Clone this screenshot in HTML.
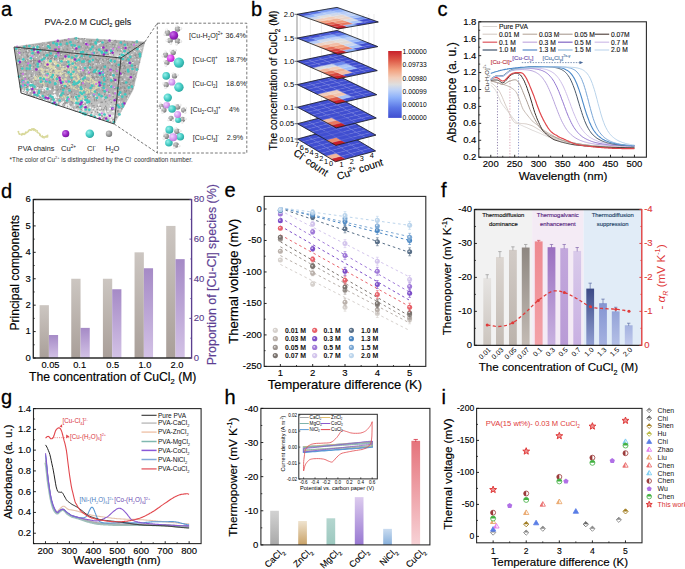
<!DOCTYPE html>
<html><head><meta charset="utf-8"><title>figure</title>
<style>
html,body{margin:0;padding:0;background:#fff;}
body{width:685px;height:569px;overflow:hidden;}
svg{display:block;font-family:"Liberation Sans", sans-serif;}
</style></head>
<body><svg width="685" height="569" viewBox="0 0 685 569">
<rect x="0" y="0" width="685" height="569" fill="#fff"/>
<text x="1.00" y="15.80" font-size="20" stroke="#000" stroke-width="0.28"><tspan>a</tspan></text>
<text x="251.00" y="15.60" font-size="20" stroke="#000" stroke-width="0.28"><tspan>b</tspan></text>
<text x="437.50" y="15.60" font-size="20" stroke="#000" stroke-width="0.28"><tspan>c</tspan></text>
<text x="1.00" y="197.90" font-size="20" stroke="#000" stroke-width="0.28"><tspan>d</tspan></text>
<text x="224.50" y="197.40" font-size="20" stroke="#000" stroke-width="0.28"><tspan>e</tspan></text>
<text x="441.00" y="197.40" font-size="20" stroke="#000" stroke-width="0.28"><tspan>f</tspan></text>
<text x="1.00" y="404.30" font-size="20" stroke="#000" stroke-width="0.28"><tspan>g</tspan></text>
<text x="224.50" y="404.30" font-size="20" stroke="#000" stroke-width="0.28"><tspan>h</tspan></text>
<text x="441.50" y="404.30" font-size="20" stroke="#000" stroke-width="0.28"><tspan>i</tspan></text>
<text x="44.40" y="24.60" font-size="8.95" fill="#222" stroke="#222" stroke-width="0.13"><tspan>PVA-2.0 M CuCl</tspan><tspan dy="2.51" font-size="5.55">2</tspan><tspan dy="-2.51"> gels</tspan></text>
<defs><linearGradient id="boxg" x1="0" y1="0" x2="0.25" y2="1"><stop offset="0" stop-color="#b0b0b0"/><stop offset="0.72" stop-color="#adadad"/><stop offset="1" stop-color="#d0d0d0"/></linearGradient><radialGradient id="sCy" cx="0.35" cy="0.35" r="0.7"><stop offset="0" stop-color="#9af0ea"/><stop offset="0.55" stop-color="#47cdc6"/><stop offset="1" stop-color="#2aa6a0"/></radialGradient><radialGradient id="sPu" cx="0.35" cy="0.35" r="0.7"><stop offset="0" stop-color="#c870e8"/><stop offset="0.6" stop-color="#9a22c4"/><stop offset="1" stop-color="#741a98"/></radialGradient><radialGradient id="sMa" cx="0.35" cy="0.35" r="0.7"><stop offset="0" stop-color="#f3a0ff"/><stop offset="0.6" stop-color="#dc40ec"/><stop offset="1" stop-color="#b028c0"/></radialGradient><radialGradient id="sLa" cx="0.35" cy="0.35" r="0.7"><stop offset="0" stop-color="#f4d8ff"/><stop offset="0.6" stop-color="#d69af0"/><stop offset="1" stop-color="#b878d4"/></radialGradient><radialGradient id="sGr" cx="0.35" cy="0.35" r="0.7"><stop offset="0" stop-color="#d0d0d0"/><stop offset="0.6" stop-color="#9a9a9a"/><stop offset="1" stop-color="#777"/></radialGradient><radialGradient id="sWh" cx="0.35" cy="0.35" r="0.7"><stop offset="0" stop-color="#ffffff"/><stop offset="1" stop-color="#d8d8d8"/></radialGradient></defs>
<path d="M14.00,47.00 L74.00,38.00 L144.80,42.00 L121.00,58.00 Z" fill="url(#boxg)"/>
<path d="M14.00,47.00 L121.00,58.00 L114.20,124.00 L21.00,93.00 Z" fill="url(#boxg)"/>
<path d="M121.00,58.00 L144.80,42.00 L133.00,90.00 L114.20,124.00 Z" fill="url(#boxg)"/>
<g fill="#f0f0f0"><circle cx="56.1" cy="50.3" r="0.7"/><circle cx="99.6" cy="43.4" r="0.7"/><circle cx="84.3" cy="69.2" r="0.7"/><circle cx="20.7" cy="81.7" r="0.7"/><circle cx="29.5" cy="56.6" r="0.7"/><circle cx="89.8" cy="71.9" r="0.7"/><circle cx="127.2" cy="62.5" r="0.7"/><circle cx="32.2" cy="47.4" r="0.7"/><circle cx="37.0" cy="88.2" r="0.7"/><circle cx="98.0" cy="69.8" r="0.7"/><circle cx="85.9" cy="42.5" r="0.7"/><circle cx="20.9" cy="55.1" r="0.7"/><circle cx="103.5" cy="74.6" r="0.7"/><circle cx="54.8" cy="88.5" r="0.7"/><circle cx="73.3" cy="63.4" r="0.7"/><circle cx="118.7" cy="98.5" r="0.7"/><circle cx="45.5" cy="87.5" r="0.7"/><circle cx="110.0" cy="62.3" r="0.7"/><circle cx="143.4" cy="47.4" r="0.7"/><circle cx="68.6" cy="103.6" r="0.7"/><circle cx="33.2" cy="80.0" r="0.7"/><circle cx="114.7" cy="87.4" r="0.7"/><circle cx="129.4" cy="64.6" r="0.7"/><circle cx="105.5" cy="89.3" r="0.7"/><circle cx="90.1" cy="77.1" r="0.7"/><circle cx="76.1" cy="95.4" r="0.7"/><circle cx="122.3" cy="62.0" r="0.7"/><circle cx="64.3" cy="95.8" r="0.7"/><circle cx="35.4" cy="47.3" r="0.7"/><circle cx="30.2" cy="58.8" r="0.7"/><circle cx="23.7" cy="76.5" r="0.7"/><circle cx="50.0" cy="73.5" r="0.7"/><circle cx="140.4" cy="50.3" r="0.7"/><circle cx="36.4" cy="57.4" r="0.7"/><circle cx="44.0" cy="79.7" r="0.7"/><circle cx="91.4" cy="60.1" r="0.7"/><circle cx="62.1" cy="86.8" r="0.7"/><circle cx="81.6" cy="91.3" r="0.7"/><circle cx="102.9" cy="41.8" r="0.7"/><circle cx="65.2" cy="72.1" r="0.7"/><circle cx="26.8" cy="92.8" r="0.7"/><circle cx="40.8" cy="51.3" r="0.7"/><circle cx="58.2" cy="41.6" r="0.7"/><circle cx="26.5" cy="69.0" r="0.7"/><circle cx="94.7" cy="50.1" r="0.7"/><circle cx="46.6" cy="67.6" r="0.7"/><circle cx="61.4" cy="47.8" r="0.7"/><circle cx="75.0" cy="79.6" r="0.7"/><circle cx="24.4" cy="46.0" r="0.7"/><circle cx="58.6" cy="60.3" r="0.7"/><circle cx="123.2" cy="51.2" r="0.7"/><circle cx="83.3" cy="49.9" r="0.7"/><circle cx="85.2" cy="39.4" r="0.7"/><circle cx="127.8" cy="98.3" r="0.7"/><circle cx="47.7" cy="69.3" r="0.7"/><circle cx="83.8" cy="105.6" r="0.7"/><circle cx="56.8" cy="56.6" r="0.7"/><circle cx="121.8" cy="102.1" r="0.7"/><circle cx="43.2" cy="82.6" r="0.7"/><circle cx="16.7" cy="61.6" r="0.7"/><circle cx="47.5" cy="97.9" r="0.7"/><circle cx="42.3" cy="57.0" r="0.7"/><circle cx="39.2" cy="55.0" r="0.7"/><circle cx="96.0" cy="116.2" r="0.7"/><circle cx="124.8" cy="79.2" r="0.7"/><circle cx="99.8" cy="107.4" r="0.7"/><circle cx="112.8" cy="79.1" r="0.7"/><circle cx="109.4" cy="52.0" r="0.7"/><circle cx="29.9" cy="50.3" r="0.7"/><circle cx="59.6" cy="85.3" r="0.7"/><circle cx="122.9" cy="55.6" r="0.7"/><circle cx="46.5" cy="62.8" r="0.7"/><circle cx="45.0" cy="88.6" r="0.7"/><circle cx="47.5" cy="73.9" r="0.7"/><circle cx="60.1" cy="77.3" r="0.7"/><circle cx="79.7" cy="83.8" r="0.7"/><circle cx="82.6" cy="38.6" r="0.7"/><circle cx="71.5" cy="53.1" r="0.7"/><circle cx="35.9" cy="78.7" r="0.7"/><circle cx="109.5" cy="86.0" r="0.7"/><circle cx="56.4" cy="82.6" r="0.7"/><circle cx="86.9" cy="106.0" r="0.7"/><circle cx="27.1" cy="86.3" r="0.7"/><circle cx="46.0" cy="61.4" r="0.7"/><circle cx="115.7" cy="81.7" r="0.7"/><circle cx="87.7" cy="103.9" r="0.7"/><circle cx="134.4" cy="76.0" r="0.7"/><circle cx="94.5" cy="81.5" r="0.7"/><circle cx="81.1" cy="98.0" r="0.7"/><circle cx="73.2" cy="83.9" r="0.7"/><circle cx="106.0" cy="114.1" r="0.7"/><circle cx="138.3" cy="59.8" r="0.7"/><circle cx="124.7" cy="49.1" r="0.7"/><circle cx="29.2" cy="75.9" r="0.7"/><circle cx="22.6" cy="58.2" r="0.7"/><circle cx="117.3" cy="115.9" r="0.7"/><circle cx="100.8" cy="49.6" r="0.7"/><circle cx="66.0" cy="79.9" r="0.7"/><circle cx="34.5" cy="75.0" r="0.7"/><circle cx="81.6" cy="66.8" r="0.7"/><circle cx="39.0" cy="65.0" r="0.7"/><circle cx="86.7" cy="75.8" r="0.7"/><circle cx="96.0" cy="82.1" r="0.7"/><circle cx="26.9" cy="60.4" r="0.7"/><circle cx="49.0" cy="48.4" r="0.7"/><circle cx="121.9" cy="59.8" r="0.7"/><circle cx="88.9" cy="98.6" r="0.7"/><circle cx="104.5" cy="74.4" r="0.7"/><circle cx="97.4" cy="107.5" r="0.7"/><circle cx="73.4" cy="66.8" r="0.7"/><circle cx="48.6" cy="48.4" r="0.7"/><circle cx="83.1" cy="58.0" r="0.7"/><circle cx="27.6" cy="51.2" r="0.7"/><circle cx="19.7" cy="54.8" r="0.7"/><circle cx="54.5" cy="63.8" r="0.7"/><circle cx="114.0" cy="62.5" r="0.7"/><circle cx="79.5" cy="52.7" r="0.7"/><circle cx="110.5" cy="85.5" r="0.7"/><circle cx="38.2" cy="78.8" r="0.7"/><circle cx="137.3" cy="46.4" r="0.7"/><circle cx="121.9" cy="75.0" r="0.7"/><circle cx="78.8" cy="110.4" r="0.7"/><circle cx="65.3" cy="81.6" r="0.7"/><circle cx="107.0" cy="93.0" r="0.7"/><circle cx="66.8" cy="67.6" r="0.7"/><circle cx="20.2" cy="48.4" r="0.7"/><circle cx="47.0" cy="51.4" r="0.7"/><circle cx="128.8" cy="96.0" r="0.7"/><circle cx="50.5" cy="58.3" r="0.7"/><circle cx="52.0" cy="77.4" r="0.7"/><circle cx="34.0" cy="76.2" r="0.7"/><circle cx="54.2" cy="68.4" r="0.7"/><circle cx="76.1" cy="81.2" r="0.7"/><circle cx="39.7" cy="81.4" r="0.7"/><circle cx="24.9" cy="72.2" r="0.7"/><circle cx="53.5" cy="57.5" r="0.7"/><circle cx="90.9" cy="83.6" r="0.7"/><circle cx="112.8" cy="94.9" r="0.7"/><circle cx="108.2" cy="114.4" r="0.7"/><circle cx="64.8" cy="65.7" r="0.7"/><circle cx="109.3" cy="93.6" r="0.7"/><circle cx="131.6" cy="92.2" r="0.7"/><circle cx="110.6" cy="108.5" r="0.7"/><circle cx="31.5" cy="83.1" r="0.7"/><circle cx="80.1" cy="110.5" r="0.7"/><circle cx="120.0" cy="109.7" r="0.7"/><circle cx="90.7" cy="115.6" r="0.7"/><circle cx="103.8" cy="98.0" r="0.7"/><circle cx="30.7" cy="68.7" r="0.7"/><circle cx="87.3" cy="92.2" r="0.7"/><circle cx="96.3" cy="96.9" r="0.7"/><circle cx="119.1" cy="102.8" r="0.7"/><circle cx="79.9" cy="84.1" r="0.7"/><circle cx="100.7" cy="42.8" r="0.7"/><circle cx="111.0" cy="59.2" r="0.7"/><circle cx="22.9" cy="60.4" r="0.7"/><circle cx="110.0" cy="55.1" r="0.7"/><circle cx="111.4" cy="122.9" r="0.7"/><circle cx="78.7" cy="70.7" r="0.7"/><circle cx="76.7" cy="97.2" r="0.7"/><circle cx="115.0" cy="91.3" r="0.7"/><circle cx="98.5" cy="43.8" r="0.7"/><circle cx="32.6" cy="59.3" r="0.7"/><circle cx="111.8" cy="63.8" r="0.7"/><circle cx="21.1" cy="60.7" r="0.7"/><circle cx="102.4" cy="97.9" r="0.7"/><circle cx="102.9" cy="62.6" r="0.7"/><circle cx="81.7" cy="77.9" r="0.7"/><circle cx="75.0" cy="47.4" r="0.7"/><circle cx="131.9" cy="54.5" r="0.7"/><circle cx="72.8" cy="60.6" r="0.7"/><circle cx="41.0" cy="88.2" r="0.7"/><circle cx="31.9" cy="83.1" r="0.7"/><circle cx="139.7" cy="48.7" r="0.7"/><circle cx="122.1" cy="81.8" r="0.7"/><circle cx="77.7" cy="39.2" r="0.7"/><circle cx="73.0" cy="63.6" r="0.7"/><circle cx="31.7" cy="67.3" r="0.7"/><circle cx="124.6" cy="47.6" r="0.7"/><circle cx="132.9" cy="62.5" r="0.7"/><circle cx="62.5" cy="71.6" r="0.7"/><circle cx="61.0" cy="74.7" r="0.7"/><circle cx="46.2" cy="60.4" r="0.7"/><circle cx="81.0" cy="53.7" r="0.7"/><circle cx="96.9" cy="117.4" r="0.7"/><circle cx="108.7" cy="41.4" r="0.7"/><circle cx="110.4" cy="76.7" r="0.7"/><circle cx="113.1" cy="93.7" r="0.7"/><circle cx="136.3" cy="48.2" r="0.7"/><circle cx="75.8" cy="67.2" r="0.7"/><circle cx="52.6" cy="102.0" r="0.7"/><circle cx="100.2" cy="63.5" r="0.7"/><circle cx="87.1" cy="71.7" r="0.7"/><circle cx="35.3" cy="51.2" r="0.7"/><circle cx="79.1" cy="56.4" r="0.7"/><circle cx="72.8" cy="49.3" r="0.7"/><circle cx="38.6" cy="45.0" r="0.7"/><circle cx="58.5" cy="45.0" r="0.7"/><circle cx="44.8" cy="59.7" r="0.7"/><circle cx="88.8" cy="115.1" r="0.7"/><circle cx="112.7" cy="73.3" r="0.7"/><circle cx="68.0" cy="83.1" r="0.7"/><circle cx="63.1" cy="66.8" r="0.7"/><circle cx="21.3" cy="61.4" r="0.7"/><circle cx="141.7" cy="48.1" r="0.7"/><circle cx="80.0" cy="92.4" r="0.7"/><circle cx="127.8" cy="56.0" r="0.7"/><circle cx="49.0" cy="58.9" r="0.7"/><circle cx="66.2" cy="76.2" r="0.7"/><circle cx="132.1" cy="78.6" r="0.7"/><circle cx="27.5" cy="50.6" r="0.7"/><circle cx="82.5" cy="97.0" r="0.7"/><circle cx="99.1" cy="104.3" r="0.7"/><circle cx="73.8" cy="85.5" r="0.7"/><circle cx="98.9" cy="63.7" r="0.7"/><circle cx="30.0" cy="59.2" r="0.7"/><circle cx="97.6" cy="98.5" r="0.7"/><circle cx="82.8" cy="88.3" r="0.7"/><circle cx="64.6" cy="56.7" r="0.7"/><circle cx="53.1" cy="77.5" r="0.7"/><circle cx="130.5" cy="78.8" r="0.7"/><circle cx="44.2" cy="58.7" r="0.7"/><circle cx="79.3" cy="96.4" r="0.7"/><circle cx="68.9" cy="59.6" r="0.7"/><circle cx="101.8" cy="118.4" r="0.7"/><circle cx="58.0" cy="74.0" r="0.7"/><circle cx="103.8" cy="54.4" r="0.7"/><circle cx="119.0" cy="102.0" r="0.7"/><circle cx="80.1" cy="55.1" r="0.7"/><circle cx="122.1" cy="57.3" r="0.7"/><circle cx="78.9" cy="53.5" r="0.7"/><circle cx="42.7" cy="73.7" r="0.7"/><circle cx="32.5" cy="71.6" r="0.7"/><circle cx="21.0" cy="71.6" r="0.7"/><circle cx="136.9" cy="66.0" r="0.7"/><circle cx="101.4" cy="70.3" r="0.7"/><circle cx="62.7" cy="66.2" r="0.7"/><circle cx="50.2" cy="67.9" r="0.7"/><circle cx="140.1" cy="47.9" r="0.7"/><circle cx="141.2" cy="55.3" r="0.7"/><circle cx="122.3" cy="75.1" r="0.7"/><circle cx="19.6" cy="78.7" r="0.7"/><circle cx="38.7" cy="69.1" r="0.7"/><circle cx="67.6" cy="108.4" r="0.7"/><circle cx="115.0" cy="40.6" r="0.7"/><circle cx="135.4" cy="59.6" r="0.7"/><circle cx="112.4" cy="116.1" r="0.7"/><circle cx="58.1" cy="61.0" r="0.7"/><circle cx="47.9" cy="100.1" r="0.7"/><circle cx="55.1" cy="61.3" r="0.7"/><circle cx="44.1" cy="78.8" r="0.7"/><circle cx="64.4" cy="59.1" r="0.7"/><circle cx="70.2" cy="80.4" r="0.7"/><circle cx="136.4" cy="53.1" r="0.7"/><circle cx="119.7" cy="102.0" r="0.7"/><circle cx="122.4" cy="105.0" r="0.7"/><circle cx="93.8" cy="65.8" r="0.7"/><circle cx="55.5" cy="68.8" r="0.7"/><circle cx="117.0" cy="44.0" r="0.7"/><circle cx="45.9" cy="42.7" r="0.7"/><circle cx="48.2" cy="44.4" r="0.7"/><circle cx="25.8" cy="80.9" r="0.7"/><circle cx="107.4" cy="76.3" r="0.7"/><circle cx="44.1" cy="73.7" r="0.7"/><circle cx="95.5" cy="96.3" r="0.7"/><circle cx="112.5" cy="111.5" r="0.7"/><circle cx="101.4" cy="47.7" r="0.7"/><circle cx="124.8" cy="62.9" r="0.7"/><circle cx="88.4" cy="69.8" r="0.7"/><circle cx="111.2" cy="54.5" r="0.7"/><circle cx="45.9" cy="58.6" r="0.7"/><circle cx="89.9" cy="65.7" r="0.7"/><circle cx="80.5" cy="57.4" r="0.7"/><circle cx="120.5" cy="94.5" r="0.7"/><circle cx="76.1" cy="109.1" r="0.7"/><circle cx="18.4" cy="62.8" r="0.7"/><circle cx="28.9" cy="53.7" r="0.7"/><circle cx="136.7" cy="69.8" r="0.7"/><circle cx="128.2" cy="76.5" r="0.7"/><circle cx="138.8" cy="46.3" r="0.7"/><circle cx="92.3" cy="91.6" r="0.7"/><circle cx="41.9" cy="69.4" r="0.7"/><circle cx="31.8" cy="54.9" r="0.7"/><circle cx="46.9" cy="89.7" r="0.7"/><circle cx="99.7" cy="54.9" r="0.7"/><circle cx="103.2" cy="53.3" r="0.7"/><circle cx="54.5" cy="54.9" r="0.7"/><circle cx="118.8" cy="85.2" r="0.7"/><circle cx="21.4" cy="45.9" r="0.7"/><circle cx="65.6" cy="85.4" r="0.7"/><circle cx="98.0" cy="45.0" r="0.7"/><circle cx="67.5" cy="61.9" r="0.7"/><circle cx="54.5" cy="86.9" r="0.7"/><circle cx="60.5" cy="73.6" r="0.7"/><circle cx="61.4" cy="54.4" r="0.7"/><circle cx="109.8" cy="54.9" r="0.7"/><circle cx="74.3" cy="51.3" r="0.7"/><circle cx="98.2" cy="117.1" r="0.7"/><circle cx="24.8" cy="91.8" r="0.7"/><circle cx="62.3" cy="81.4" r="0.7"/><circle cx="32.4" cy="61.9" r="0.7"/><circle cx="27.5" cy="80.2" r="0.7"/><circle cx="39.2" cy="48.1" r="0.7"/><circle cx="77.2" cy="41.7" r="0.7"/><circle cx="136.2" cy="71.1" r="0.7"/><circle cx="122.7" cy="51.1" r="0.7"/><circle cx="117.5" cy="56.5" r="0.7"/><circle cx="123.3" cy="53.1" r="0.7"/><circle cx="42.0" cy="72.2" r="0.7"/><circle cx="81.9" cy="70.8" r="0.7"/><circle cx="29.4" cy="58.7" r="0.7"/><circle cx="109.4" cy="116.0" r="0.7"/><circle cx="113.7" cy="40.4" r="0.7"/><circle cx="124.5" cy="47.4" r="0.7"/><circle cx="92.7" cy="85.4" r="0.7"/><circle cx="96.4" cy="63.9" r="0.7"/><circle cx="68.9" cy="88.3" r="0.7"/><circle cx="69.6" cy="95.0" r="0.7"/><circle cx="72.4" cy="75.6" r="0.7"/><circle cx="78.1" cy="57.7" r="0.7"/><circle cx="114.6" cy="105.6" r="0.7"/><circle cx="74.0" cy="52.8" r="0.7"/><circle cx="75.9" cy="46.4" r="0.7"/><circle cx="30.1" cy="74.9" r="0.7"/><circle cx="25.2" cy="75.9" r="0.7"/><circle cx="80.9" cy="40.6" r="0.7"/><circle cx="97.6" cy="44.2" r="0.7"/><circle cx="110.6" cy="105.4" r="0.7"/><circle cx="81.0" cy="41.8" r="0.7"/><circle cx="80.0" cy="70.3" r="0.7"/><circle cx="139.5" cy="49.0" r="0.7"/><circle cx="110.4" cy="108.7" r="0.7"/><circle cx="134.8" cy="51.5" r="0.7"/><circle cx="21.7" cy="67.9" r="0.7"/><circle cx="113.6" cy="51.0" r="0.7"/><circle cx="132.2" cy="61.2" r="0.7"/><circle cx="121.5" cy="49.6" r="0.7"/><circle cx="40.7" cy="60.1" r="0.7"/><circle cx="80.3" cy="65.1" r="0.7"/><circle cx="17.9" cy="53.0" r="0.7"/><circle cx="103.4" cy="115.8" r="0.7"/><circle cx="28.3" cy="83.7" r="0.7"/><circle cx="97.6" cy="68.7" r="0.7"/><circle cx="129.1" cy="85.9" r="0.7"/><circle cx="90.1" cy="114.7" r="0.7"/><circle cx="96.8" cy="71.7" r="0.7"/><circle cx="119.1" cy="60.3" r="0.7"/><circle cx="60.9" cy="104.3" r="0.7"/><circle cx="71.8" cy="52.6" r="0.7"/><circle cx="111.9" cy="41.2" r="0.7"/><circle cx="122.0" cy="59.3" r="0.7"/><circle cx="90.9" cy="95.4" r="0.7"/><circle cx="17.5" cy="50.1" r="0.7"/><circle cx="94.9" cy="75.0" r="0.7"/><circle cx="30.6" cy="57.0" r="0.7"/><circle cx="27.1" cy="68.4" r="0.7"/><circle cx="42.8" cy="88.4" r="0.7"/><circle cx="91.3" cy="55.0" r="0.7"/><circle cx="96.0" cy="78.8" r="0.7"/><circle cx="45.4" cy="50.1" r="0.7"/><circle cx="25.7" cy="93.2" r="0.7"/><circle cx="66.5" cy="60.3" r="0.7"/><circle cx="87.8" cy="67.8" r="0.7"/><circle cx="98.9" cy="76.1" r="0.7"/><circle cx="67.0" cy="57.9" r="0.7"/><circle cx="138.1" cy="49.5" r="0.7"/><circle cx="39.5" cy="90.5" r="0.7"/><circle cx="80.4" cy="93.5" r="0.7"/><circle cx="121.2" cy="52.4" r="0.7"/><circle cx="54.1" cy="63.4" r="0.7"/><circle cx="117.1" cy="100.0" r="0.7"/><circle cx="112.1" cy="77.9" r="0.7"/><circle cx="111.7" cy="76.8" r="0.7"/><circle cx="43.1" cy="46.3" r="0.7"/><circle cx="57.6" cy="103.0" r="0.7"/><circle cx="105.4" cy="111.4" r="0.7"/><circle cx="107.7" cy="60.4" r="0.7"/><circle cx="86.7" cy="75.4" r="0.7"/><circle cx="117.9" cy="83.0" r="0.7"/><circle cx="48.3" cy="93.5" r="0.7"/></g>
<g fill="#8e8e8e"><circle cx="47.6" cy="57.8" r="0.75"/><circle cx="111.9" cy="120.1" r="0.75"/><circle cx="112.2" cy="65.8" r="0.75"/><circle cx="130.1" cy="65.9" r="0.75"/><circle cx="96.9" cy="98.0" r="0.75"/><circle cx="75.4" cy="110.9" r="0.75"/><circle cx="105.8" cy="112.5" r="0.75"/><circle cx="71.1" cy="100.8" r="0.75"/><circle cx="88.9" cy="64.1" r="0.75"/><circle cx="41.2" cy="91.8" r="0.75"/><circle cx="58.9" cy="49.5" r="0.75"/><circle cx="105.1" cy="92.8" r="0.75"/><circle cx="105.7" cy="101.8" r="0.75"/><circle cx="21.7" cy="89.0" r="0.75"/><circle cx="27.2" cy="55.1" r="0.75"/><circle cx="97.3" cy="109.6" r="0.75"/><circle cx="97.0" cy="62.3" r="0.75"/><circle cx="26.3" cy="45.6" r="0.75"/><circle cx="113.7" cy="55.0" r="0.75"/><circle cx="55.4" cy="74.3" r="0.75"/><circle cx="50.6" cy="100.0" r="0.75"/><circle cx="61.9" cy="65.2" r="0.75"/><circle cx="126.2" cy="91.4" r="0.75"/><circle cx="71.0" cy="105.0" r="0.75"/><circle cx="59.1" cy="99.0" r="0.75"/><circle cx="84.5" cy="56.1" r="0.75"/><circle cx="127.7" cy="45.0" r="0.75"/><circle cx="122.0" cy="52.0" r="0.75"/><circle cx="114.4" cy="123.1" r="0.75"/><circle cx="78.4" cy="107.1" r="0.75"/><circle cx="37.5" cy="80.5" r="0.75"/><circle cx="50.7" cy="55.9" r="0.75"/><circle cx="106.0" cy="80.9" r="0.75"/><circle cx="27.6" cy="93.0" r="0.75"/><circle cx="105.7" cy="106.3" r="0.75"/><circle cx="96.5" cy="68.3" r="0.75"/><circle cx="66.4" cy="71.7" r="0.75"/><circle cx="131.4" cy="44.6" r="0.75"/><circle cx="40.4" cy="60.2" r="0.75"/><circle cx="132.9" cy="81.1" r="0.75"/><circle cx="44.1" cy="77.6" r="0.75"/><circle cx="83.7" cy="103.4" r="0.75"/><circle cx="113.1" cy="93.9" r="0.75"/><circle cx="59.3" cy="65.7" r="0.75"/><circle cx="101.1" cy="102.3" r="0.75"/><circle cx="35.6" cy="75.6" r="0.75"/><circle cx="115.9" cy="88.0" r="0.75"/><circle cx="29.8" cy="77.7" r="0.75"/><circle cx="130.7" cy="57.9" r="0.75"/><circle cx="38.5" cy="63.5" r="0.75"/><circle cx="106.5" cy="111.2" r="0.75"/><circle cx="33.6" cy="50.7" r="0.75"/><circle cx="45.9" cy="65.7" r="0.75"/><circle cx="82.4" cy="51.2" r="0.75"/><circle cx="56.6" cy="53.7" r="0.75"/><circle cx="26.5" cy="70.8" r="0.75"/><circle cx="110.5" cy="75.3" r="0.75"/><circle cx="39.1" cy="93.1" r="0.75"/><circle cx="27.2" cy="55.2" r="0.75"/><circle cx="64.6" cy="40.0" r="0.75"/><circle cx="66.1" cy="106.6" r="0.75"/><circle cx="105.2" cy="81.0" r="0.75"/><circle cx="97.1" cy="77.8" r="0.75"/><circle cx="31.9" cy="90.1" r="0.75"/><circle cx="66.8" cy="102.2" r="0.75"/><circle cx="133.8" cy="74.8" r="0.75"/><circle cx="89.3" cy="102.9" r="0.75"/><circle cx="69.0" cy="57.1" r="0.75"/><circle cx="109.1" cy="114.4" r="0.75"/><circle cx="115.9" cy="98.6" r="0.75"/><circle cx="126.4" cy="96.8" r="0.75"/><circle cx="98.3" cy="76.9" r="0.75"/><circle cx="54.6" cy="92.3" r="0.75"/><circle cx="26.0" cy="73.9" r="0.75"/><circle cx="117.1" cy="99.8" r="0.75"/><circle cx="96.7" cy="59.0" r="0.75"/><circle cx="69.3" cy="77.1" r="0.75"/><circle cx="95.7" cy="73.0" r="0.75"/><circle cx="102.8" cy="118.9" r="0.75"/><circle cx="37.3" cy="94.6" r="0.75"/><circle cx="116.5" cy="71.2" r="0.75"/><circle cx="26.4" cy="87.6" r="0.75"/><circle cx="85.0" cy="100.1" r="0.75"/><circle cx="81.1" cy="93.3" r="0.75"/><circle cx="123.3" cy="82.9" r="0.75"/><circle cx="40.9" cy="97.2" r="0.75"/><circle cx="65.2" cy="104.1" r="0.75"/><circle cx="60.3" cy="42.0" r="0.75"/><circle cx="49.5" cy="72.2" r="0.75"/><circle cx="68.9" cy="98.4" r="0.75"/><circle cx="59.8" cy="60.3" r="0.75"/><circle cx="65.1" cy="55.7" r="0.75"/><circle cx="120.7" cy="92.8" r="0.75"/><circle cx="75.4" cy="86.5" r="0.75"/><circle cx="60.0" cy="93.2" r="0.75"/><circle cx="121.9" cy="108.8" r="0.75"/><circle cx="75.3" cy="62.9" r="0.75"/><circle cx="85.9" cy="48.0" r="0.75"/><circle cx="123.9" cy="68.2" r="0.75"/><circle cx="126.1" cy="60.5" r="0.75"/><circle cx="63.0" cy="59.3" r="0.75"/><circle cx="69.7" cy="53.4" r="0.75"/><circle cx="50.4" cy="58.6" r="0.75"/><circle cx="53.1" cy="79.2" r="0.75"/><circle cx="70.0" cy="93.1" r="0.75"/><circle cx="100.7" cy="68.9" r="0.75"/><circle cx="100.2" cy="59.0" r="0.75"/><circle cx="26.5" cy="49.6" r="0.75"/><circle cx="59.1" cy="50.4" r="0.75"/><circle cx="93.9" cy="105.8" r="0.75"/><circle cx="101.9" cy="115.7" r="0.75"/><circle cx="117.8" cy="110.8" r="0.75"/><circle cx="39.3" cy="98.0" r="0.75"/><circle cx="83.6" cy="102.3" r="0.75"/><circle cx="86.8" cy="60.3" r="0.75"/><circle cx="44.1" cy="49.3" r="0.75"/><circle cx="78.6" cy="42.1" r="0.75"/><circle cx="75.1" cy="49.7" r="0.75"/><circle cx="78.4" cy="80.8" r="0.75"/><circle cx="84.8" cy="112.9" r="0.75"/><circle cx="75.2" cy="86.5" r="0.75"/><circle cx="101.5" cy="111.0" r="0.75"/><circle cx="62.9" cy="73.9" r="0.75"/><circle cx="140.8" cy="43.6" r="0.75"/><circle cx="97.7" cy="93.0" r="0.75"/><circle cx="103.8" cy="119.0" r="0.75"/><circle cx="80.9" cy="79.7" r="0.75"/><circle cx="108.5" cy="92.0" r="0.75"/><circle cx="61.7" cy="78.8" r="0.75"/><circle cx="82.9" cy="104.8" r="0.75"/><circle cx="41.0" cy="75.3" r="0.75"/><circle cx="69.2" cy="85.8" r="0.75"/><circle cx="123.0" cy="62.8" r="0.75"/><circle cx="123.1" cy="72.5" r="0.75"/><circle cx="80.0" cy="60.9" r="0.75"/><circle cx="100.1" cy="106.7" r="0.75"/><circle cx="57.0" cy="64.9" r="0.75"/><circle cx="52.8" cy="88.6" r="0.75"/><circle cx="97.4" cy="106.0" r="0.75"/><circle cx="130.8" cy="85.0" r="0.75"/><circle cx="19.6" cy="63.4" r="0.75"/><circle cx="100.5" cy="106.4" r="0.75"/><circle cx="95.0" cy="92.2" r="0.75"/><circle cx="105.6" cy="89.5" r="0.75"/><circle cx="103.6" cy="55.7" r="0.75"/><circle cx="101.7" cy="77.3" r="0.75"/><circle cx="114.4" cy="45.9" r="0.75"/><circle cx="116.0" cy="117.4" r="0.75"/><circle cx="100.2" cy="69.5" r="0.75"/><circle cx="122.4" cy="106.2" r="0.75"/><circle cx="87.8" cy="59.7" r="0.75"/><circle cx="53.2" cy="74.1" r="0.75"/><circle cx="55.4" cy="74.9" r="0.75"/><circle cx="20.3" cy="86.9" r="0.75"/><circle cx="18.2" cy="47.5" r="0.75"/><circle cx="120.8" cy="87.6" r="0.75"/><circle cx="135.2" cy="76.3" r="0.75"/><circle cx="67.9" cy="46.0" r="0.75"/><circle cx="98.7" cy="55.7" r="0.75"/><circle cx="108.7" cy="58.3" r="0.75"/><circle cx="110.6" cy="53.5" r="0.75"/><circle cx="107.9" cy="112.3" r="0.75"/><circle cx="110.1" cy="44.4" r="0.75"/><circle cx="96.6" cy="99.4" r="0.75"/><circle cx="121.7" cy="44.0" r="0.75"/><circle cx="54.4" cy="101.2" r="0.75"/><circle cx="77.7" cy="42.3" r="0.75"/><circle cx="61.9" cy="87.6" r="0.75"/><circle cx="71.4" cy="96.6" r="0.75"/><circle cx="61.3" cy="93.8" r="0.75"/><circle cx="96.8" cy="73.8" r="0.75"/><circle cx="64.3" cy="106.2" r="0.75"/><circle cx="88.4" cy="62.7" r="0.75"/><circle cx="106.5" cy="109.8" r="0.75"/><circle cx="57.2" cy="90.3" r="0.75"/><circle cx="93.0" cy="64.2" r="0.75"/><circle cx="63.1" cy="97.3" r="0.75"/><circle cx="93.0" cy="115.9" r="0.75"/><circle cx="120.4" cy="61.9" r="0.75"/><circle cx="69.2" cy="88.6" r="0.75"/><circle cx="89.1" cy="61.1" r="0.75"/><circle cx="104.1" cy="117.4" r="0.75"/><circle cx="59.1" cy="44.5" r="0.75"/><circle cx="86.6" cy="107.2" r="0.75"/><circle cx="136.9" cy="57.6" r="0.75"/><circle cx="93.7" cy="96.6" r="0.75"/><circle cx="74.9" cy="55.2" r="0.75"/><circle cx="118.3" cy="77.5" r="0.75"/><circle cx="115.7" cy="57.5" r="0.75"/><circle cx="90.1" cy="115.9" r="0.75"/><circle cx="130.7" cy="82.9" r="0.75"/><circle cx="76.4" cy="88.9" r="0.75"/><circle cx="38.2" cy="53.9" r="0.75"/><circle cx="61.3" cy="86.7" r="0.75"/><circle cx="66.5" cy="82.5" r="0.75"/><circle cx="27.1" cy="92.7" r="0.75"/><circle cx="117.7" cy="50.7" r="0.75"/><circle cx="92.4" cy="67.4" r="0.75"/><circle cx="82.1" cy="38.8" r="0.75"/><circle cx="128.2" cy="79.8" r="0.75"/><circle cx="88.4" cy="60.0" r="0.75"/><circle cx="116.6" cy="74.5" r="0.75"/><circle cx="39.7" cy="52.9" r="0.75"/><circle cx="87.1" cy="113.6" r="0.75"/><circle cx="134.0" cy="42.6" r="0.75"/><circle cx="92.5" cy="72.0" r="0.75"/><circle cx="47.2" cy="86.7" r="0.75"/><circle cx="102.1" cy="71.6" r="0.75"/><circle cx="72.6" cy="51.1" r="0.75"/><circle cx="47.0" cy="68.0" r="0.75"/><circle cx="124.3" cy="41.1" r="0.75"/><circle cx="117.6" cy="99.4" r="0.75"/><circle cx="20.4" cy="49.7" r="0.75"/><circle cx="113.4" cy="119.7" r="0.75"/><circle cx="103.0" cy="63.3" r="0.75"/><circle cx="91.7" cy="103.7" r="0.75"/><circle cx="27.0" cy="65.5" r="0.75"/><circle cx="47.2" cy="47.9" r="0.75"/><circle cx="77.0" cy="51.8" r="0.75"/><circle cx="44.7" cy="49.6" r="0.75"/><circle cx="108.4" cy="54.2" r="0.75"/><circle cx="31.6" cy="76.4" r="0.75"/><circle cx="125.0" cy="92.3" r="0.75"/><circle cx="73.2" cy="66.9" r="0.75"/><circle cx="122.5" cy="79.0" r="0.75"/><circle cx="96.5" cy="49.6" r="0.75"/><circle cx="107.9" cy="85.7" r="0.75"/><circle cx="48.4" cy="73.2" r="0.75"/><circle cx="33.7" cy="60.9" r="0.75"/><circle cx="124.7" cy="66.4" r="0.75"/><circle cx="35.3" cy="80.2" r="0.75"/><circle cx="101.9" cy="55.6" r="0.75"/><circle cx="76.5" cy="62.2" r="0.75"/><circle cx="47.3" cy="54.7" r="0.75"/><circle cx="26.0" cy="62.5" r="0.75"/><circle cx="132.2" cy="42.1" r="0.75"/><circle cx="109.6" cy="62.8" r="0.75"/><circle cx="120.3" cy="67.0" r="0.75"/><circle cx="123.7" cy="83.3" r="0.75"/><circle cx="37.7" cy="75.3" r="0.75"/><circle cx="134.3" cy="56.2" r="0.75"/><circle cx="89.0" cy="49.2" r="0.75"/><circle cx="107.6" cy="54.3" r="0.75"/><circle cx="93.9" cy="80.6" r="0.75"/><circle cx="49.4" cy="55.1" r="0.75"/><circle cx="94.5" cy="99.3" r="0.75"/><circle cx="120.9" cy="88.3" r="0.75"/><circle cx="110.5" cy="72.9" r="0.75"/><circle cx="109.0" cy="41.9" r="0.75"/><circle cx="120.8" cy="66.5" r="0.75"/><circle cx="78.6" cy="38.4" r="0.75"/><circle cx="134.1" cy="78.9" r="0.75"/><circle cx="129.0" cy="60.4" r="0.75"/><circle cx="61.8" cy="51.4" r="0.75"/><circle cx="62.4" cy="89.4" r="0.75"/><circle cx="72.3" cy="82.4" r="0.75"/><circle cx="55.7" cy="99.6" r="0.75"/><circle cx="63.7" cy="103.1" r="0.75"/><circle cx="81.3" cy="83.7" r="0.75"/><circle cx="84.5" cy="38.8" r="0.75"/><circle cx="37.3" cy="46.0" r="0.75"/><circle cx="106.0" cy="54.2" r="0.75"/><circle cx="89.7" cy="83.0" r="0.75"/><circle cx="106.5" cy="46.1" r="0.75"/><circle cx="19.0" cy="47.8" r="0.75"/><circle cx="78.6" cy="81.1" r="0.75"/><circle cx="50.2" cy="47.7" r="0.75"/><circle cx="67.0" cy="49.1" r="0.75"/><circle cx="91.7" cy="112.8" r="0.75"/><circle cx="32.6" cy="87.4" r="0.75"/><circle cx="112.3" cy="51.5" r="0.75"/><circle cx="64.7" cy="74.0" r="0.75"/><circle cx="124.7" cy="83.3" r="0.75"/><circle cx="116.3" cy="66.8" r="0.75"/><circle cx="45.0" cy="66.5" r="0.75"/><circle cx="20.1" cy="82.5" r="0.75"/><circle cx="46.2" cy="74.1" r="0.75"/><circle cx="97.1" cy="69.1" r="0.75"/><circle cx="83.6" cy="43.1" r="0.75"/><circle cx="70.6" cy="81.4" r="0.75"/><circle cx="15.8" cy="49.3" r="0.75"/><circle cx="98.3" cy="60.4" r="0.75"/><circle cx="103.2" cy="61.1" r="0.75"/><circle cx="95.6" cy="59.1" r="0.75"/><circle cx="82.2" cy="75.2" r="0.75"/><circle cx="139.5" cy="62.3" r="0.75"/><circle cx="53.6" cy="94.0" r="0.75"/><circle cx="29.0" cy="89.3" r="0.75"/><circle cx="48.7" cy="78.0" r="0.75"/><circle cx="84.0" cy="50.1" r="0.75"/><circle cx="29.5" cy="48.6" r="0.75"/><circle cx="52.0" cy="72.8" r="0.75"/><circle cx="51.3" cy="58.4" r="0.75"/><circle cx="24.7" cy="85.1" r="0.75"/><circle cx="124.7" cy="90.7" r="0.75"/><circle cx="88.8" cy="94.2" r="0.75"/><circle cx="74.3" cy="85.2" r="0.75"/><circle cx="94.5" cy="78.3" r="0.75"/><circle cx="54.3" cy="58.3" r="0.75"/><circle cx="42.5" cy="82.1" r="0.75"/><circle cx="64.0" cy="88.5" r="0.75"/><circle cx="127.6" cy="58.0" r="0.75"/><circle cx="87.0" cy="80.2" r="0.75"/><circle cx="128.9" cy="75.7" r="0.75"/><circle cx="21.2" cy="71.1" r="0.75"/><circle cx="71.5" cy="101.7" r="0.75"/><circle cx="27.5" cy="56.8" r="0.75"/><circle cx="33.6" cy="66.7" r="0.75"/><circle cx="59.9" cy="96.4" r="0.75"/><circle cx="95.0" cy="111.8" r="0.75"/><circle cx="122.2" cy="82.6" r="0.75"/><circle cx="111.3" cy="102.4" r="0.75"/><circle cx="114.0" cy="78.8" r="0.75"/><circle cx="117.4" cy="99.4" r="0.75"/><circle cx="134.7" cy="48.2" r="0.75"/><circle cx="114.8" cy="88.6" r="0.75"/><circle cx="89.1" cy="73.8" r="0.75"/><circle cx="117.2" cy="113.8" r="0.75"/><circle cx="93.8" cy="70.4" r="0.75"/><circle cx="73.2" cy="77.3" r="0.75"/><circle cx="109.2" cy="62.8" r="0.75"/><circle cx="65.0" cy="85.9" r="0.75"/><circle cx="64.1" cy="65.3" r="0.75"/><circle cx="117.7" cy="111.8" r="0.75"/><circle cx="79.4" cy="76.1" r="0.75"/><circle cx="37.5" cy="63.8" r="0.75"/><circle cx="32.3" cy="87.6" r="0.75"/><circle cx="90.4" cy="44.7" r="0.75"/><circle cx="135.4" cy="65.5" r="0.75"/><circle cx="140.5" cy="55.0" r="0.75"/><circle cx="88.1" cy="80.8" r="0.75"/><circle cx="81.8" cy="82.5" r="0.75"/><circle cx="104.1" cy="71.3" r="0.75"/><circle cx="60.6" cy="89.3" r="0.75"/><circle cx="103.0" cy="83.2" r="0.75"/><circle cx="26.2" cy="69.9" r="0.75"/><circle cx="66.3" cy="86.4" r="0.75"/><circle cx="89.3" cy="114.4" r="0.75"/><circle cx="71.5" cy="92.0" r="0.75"/><circle cx="83.5" cy="108.8" r="0.75"/><circle cx="35.7" cy="65.0" r="0.75"/><circle cx="81.2" cy="46.7" r="0.75"/><circle cx="131.1" cy="74.0" r="0.75"/><circle cx="33.8" cy="62.5" r="0.75"/><circle cx="81.0" cy="81.4" r="0.75"/><circle cx="38.0" cy="53.1" r="0.75"/><circle cx="96.8" cy="90.1" r="0.75"/><circle cx="97.7" cy="40.7" r="0.75"/><circle cx="67.7" cy="106.3" r="0.75"/><circle cx="53.8" cy="97.8" r="0.75"/><circle cx="125.0" cy="88.6" r="0.75"/><circle cx="101.9" cy="54.3" r="0.75"/><circle cx="79.2" cy="85.7" r="0.75"/><circle cx="48.4" cy="93.9" r="0.75"/><circle cx="89.4" cy="73.2" r="0.75"/><circle cx="29.2" cy="50.8" r="0.75"/><circle cx="114.0" cy="46.4" r="0.75"/><circle cx="26.3" cy="52.0" r="0.75"/><circle cx="82.5" cy="109.4" r="0.75"/><circle cx="94.5" cy="108.0" r="0.75"/><circle cx="115.5" cy="65.4" r="0.75"/><circle cx="108.2" cy="68.1" r="0.75"/><circle cx="35.5" cy="60.5" r="0.75"/><circle cx="90.4" cy="67.7" r="0.75"/><circle cx="72.8" cy="70.9" r="0.75"/><circle cx="71.5" cy="91.6" r="0.75"/><circle cx="121.5" cy="63.7" r="0.75"/><circle cx="45.3" cy="71.3" r="0.75"/><circle cx="108.6" cy="56.5" r="0.75"/><circle cx="77.4" cy="106.8" r="0.75"/><circle cx="45.4" cy="52.3" r="0.75"/><circle cx="60.7" cy="53.4" r="0.75"/><circle cx="87.7" cy="47.1" r="0.75"/><circle cx="84.0" cy="70.9" r="0.75"/><circle cx="66.6" cy="42.8" r="0.75"/><circle cx="59.7" cy="58.6" r="0.75"/><circle cx="38.4" cy="62.0" r="0.75"/><circle cx="101.3" cy="67.0" r="0.75"/><circle cx="25.3" cy="60.7" r="0.75"/><circle cx="124.1" cy="48.2" r="0.75"/><circle cx="120.1" cy="51.0" r="0.75"/><circle cx="59.9" cy="100.6" r="0.75"/><circle cx="80.1" cy="57.0" r="0.75"/><circle cx="73.2" cy="48.5" r="0.75"/><circle cx="107.0" cy="59.9" r="0.75"/><circle cx="132.6" cy="88.7" r="0.75"/><circle cx="61.9" cy="58.7" r="0.75"/><circle cx="93.9" cy="55.7" r="0.75"/><circle cx="129.0" cy="47.8" r="0.75"/><circle cx="81.2" cy="84.7" r="0.75"/><circle cx="64.2" cy="94.9" r="0.75"/><circle cx="88.5" cy="64.3" r="0.75"/><circle cx="64.9" cy="44.6" r="0.75"/><circle cx="55.7" cy="95.3" r="0.75"/><circle cx="27.5" cy="86.5" r="0.75"/><circle cx="61.1" cy="81.0" r="0.75"/><circle cx="52.5" cy="42.8" r="0.75"/><circle cx="54.4" cy="56.9" r="0.75"/><circle cx="50.6" cy="72.5" r="0.75"/><circle cx="30.6" cy="61.3" r="0.75"/><circle cx="101.3" cy="67.9" r="0.75"/><circle cx="67.9" cy="95.0" r="0.75"/><circle cx="106.0" cy="58.9" r="0.75"/><circle cx="125.6" cy="68.0" r="0.75"/><circle cx="96.6" cy="53.0" r="0.75"/><circle cx="110.6" cy="99.7" r="0.75"/><circle cx="34.5" cy="54.4" r="0.75"/><circle cx="53.3" cy="70.5" r="0.75"/><circle cx="18.2" cy="64.4" r="0.75"/><circle cx="97.9" cy="52.8" r="0.75"/><circle cx="124.6" cy="87.2" r="0.75"/><circle cx="108.3" cy="59.4" r="0.75"/><circle cx="70.8" cy="97.2" r="0.75"/><circle cx="124.0" cy="105.3" r="0.75"/><circle cx="126.6" cy="90.5" r="0.75"/><circle cx="19.3" cy="58.5" r="0.75"/><circle cx="112.7" cy="44.6" r="0.75"/><circle cx="105.4" cy="71.6" r="0.75"/><circle cx="112.4" cy="109.9" r="0.75"/><circle cx="50.4" cy="44.9" r="0.75"/><circle cx="111.2" cy="110.0" r="0.75"/><circle cx="96.5" cy="76.8" r="0.75"/><circle cx="70.0" cy="82.0" r="0.75"/><circle cx="136.4" cy="48.2" r="0.75"/><circle cx="114.3" cy="40.8" r="0.75"/><circle cx="106.5" cy="107.9" r="0.75"/><circle cx="47.7" cy="85.1" r="0.75"/><circle cx="85.3" cy="59.0" r="0.75"/><circle cx="20.9" cy="68.5" r="0.75"/><circle cx="67.7" cy="54.7" r="0.75"/><circle cx="54.3" cy="49.0" r="0.75"/><circle cx="107.0" cy="96.0" r="0.75"/><circle cx="44.6" cy="58.3" r="0.75"/><circle cx="81.5" cy="76.2" r="0.75"/><circle cx="137.5" cy="67.9" r="0.75"/><circle cx="31.9" cy="86.6" r="0.75"/><circle cx="85.9" cy="103.9" r="0.75"/><circle cx="35.5" cy="95.7" r="0.75"/><circle cx="92.6" cy="77.6" r="0.75"/><circle cx="114.9" cy="110.1" r="0.75"/><circle cx="28.2" cy="62.5" r="0.75"/><circle cx="60.9" cy="55.2" r="0.75"/><circle cx="21.0" cy="61.7" r="0.75"/><circle cx="39.2" cy="98.7" r="0.75"/><circle cx="72.6" cy="46.9" r="0.75"/><circle cx="56.2" cy="78.2" r="0.75"/><circle cx="61.3" cy="51.8" r="0.75"/><circle cx="27.5" cy="80.0" r="0.75"/><circle cx="70.8" cy="53.7" r="0.75"/><circle cx="99.8" cy="59.1" r="0.75"/><circle cx="45.7" cy="49.2" r="0.75"/><circle cx="124.7" cy="63.1" r="0.75"/><circle cx="37.7" cy="93.2" r="0.75"/><circle cx="123.4" cy="102.3" r="0.75"/><circle cx="56.4" cy="53.2" r="0.75"/><circle cx="122.8" cy="65.2" r="0.75"/><circle cx="62.0" cy="85.5" r="0.75"/><circle cx="88.4" cy="92.3" r="0.75"/><circle cx="122.0" cy="99.1" r="0.75"/><circle cx="78.8" cy="81.0" r="0.75"/><circle cx="33.9" cy="63.4" r="0.75"/><circle cx="90.3" cy="44.1" r="0.75"/><circle cx="104.5" cy="51.4" r="0.75"/><circle cx="71.5" cy="53.8" r="0.75"/><circle cx="117.7" cy="74.4" r="0.75"/><circle cx="50.7" cy="95.2" r="0.75"/><circle cx="81.4" cy="74.1" r="0.75"/><circle cx="58.0" cy="75.6" r="0.75"/><circle cx="101.6" cy="109.7" r="0.75"/><circle cx="133.2" cy="51.5" r="0.75"/><circle cx="52.3" cy="76.0" r="0.75"/><circle cx="87.9" cy="67.6" r="0.75"/><circle cx="39.0" cy="44.5" r="0.75"/><circle cx="56.1" cy="77.5" r="0.75"/><circle cx="120.9" cy="42.3" r="0.75"/><circle cx="103.0" cy="90.6" r="0.75"/><circle cx="52.5" cy="87.3" r="0.75"/><circle cx="99.1" cy="63.3" r="0.75"/><circle cx="16.7" cy="53.6" r="0.75"/><circle cx="103.3" cy="76.4" r="0.75"/><circle cx="62.5" cy="88.1" r="0.75"/><circle cx="68.4" cy="83.6" r="0.75"/><circle cx="88.1" cy="71.9" r="0.75"/><circle cx="28.2" cy="52.9" r="0.75"/><circle cx="131.4" cy="85.2" r="0.75"/><circle cx="46.7" cy="45.4" r="0.75"/><circle cx="83.6" cy="59.1" r="0.75"/><circle cx="78.1" cy="85.8" r="0.75"/><circle cx="43.1" cy="87.4" r="0.75"/><circle cx="28.0" cy="82.2" r="0.75"/><circle cx="91.3" cy="44.1" r="0.75"/><circle cx="67.3" cy="43.5" r="0.75"/><circle cx="86.2" cy="99.9" r="0.75"/><circle cx="113.7" cy="47.1" r="0.75"/><circle cx="65.1" cy="52.1" r="0.75"/><circle cx="116.1" cy="49.0" r="0.75"/><circle cx="116.2" cy="42.1" r="0.75"/><circle cx="44.5" cy="69.8" r="0.75"/><circle cx="41.3" cy="63.4" r="0.75"/><circle cx="107.1" cy="74.5" r="0.75"/><circle cx="131.2" cy="91.7" r="0.75"/><circle cx="129.0" cy="86.5" r="0.75"/><circle cx="58.4" cy="104.2" r="0.75"/><circle cx="103.5" cy="109.7" r="0.75"/><circle cx="29.3" cy="69.8" r="0.75"/><circle cx="111.1" cy="120.4" r="0.75"/><circle cx="109.0" cy="40.8" r="0.75"/><circle cx="93.3" cy="45.8" r="0.75"/><circle cx="86.0" cy="107.7" r="0.75"/><circle cx="102.8" cy="59.4" r="0.75"/><circle cx="38.7" cy="76.3" r="0.75"/><circle cx="124.5" cy="88.2" r="0.75"/><circle cx="37.6" cy="85.8" r="0.75"/><circle cx="51.6" cy="97.5" r="0.75"/><circle cx="63.6" cy="49.7" r="0.75"/><circle cx="129.4" cy="84.4" r="0.75"/><circle cx="104.7" cy="108.1" r="0.75"/><circle cx="58.5" cy="50.3" r="0.75"/><circle cx="103.4" cy="71.5" r="0.75"/><circle cx="76.3" cy="50.9" r="0.75"/><circle cx="125.4" cy="71.6" r="0.75"/><circle cx="129.1" cy="90.8" r="0.75"/><circle cx="23.1" cy="66.0" r="0.75"/><circle cx="91.4" cy="40.8" r="0.75"/><circle cx="35.6" cy="68.8" r="0.75"/><circle cx="75.2" cy="87.8" r="0.75"/><circle cx="64.6" cy="68.1" r="0.75"/><circle cx="19.0" cy="49.8" r="0.75"/><circle cx="102.2" cy="61.0" r="0.75"/><circle cx="49.4" cy="81.0" r="0.75"/><circle cx="47.9" cy="87.1" r="0.75"/><circle cx="87.6" cy="104.8" r="0.75"/><circle cx="97.2" cy="92.8" r="0.75"/><circle cx="61.3" cy="61.8" r="0.75"/><circle cx="118.8" cy="113.8" r="0.75"/><circle cx="111.4" cy="81.8" r="0.75"/><circle cx="97.5" cy="67.8" r="0.75"/><circle cx="86.2" cy="72.7" r="0.75"/><circle cx="21.0" cy="66.7" r="0.75"/><circle cx="77.0" cy="69.3" r="0.75"/><circle cx="45.4" cy="57.7" r="0.75"/><circle cx="59.4" cy="48.9" r="0.75"/><circle cx="73.3" cy="76.2" r="0.75"/><circle cx="88.6" cy="63.6" r="0.75"/><circle cx="53.1" cy="64.1" r="0.75"/><circle cx="109.6" cy="85.5" r="0.75"/><circle cx="137.7" cy="67.0" r="0.75"/><circle cx="23.6" cy="52.7" r="0.75"/><circle cx="60.5" cy="105.2" r="0.75"/><circle cx="22.0" cy="79.6" r="0.75"/><circle cx="132.6" cy="61.3" r="0.75"/><circle cx="34.9" cy="60.6" r="0.75"/><circle cx="106.7" cy="56.2" r="0.75"/><circle cx="66.1" cy="54.6" r="0.75"/><circle cx="93.2" cy="113.0" r="0.75"/><circle cx="99.2" cy="54.3" r="0.75"/><circle cx="110.6" cy="121.8" r="0.75"/><circle cx="92.9" cy="44.0" r="0.75"/><circle cx="58.4" cy="49.0" r="0.75"/><circle cx="38.0" cy="84.3" r="0.75"/><circle cx="129.4" cy="93.3" r="0.75"/><circle cx="135.7" cy="55.7" r="0.75"/><circle cx="56.5" cy="102.9" r="0.75"/><circle cx="99.3" cy="72.7" r="0.75"/><circle cx="103.3" cy="66.7" r="0.75"/><circle cx="20.6" cy="73.5" r="0.75"/><circle cx="57.5" cy="80.5" r="0.75"/><circle cx="92.5" cy="59.6" r="0.75"/><circle cx="74.6" cy="38.2" r="0.75"/><circle cx="94.7" cy="100.7" r="0.75"/><circle cx="56.8" cy="45.2" r="0.75"/><circle cx="33.8" cy="49.6" r="0.75"/><circle cx="115.0" cy="44.9" r="0.75"/><circle cx="121.3" cy="74.2" r="0.75"/><circle cx="84.6" cy="88.8" r="0.75"/><circle cx="86.8" cy="94.8" r="0.75"/><circle cx="93.0" cy="66.1" r="0.75"/><circle cx="111.6" cy="59.7" r="0.75"/><circle cx="107.6" cy="104.2" r="0.75"/><circle cx="116.2" cy="64.2" r="0.75"/><circle cx="73.3" cy="61.5" r="0.75"/><circle cx="76.3" cy="94.7" r="0.75"/><circle cx="116.0" cy="68.9" r="0.75"/><circle cx="113.6" cy="44.9" r="0.75"/><circle cx="16.7" cy="48.8" r="0.75"/><circle cx="21.0" cy="81.2" r="0.75"/><circle cx="86.8" cy="53.0" r="0.75"/><circle cx="138.0" cy="69.2" r="0.75"/><circle cx="32.9" cy="52.6" r="0.75"/><circle cx="111.1" cy="118.1" r="0.75"/><circle cx="116.5" cy="58.3" r="0.75"/><circle cx="97.6" cy="67.3" r="0.75"/><circle cx="119.5" cy="77.5" r="0.75"/><circle cx="21.0" cy="86.6" r="0.75"/><circle cx="42.8" cy="59.2" r="0.75"/><circle cx="47.9" cy="75.2" r="0.75"/><circle cx="43.8" cy="54.9" r="0.75"/><circle cx="114.0" cy="93.6" r="0.75"/><circle cx="41.8" cy="87.1" r="0.75"/><circle cx="128.6" cy="60.5" r="0.75"/><circle cx="113.0" cy="109.4" r="0.75"/><circle cx="50.6" cy="66.2" r="0.75"/><circle cx="34.5" cy="97.1" r="0.75"/><circle cx="92.5" cy="76.9" r="0.75"/><circle cx="90.0" cy="114.7" r="0.75"/><circle cx="60.9" cy="105.6" r="0.75"/><circle cx="127.8" cy="53.0" r="0.75"/><circle cx="26.0" cy="51.8" r="0.75"/><circle cx="103.8" cy="44.9" r="0.75"/><circle cx="108.3" cy="114.6" r="0.75"/><circle cx="104.7" cy="40.3" r="0.75"/><circle cx="80.1" cy="57.4" r="0.75"/><circle cx="70.3" cy="46.2" r="0.75"/><circle cx="29.0" cy="79.9" r="0.75"/><circle cx="31.1" cy="74.7" r="0.75"/><circle cx="36.8" cy="97.3" r="0.75"/><circle cx="79.6" cy="46.9" r="0.75"/><circle cx="60.0" cy="80.7" r="0.75"/><circle cx="135.2" cy="67.8" r="0.75"/><circle cx="49.3" cy="52.6" r="0.75"/><circle cx="48.2" cy="43.1" r="0.75"/><circle cx="67.3" cy="86.0" r="0.75"/><circle cx="104.5" cy="94.5" r="0.75"/><circle cx="85.3" cy="85.3" r="0.75"/><circle cx="66.1" cy="65.0" r="0.75"/><circle cx="64.5" cy="70.9" r="0.75"/><circle cx="67.5" cy="49.6" r="0.75"/><circle cx="46.9" cy="90.8" r="0.75"/><circle cx="63.1" cy="58.2" r="0.75"/><circle cx="39.4" cy="47.2" r="0.75"/><circle cx="105.3" cy="65.5" r="0.75"/><circle cx="98.9" cy="85.3" r="0.75"/><circle cx="126.5" cy="81.9" r="0.75"/><circle cx="44.2" cy="92.4" r="0.75"/><circle cx="111.9" cy="70.3" r="0.75"/><circle cx="107.7" cy="71.6" r="0.75"/><circle cx="83.0" cy="90.9" r="0.75"/><circle cx="103.1" cy="65.3" r="0.75"/><circle cx="96.6" cy="84.8" r="0.75"/><circle cx="42.7" cy="90.9" r="0.75"/><circle cx="75.9" cy="100.5" r="0.75"/><circle cx="82.4" cy="78.9" r="0.75"/><circle cx="42.4" cy="49.5" r="0.75"/><circle cx="82.7" cy="83.4" r="0.75"/><circle cx="121.2" cy="58.0" r="0.75"/><circle cx="74.2" cy="93.4" r="0.75"/><circle cx="121.8" cy="47.8" r="0.75"/><circle cx="33.5" cy="59.1" r="0.75"/><circle cx="26.7" cy="68.4" r="0.75"/><circle cx="119.8" cy="82.9" r="0.75"/><circle cx="73.2" cy="44.7" r="0.75"/><circle cx="105.4" cy="76.5" r="0.75"/><circle cx="76.6" cy="107.2" r="0.75"/><circle cx="113.9" cy="50.2" r="0.75"/><circle cx="103.5" cy="69.3" r="0.75"/><circle cx="82.3" cy="57.9" r="0.75"/><circle cx="62.3" cy="66.9" r="0.75"/><circle cx="39.7" cy="87.2" r="0.75"/><circle cx="20.7" cy="52.7" r="0.75"/><circle cx="108.5" cy="61.2" r="0.75"/><circle cx="56.1" cy="58.3" r="0.75"/><circle cx="123.9" cy="45.0" r="0.75"/><circle cx="97.6" cy="112.6" r="0.75"/><circle cx="39.8" cy="74.2" r="0.75"/><circle cx="118.4" cy="91.4" r="0.75"/><circle cx="62.4" cy="40.9" r="0.75"/><circle cx="71.9" cy="69.3" r="0.75"/><circle cx="107.8" cy="63.0" r="0.75"/><circle cx="67.3" cy="94.0" r="0.75"/><circle cx="120.8" cy="68.0" r="0.75"/><circle cx="64.3" cy="87.9" r="0.75"/><circle cx="136.0" cy="53.9" r="0.75"/><circle cx="62.5" cy="95.6" r="0.75"/><circle cx="56.8" cy="43.2" r="0.75"/><circle cx="113.6" cy="70.4" r="0.75"/><circle cx="82.9" cy="80.7" r="0.75"/><circle cx="74.5" cy="77.7" r="0.75"/><circle cx="124.7" cy="73.5" r="0.75"/><circle cx="71.5" cy="80.2" r="0.75"/><circle cx="81.1" cy="109.6" r="0.75"/><circle cx="102.2" cy="102.2" r="0.75"/><circle cx="66.4" cy="40.6" r="0.75"/><circle cx="103.4" cy="85.7" r="0.75"/><circle cx="115.3" cy="104.7" r="0.75"/><circle cx="28.7" cy="56.4" r="0.75"/><circle cx="113.2" cy="86.7" r="0.75"/><circle cx="107.6" cy="79.5" r="0.75"/><circle cx="68.6" cy="88.4" r="0.75"/><circle cx="129.0" cy="49.8" r="0.75"/><circle cx="57.5" cy="82.6" r="0.75"/><circle cx="49.5" cy="60.1" r="0.75"/><circle cx="54.6" cy="59.4" r="0.75"/><circle cx="127.2" cy="85.9" r="0.75"/><circle cx="81.0" cy="74.0" r="0.75"/><circle cx="19.8" cy="63.8" r="0.75"/><circle cx="126.9" cy="59.6" r="0.75"/><circle cx="84.4" cy="69.9" r="0.75"/><circle cx="74.7" cy="80.0" r="0.75"/><circle cx="90.6" cy="69.2" r="0.75"/><circle cx="119.6" cy="54.6" r="0.75"/><circle cx="19.8" cy="64.7" r="0.75"/><circle cx="83.9" cy="73.0" r="0.75"/><circle cx="88.1" cy="65.5" r="0.75"/><circle cx="51.8" cy="99.5" r="0.75"/><circle cx="119.7" cy="89.1" r="0.75"/><circle cx="20.7" cy="75.2" r="0.75"/><circle cx="98.0" cy="41.3" r="0.75"/><circle cx="127.7" cy="43.3" r="0.75"/><circle cx="92.3" cy="52.9" r="0.75"/><circle cx="119.5" cy="80.8" r="0.75"/><circle cx="102.6" cy="96.4" r="0.75"/><circle cx="52.2" cy="55.6" r="0.75"/><circle cx="124.5" cy="49.8" r="0.75"/><circle cx="135.1" cy="55.2" r="0.75"/><circle cx="26.4" cy="45.4" r="0.75"/><circle cx="68.2" cy="95.0" r="0.75"/><circle cx="104.2" cy="50.6" r="0.75"/><circle cx="52.1" cy="57.5" r="0.75"/><circle cx="90.4" cy="65.0" r="0.75"/><circle cx="87.6" cy="50.6" r="0.75"/><circle cx="134.3" cy="65.5" r="0.75"/><circle cx="124.9" cy="50.4" r="0.75"/><circle cx="65.1" cy="39.9" r="0.75"/><circle cx="63.5" cy="93.4" r="0.75"/><circle cx="42.7" cy="85.0" r="0.75"/><circle cx="25.4" cy="77.9" r="0.75"/><circle cx="109.9" cy="74.8" r="0.75"/><circle cx="103.3" cy="47.1" r="0.75"/><circle cx="123.2" cy="47.7" r="0.75"/><circle cx="51.7" cy="67.6" r="0.75"/><circle cx="112.8" cy="80.7" r="0.75"/><circle cx="136.7" cy="45.2" r="0.75"/><circle cx="92.5" cy="84.6" r="0.75"/><circle cx="24.8" cy="49.3" r="0.75"/><circle cx="125.4" cy="57.0" r="0.75"/><circle cx="100.3" cy="41.4" r="0.75"/><circle cx="57.3" cy="76.6" r="0.75"/><circle cx="52.7" cy="43.1" r="0.75"/><circle cx="87.4" cy="45.4" r="0.75"/><circle cx="86.4" cy="106.3" r="0.75"/><circle cx="92.2" cy="77.6" r="0.75"/><circle cx="25.9" cy="93.9" r="0.75"/><circle cx="30.6" cy="87.9" r="0.75"/><circle cx="59.9" cy="70.0" r="0.75"/><circle cx="101.2" cy="51.4" r="0.75"/><circle cx="129.2" cy="79.3" r="0.75"/><circle cx="32.8" cy="45.3" r="0.75"/><circle cx="129.9" cy="47.3" r="0.75"/><circle cx="79.0" cy="84.2" r="0.75"/><circle cx="28.6" cy="78.2" r="0.75"/><circle cx="34.8" cy="84.1" r="0.75"/><circle cx="80.4" cy="69.3" r="0.75"/><circle cx="39.3" cy="72.5" r="0.75"/><circle cx="40.1" cy="48.2" r="0.75"/><circle cx="78.0" cy="106.6" r="0.75"/><circle cx="88.9" cy="97.6" r="0.75"/><circle cx="33.4" cy="60.2" r="0.75"/><circle cx="81.9" cy="62.7" r="0.75"/><circle cx="131.4" cy="44.4" r="0.75"/><circle cx="89.9" cy="57.6" r="0.75"/><circle cx="92.2" cy="106.0" r="0.75"/><circle cx="107.5" cy="42.5" r="0.75"/><circle cx="45.7" cy="89.7" r="0.75"/><circle cx="95.2" cy="97.9" r="0.75"/><circle cx="121.3" cy="67.1" r="0.75"/><circle cx="120.8" cy="77.6" r="0.75"/><circle cx="67.1" cy="44.7" r="0.75"/><circle cx="103.3" cy="50.3" r="0.75"/><circle cx="58.8" cy="49.4" r="0.75"/><circle cx="39.4" cy="56.3" r="0.75"/><circle cx="76.8" cy="80.8" r="0.75"/><circle cx="116.6" cy="116.9" r="0.75"/><circle cx="112.9" cy="93.0" r="0.75"/><circle cx="39.5" cy="92.0" r="0.75"/><circle cx="59.4" cy="51.3" r="0.75"/><circle cx="112.2" cy="48.9" r="0.75"/><circle cx="91.5" cy="75.3" r="0.75"/><circle cx="122.7" cy="106.0" r="0.75"/><circle cx="128.8" cy="63.3" r="0.75"/><circle cx="138.8" cy="47.2" r="0.75"/><circle cx="43.9" cy="54.4" r="0.75"/><circle cx="73.9" cy="57.8" r="0.75"/><circle cx="104.1" cy="99.5" r="0.75"/><circle cx="65.1" cy="106.0" r="0.75"/><circle cx="118.6" cy="97.1" r="0.75"/><circle cx="67.0" cy="44.7" r="0.75"/><circle cx="99.8" cy="110.6" r="0.75"/><circle cx="58.2" cy="89.3" r="0.75"/><circle cx="121.0" cy="73.8" r="0.75"/><circle cx="93.4" cy="77.3" r="0.75"/><circle cx="57.6" cy="55.8" r="0.75"/><circle cx="95.4" cy="62.7" r="0.75"/><circle cx="24.7" cy="60.8" r="0.75"/><circle cx="106.3" cy="75.9" r="0.75"/><circle cx="100.9" cy="108.0" r="0.75"/><circle cx="37.5" cy="60.9" r="0.75"/><circle cx="94.2" cy="115.7" r="0.75"/><circle cx="65.4" cy="81.0" r="0.75"/><circle cx="123.5" cy="51.3" r="0.75"/><circle cx="73.5" cy="108.2" r="0.75"/><circle cx="46.4" cy="68.0" r="0.75"/><circle cx="26.4" cy="85.6" r="0.75"/><circle cx="127.7" cy="82.2" r="0.75"/><circle cx="23.1" cy="91.9" r="0.75"/><circle cx="61.1" cy="95.2" r="0.75"/><circle cx="97.0" cy="70.1" r="0.75"/><circle cx="82.5" cy="96.5" r="0.75"/><circle cx="133.7" cy="80.8" r="0.75"/><circle cx="103.9" cy="86.1" r="0.75"/><circle cx="72.5" cy="103.1" r="0.75"/><circle cx="56.3" cy="49.1" r="0.75"/><circle cx="32.2" cy="88.7" r="0.75"/><circle cx="89.7" cy="41.1" r="0.75"/><circle cx="65.2" cy="102.8" r="0.75"/><circle cx="98.3" cy="61.7" r="0.75"/><circle cx="114.4" cy="62.6" r="0.75"/><circle cx="85.4" cy="74.0" r="0.75"/><circle cx="120.1" cy="96.5" r="0.75"/><circle cx="107.4" cy="97.8" r="0.75"/><circle cx="49.9" cy="51.2" r="0.75"/><circle cx="89.5" cy="109.7" r="0.75"/><circle cx="118.6" cy="67.6" r="0.75"/><circle cx="31.6" cy="82.4" r="0.75"/><circle cx="129.7" cy="51.3" r="0.75"/><circle cx="111.2" cy="52.0" r="0.75"/><circle cx="54.5" cy="41.7" r="0.75"/><circle cx="52.6" cy="70.7" r="0.75"/><circle cx="37.9" cy="64.2" r="0.75"/><circle cx="138.5" cy="54.4" r="0.75"/><circle cx="55.7" cy="75.6" r="0.75"/><circle cx="27.4" cy="59.9" r="0.75"/><circle cx="65.4" cy="70.9" r="0.75"/><circle cx="97.7" cy="105.5" r="0.75"/><circle cx="54.9" cy="50.4" r="0.75"/><circle cx="113.7" cy="78.4" r="0.75"/><circle cx="87.3" cy="96.0" r="0.75"/><circle cx="113.1" cy="61.2" r="0.75"/><circle cx="83.4" cy="62.4" r="0.75"/><circle cx="96.8" cy="59.9" r="0.75"/><circle cx="115.6" cy="40.6" r="0.75"/><circle cx="122.9" cy="86.8" r="0.75"/><circle cx="48.3" cy="58.4" r="0.75"/><circle cx="22.3" cy="85.3" r="0.75"/><circle cx="113.2" cy="96.7" r="0.75"/><circle cx="67.9" cy="108.1" r="0.75"/><circle cx="27.8" cy="64.0" r="0.75"/><circle cx="97.3" cy="97.9" r="0.75"/><circle cx="116.0" cy="71.7" r="0.75"/><circle cx="58.5" cy="71.5" r="0.75"/><circle cx="120.2" cy="67.8" r="0.75"/><circle cx="83.7" cy="82.9" r="0.75"/><circle cx="102.0" cy="116.3" r="0.75"/><circle cx="30.8" cy="66.8" r="0.75"/><circle cx="21.8" cy="73.4" r="0.75"/><circle cx="79.8" cy="112.0" r="0.75"/><circle cx="101.8" cy="87.8" r="0.75"/><circle cx="66.7" cy="87.5" r="0.75"/><circle cx="117.9" cy="110.8" r="0.75"/><circle cx="33.1" cy="96.1" r="0.75"/><circle cx="113.3" cy="81.1" r="0.75"/><circle cx="111.8" cy="109.2" r="0.75"/><circle cx="99.3" cy="114.3" r="0.75"/><circle cx="106.6" cy="90.9" r="0.75"/><circle cx="49.6" cy="42.9" r="0.75"/><circle cx="93.2" cy="109.5" r="0.75"/><circle cx="49.3" cy="55.8" r="0.75"/><circle cx="42.8" cy="45.3" r="0.75"/><circle cx="119.7" cy="68.7" r="0.75"/><circle cx="106.0" cy="43.4" r="0.75"/><circle cx="124.5" cy="65.6" r="0.75"/><circle cx="31.5" cy="61.2" r="0.75"/><circle cx="20.9" cy="76.2" r="0.75"/><circle cx="86.8" cy="108.0" r="0.75"/><circle cx="27.7" cy="56.8" r="0.75"/><circle cx="96.7" cy="66.9" r="0.75"/><circle cx="57.0" cy="87.0" r="0.75"/><circle cx="120.6" cy="84.3" r="0.75"/><circle cx="69.4" cy="42.5" r="0.75"/><circle cx="96.8" cy="100.8" r="0.75"/><circle cx="90.8" cy="72.2" r="0.75"/><circle cx="81.1" cy="88.8" r="0.75"/><circle cx="144.2" cy="43.3" r="0.75"/><circle cx="76.6" cy="48.8" r="0.75"/><circle cx="73.4" cy="97.1" r="0.75"/><circle cx="107.2" cy="77.0" r="0.75"/><circle cx="58.4" cy="53.7" r="0.75"/><circle cx="66.6" cy="61.9" r="0.75"/><circle cx="81.7" cy="75.6" r="0.75"/><circle cx="39.3" cy="98.9" r="0.75"/><circle cx="39.2" cy="60.4" r="0.75"/><circle cx="87.5" cy="98.7" r="0.75"/><circle cx="109.1" cy="100.3" r="0.75"/><circle cx="21.3" cy="55.1" r="0.75"/><circle cx="109.0" cy="92.5" r="0.75"/><circle cx="48.1" cy="68.3" r="0.75"/><circle cx="34.8" cy="92.6" r="0.75"/><circle cx="18.9" cy="52.4" r="0.75"/><circle cx="120.0" cy="77.0" r="0.75"/><circle cx="26.6" cy="46.4" r="0.75"/><circle cx="76.3" cy="109.3" r="0.75"/></g>
<g fill="#c8c8c8"><circle cx="30.1" cy="46.6" r="0.8"/><circle cx="87.9" cy="81.7" r="0.8"/><circle cx="40.8" cy="59.2" r="0.8"/><circle cx="107.5" cy="120.2" r="0.8"/><circle cx="110.4" cy="70.8" r="0.8"/><circle cx="121.0" cy="111.0" r="0.8"/><circle cx="41.5" cy="88.5" r="0.8"/><circle cx="123.4" cy="106.2" r="0.8"/><circle cx="74.7" cy="40.8" r="0.8"/><circle cx="131.2" cy="84.0" r="0.8"/><circle cx="22.4" cy="65.5" r="0.8"/><circle cx="96.1" cy="114.9" r="0.8"/><circle cx="77.4" cy="93.3" r="0.8"/><circle cx="40.4" cy="58.4" r="0.8"/><circle cx="133.5" cy="70.7" r="0.8"/><circle cx="26.8" cy="89.0" r="0.8"/><circle cx="29.8" cy="54.6" r="0.8"/><circle cx="73.7" cy="88.5" r="0.8"/><circle cx="97.6" cy="99.2" r="0.8"/><circle cx="71.5" cy="42.9" r="0.8"/><circle cx="109.4" cy="41.7" r="0.8"/><circle cx="75.6" cy="72.2" r="0.8"/><circle cx="102.5" cy="99.8" r="0.8"/><circle cx="44.9" cy="94.2" r="0.8"/><circle cx="105.0" cy="78.5" r="0.8"/><circle cx="92.7" cy="42.5" r="0.8"/><circle cx="43.4" cy="71.5" r="0.8"/><circle cx="117.8" cy="109.5" r="0.8"/><circle cx="97.3" cy="102.3" r="0.8"/><circle cx="42.2" cy="96.1" r="0.8"/><circle cx="135.3" cy="60.1" r="0.8"/><circle cx="113.7" cy="46.1" r="0.8"/><circle cx="34.7" cy="82.1" r="0.8"/><circle cx="86.9" cy="109.3" r="0.8"/><circle cx="79.8" cy="91.5" r="0.8"/><circle cx="92.1" cy="107.4" r="0.8"/><circle cx="85.5" cy="62.6" r="0.8"/><circle cx="73.9" cy="47.7" r="0.8"/><circle cx="99.5" cy="55.2" r="0.8"/><circle cx="70.1" cy="46.7" r="0.8"/><circle cx="59.9" cy="45.3" r="0.8"/><circle cx="110.1" cy="111.8" r="0.8"/><circle cx="125.8" cy="45.9" r="0.8"/><circle cx="61.9" cy="63.6" r="0.8"/><circle cx="114.4" cy="50.0" r="0.8"/><circle cx="23.0" cy="47.0" r="0.8"/><circle cx="105.1" cy="89.7" r="0.8"/><circle cx="82.2" cy="77.1" r="0.8"/><circle cx="67.2" cy="90.8" r="0.8"/><circle cx="99.3" cy="117.6" r="0.8"/><circle cx="110.4" cy="107.1" r="0.8"/><circle cx="103.6" cy="111.8" r="0.8"/><circle cx="71.8" cy="99.2" r="0.8"/><circle cx="46.6" cy="63.4" r="0.8"/><circle cx="59.3" cy="65.5" r="0.8"/><circle cx="25.6" cy="76.0" r="0.8"/><circle cx="113.1" cy="61.1" r="0.8"/><circle cx="46.2" cy="73.3" r="0.8"/><circle cx="15.8" cy="57.3" r="0.8"/><circle cx="56.7" cy="104.8" r="0.8"/><circle cx="116.1" cy="115.3" r="0.8"/><circle cx="118.7" cy="83.8" r="0.8"/><circle cx="54.7" cy="92.2" r="0.8"/><circle cx="61.8" cy="84.3" r="0.8"/><circle cx="141.4" cy="51.2" r="0.8"/><circle cx="83.6" cy="94.2" r="0.8"/><circle cx="24.9" cy="55.7" r="0.8"/><circle cx="36.4" cy="75.5" r="0.8"/><circle cx="104.4" cy="97.8" r="0.8"/><circle cx="112.2" cy="103.3" r="0.8"/><circle cx="46.0" cy="59.6" r="0.8"/><circle cx="40.8" cy="59.8" r="0.8"/><circle cx="91.6" cy="94.7" r="0.8"/><circle cx="92.5" cy="98.2" r="0.8"/><circle cx="53.4" cy="42.6" r="0.8"/><circle cx="61.1" cy="49.5" r="0.8"/><circle cx="28.0" cy="80.4" r="0.8"/><circle cx="36.7" cy="45.8" r="0.8"/><circle cx="53.3" cy="73.0" r="0.8"/><circle cx="104.7" cy="76.2" r="0.8"/><circle cx="109.9" cy="45.3" r="0.8"/><circle cx="137.0" cy="67.1" r="0.8"/><circle cx="123.2" cy="56.9" r="0.8"/><circle cx="102.2" cy="61.4" r="0.8"/><circle cx="133.4" cy="50.9" r="0.8"/><circle cx="100.7" cy="88.7" r="0.8"/><circle cx="100.9" cy="52.9" r="0.8"/><circle cx="32.1" cy="45.5" r="0.8"/><circle cx="99.7" cy="87.1" r="0.8"/><circle cx="42.7" cy="42.7" r="0.8"/><circle cx="61.4" cy="100.6" r="0.8"/><circle cx="46.5" cy="69.2" r="0.8"/><circle cx="82.6" cy="46.8" r="0.8"/><circle cx="50.9" cy="70.5" r="0.8"/><circle cx="114.7" cy="56.7" r="0.8"/><circle cx="38.8" cy="56.3" r="0.8"/><circle cx="64.1" cy="69.2" r="0.8"/><circle cx="98.3" cy="78.5" r="0.8"/><circle cx="128.7" cy="41.5" r="0.8"/><circle cx="101.3" cy="110.6" r="0.8"/><circle cx="71.3" cy="47.2" r="0.8"/><circle cx="74.2" cy="99.6" r="0.8"/><circle cx="25.5" cy="47.4" r="0.8"/><circle cx="76.8" cy="52.3" r="0.8"/><circle cx="43.7" cy="75.7" r="0.8"/><circle cx="61.0" cy="78.3" r="0.8"/><circle cx="22.5" cy="56.6" r="0.8"/><circle cx="112.0" cy="86.5" r="0.8"/><circle cx="127.1" cy="46.7" r="0.8"/><circle cx="44.9" cy="52.0" r="0.8"/><circle cx="128.0" cy="55.7" r="0.8"/><circle cx="24.0" cy="60.3" r="0.8"/><circle cx="135.9" cy="77.6" r="0.8"/><circle cx="110.3" cy="43.6" r="0.8"/><circle cx="73.3" cy="65.0" r="0.8"/><circle cx="40.3" cy="95.3" r="0.8"/><circle cx="61.0" cy="47.5" r="0.8"/><circle cx="99.8" cy="82.3" r="0.8"/><circle cx="111.5" cy="84.3" r="0.8"/><circle cx="44.1" cy="80.9" r="0.8"/><circle cx="93.5" cy="94.3" r="0.8"/><circle cx="127.0" cy="69.4" r="0.8"/><circle cx="133.1" cy="53.0" r="0.8"/><circle cx="43.2" cy="89.6" r="0.8"/><circle cx="132.9" cy="44.2" r="0.8"/><circle cx="71.4" cy="49.4" r="0.8"/><circle cx="66.5" cy="96.8" r="0.8"/><circle cx="44.0" cy="79.0" r="0.8"/><circle cx="95.6" cy="56.0" r="0.8"/><circle cx="123.9" cy="54.8" r="0.8"/><circle cx="55.8" cy="72.8" r="0.8"/><circle cx="58.6" cy="95.8" r="0.8"/><circle cx="47.3" cy="77.0" r="0.8"/><circle cx="87.7" cy="99.6" r="0.8"/><circle cx="31.3" cy="58.2" r="0.8"/><circle cx="32.8" cy="49.1" r="0.8"/><circle cx="82.5" cy="88.2" r="0.8"/><circle cx="130.9" cy="42.0" r="0.8"/><circle cx="44.2" cy="51.7" r="0.8"/><circle cx="90.9" cy="76.8" r="0.8"/><circle cx="101.0" cy="112.7" r="0.8"/><circle cx="51.5" cy="62.4" r="0.8"/><circle cx="68.9" cy="83.6" r="0.8"/><circle cx="99.9" cy="82.1" r="0.8"/><circle cx="28.5" cy="58.4" r="0.8"/><circle cx="100.5" cy="88.6" r="0.8"/><circle cx="141.0" cy="54.0" r="0.8"/><circle cx="88.9" cy="53.0" r="0.8"/><circle cx="105.0" cy="59.5" r="0.8"/><circle cx="44.5" cy="69.2" r="0.8"/><circle cx="82.7" cy="96.6" r="0.8"/><circle cx="96.0" cy="78.5" r="0.8"/><circle cx="102.4" cy="107.4" r="0.8"/><circle cx="103.2" cy="99.4" r="0.8"/><circle cx="99.1" cy="52.9" r="0.8"/><circle cx="44.0" cy="74.9" r="0.8"/><circle cx="140.4" cy="55.2" r="0.8"/><circle cx="132.7" cy="57.5" r="0.8"/><circle cx="110.8" cy="68.7" r="0.8"/><circle cx="101.2" cy="104.5" r="0.8"/><circle cx="30.0" cy="56.6" r="0.8"/><circle cx="41.6" cy="60.4" r="0.8"/><circle cx="17.7" cy="49.0" r="0.8"/><circle cx="67.0" cy="74.0" r="0.8"/><circle cx="23.3" cy="88.2" r="0.8"/><circle cx="60.3" cy="99.0" r="0.8"/><circle cx="71.2" cy="52.4" r="0.8"/><circle cx="77.1" cy="38.5" r="0.8"/><circle cx="102.9" cy="51.2" r="0.8"/><circle cx="115.0" cy="110.5" r="0.8"/><circle cx="98.4" cy="92.8" r="0.8"/><circle cx="53.0" cy="59.5" r="0.8"/><circle cx="122.3" cy="89.9" r="0.8"/><circle cx="91.3" cy="54.5" r="0.8"/><circle cx="109.5" cy="61.0" r="0.8"/><circle cx="48.3" cy="99.6" r="0.8"/><circle cx="142.0" cy="50.1" r="0.8"/><circle cx="57.6" cy="83.0" r="0.8"/><circle cx="55.6" cy="73.7" r="0.8"/><circle cx="76.7" cy="59.7" r="0.8"/><circle cx="34.6" cy="45.0" r="0.8"/><circle cx="96.0" cy="98.3" r="0.8"/><circle cx="109.9" cy="67.1" r="0.8"/><circle cx="78.4" cy="53.6" r="0.8"/><circle cx="19.8" cy="50.5" r="0.8"/><circle cx="105.1" cy="70.9" r="0.8"/><circle cx="108.4" cy="57.2" r="0.8"/><circle cx="119.0" cy="107.6" r="0.8"/><circle cx="25.5" cy="88.6" r="0.8"/><circle cx="119.9" cy="106.6" r="0.8"/><circle cx="43.8" cy="45.2" r="0.8"/><circle cx="101.2" cy="86.7" r="0.8"/><circle cx="31.4" cy="54.0" r="0.8"/><circle cx="90.5" cy="46.5" r="0.8"/><circle cx="97.3" cy="58.2" r="0.8"/><circle cx="47.4" cy="74.3" r="0.8"/><circle cx="83.9" cy="100.7" r="0.8"/><circle cx="42.4" cy="62.6" r="0.8"/><circle cx="98.1" cy="97.8" r="0.8"/><circle cx="94.8" cy="116.4" r="0.8"/><circle cx="40.2" cy="64.4" r="0.8"/><circle cx="101.1" cy="59.9" r="0.8"/><circle cx="33.9" cy="56.9" r="0.8"/><circle cx="115.6" cy="109.8" r="0.8"/><circle cx="108.3" cy="121.4" r="0.8"/><circle cx="118.6" cy="64.3" r="0.8"/><circle cx="55.0" cy="100.5" r="0.8"/><circle cx="81.3" cy="50.3" r="0.8"/><circle cx="74.4" cy="54.4" r="0.8"/><circle cx="28.9" cy="81.6" r="0.8"/><circle cx="82.3" cy="68.9" r="0.8"/><circle cx="108.3" cy="83.6" r="0.8"/><circle cx="116.1" cy="46.3" r="0.8"/><circle cx="22.3" cy="71.1" r="0.8"/><circle cx="77.3" cy="59.2" r="0.8"/><circle cx="101.9" cy="56.5" r="0.8"/><circle cx="55.3" cy="79.0" r="0.8"/><circle cx="107.7" cy="104.8" r="0.8"/><circle cx="62.4" cy="76.3" r="0.8"/><circle cx="95.3" cy="46.2" r="0.8"/><circle cx="73.6" cy="93.0" r="0.8"/><circle cx="30.2" cy="78.0" r="0.8"/><circle cx="95.4" cy="63.4" r="0.8"/><circle cx="115.5" cy="75.5" r="0.8"/><circle cx="24.4" cy="71.7" r="0.8"/><circle cx="19.8" cy="62.3" r="0.8"/><circle cx="115.1" cy="48.9" r="0.8"/><circle cx="34.8" cy="83.8" r="0.8"/><circle cx="123.8" cy="51.9" r="0.8"/><circle cx="69.6" cy="66.7" r="0.8"/><circle cx="29.4" cy="58.4" r="0.8"/><circle cx="142.2" cy="47.3" r="0.8"/><circle cx="93.3" cy="62.4" r="0.8"/><circle cx="74.9" cy="100.0" r="0.8"/><circle cx="110.6" cy="48.4" r="0.8"/><circle cx="58.1" cy="58.8" r="0.8"/><circle cx="46.9" cy="78.3" r="0.8"/><circle cx="126.7" cy="65.3" r="0.8"/><circle cx="58.4" cy="53.5" r="0.8"/><circle cx="127.8" cy="87.6" r="0.8"/><circle cx="93.7" cy="116.1" r="0.8"/><circle cx="48.4" cy="69.2" r="0.8"/><circle cx="62.8" cy="68.1" r="0.8"/><circle cx="63.3" cy="46.7" r="0.8"/><circle cx="67.6" cy="93.0" r="0.8"/><circle cx="109.8" cy="103.4" r="0.8"/><circle cx="121.1" cy="59.3" r="0.8"/><circle cx="100.2" cy="70.5" r="0.8"/><circle cx="124.7" cy="48.8" r="0.8"/><circle cx="84.7" cy="66.6" r="0.8"/><circle cx="122.1" cy="67.4" r="0.8"/><circle cx="129.9" cy="49.2" r="0.8"/><circle cx="103.0" cy="94.4" r="0.8"/><circle cx="85.9" cy="77.1" r="0.8"/><circle cx="117.0" cy="113.5" r="0.8"/><circle cx="41.5" cy="67.0" r="0.8"/><circle cx="46.2" cy="45.8" r="0.8"/><circle cx="118.9" cy="57.0" r="0.8"/><circle cx="111.6" cy="54.5" r="0.8"/><circle cx="74.5" cy="72.4" r="0.8"/><circle cx="54.2" cy="92.6" r="0.8"/><circle cx="132.0" cy="78.4" r="0.8"/><circle cx="89.2" cy="46.3" r="0.8"/><circle cx="91.1" cy="110.0" r="0.8"/><circle cx="82.0" cy="79.6" r="0.8"/><circle cx="101.5" cy="55.3" r="0.8"/><circle cx="61.2" cy="69.0" r="0.8"/><circle cx="70.5" cy="100.1" r="0.8"/><circle cx="70.1" cy="45.1" r="0.8"/><circle cx="82.6" cy="109.2" r="0.8"/><circle cx="117.9" cy="68.4" r="0.8"/><circle cx="119.6" cy="56.3" r="0.8"/><circle cx="70.7" cy="70.5" r="0.8"/><circle cx="107.4" cy="118.8" r="0.8"/><circle cx="39.8" cy="63.6" r="0.8"/><circle cx="56.8" cy="101.4" r="0.8"/><circle cx="37.8" cy="85.1" r="0.8"/><circle cx="79.5" cy="95.8" r="0.8"/><circle cx="118.8" cy="53.1" r="0.8"/><circle cx="134.1" cy="85.5" r="0.8"/><circle cx="114.0" cy="113.4" r="0.8"/><circle cx="87.5" cy="49.6" r="0.8"/><circle cx="96.9" cy="107.7" r="0.8"/><circle cx="69.4" cy="90.0" r="0.8"/><circle cx="47.5" cy="61.3" r="0.8"/><circle cx="68.9" cy="82.2" r="0.8"/><circle cx="75.3" cy="45.1" r="0.8"/><circle cx="108.3" cy="102.9" r="0.8"/><circle cx="44.5" cy="59.5" r="0.8"/><circle cx="81.7" cy="52.4" r="0.8"/><circle cx="93.2" cy="116.6" r="0.8"/><circle cx="39.9" cy="88.5" r="0.8"/><circle cx="108.9" cy="102.9" r="0.8"/><circle cx="107.7" cy="99.5" r="0.8"/><circle cx="136.0" cy="41.6" r="0.8"/><circle cx="119.0" cy="96.6" r="0.8"/><circle cx="31.9" cy="77.5" r="0.8"/><circle cx="57.7" cy="104.5" r="0.8"/><circle cx="45.6" cy="54.5" r="0.8"/><circle cx="34.4" cy="73.1" r="0.8"/><circle cx="95.2" cy="63.7" r="0.8"/><circle cx="34.5" cy="56.2" r="0.8"/><circle cx="24.3" cy="54.0" r="0.8"/><circle cx="55.0" cy="81.4" r="0.8"/><circle cx="37.4" cy="79.2" r="0.8"/><circle cx="75.7" cy="54.4" r="0.8"/><circle cx="91.7" cy="49.7" r="0.8"/><circle cx="66.7" cy="68.2" r="0.8"/><circle cx="69.5" cy="68.0" r="0.8"/><circle cx="104.9" cy="71.5" r="0.8"/><circle cx="126.0" cy="101.1" r="0.8"/><circle cx="60.1" cy="92.4" r="0.8"/><circle cx="135.4" cy="72.3" r="0.8"/><circle cx="70.5" cy="63.2" r="0.8"/><circle cx="86.7" cy="95.3" r="0.8"/><circle cx="110.8" cy="120.5" r="0.8"/><circle cx="32.3" cy="69.2" r="0.8"/><circle cx="91.5" cy="96.6" r="0.8"/><circle cx="86.1" cy="72.4" r="0.8"/><circle cx="37.3" cy="47.2" r="0.8"/><circle cx="76.8" cy="80.6" r="0.8"/><circle cx="59.5" cy="83.8" r="0.8"/><circle cx="76.4" cy="66.3" r="0.8"/><circle cx="64.5" cy="90.6" r="0.8"/><circle cx="117.5" cy="59.9" r="0.8"/><circle cx="62.3" cy="71.1" r="0.8"/><circle cx="84.7" cy="61.3" r="0.8"/><circle cx="15.9" cy="54.0" r="0.8"/><circle cx="32.5" cy="57.1" r="0.8"/><circle cx="20.7" cy="60.2" r="0.8"/><circle cx="110.5" cy="100.4" r="0.8"/><circle cx="70.7" cy="54.0" r="0.8"/><circle cx="112.5" cy="112.6" r="0.8"/><circle cx="64.3" cy="45.2" r="0.8"/><circle cx="107.2" cy="92.4" r="0.8"/><circle cx="27.9" cy="51.3" r="0.8"/><circle cx="37.1" cy="90.6" r="0.8"/><circle cx="70.8" cy="71.4" r="0.8"/><circle cx="46.7" cy="57.5" r="0.8"/><circle cx="106.9" cy="52.4" r="0.8"/><circle cx="36.9" cy="50.4" r="0.8"/><circle cx="59.7" cy="101.9" r="0.8"/><circle cx="20.8" cy="83.7" r="0.8"/><circle cx="103.5" cy="40.0" r="0.8"/><circle cx="71.5" cy="106.6" r="0.8"/><circle cx="89.6" cy="76.7" r="0.8"/><circle cx="130.2" cy="89.9" r="0.8"/><circle cx="57.8" cy="71.8" r="0.8"/><circle cx="31.9" cy="52.4" r="0.8"/><circle cx="64.0" cy="97.8" r="0.8"/><circle cx="117.5" cy="82.3" r="0.8"/><circle cx="68.1" cy="95.9" r="0.8"/><circle cx="88.8" cy="101.1" r="0.8"/><circle cx="94.8" cy="64.8" r="0.8"/><circle cx="63.1" cy="60.7" r="0.8"/><circle cx="117.8" cy="109.3" r="0.8"/><circle cx="55.3" cy="103.7" r="0.8"/><circle cx="47.9" cy="90.8" r="0.8"/><circle cx="78.0" cy="61.2" r="0.8"/><circle cx="135.7" cy="44.3" r="0.8"/><circle cx="91.0" cy="74.6" r="0.8"/><circle cx="137.1" cy="44.7" r="0.8"/><circle cx="116.4" cy="46.1" r="0.8"/><circle cx="49.8" cy="47.0" r="0.8"/><circle cx="128.9" cy="75.9" r="0.8"/><circle cx="109.6" cy="59.6" r="0.8"/><circle cx="110.1" cy="94.1" r="0.8"/><circle cx="26.0" cy="80.5" r="0.8"/><circle cx="109.0" cy="55.9" r="0.8"/><circle cx="100.0" cy="61.5" r="0.8"/><circle cx="69.8" cy="87.3" r="0.8"/><circle cx="120.5" cy="103.8" r="0.8"/><circle cx="75.9" cy="47.4" r="0.8"/><circle cx="112.6" cy="49.8" r="0.8"/><circle cx="103.4" cy="41.7" r="0.8"/><circle cx="111.5" cy="48.5" r="0.8"/><circle cx="97.7" cy="70.1" r="0.8"/><circle cx="74.8" cy="78.3" r="0.8"/><circle cx="108.6" cy="101.2" r="0.8"/><circle cx="37.6" cy="49.0" r="0.8"/><circle cx="121.4" cy="47.6" r="0.8"/><circle cx="37.7" cy="81.0" r="0.8"/><circle cx="57.7" cy="51.4" r="0.8"/><circle cx="117.5" cy="59.0" r="0.8"/><circle cx="134.4" cy="56.5" r="0.8"/><circle cx="96.9" cy="83.9" r="0.8"/><circle cx="126.7" cy="76.0" r="0.8"/><circle cx="120.1" cy="97.0" r="0.8"/><circle cx="112.0" cy="57.4" r="0.8"/><circle cx="74.6" cy="109.4" r="0.8"/><circle cx="34.3" cy="97.2" r="0.8"/><circle cx="86.7" cy="72.7" r="0.8"/><circle cx="35.3" cy="49.1" r="0.8"/><circle cx="75.5" cy="80.4" r="0.8"/><circle cx="48.6" cy="69.4" r="0.8"/><circle cx="86.7" cy="104.0" r="0.8"/><circle cx="91.4" cy="51.3" r="0.8"/><circle cx="130.8" cy="69.4" r="0.8"/><circle cx="31.7" cy="88.2" r="0.8"/><circle cx="85.8" cy="64.6" r="0.8"/></g>
<circle cx="23.7" cy="92.6" r="0.9" fill="#f4f4f4"/>
<circle cx="32.6" cy="94.7" r="0.9" fill="#f4f4f4"/>
<circle cx="79.7" cy="106.6" r="0.9" fill="#f4f4f4"/>
<circle cx="109.4" cy="114.4" r="0.9" fill="#f4f4f4"/>
<circle cx="54.8" cy="91.3" r="0.9" fill="#f4f4f4"/>
<circle cx="80.1" cy="107.0" r="0.9" fill="#f4f4f4"/>
<circle cx="101.4" cy="112.1" r="0.9" fill="#f4f4f4"/>
<circle cx="54.6" cy="97.6" r="0.9" fill="#f4f4f4"/>
<circle cx="49.0" cy="88.9" r="0.9" fill="#f4f4f4"/>
<circle cx="43.8" cy="87.1" r="0.9" fill="#f4f4f4"/>
<circle cx="27.0" cy="95.0" r="0.9" fill="#f4f4f4"/>
<circle cx="72.6" cy="108.8" r="0.9" fill="#f4f4f4"/>
<circle cx="68.3" cy="108.2" r="0.9" fill="#f4f4f4"/>
<circle cx="99.0" cy="111.3" r="0.9" fill="#f4f4f4"/>
<circle cx="84.8" cy="101.7" r="0.9" fill="#f4f4f4"/>
<circle cx="113.5" cy="115.9" r="0.9" fill="#f4f4f4"/>
<circle cx="87.5" cy="115.1" r="0.9" fill="#f4f4f4"/>
<circle cx="25.6" cy="90.6" r="0.9" fill="#f4f4f4"/>
<circle cx="111.3" cy="120.6" r="0.9" fill="#f4f4f4"/>
<circle cx="74.0" cy="110.6" r="0.9" fill="#f4f4f4"/>
<circle cx="59.7" cy="93.9" r="0.9" fill="#f4f4f4"/>
<circle cx="75.9" cy="100.8" r="0.9" fill="#f4f4f4"/>
<circle cx="22.2" cy="92.1" r="0.9" fill="#f4f4f4"/>
<circle cx="37.7" cy="87.9" r="0.9" fill="#f4f4f4"/>
<circle cx="30.5" cy="83.6" r="0.9" fill="#f4f4f4"/>
<circle cx="45.9" cy="89.7" r="0.9" fill="#f4f4f4"/>
<circle cx="69.1" cy="106.4" r="0.9" fill="#f4f4f4"/>
<circle cx="111.1" cy="119.3" r="0.9" fill="#f4f4f4"/>
<circle cx="86.0" cy="114.4" r="0.9" fill="#f4f4f4"/>
<circle cx="98.4" cy="105.1" r="0.9" fill="#f4f4f4"/>
<circle cx="31.3" cy="87.4" r="0.9" fill="#f4f4f4"/>
<circle cx="46.2" cy="100.6" r="0.9" fill="#f4f4f4"/>
<circle cx="54.9" cy="96.8" r="0.9" fill="#f4f4f4"/>
<circle cx="109.9" cy="108.7" r="0.9" fill="#f4f4f4"/>
<circle cx="113.6" cy="116.9" r="0.9" fill="#f4f4f4"/>
<circle cx="81.9" cy="112.4" r="0.9" fill="#f4f4f4"/>
<circle cx="88.7" cy="109.8" r="0.9" fill="#f4f4f4"/>
<circle cx="54.5" cy="92.2" r="0.9" fill="#f4f4f4"/>
<circle cx="44.8" cy="100.2" r="0.9" fill="#f4f4f4"/>
<circle cx="35.7" cy="97.1" r="0.9" fill="#f4f4f4"/>
<circle cx="75.9" cy="101.2" r="0.9" fill="#f4f4f4"/>
<circle cx="35.9" cy="93.0" r="0.9" fill="#f4f4f4"/>
<circle cx="74.5" cy="104.9" r="0.9" fill="#f4f4f4"/>
<circle cx="59.5" cy="100.2" r="0.9" fill="#f4f4f4"/>
<circle cx="22.4" cy="93.3" r="0.9" fill="#f4f4f4"/>
<circle cx="60.4" cy="104.5" r="0.9" fill="#f4f4f4"/>
<circle cx="91.5" cy="114.8" r="0.9" fill="#f4f4f4"/>
<circle cx="97.8" cy="116.9" r="0.9" fill="#f4f4f4"/>
<circle cx="29.6" cy="91.3" r="0.9" fill="#f4f4f4"/>
<circle cx="57.1" cy="102.3" r="0.9" fill="#f4f4f4"/>
<circle cx="92.3" cy="115.3" r="0.9" fill="#f4f4f4"/>
<circle cx="83.4" cy="103.1" r="0.9" fill="#f4f4f4"/>
<circle cx="63.2" cy="102.0" r="0.9" fill="#f4f4f4"/>
<circle cx="107.1" cy="115.1" r="0.9" fill="#f4f4f4"/>
<circle cx="37.9" cy="98.4" r="0.9" fill="#f4f4f4"/>
<circle cx="28.7" cy="92.9" r="0.9" fill="#f4f4f4"/>
<circle cx="29.3" cy="88.4" r="0.9" fill="#f4f4f4"/>
<circle cx="60.5" cy="103.7" r="0.9" fill="#f4f4f4"/>
<circle cx="68.7" cy="96.2" r="0.9" fill="#f4f4f4"/>
<circle cx="43.8" cy="99.7" r="0.9" fill="#f4f4f4"/>
<circle cx="49.5" cy="99.9" r="0.9" fill="#f4f4f4"/>
<circle cx="105.8" cy="112.9" r="0.9" fill="#f4f4f4"/>
<circle cx="61.0" cy="105.3" r="0.9" fill="#f4f4f4"/>
<circle cx="25.2" cy="93.8" r="0.9" fill="#f4f4f4"/>
<circle cx="100.0" cy="112.0" r="0.9" fill="#f4f4f4"/>
<circle cx="35.6" cy="90.9" r="0.9" fill="#f4f4f4"/>
<circle cx="26.4" cy="89.8" r="0.9" fill="#f4f4f4"/>
<circle cx="52.3" cy="102.9" r="0.9" fill="#f4f4f4"/>
<circle cx="90.2" cy="107.5" r="0.9" fill="#f4f4f4"/>
<circle cx="68.6" cy="107.9" r="0.9" fill="#f4f4f4"/>
<circle cx="83.4" cy="109.8" r="0.9" fill="#f4f4f4"/>
<circle cx="82.6" cy="113.1" r="0.9" fill="#f4f4f4"/>
<circle cx="105.1" cy="121.0" r="0.9" fill="#f4f4f4"/>
<circle cx="41.8" cy="96.4" r="0.9" fill="#f4f4f4"/>
<circle cx="39.5" cy="98.8" r="0.9" fill="#f4f4f4"/>
<circle cx="85.1" cy="100.4" r="0.9" fill="#f4f4f4"/>
<circle cx="52.2" cy="101.5" r="0.9" fill="#f4f4f4"/>
<circle cx="83.5" cy="112.3" r="0.9" fill="#f4f4f4"/>
<circle cx="58.4" cy="97.4" r="0.9" fill="#f4f4f4"/>
<circle cx="61.1" cy="105.5" r="0.9" fill="#f4f4f4"/>
<circle cx="27.6" cy="89.6" r="0.9" fill="#f4f4f4"/>
<circle cx="113.3" cy="111.4" r="0.9" fill="#f4f4f4"/>
<circle cx="30.3" cy="91.1" r="0.9" fill="#f4f4f4"/>
<circle cx="66.5" cy="106.9" r="0.9" fill="#f4f4f4"/>
<circle cx="83.4" cy="108.9" r="0.9" fill="#f4f4f4"/>
<circle cx="96.4" cy="115.9" r="0.9" fill="#f4f4f4"/>
<circle cx="108.0" cy="111.7" r="0.9" fill="#f4f4f4"/>
<circle cx="65.1" cy="106.9" r="0.9" fill="#f4f4f4"/>
<circle cx="66.1" cy="107.4" r="0.9" fill="#f4f4f4"/>
<circle cx="84.9" cy="106.1" r="0.9" fill="#f4f4f4"/>
<circle cx="74.9" cy="97.4" r="0.9" fill="#f4f4f4"/>
<circle cx="25.2" cy="85.9" r="0.9" fill="#f4f4f4"/>
<circle cx="95.6" cy="117.3" r="0.9" fill="#f4f4f4"/>
<circle cx="51.0" cy="102.8" r="0.9" fill="#f4f4f4"/>
<circle cx="75.3" cy="102.5" r="0.9" fill="#f4f4f4"/>
<circle cx="53.4" cy="95.7" r="0.9" fill="#f4f4f4"/>
<circle cx="55.2" cy="96.0" r="0.9" fill="#f4f4f4"/>
<circle cx="46.8" cy="88.0" r="0.9" fill="#f4f4f4"/>
<circle cx="61.8" cy="106.6" r="0.9" fill="#f4f4f4"/>
<circle cx="29.5" cy="87.2" r="0.9" fill="#f4f4f4"/>
<circle cx="101.6" cy="112.7" r="0.9" fill="#f4f4f4"/>
<circle cx="35.5" cy="86.4" r="0.9" fill="#f4f4f4"/>
<circle cx="87.8" cy="114.7" r="0.9" fill="#f4f4f4"/>
<circle cx="56.5" cy="97.1" r="0.9" fill="#f4f4f4"/>
<circle cx="21.3" cy="93.0" r="0.9" fill="#f4f4f4"/>
<circle cx="54.0" cy="92.5" r="0.9" fill="#f4f4f4"/>
<circle cx="113.9" cy="121.4" r="0.9" fill="#f4f4f4"/>
<circle cx="105.7" cy="111.4" r="0.9" fill="#f4f4f4"/>
<circle cx="101.6" cy="113.5" r="0.9" fill="#f4f4f4"/>
<circle cx="111.3" cy="115.8" r="0.9" fill="#f4f4f4"/>
<circle cx="109.3" cy="116.4" r="0.9" fill="#f4f4f4"/>
<circle cx="39.3" cy="93.9" r="0.9" fill="#f4f4f4"/>
<circle cx="66.0" cy="105.2" r="0.9" fill="#f4f4f4"/>
<circle cx="55.8" cy="99.5" r="0.9" fill="#f4f4f4"/>
<circle cx="75.8" cy="109.8" r="0.9" fill="#f4f4f4"/>
<circle cx="46.9" cy="96.6" r="0.9" fill="#f4f4f4"/>
<circle cx="68.0" cy="104.8" r="0.9" fill="#f4f4f4"/>
<circle cx="82.9" cy="112.5" r="0.9" fill="#f4f4f4"/>
<circle cx="70.6" cy="107.5" r="0.9" fill="#f4f4f4"/>
<circle cx="92.8" cy="108.6" r="0.9" fill="#f4f4f4"/>
<circle cx="93.8" cy="112.0" r="0.9" fill="#f4f4f4"/>
<circle cx="44.2" cy="88.3" r="0.9" fill="#f4f4f4"/>
<circle cx="68.6" cy="105.6" r="0.9" fill="#f4f4f4"/>
<circle cx="48.1" cy="98.4" r="0.9" fill="#f4f4f4"/>
<circle cx="87.0" cy="104.6" r="0.9" fill="#f4f4f4"/>
<circle cx="66.0" cy="99.2" r="0.9" fill="#f4f4f4"/>
<circle cx="40.8" cy="95.3" r="0.9" fill="#f4f4f4"/>
<circle cx="54.4" cy="101.7" r="0.9" fill="#f4f4f4"/>
<circle cx="54.5" cy="95.0" r="0.9" fill="#f4f4f4"/>
<circle cx="89.3" cy="114.4" r="0.9" fill="#f4f4f4"/>
<circle cx="42.8" cy="90.5" r="0.9" fill="#f4f4f4"/>
<circle cx="82.0" cy="105.5" r="0.9" fill="#f4f4f4"/>
<circle cx="80.2" cy="104.6" r="0.9" fill="#f4f4f4"/>
<circle cx="46.4" cy="101.2" r="0.9" fill="#f4f4f4"/>
<circle cx="54.6" cy="104.1" r="0.9" fill="#f4f4f4"/>
<circle cx="110.7" cy="117.5" r="0.9" fill="#f4f4f4"/>
<circle cx="83.5" cy="100.5" r="0.9" fill="#f4f4f4"/>
<circle cx="96.0" cy="116.4" r="0.9" fill="#f4f4f4"/>
<circle cx="52.4" cy="102.9" r="0.9" fill="#f4f4f4"/>
<circle cx="95.2" cy="108.8" r="0.9" fill="#f4f4f4"/>
<circle cx="66.5" cy="105.0" r="0.9" fill="#f4f4f4"/>
<circle cx="46.2" cy="96.6" r="0.9" fill="#f4f4f4"/>
<circle cx="87.4" cy="103.2" r="0.9" fill="#f4f4f4"/>
<circle cx="100.1" cy="108.0" r="0.9" fill="#f4f4f4"/>
<circle cx="61.9" cy="102.8" r="0.9" fill="#f4f4f4"/>
<circle cx="50.3" cy="89.3" r="0.9" fill="#f4f4f4"/>
<circle cx="38.1" cy="97.8" r="0.9" fill="#f4f4f4"/>
<circle cx="47.2" cy="89.3" r="0.9" fill="#f4f4f4"/>
<circle cx="100.5" cy="116.8" r="0.9" fill="#f4f4f4"/>
<circle cx="100.4" cy="107.6" r="0.9" fill="#f4f4f4"/>
<circle cx="60.8" cy="105.1" r="0.9" fill="#f4f4f4"/>
<circle cx="93.0" cy="113.7" r="0.9" fill="#f4f4f4"/>
<circle cx="32.1" cy="84.7" r="0.9" fill="#f4f4f4"/>
<circle cx="62.0" cy="103.1" r="0.9" fill="#f4f4f4"/>
<circle cx="76.5" cy="109.6" r="0.9" fill="#f4f4f4"/>
<circle cx="22.9" cy="90.2" r="0.9" fill="#f4f4f4"/>
<circle cx="56.3" cy="104.7" r="0.9" fill="#f4f4f4"/>
<circle cx="55.6" cy="95.2" r="0.9" fill="#f4f4f4"/>
<circle cx="52.0" cy="95.5" r="0.9" fill="#f4f4f4"/>
<circle cx="79.2" cy="111.2" r="0.9" fill="#f4f4f4"/>
<g fill="#dedcae"><circle cx="44.3" cy="85.7" r="0.75"/><circle cx="44.3" cy="83.9" r="0.75"/><circle cx="43.5" cy="83.8" r="0.75"/><circle cx="42.1" cy="83.0" r="0.75"/><circle cx="41.2" cy="83.4" r="0.75"/><circle cx="40.0" cy="82.5" r="0.75"/><circle cx="40.7" cy="82.1" r="0.75"/><circle cx="40.4" cy="80.9" r="0.75"/><circle cx="40.1" cy="78.6" r="0.75"/><circle cx="39.8" cy="78.0" r="0.75"/><circle cx="36.5" cy="77.9" r="0.75"/><circle cx="35.9" cy="79.2" r="0.75"/><circle cx="35.4" cy="78.9" r="0.75"/><circle cx="35.3" cy="79.1" r="0.75"/><circle cx="33.6" cy="79.7" r="0.75"/><circle cx="35.0" cy="77.3" r="0.75"/><circle cx="34.9" cy="77.9" r="0.75"/><circle cx="35.2" cy="76.4" r="0.75"/><circle cx="35.5" cy="77.3" r="0.75"/><circle cx="36.1" cy="77.8" r="0.75"/><circle cx="37.8" cy="76.0" r="0.75"/><circle cx="38.3" cy="77.4" r="0.75"/><circle cx="40.0" cy="76.6" r="0.75"/><circle cx="41.3" cy="76.1" r="0.75"/><circle cx="42.4" cy="77.7" r="0.75"/><circle cx="44.0" cy="77.1" r="0.75"/><circle cx="45.5" cy="77.6" r="0.75"/><circle cx="44.3" cy="77.8" r="0.75"/><circle cx="47.3" cy="75.8" r="0.75"/><circle cx="48.2" cy="75.7" r="0.75"/><circle cx="48.8" cy="74.5" r="0.75"/><circle cx="47.8" cy="73.3" r="0.75"/><circle cx="47.0" cy="72.9" r="0.75"/><circle cx="49.0" cy="73.7" r="0.75"/><circle cx="49.1" cy="72.4" r="0.75"/><circle cx="48.5" cy="71.0" r="0.75"/><circle cx="47.0" cy="70.3" r="0.75"/><circle cx="46.6" cy="69.7" r="0.75"/><circle cx="44.9" cy="70.0" r="0.75"/><circle cx="43.1" cy="69.8" r="0.75"/><circle cx="43.2" cy="70.1" r="0.75"/><circle cx="42.3" cy="69.1" r="0.75"/><circle cx="41.7" cy="68.4" r="0.75"/><circle cx="40.1" cy="68.3" r="0.75"/><circle cx="38.9" cy="69.0" r="0.75"/><circle cx="40.3" cy="68.8" r="0.75"/><circle cx="40.8" cy="69.0" r="0.75"/><circle cx="41.9" cy="71.0" r="0.75"/><circle cx="42.7" cy="70.7" r="0.75"/><circle cx="41.2" cy="71.6" r="0.75"/><circle cx="42.1" cy="73.1" r="0.75"/><circle cx="43.5" cy="73.5" r="0.75"/><circle cx="43.2" cy="73.3" r="0.75"/><circle cx="43.4" cy="75.9" r="0.75"/><circle cx="44.8" cy="76.4" r="0.75"/><circle cx="46.0" cy="76.9" r="0.75"/><circle cx="45.4" cy="77.9" r="0.75"/><circle cx="46.4" cy="77.0" r="0.75"/><circle cx="48.0" cy="77.6" r="0.75"/><circle cx="48.5" cy="77.5" r="0.75"/><circle cx="51.0" cy="78.8" r="0.75"/><circle cx="52.1" cy="77.4" r="0.75"/><circle cx="51.2" cy="78.1" r="0.75"/><circle cx="53.6" cy="77.1" r="0.75"/><circle cx="54.5" cy="75.3" r="0.75"/><circle cx="54.3" cy="74.2" r="0.75"/><circle cx="48.9" cy="76.2" r="0.75"/><circle cx="50.3" cy="75.2" r="0.75"/><circle cx="52.4" cy="75.6" r="0.75"/><circle cx="52.5" cy="74.9" r="0.75"/><circle cx="53.4" cy="75.0" r="0.75"/><circle cx="54.1" cy="74.8" r="0.75"/><circle cx="56.5" cy="73.4" r="0.75"/><circle cx="56.6" cy="72.3" r="0.75"/><circle cx="57.6" cy="73.0" r="0.75"/><circle cx="59.3" cy="73.7" r="0.75"/><circle cx="59.0" cy="71.3" r="0.75"/><circle cx="60.4" cy="72.3" r="0.75"/><circle cx="61.1" cy="72.0" r="0.75"/><circle cx="61.8" cy="69.2" r="0.75"/><circle cx="62.8" cy="70.1" r="0.75"/><circle cx="62.2" cy="69.2" r="0.75"/><circle cx="62.2" cy="66.7" r="0.75"/><circle cx="60.4" cy="66.5" r="0.75"/><circle cx="60.6" cy="65.9" r="0.75"/><circle cx="60.5" cy="65.1" r="0.75"/><circle cx="59.9" cy="64.5" r="0.75"/><circle cx="58.7" cy="64.4" r="0.75"/><circle cx="56.8" cy="64.6" r="0.75"/><circle cx="55.6" cy="64.4" r="0.75"/><circle cx="55.6" cy="63.4" r="0.75"/><circle cx="55.4" cy="62.6" r="0.75"/><circle cx="54.8" cy="61.9" r="0.75"/><circle cx="54.0" cy="62.4" r="0.75"/><circle cx="52.6" cy="61.2" r="0.75"/><circle cx="50.6" cy="62.9" r="0.75"/><circle cx="49.9" cy="63.4" r="0.75"/><circle cx="50.7" cy="63.6" r="0.75"/><circle cx="49.5" cy="65.0" r="0.75"/><circle cx="47.6" cy="66.4" r="0.75"/><circle cx="47.2" cy="66.5" r="0.75"/><circle cx="47.3" cy="66.6" r="0.75"/><circle cx="45.1" cy="65.1" r="0.75"/><circle cx="45.1" cy="65.5" r="0.75"/><circle cx="44.9" cy="63.9" r="0.75"/><circle cx="47.1" cy="63.9" r="0.75"/><circle cx="46.7" cy="62.4" r="0.75"/><circle cx="47.9" cy="62.4" r="0.75"/><circle cx="46.9" cy="62.1" r="0.75"/><circle cx="48.4" cy="62.9" r="0.75"/><circle cx="50.6" cy="63.3" r="0.75"/><circle cx="50.7" cy="65.5" r="0.75"/><circle cx="50.8" cy="65.2" r="0.75"/><circle cx="51.4" cy="67.2" r="0.75"/><circle cx="51.9" cy="67.6" r="0.75"/><circle cx="50.3" cy="67.9" r="0.75"/><circle cx="51.6" cy="70.3" r="0.75"/><circle cx="51.9" cy="69.7" r="0.75"/><circle cx="50.2" cy="71.4" r="0.75"/><circle cx="50.9" cy="71.5" r="0.75"/><circle cx="51.7" cy="73.1" r="0.75"/><circle cx="50.5" cy="73.4" r="0.75"/><circle cx="53.3" cy="74.1" r="0.75"/><circle cx="52.1" cy="74.6" r="0.75"/><circle cx="53.1" cy="75.5" r="0.75"/><circle cx="53.4" cy="75.4" r="0.75"/><circle cx="55.4" cy="77.7" r="0.75"/><circle cx="55.5" cy="76.8" r="0.75"/><circle cx="54.8" cy="78.8" r="0.75"/><circle cx="55.6" cy="80.0" r="0.75"/><circle cx="57.8" cy="80.7" r="0.75"/><circle cx="59.5" cy="80.1" r="0.75"/><circle cx="60.6" cy="79.4" r="0.75"/><circle cx="61.4" cy="80.3" r="0.75"/><circle cx="93.6" cy="80.5" r="0.75"/><circle cx="94.6" cy="81.7" r="0.75"/><circle cx="95.1" cy="82.4" r="0.75"/><circle cx="94.6" cy="82.2" r="0.75"/><circle cx="95.9" cy="81.8" r="0.75"/><circle cx="97.6" cy="82.3" r="0.75"/><circle cx="99.0" cy="82.8" r="0.75"/><circle cx="99.4" cy="83.3" r="0.75"/><circle cx="97.7" cy="84.4" r="0.75"/><circle cx="100.3" cy="85.5" r="0.75"/><circle cx="100.1" cy="85.3" r="0.75"/><circle cx="98.5" cy="86.7" r="0.75"/><circle cx="99.2" cy="84.9" r="0.75"/><circle cx="96.2" cy="86.3" r="0.75"/><circle cx="97.1" cy="85.3" r="0.75"/><circle cx="96.2" cy="85.7" r="0.75"/><circle cx="95.2" cy="84.4" r="0.75"/><circle cx="92.6" cy="84.6" r="0.75"/><circle cx="93.1" cy="82.2" r="0.75"/><circle cx="90.8" cy="82.0" r="0.75"/><circle cx="90.4" cy="80.9" r="0.75"/><circle cx="89.2" cy="82.0" r="0.75"/><circle cx="88.5" cy="81.7" r="0.75"/><circle cx="86.9" cy="80.9" r="0.75"/><circle cx="87.7" cy="81.2" r="0.75"/><circle cx="85.4" cy="80.5" r="0.75"/><circle cx="84.3" cy="81.9" r="0.75"/><circle cx="84.7" cy="82.3" r="0.75"/><circle cx="82.1" cy="80.5" r="0.75"/><circle cx="80.9" cy="80.5" r="0.75"/><circle cx="81.5" cy="81.3" r="0.75"/><circle cx="80.3" cy="80.9" r="0.75"/><circle cx="78.3" cy="79.3" r="0.75"/><circle cx="79.3" cy="78.6" r="0.75"/><circle cx="78.6" cy="78.6" r="0.75"/><circle cx="78.4" cy="77.7" r="0.75"/><circle cx="77.3" cy="76.4" r="0.75"/><circle cx="76.7" cy="74.7" r="0.75"/><circle cx="75.2" cy="75.2" r="0.75"/><circle cx="74.5" cy="73.3" r="0.75"/><circle cx="74.2" cy="74.6" r="0.75"/><circle cx="72.9" cy="73.7" r="0.75"/><circle cx="72.5" cy="71.5" r="0.75"/><circle cx="73.1" cy="70.4" r="0.75"/><circle cx="73.4" cy="71.1" r="0.75"/><circle cx="72.4" cy="69.4" r="0.75"/><circle cx="72.7" cy="68.2" r="0.75"/><circle cx="70.8" cy="67.7" r="0.75"/><circle cx="70.9" cy="65.9" r="0.75"/><circle cx="69.8" cy="66.1" r="0.75"/><circle cx="69.0" cy="66.6" r="0.75"/><circle cx="68.8" cy="65.1" r="0.75"/><circle cx="68.7" cy="64.6" r="0.75"/><circle cx="67.3" cy="64.5" r="0.75"/><circle cx="68.8" cy="63.3" r="0.75"/><circle cx="68.0" cy="62.4" r="0.75"/><circle cx="69.7" cy="62.3" r="0.75"/><circle cx="69.7" cy="59.1" r="0.75"/><circle cx="68.6" cy="58.6" r="0.75"/><circle cx="69.6" cy="57.4" r="0.75"/><circle cx="69.8" cy="59.6" r="0.75"/><circle cx="71.7" cy="60.2" r="0.75"/><circle cx="72.4" cy="59.7" r="0.75"/><circle cx="72.6" cy="61.3" r="0.75"/><circle cx="72.9" cy="61.9" r="0.75"/><circle cx="74.9" cy="61.1" r="0.75"/><circle cx="76.5" cy="62.2" r="0.75"/><circle cx="77.9" cy="61.0" r="0.75"/><circle cx="56.1" cy="76.6" r="0.75"/><circle cx="54.7" cy="75.2" r="0.75"/><circle cx="54.5" cy="75.5" r="0.75"/><circle cx="55.4" cy="75.0" r="0.75"/><circle cx="55.0" cy="73.5" r="0.75"/><circle cx="55.7" cy="71.8" r="0.75"/><circle cx="55.9" cy="71.2" r="0.75"/><circle cx="55.2" cy="71.4" r="0.75"/><circle cx="56.1" cy="69.4" r="0.75"/><circle cx="53.4" cy="68.5" r="0.75"/><circle cx="53.1" cy="68.8" r="0.75"/><circle cx="54.2" cy="67.6" r="0.75"/><circle cx="53.9" cy="66.6" r="0.75"/><circle cx="52.0" cy="67.6" r="0.75"/><circle cx="51.8" cy="66.1" r="0.75"/><circle cx="50.9" cy="66.0" r="0.75"/><circle cx="49.7" cy="64.1" r="0.75"/><circle cx="48.2" cy="65.4" r="0.75"/><circle cx="47.1" cy="63.6" r="0.75"/><circle cx="47.2" cy="65.7" r="0.75"/><circle cx="45.5" cy="64.7" r="0.75"/><circle cx="46.8" cy="63.5" r="0.75"/><circle cx="45.8" cy="62.7" r="0.75"/><circle cx="46.7" cy="63.8" r="0.75"/><circle cx="49.2" cy="62.3" r="0.75"/><circle cx="47.2" cy="65.5" r="0.75"/><circle cx="49.2" cy="65.2" r="0.75"/><circle cx="50.0" cy="65.1" r="0.75"/><circle cx="49.5" cy="66.5" r="0.75"/><circle cx="50.5" cy="67.5" r="0.75"/><circle cx="50.9" cy="67.5" r="0.75"/><circle cx="53.5" cy="68.0" r="0.75"/><circle cx="54.1" cy="67.9" r="0.75"/><circle cx="54.7" cy="69.4" r="0.75"/><circle cx="56.0" cy="70.5" r="0.75"/><circle cx="56.8" cy="70.3" r="0.75"/><circle cx="57.5" cy="71.0" r="0.75"/><circle cx="58.3" cy="71.0" r="0.75"/><circle cx="59.1" cy="70.6" r="0.75"/><circle cx="60.2" cy="70.6" r="0.75"/><circle cx="62.0" cy="70.4" r="0.75"/><circle cx="61.8" cy="69.1" r="0.75"/><circle cx="63.1" cy="69.2" r="0.75"/><circle cx="63.6" cy="68.7" r="0.75"/><circle cx="65.0" cy="68.3" r="0.75"/><circle cx="65.4" cy="69.2" r="0.75"/><circle cx="66.6" cy="67.9" r="0.75"/><circle cx="68.9" cy="69.3" r="0.75"/><circle cx="68.5" cy="70.0" r="0.75"/><circle cx="70.6" cy="69.6" r="0.75"/><circle cx="70.1" cy="71.2" r="0.75"/><circle cx="70.3" cy="73.3" r="0.75"/><circle cx="69.9" cy="72.9" r="0.75"/><circle cx="70.0" cy="73.1" r="0.75"/><circle cx="71.9" cy="75.7" r="0.75"/><circle cx="71.5" cy="76.3" r="0.75"/><circle cx="73.5" cy="75.6" r="0.75"/><circle cx="72.9" cy="76.8" r="0.75"/><circle cx="73.9" cy="78.3" r="0.75"/><circle cx="73.9" cy="79.6" r="0.75"/><circle cx="74.4" cy="78.4" r="0.75"/><circle cx="75.1" cy="80.2" r="0.75"/><circle cx="76.1" cy="81.1" r="0.75"/><circle cx="75.2" cy="81.2" r="0.75"/><circle cx="76.3" cy="82.0" r="0.75"/><circle cx="78.1" cy="84.0" r="0.75"/><circle cx="76.9" cy="83.0" r="0.75"/><circle cx="79.1" cy="85.2" r="0.75"/><circle cx="95.2" cy="87.9" r="0.75"/><circle cx="93.5" cy="90.3" r="0.75"/><circle cx="94.7" cy="91.4" r="0.75"/><circle cx="93.9" cy="90.1" r="0.75"/><circle cx="94.4" cy="91.2" r="0.75"/><circle cx="94.5" cy="93.0" r="0.75"/><circle cx="93.4" cy="91.6" r="0.75"/><circle cx="93.4" cy="92.6" r="0.75"/><circle cx="93.0" cy="91.0" r="0.75"/><circle cx="91.8" cy="91.3" r="0.75"/><circle cx="89.1" cy="92.5" r="0.75"/><circle cx="89.4" cy="91.8" r="0.75"/><circle cx="87.0" cy="92.3" r="0.75"/><circle cx="87.7" cy="91.9" r="0.75"/><circle cx="86.9" cy="93.6" r="0.75"/><circle cx="83.8" cy="92.3" r="0.75"/><circle cx="83.4" cy="93.1" r="0.75"/><circle cx="83.3" cy="93.8" r="0.75"/><circle cx="82.1" cy="92.1" r="0.75"/><circle cx="80.9" cy="92.4" r="0.75"/><circle cx="80.9" cy="91.9" r="0.75"/><circle cx="80.4" cy="90.9" r="0.75"/><circle cx="79.5" cy="90.6" r="0.75"/><circle cx="78.6" cy="88.6" r="0.75"/><circle cx="76.6" cy="89.3" r="0.75"/><circle cx="74.7" cy="88.0" r="0.75"/><circle cx="75.6" cy="89.1" r="0.75"/><circle cx="75.1" cy="86.6" r="0.75"/><circle cx="73.5" cy="88.0" r="0.75"/><circle cx="71.8" cy="87.8" r="0.75"/><circle cx="71.8" cy="86.6" r="0.75"/><circle cx="70.8" cy="86.0" r="0.75"/><circle cx="70.6" cy="84.4" r="0.75"/><circle cx="69.4" cy="84.2" r="0.75"/><circle cx="67.7" cy="85.5" r="0.75"/><circle cx="66.0" cy="84.0" r="0.75"/><circle cx="65.0" cy="84.4" r="0.75"/><circle cx="64.6" cy="83.3" r="0.75"/><circle cx="65.0" cy="83.1" r="0.75"/><circle cx="62.7" cy="81.5" r="0.75"/><circle cx="62.7" cy="80.2" r="0.75"/><circle cx="62.7" cy="79.7" r="0.75"/><circle cx="61.4" cy="80.1" r="0.75"/><circle cx="61.1" cy="78.3" r="0.75"/><circle cx="59.9" cy="78.9" r="0.75"/><circle cx="60.4" cy="76.4" r="0.75"/><circle cx="59.9" cy="75.1" r="0.75"/><circle cx="60.5" cy="76.4" r="0.75"/><circle cx="61.3" cy="73.9" r="0.75"/><circle cx="61.4" cy="74.1" r="0.75"/><circle cx="62.6" cy="73.4" r="0.75"/><circle cx="64.0" cy="72.8" r="0.75"/><circle cx="65.3" cy="74.3" r="0.75"/><circle cx="65.9" cy="75.5" r="0.75"/><circle cx="66.2" cy="75.3" r="0.75"/><circle cx="67.2" cy="75.5" r="0.75"/><circle cx="66.3" cy="76.5" r="0.75"/><circle cx="66.0" cy="78.9" r="0.75"/><circle cx="64.9" cy="79.0" r="0.75"/><circle cx="65.5" cy="79.3" r="0.75"/><circle cx="65.1" cy="79.2" r="0.75"/><circle cx="65.3" cy="81.1" r="0.75"/><circle cx="64.0" cy="81.0" r="0.75"/><circle cx="63.9" cy="83.8" r="0.75"/><circle cx="64.0" cy="84.3" r="0.75"/><circle cx="66.1" cy="83.3" r="0.75"/><circle cx="66.3" cy="84.3" r="0.75"/><circle cx="69.6" cy="83.3" r="0.75"/><circle cx="69.2" cy="83.7" r="0.75"/><circle cx="54.4" cy="66.5" r="0.75"/><circle cx="51.6" cy="67.2" r="0.75"/><circle cx="52.0" cy="66.7" r="0.75"/><circle cx="50.7" cy="67.0" r="0.75"/><circle cx="48.9" cy="66.1" r="0.75"/><circle cx="49.8" cy="65.0" r="0.75"/><circle cx="48.6" cy="64.0" r="0.75"/><circle cx="46.2" cy="64.5" r="0.75"/><circle cx="46.3" cy="62.8" r="0.75"/><circle cx="46.8" cy="63.8" r="0.75"/><circle cx="48.7" cy="62.6" r="0.75"/><circle cx="48.9" cy="61.0" r="0.75"/><circle cx="49.2" cy="60.6" r="0.75"/><circle cx="49.3" cy="62.3" r="0.75"/><circle cx="51.2" cy="62.5" r="0.75"/><circle cx="52.9" cy="60.6" r="0.75"/><circle cx="53.8" cy="61.2" r="0.75"/><circle cx="53.4" cy="61.5" r="0.75"/><circle cx="56.2" cy="63.3" r="0.75"/><circle cx="56.8" cy="63.7" r="0.75"/><circle cx="56.2" cy="61.9" r="0.75"/><circle cx="57.9" cy="63.7" r="0.75"/><circle cx="60.5" cy="62.1" r="0.75"/><circle cx="61.5" cy="62.5" r="0.75"/><circle cx="61.5" cy="60.4" r="0.75"/><circle cx="60.8" cy="60.5" r="0.75"/><circle cx="63.3" cy="60.3" r="0.75"/><circle cx="64.4" cy="60.3" r="0.75"/><circle cx="65.5" cy="59.9" r="0.75"/><circle cx="64.8" cy="58.7" r="0.75"/><circle cx="67.3" cy="59.1" r="0.75"/><circle cx="68.2" cy="58.1" r="0.75"/><circle cx="68.1" cy="59.4" r="0.75"/><circle cx="69.0" cy="58.4" r="0.75"/><circle cx="70.0" cy="60.5" r="0.75"/><circle cx="68.4" cy="60.0" r="0.75"/><circle cx="67.9" cy="61.4" r="0.75"/><circle cx="69.6" cy="61.6" r="0.75"/><circle cx="69.4" cy="62.6" r="0.75"/><circle cx="71.2" cy="63.1" r="0.75"/><circle cx="72.4" cy="62.9" r="0.75"/><circle cx="72.6" cy="65.4" r="0.75"/><circle cx="74.4" cy="64.2" r="0.75"/><circle cx="75.3" cy="66.1" r="0.75"/><circle cx="76.8" cy="66.9" r="0.75"/><circle cx="76.2" cy="66.2" r="0.75"/><circle cx="78.4" cy="67.0" r="0.75"/><circle cx="78.5" cy="67.4" r="0.75"/><circle cx="77.6" cy="68.1" r="0.75"/><circle cx="78.4" cy="70.7" r="0.75"/><circle cx="77.5" cy="70.1" r="0.75"/><circle cx="79.4" cy="72.0" r="0.75"/><circle cx="78.5" cy="71.4" r="0.75"/><circle cx="77.4" cy="74.1" r="0.75"/><circle cx="77.9" cy="75.4" r="0.75"/><circle cx="78.9" cy="76.4" r="0.75"/><circle cx="77.9" cy="77.1" r="0.75"/><circle cx="77.7" cy="76.8" r="0.75"/><circle cx="78.3" cy="77.8" r="0.75"/><circle cx="78.9" cy="79.9" r="0.75"/><circle cx="77.5" cy="80.6" r="0.75"/><circle cx="77.8" cy="80.5" r="0.75"/><circle cx="77.2" cy="80.5" r="0.75"/><circle cx="78.7" cy="81.8" r="0.75"/><circle cx="80.0" cy="82.4" r="0.75"/><circle cx="78.9" cy="84.6" r="0.75"/><circle cx="79.0" cy="84.5" r="0.75"/><circle cx="79.9" cy="86.6" r="0.75"/><circle cx="87.3" cy="75.9" r="0.75"/><circle cx="88.4" cy="75.7" r="0.75"/><circle cx="90.1" cy="75.8" r="0.75"/><circle cx="88.9" cy="76.5" r="0.75"/><circle cx="91.2" cy="78.4" r="0.75"/><circle cx="90.5" cy="79.5" r="0.75"/><circle cx="90.6" cy="78.8" r="0.75"/><circle cx="92.8" cy="80.5" r="0.75"/><circle cx="92.5" cy="80.0" r="0.75"/><circle cx="93.1" cy="82.0" r="0.75"/><circle cx="92.4" cy="83.5" r="0.75"/><circle cx="94.3" cy="83.5" r="0.75"/><circle cx="95.8" cy="83.7" r="0.75"/><circle cx="97.0" cy="85.4" r="0.75"/><circle cx="96.1" cy="85.5" r="0.75"/><circle cx="98.6" cy="86.5" r="0.75"/><circle cx="98.3" cy="86.9" r="0.75"/><circle cx="97.3" cy="87.4" r="0.75"/><circle cx="99.8" cy="87.3" r="0.75"/><circle cx="96.7" cy="88.1" r="0.75"/><circle cx="95.6" cy="88.5" r="0.75"/><circle cx="95.5" cy="88.1" r="0.75"/><circle cx="93.7" cy="87.9" r="0.75"/><circle cx="94.6" cy="89.8" r="0.75"/><circle cx="92.4" cy="89.8" r="0.75"/><circle cx="90.5" cy="88.8" r="0.75"/><circle cx="89.3" cy="90.2" r="0.75"/><circle cx="88.4" cy="89.9" r="0.75"/><circle cx="87.1" cy="89.4" r="0.75"/><circle cx="86.2" cy="88.5" r="0.75"/><circle cx="85.6" cy="90.2" r="0.75"/><circle cx="85.3" cy="88.8" r="0.75"/><circle cx="83.8" cy="89.6" r="0.75"/><circle cx="83.2" cy="89.4" r="0.75"/><circle cx="82.4" cy="90.1" r="0.75"/><circle cx="82.2" cy="90.8" r="0.75"/><circle cx="80.6" cy="92.8" r="0.75"/><circle cx="81.8" cy="93.9" r="0.75"/><circle cx="81.5" cy="92.7" r="0.75"/><circle cx="81.5" cy="95.1" r="0.75"/><circle cx="82.2" cy="95.8" r="0.75"/><circle cx="81.1" cy="96.7" r="0.75"/><circle cx="83.6" cy="97.2" r="0.75"/><circle cx="84.0" cy="98.1" r="0.75"/><circle cx="84.0" cy="98.8" r="0.75"/><circle cx="81.4" cy="99.2" r="0.75"/><circle cx="80.4" cy="98.6" r="0.75"/><circle cx="79.6" cy="100.1" r="0.75"/><circle cx="80.5" cy="100.3" r="0.75"/><circle cx="78.6" cy="100.8" r="0.75"/><circle cx="78.1" cy="99.2" r="0.75"/><circle cx="76.8" cy="101.1" r="0.75"/><circle cx="75.1" cy="99.5" r="0.75"/><circle cx="74.7" cy="101.3" r="0.75"/><circle cx="73.5" cy="100.9" r="0.75"/><circle cx="71.8" cy="100.5" r="0.75"/><circle cx="71.3" cy="99.1" r="0.75"/><circle cx="70.5" cy="98.9" r="0.75"/><circle cx="70.1" cy="97.0" r="0.75"/><circle cx="69.3" cy="97.4" r="0.75"/><circle cx="68.3" cy="96.3" r="0.75"/><circle cx="67.1" cy="97.0" r="0.75"/><circle cx="65.2" cy="97.7" r="0.75"/><circle cx="64.6" cy="96.2" r="0.75"/><circle cx="62.4" cy="97.5" r="0.75"/><circle cx="63.3" cy="96.0" r="0.75"/><circle cx="62.0" cy="96.1" r="0.75"/><circle cx="61.1" cy="95.9" r="0.75"/></g>
<g fill="#40c8c0"><circle cx="104.2" cy="80.1" r="1.35"/><circle cx="85.5" cy="114.4" r="1.35"/><circle cx="22.3" cy="68.5" r="1.35"/><circle cx="104.3" cy="84.1" r="1.35"/><circle cx="79.1" cy="59.8" r="1.35"/><circle cx="42.7" cy="96.0" r="1.35"/><circle cx="49.8" cy="82.3" r="1.35"/><circle cx="26.9" cy="68.6" r="1.35"/><circle cx="22.9" cy="81.1" r="1.35"/><circle cx="61.4" cy="61.3" r="1.35"/><circle cx="136.9" cy="41.6" r="1.35"/><circle cx="98.9" cy="71.2" r="1.35"/><circle cx="69.6" cy="90.5" r="1.35"/><circle cx="83.1" cy="113.4" r="1.35"/><circle cx="132.1" cy="65.7" r="1.35"/><circle cx="99.1" cy="94.6" r="1.35"/><circle cx="132.5" cy="69.0" r="1.35"/><circle cx="38.9" cy="92.9" r="1.35"/><circle cx="21.2" cy="86.4" r="1.35"/><circle cx="111.3" cy="50.9" r="1.35"/><circle cx="114.0" cy="122.2" r="1.35"/><circle cx="122.9" cy="106.6" r="1.35"/><circle cx="85.8" cy="109.5" r="1.35"/><circle cx="120.2" cy="92.4" r="1.35"/><circle cx="102.0" cy="52.7" r="1.35"/><circle cx="58.0" cy="65.6" r="1.35"/><circle cx="56.6" cy="43.8" r="1.35"/><circle cx="83.9" cy="92.5" r="1.35"/><circle cx="71.5" cy="77.5" r="1.35"/><circle cx="82.9" cy="79.1" r="1.35"/><circle cx="31.8" cy="49.9" r="1.35"/><circle cx="80.4" cy="107.3" r="1.35"/><circle cx="70.5" cy="42.2" r="1.35"/><circle cx="137.4" cy="49.1" r="1.35"/><circle cx="99.4" cy="49.9" r="1.35"/><circle cx="47.6" cy="74.1" r="1.35"/><circle cx="113.5" cy="75.3" r="1.35"/><circle cx="68.6" cy="72.4" r="1.35"/><circle cx="82.3" cy="61.7" r="1.35"/><circle cx="139.8" cy="53.8" r="1.35"/><circle cx="30.6" cy="85.3" r="1.35"/><circle cx="59.7" cy="100.5" r="1.35"/><circle cx="52.9" cy="75.1" r="1.35"/><circle cx="55.2" cy="83.9" r="1.35"/><circle cx="50.4" cy="95.9" r="1.35"/><circle cx="67.7" cy="99.3" r="1.35"/><circle cx="51.8" cy="77.2" r="1.35"/><circle cx="87.1" cy="100.2" r="1.35"/><circle cx="99.8" cy="74.8" r="1.35"/><circle cx="24.4" cy="46.9" r="1.35"/><circle cx="32.5" cy="53.2" r="1.35"/><circle cx="37.4" cy="95.3" r="1.35"/><circle cx="44.1" cy="58.6" r="1.35"/><circle cx="37.3" cy="49.7" r="1.35"/><circle cx="103.7" cy="87.9" r="1.35"/><circle cx="102.9" cy="74.7" r="1.35"/><circle cx="93.8" cy="94.8" r="1.35"/><circle cx="71.6" cy="45.1" r="1.35"/><circle cx="62.7" cy="93.2" r="1.35"/><circle cx="127.9" cy="69.8" r="1.35"/><circle cx="62.5" cy="82.1" r="1.35"/><circle cx="46.6" cy="55.5" r="1.35"/><circle cx="16.3" cy="48.4" r="1.35"/><circle cx="94.9" cy="91.5" r="1.35"/><circle cx="71.0" cy="74.4" r="1.35"/><circle cx="32.4" cy="85.2" r="1.35"/><circle cx="49.5" cy="47.7" r="1.35"/><circle cx="128.8" cy="87.6" r="1.35"/><circle cx="129.5" cy="62.9" r="1.35"/><circle cx="89.7" cy="61.4" r="1.35"/><circle cx="123.5" cy="55.4" r="1.35"/><circle cx="99.1" cy="85.8" r="1.35"/><circle cx="56.3" cy="44.0" r="1.35"/><circle cx="77.7" cy="83.0" r="1.35"/><circle cx="121.8" cy="54.9" r="1.35"/><circle cx="37.7" cy="63.9" r="1.35"/><circle cx="119.7" cy="57.4" r="1.35"/><circle cx="97.3" cy="39.8" r="1.35"/><circle cx="79.1" cy="46.9" r="1.35"/><circle cx="65.0" cy="86.0" r="1.35"/><circle cx="68.9" cy="81.5" r="1.35"/><circle cx="90.1" cy="67.5" r="1.35"/><circle cx="50.8" cy="53.5" r="1.35"/><circle cx="63.3" cy="90.1" r="1.35"/><circle cx="86.5" cy="54.6" r="1.35"/><circle cx="34.6" cy="86.7" r="1.35"/><circle cx="34.8" cy="94.5" r="1.35"/><circle cx="100.8" cy="82.9" r="1.35"/><circle cx="76.3" cy="56.1" r="1.35"/><circle cx="67.0" cy="43.6" r="1.35"/><circle cx="90.3" cy="56.3" r="1.35"/><circle cx="106.3" cy="52.3" r="1.35"/><circle cx="104.7" cy="91.3" r="1.35"/><circle cx="107.7" cy="120.6" r="1.35"/><circle cx="52.3" cy="97.1" r="1.35"/><circle cx="122.8" cy="104.2" r="1.35"/><circle cx="92.8" cy="60.0" r="1.35"/><circle cx="122.3" cy="96.7" r="1.35"/><circle cx="73.5" cy="71.8" r="1.35"/><circle cx="118.8" cy="94.6" r="1.35"/><circle cx="84.8" cy="113.9" r="1.35"/><circle cx="74.8" cy="45.6" r="1.35"/><circle cx="125.0" cy="44.8" r="1.35"/><circle cx="130.3" cy="56.8" r="1.35"/><circle cx="103.1" cy="73.1" r="1.35"/><circle cx="92.3" cy="85.7" r="1.35"/><circle cx="84.8" cy="77.7" r="1.35"/><circle cx="67.8" cy="97.7" r="1.35"/><circle cx="85.2" cy="68.1" r="1.35"/><circle cx="128.2" cy="53.1" r="1.35"/><circle cx="112.6" cy="108.0" r="1.35"/><circle cx="37.8" cy="66.5" r="1.35"/><circle cx="81.4" cy="101.0" r="1.35"/><circle cx="72.7" cy="63.6" r="1.35"/><circle cx="128.3" cy="71.5" r="1.35"/><circle cx="68.8" cy="56.7" r="1.35"/><circle cx="77.2" cy="99.1" r="1.35"/><circle cx="61.1" cy="95.3" r="1.35"/><circle cx="40.3" cy="50.5" r="1.35"/><circle cx="126.2" cy="82.5" r="1.35"/><circle cx="18.6" cy="60.9" r="1.35"/><circle cx="81.0" cy="52.3" r="1.35"/><circle cx="72.1" cy="57.5" r="1.35"/><circle cx="92.5" cy="46.9" r="1.35"/><circle cx="82.2" cy="94.0" r="1.35"/><circle cx="24.8" cy="85.3" r="1.35"/><circle cx="54.2" cy="102.5" r="1.35"/><circle cx="94.9" cy="117.0" r="1.35"/><circle cx="93.8" cy="53.1" r="1.35"/><circle cx="120.8" cy="42.5" r="1.35"/><circle cx="68.4" cy="61.9" r="1.35"/><circle cx="87.4" cy="102.5" r="1.35"/><circle cx="114.7" cy="61.4" r="1.35"/><circle cx="95.3" cy="70.0" r="1.35"/><circle cx="76.1" cy="83.7" r="1.35"/><circle cx="101.7" cy="51.8" r="1.35"/><circle cx="124.5" cy="51.2" r="1.35"/><circle cx="140.1" cy="54.7" r="1.35"/><circle cx="60.6" cy="44.4" r="1.35"/><circle cx="75.7" cy="67.5" r="1.35"/><circle cx="111.2" cy="80.4" r="1.35"/><circle cx="132.0" cy="86.7" r="1.35"/><circle cx="83.1" cy="52.0" r="1.35"/><circle cx="55.7" cy="56.4" r="1.35"/><circle cx="39.1" cy="91.0" r="1.35"/><circle cx="56.2" cy="104.6" r="1.35"/><circle cx="89.2" cy="109.8" r="1.35"/><circle cx="80.5" cy="92.6" r="1.35"/><circle cx="44.7" cy="98.3" r="1.35"/><circle cx="67.0" cy="100.5" r="1.35"/><circle cx="90.7" cy="49.3" r="1.35"/><circle cx="53.0" cy="103.2" r="1.35"/><circle cx="85.5" cy="99.9" r="1.35"/><circle cx="56.8" cy="79.0" r="1.35"/><circle cx="76.4" cy="102.9" r="1.35"/><circle cx="22.7" cy="81.9" r="1.35"/><circle cx="47.5" cy="88.9" r="1.35"/><circle cx="47.5" cy="55.1" r="1.35"/><circle cx="110.8" cy="60.7" r="1.35"/><circle cx="28.0" cy="82.7" r="1.35"/><circle cx="78.9" cy="96.0" r="1.35"/><circle cx="95.8" cy="43.4" r="1.35"/><circle cx="53.5" cy="99.6" r="1.35"/><circle cx="104.3" cy="78.0" r="1.35"/><circle cx="89.2" cy="101.7" r="1.35"/><circle cx="102.2" cy="72.2" r="1.35"/><circle cx="79.3" cy="81.7" r="1.35"/><circle cx="41.7" cy="60.0" r="1.35"/><circle cx="105.8" cy="97.6" r="1.35"/><circle cx="80.8" cy="87.4" r="1.35"/><circle cx="40.4" cy="78.1" r="1.35"/><circle cx="23.3" cy="59.4" r="1.35"/><circle cx="119.2" cy="107.2" r="1.35"/><circle cx="128.5" cy="59.6" r="1.35"/><circle cx="136.9" cy="69.7" r="1.35"/><circle cx="85.4" cy="96.9" r="1.35"/><circle cx="48.2" cy="46.3" r="1.35"/><circle cx="122.6" cy="59.0" r="1.35"/><circle cx="55.3" cy="83.4" r="1.35"/><circle cx="117.7" cy="88.1" r="1.35"/><circle cx="104.9" cy="66.9" r="1.35"/><circle cx="30.0" cy="65.6" r="1.35"/><circle cx="111.4" cy="86.6" r="1.35"/><circle cx="30.9" cy="58.2" r="1.35"/><circle cx="76.2" cy="38.3" r="1.35"/><circle cx="19.0" cy="76.6" r="1.35"/><circle cx="118.7" cy="64.8" r="1.35"/><circle cx="95.1" cy="71.1" r="1.35"/><circle cx="69.1" cy="64.8" r="1.35"/><circle cx="99.7" cy="114.7" r="1.35"/><circle cx="104.7" cy="53.0" r="1.35"/><circle cx="80.3" cy="111.8" r="1.35"/><circle cx="27.3" cy="89.6" r="1.35"/><circle cx="117.5" cy="105.3" r="1.35"/><circle cx="102.5" cy="42.5" r="1.35"/><circle cx="76.6" cy="60.7" r="1.35"/><circle cx="93.9" cy="71.9" r="1.35"/><circle cx="73.6" cy="84.3" r="1.35"/><circle cx="91.2" cy="115.3" r="1.35"/><circle cx="50.5" cy="61.2" r="1.35"/><circle cx="37.5" cy="46.9" r="1.35"/><circle cx="29.7" cy="68.7" r="1.35"/><circle cx="53.4" cy="42.9" r="1.35"/><circle cx="46.2" cy="81.2" r="1.35"/><circle cx="75.9" cy="97.0" r="1.35"/><circle cx="33.6" cy="47.8" r="1.35"/><circle cx="56.9" cy="45.0" r="1.35"/><circle cx="29.3" cy="46.1" r="1.35"/><circle cx="119.4" cy="114.4" r="1.35"/><circle cx="125.2" cy="94.3" r="1.35"/><circle cx="140.0" cy="56.5" r="1.35"/><circle cx="99.0" cy="49.8" r="1.35"/><circle cx="101.6" cy="96.2" r="1.35"/><circle cx="43.8" cy="78.9" r="1.35"/><circle cx="96.9" cy="97.8" r="1.35"/><circle cx="95.7" cy="42.4" r="1.35"/><circle cx="81.5" cy="89.0" r="1.35"/><circle cx="78.5" cy="103.5" r="1.35"/><circle cx="83.9" cy="61.4" r="1.35"/><circle cx="81.7" cy="55.8" r="1.35"/><circle cx="40.8" cy="81.7" r="1.35"/><circle cx="90.6" cy="88.0" r="1.35"/><circle cx="74.2" cy="81.8" r="1.35"/><circle cx="104.5" cy="114.5" r="1.35"/><circle cx="81.6" cy="106.0" r="1.35"/></g>
<g fill="#9a28c8"><circle cx="103.4" cy="47.5" r="1.25"/><circle cx="47.5" cy="64.6" r="1.25"/><circle cx="60.1" cy="80.2" r="1.25"/><circle cx="110.6" cy="69.7" r="1.25"/><circle cx="106.1" cy="118.4" r="1.25"/><circle cx="34.2" cy="92.4" r="1.25"/><circle cx="55.6" cy="49.7" r="1.25"/><circle cx="120.3" cy="73.6" r="1.25"/><circle cx="59.6" cy="77.8" r="1.25"/><circle cx="109.8" cy="115.7" r="1.25"/><circle cx="36.4" cy="69.5" r="1.25"/><circle cx="58.3" cy="52.6" r="1.25"/><circle cx="76.3" cy="48.6" r="1.25"/><circle cx="99.9" cy="73.2" r="1.25"/><circle cx="45.8" cy="97.4" r="1.25"/><circle cx="124.5" cy="103.4" r="1.25"/><circle cx="129.8" cy="62.9" r="1.25"/><circle cx="48.1" cy="98.3" r="1.25"/><circle cx="99.9" cy="85.3" r="1.25"/><circle cx="19.9" cy="61.9" r="1.25"/><circle cx="32.3" cy="89.1" r="1.25"/><circle cx="112.4" cy="108.5" r="1.25"/><circle cx="112.6" cy="52.8" r="1.25"/><circle cx="86.3" cy="44.1" r="1.25"/><circle cx="38.1" cy="52.3" r="1.25"/><circle cx="34.2" cy="49.4" r="1.25"/><circle cx="85.4" cy="107.3" r="1.25"/><circle cx="57.8" cy="40.7" r="1.25"/><circle cx="80.4" cy="104.2" r="1.25"/><circle cx="39.4" cy="61.6" r="1.25"/><circle cx="106.5" cy="50.6" r="1.25"/><circle cx="109.5" cy="40.4" r="1.25"/><circle cx="75.0" cy="59.6" r="1.25"/><circle cx="114.7" cy="100.2" r="1.25"/><circle cx="103.9" cy="54.4" r="1.25"/><circle cx="61.1" cy="82.7" r="1.25"/><circle cx="99.6" cy="118.5" r="1.25"/><circle cx="99.4" cy="82.4" r="1.25"/><circle cx="115.3" cy="80.1" r="1.25"/><circle cx="68.0" cy="66.5" r="1.25"/><circle cx="65.4" cy="56.5" r="1.25"/><circle cx="54.5" cy="102.7" r="1.25"/><circle cx="130.8" cy="77.2" r="1.25"/><circle cx="125.5" cy="48.0" r="1.25"/><circle cx="81.6" cy="102.5" r="1.25"/></g>
<g fill="#cf78e6"><circle cx="116.9" cy="71.1" r="1.1"/><circle cx="94.0" cy="94.5" r="1.1"/><circle cx="59.0" cy="47.0" r="1.1"/><circle cx="88.9" cy="72.6" r="1.1"/><circle cx="113.5" cy="87.1" r="1.1"/><circle cx="113.1" cy="48.8" r="1.1"/><circle cx="92.5" cy="53.7" r="1.1"/><circle cx="109.6" cy="95.7" r="1.1"/><circle cx="46.9" cy="79.8" r="1.1"/><circle cx="115.2" cy="93.4" r="1.1"/><circle cx="134.0" cy="44.9" r="1.1"/><circle cx="96.1" cy="84.0" r="1.1"/><circle cx="22.9" cy="73.9" r="1.1"/><circle cx="101.8" cy="113.3" r="1.1"/><circle cx="23.3" cy="81.9" r="1.1"/><circle cx="118.8" cy="47.3" r="1.1"/><circle cx="58.6" cy="55.4" r="1.1"/><circle cx="32.3" cy="56.3" r="1.1"/><circle cx="68.7" cy="99.2" r="1.1"/><circle cx="68.7" cy="39.0" r="1.1"/><circle cx="28.2" cy="63.4" r="1.1"/><circle cx="83.0" cy="83.2" r="1.1"/><circle cx="17.1" cy="46.7" r="1.1"/><circle cx="103.0" cy="72.6" r="1.1"/><circle cx="25.3" cy="79.1" r="1.1"/><circle cx="19.4" cy="52.9" r="1.1"/><circle cx="22.9" cy="85.5" r="1.1"/><circle cx="27.9" cy="84.5" r="1.1"/><circle cx="107.0" cy="90.2" r="1.1"/><circle cx="47.1" cy="75.4" r="1.1"/><circle cx="83.0" cy="70.3" r="1.1"/><circle cx="88.0" cy="44.9" r="1.1"/><circle cx="66.1" cy="81.5" r="1.1"/><circle cx="113.2" cy="108.5" r="1.1"/><circle cx="110.9" cy="70.5" r="1.1"/></g>
<path d="M14.00,47.00 L121.00,58.00 L114.20,124.00 L21.00,93.00 Z" fill="none" stroke="#333" stroke-width="0.9"/>
<path d="M121.00,58.00 L144.80,42.00" fill="none" stroke="#333" stroke-width="0.9"/>
<path d="M14.00,47.00 L74.00,38.00 L144.80,42.00" fill="none" stroke="#999" stroke-width="0.4"/>
<path d="M144.80,42.00 L133.00,90.00 L114.20,124.00" fill="none" stroke="#aaa" stroke-width="0.4"/>
<line x1="144.80" y1="42.00" x2="157.30" y2="23.20" stroke="#555" stroke-width="0.8" stroke-dasharray="2.8,1.8"/>
<line x1="114.20" y1="124.00" x2="157.30" y2="153.00" stroke="#555" stroke-width="0.8" stroke-dasharray="2.8,1.8"/>
<rect x="157.30" y="23.20" width="89.50" height="129.80" fill="none" stroke="#555" stroke-width="0.8" stroke-dasharray="2.8,1.8"/>
<circle cx="167.5" cy="32.9" r="2.8000000000000003" fill="url(#sGr)"/>
<circle cx="164.7" cy="34.5" r="1.344" fill="url(#sWh)"/>
<circle cx="166.6" cy="29.8" r="1.344" fill="url(#sWh)"/>
<circle cx="177.6" cy="29.0" r="2.8000000000000003" fill="url(#sGr)"/>
<circle cx="176.5" cy="26.0" r="1.344" fill="url(#sWh)"/>
<circle cx="180.8" cy="28.6" r="1.344" fill="url(#sWh)"/>
<circle cx="170.0" cy="40.5" r="2.8000000000000003" fill="url(#sGr)"/>
<circle cx="170.8" cy="43.6" r="1.344" fill="url(#sWh)"/>
<circle cx="166.8" cy="40.6" r="1.344" fill="url(#sWh)"/>
<circle cx="177.6" cy="41.1" r="2.8000000000000003" fill="url(#sGr)"/>
<circle cx="180.8" cy="41.4" r="1.344" fill="url(#sWh)"/>
<circle cx="176.6" cy="44.2" r="1.344" fill="url(#sWh)"/>
<circle cx="173.8" cy="35.4" r="4.4" fill="url(#sPu)"/>
<circle cx="165.6" cy="55.0" r="2.688" fill="url(#sGr)"/>
<circle cx="162.7" cy="56.1" r="1.29024" fill="url(#sWh)"/>
<circle cx="165.2" cy="51.9" r="1.29024" fill="url(#sWh)"/>
<circle cx="173.2" cy="52.5" r="2.688" fill="url(#sGr)"/>
<circle cx="170.6" cy="50.8" r="1.29024" fill="url(#sWh)"/>
<circle cx="175.4" cy="50.3" r="1.29024" fill="url(#sWh)"/>
<circle cx="166.9" cy="62.6" r="2.688" fill="url(#sGr)"/>
<circle cx="165.9" cy="65.5" r="1.29024" fill="url(#sWh)"/>
<circle cx="164.3" cy="61.0" r="1.29024" fill="url(#sWh)"/>
<circle cx="170.7" cy="58.2" r="3.8" fill="url(#sMa)"/>
<circle cx="178.9" cy="62.6" r="5.2" fill="url(#sCy)"/>
<circle cx="174.5" cy="75.9" r="2.688" fill="url(#sGr)"/>
<circle cx="173.0" cy="73.2" r="1.29024" fill="url(#sWh)"/>
<circle cx="177.5" cy="75.0" r="1.29024" fill="url(#sWh)"/>
<circle cx="166.2" cy="84.8" r="2.688" fill="url(#sGr)"/>
<circle cx="165.5" cy="87.8" r="1.29024" fill="url(#sWh)"/>
<circle cx="163.4" cy="83.5" r="1.29024" fill="url(#sWh)"/>
<circle cx="166.2" cy="75.9" r="3.8" fill="url(#sCy)"/>
<circle cx="171.9" cy="82.2" r="3.4" fill="url(#sLa)"/>
<circle cx="178.9" cy="87.3" r="4.7" fill="url(#sCy)"/>
<circle cx="161.3" cy="106.3" r="2.576" fill="url(#sGr)"/>
<circle cx="158.9" cy="108.1" r="1.23648" fill="url(#sWh)"/>
<circle cx="160.1" cy="103.6" r="1.23648" fill="url(#sWh)"/>
<circle cx="164.0" cy="110.1" r="2.576" fill="url(#sGr)"/>
<circle cx="162.5" cy="112.6" r="1.23648" fill="url(#sWh)"/>
<circle cx="161.9" cy="108.1" r="1.23648" fill="url(#sWh)"/>
<circle cx="171.0" cy="118.3" r="2.576" fill="url(#sGr)"/>
<circle cx="173.1" cy="120.4" r="1.23648" fill="url(#sWh)"/>
<circle cx="168.5" cy="119.9" r="1.23648" fill="url(#sWh)"/>
<circle cx="183.6" cy="110.1" r="2.576" fill="url(#sGr)"/>
<circle cx="185.7" cy="108.0" r="1.23648" fill="url(#sWh)"/>
<circle cx="185.2" cy="112.6" r="1.23648" fill="url(#sWh)"/>
<circle cx="182.5" cy="119.4" r="2.576" fill="url(#sGr)"/>
<circle cx="185.4" cy="119.0" r="1.23648" fill="url(#sWh)"/>
<circle cx="182.2" cy="122.3" r="1.23648" fill="url(#sWh)"/>
<circle cx="167.8" cy="97.6" r="4.2" fill="url(#sCy)"/>
<circle cx="166.7" cy="105.2" r="3.3" fill="url(#sLa)"/>
<circle cx="177.6" cy="107.0" r="2.8000000000000003" fill="url(#sGr)"/>
<circle cx="175.1" cy="105.0" r="1.344" fill="url(#sWh)"/>
<circle cx="180.1" cy="105.0" r="1.344" fill="url(#sWh)"/>
<circle cx="172.1" cy="109.0" r="3.8" fill="url(#sCy)"/>
<circle cx="178.1" cy="119.9" r="3.0" fill="url(#sCy)"/>
<circle cx="177.6" cy="114.5" r="3.5" fill="url(#sLa)"/>
<circle cx="177.0" cy="131.3" r="2.8000000000000003" fill="url(#sGr)"/>
<circle cx="175.9" cy="128.3" r="1.344" fill="url(#sWh)"/>
<circle cx="180.2" cy="131.0" r="1.344" fill="url(#sWh)"/>
<circle cx="166.2" cy="136.2" r="2.8000000000000003" fill="url(#sGr)"/>
<circle cx="163.8" cy="138.4" r="1.344" fill="url(#sWh)"/>
<circle cx="164.6" cy="133.4" r="1.344" fill="url(#sWh)"/>
<circle cx="176.0" cy="145.0" r="2.8000000000000003" fill="url(#sGr)"/>
<circle cx="179.1" cy="146.0" r="1.344" fill="url(#sWh)"/>
<circle cx="174.3" cy="147.7" r="1.344" fill="url(#sWh)"/>
<circle cx="169.4" cy="129.7" r="4.0" fill="url(#sCy)"/>
<circle cx="180.3" cy="136.8" r="3.8" fill="url(#sCy)"/>
<circle cx="168.9" cy="142.8" r="3.8" fill="url(#sCy)"/>
<circle cx="173.2" cy="137.3" r="4.0" fill="url(#sLa)"/>
<text x="189.00" y="37.80" font-size="7.2" fill="#222"><tspan>[Cu-H</tspan><tspan dy="2.02" font-size="4.46">2</tspan><tspan dy="-2.02">O]</tspan><tspan dy="-2.88" font-size="4.46">2+</tspan></text>
<text x="225.60" y="37.80" font-size="7.2" fill="#222"><tspan>36.4%</tspan></text>
<text x="192.70" y="61.50" font-size="7.2" fill="#222"><tspan>[Cu-Cl]</tspan><tspan dy="-2.88" font-size="4.46">+</tspan></text>
<text x="226.00" y="61.50" font-size="7.2" fill="#222"><tspan>18.7%</tspan></text>
<text x="192.70" y="85.50" font-size="7.2" fill="#222"><tspan>[Cu-Cl</tspan><tspan dy="2.02" font-size="4.46">2</tspan><tspan dy="-2.02">]</tspan></text>
<text x="226.00" y="85.50" font-size="7.2" fill="#222"><tspan>18.6%</tspan></text>
<text x="190.60" y="112.00" font-size="7.2" fill="#222"><tspan>[Cu</tspan><tspan dy="2.02" font-size="4.46">2</tspan><tspan dy="-2.02">-Cl</tspan><tspan dy="2.02" font-size="4.46">3</tspan><tspan dy="-2.02">]</tspan><tspan dy="-2.88" font-size="4.46">+</tspan></text>
<text x="229.00" y="112.00" font-size="7.2" fill="#222"><tspan>4%</tspan></text>
<text x="192.70" y="140.20" font-size="7.2" fill="#222"><tspan>[Cu-Cl</tspan><tspan dy="2.02" font-size="4.46">3</tspan><tspan dy="-2.02">]</tspan><tspan dy="-2.88" font-size="4.46">-</tspan></text>
<text x="226.70" y="140.20" font-size="7.2" fill="#222"><tspan>2.9%</tspan></text>
<circle cx="18.3" cy="131.6" r="0.8" fill="#d8d89a"/>
<circle cx="18.6" cy="131.7" r="0.8" fill="#d8d89a"/>
<circle cx="18.5" cy="132.3" r="0.8" fill="#d8d89a"/>
<circle cx="19.1" cy="133.5" r="0.8" fill="#d8d89a"/>
<circle cx="19.2" cy="133.9" r="0.8" fill="#d8d89a"/>
<circle cx="19.7" cy="134.3" r="0.8" fill="#d8d89a"/>
<circle cx="21.1" cy="134.0" r="0.8" fill="#d8d89a"/>
<circle cx="21.5" cy="134.7" r="0.8" fill="#d8d89a"/>
<circle cx="21.4" cy="134.7" r="0.8" fill="#d8d89a"/>
<circle cx="21.4" cy="134.6" r="0.8" fill="#d8d89a"/>
<circle cx="22.5" cy="134.6" r="0.8" fill="#d8d89a"/>
<circle cx="22.4" cy="133.6" r="0.8" fill="#d8d89a"/>
<circle cx="23.2" cy="134.3" r="0.8" fill="#d8d89a"/>
<circle cx="23.9" cy="133.6" r="0.8" fill="#d8d89a"/>
<circle cx="24.2" cy="134.5" r="0.8" fill="#d8d89a"/>
<circle cx="24.2" cy="134.1" r="0.8" fill="#d8d89a"/>
<circle cx="25.5" cy="133.7" r="0.8" fill="#d8d89a"/>
<circle cx="25.3" cy="133.0" r="0.8" fill="#d8d89a"/>
<circle cx="25.8" cy="132.3" r="0.8" fill="#d8d89a"/>
<circle cx="25.8" cy="132.2" r="0.8" fill="#d8d89a"/>
<circle cx="26.3" cy="132.8" r="0.8" fill="#d8d89a"/>
<circle cx="27.0" cy="132.4" r="0.8" fill="#d8d89a"/>
<circle cx="27.6" cy="132.1" r="0.8" fill="#d8d89a"/>
<circle cx="28.5" cy="131.5" r="0.8" fill="#d8d89a"/>
<circle cx="28.4" cy="130.5" r="0.8" fill="#d8d89a"/>
<circle cx="28.9" cy="130.3" r="0.8" fill="#d8d89a"/>
<circle cx="29.7" cy="129.7" r="0.8" fill="#d8d89a"/>
<circle cx="29.9" cy="129.8" r="0.8" fill="#d8d89a"/>
<circle cx="30.1" cy="129.9" r="0.8" fill="#d8d89a"/>
<circle cx="31.2" cy="130.3" r="0.8" fill="#d8d89a"/>
<circle cx="30.9" cy="130.1" r="0.8" fill="#d8d89a"/>
<circle cx="32.0" cy="129.4" r="0.8" fill="#d8d89a"/>
<circle cx="32.0" cy="128.8" r="0.8" fill="#d8d89a"/>
<circle cx="32.7" cy="129.2" r="0.8" fill="#d8d89a"/>
<circle cx="33.1" cy="129.9" r="0.8" fill="#d8d89a"/>
<circle cx="33.4" cy="129.6" r="0.8" fill="#d8d89a"/>
<circle cx="33.7" cy="128.9" r="0.8" fill="#d8d89a"/>
<circle cx="34.0" cy="129.0" r="0.8" fill="#d8d89a"/>
<circle cx="34.1" cy="130.5" r="0.8" fill="#d8d89a"/>
<circle cx="34.8" cy="129.6" r="0.8" fill="#d8d89a"/>
<circle cx="35.3" cy="129.8" r="0.8" fill="#d8d89a"/>
<circle cx="36.0" cy="130.4" r="0.8" fill="#d8d89a"/>
<circle cx="35.9" cy="131.3" r="0.8" fill="#d8d89a"/>
<circle cx="37.2" cy="130.8" r="0.8" fill="#d8d89a"/>
<circle cx="37.4" cy="132.0" r="0.8" fill="#d8d89a"/>
<circle cx="37.5" cy="132.2" r="0.8" fill="#d8d89a"/>
<circle cx="37.4" cy="132.6" r="0.8" fill="#d8d89a"/>
<circle cx="38.5" cy="133.0" r="0.8" fill="#d8d89a"/>
<circle cx="39.5" cy="133.5" r="0.8" fill="#d8d89a"/>
<circle cx="39.7" cy="134.6" r="0.8" fill="#d8d89a"/>
<circle cx="40.1" cy="134.6" r="0.8" fill="#d8d89a"/>
<circle cx="40.2" cy="135.5" r="0.8" fill="#d8d89a"/>
<circle cx="40.1" cy="135.0" r="0.8" fill="#d8d89a"/>
<circle cx="40.5" cy="135.7" r="0.8" fill="#d8d89a"/>
<circle cx="41.4" cy="136.7" r="0.8" fill="#d8d89a"/>
<circle cx="42.4" cy="136.2" r="0.8" fill="#d8d89a"/>
<circle cx="42.3" cy="136.1" r="0.8" fill="#d8d89a"/>
<circle cx="43.1" cy="136.9" r="0.8" fill="#d8d89a"/>
<circle cx="42.8" cy="137.5" r="0.8" fill="#d8d89a"/>
<circle cx="43.1" cy="136.7" r="0.8" fill="#d8d89a"/>
<circle cx="44.1" cy="137.9" r="0.8" fill="#d8d89a"/>
<circle cx="44.1" cy="136.9" r="0.8" fill="#d8d89a"/>
<circle cx="45.3" cy="136.9" r="0.8" fill="#d8d89a"/>
<circle cx="45.9" cy="136.4" r="0.8" fill="#d8d89a"/>
<circle cx="45.5" cy="136.7" r="0.8" fill="#d8d89a"/>
<circle cx="46.7" cy="136.3" r="0.8" fill="#d8d89a"/>
<circle cx="46.9" cy="137.2" r="0.8" fill="#d8d89a"/>
<circle cx="47.7" cy="136.8" r="0.8" fill="#d8d89a"/>
<circle cx="47.0" cy="136.1" r="0.8" fill="#d8d89a"/>
<circle cx="47.7" cy="135.3" r="0.8" fill="#d8d89a"/>
<circle cx="65.7" cy="133.7" r="3.6" fill="url(#sPu)"/>
<circle cx="89.8" cy="133.7" r="4.3" fill="url(#sCy)"/>
<circle cx="109.0" cy="133.7" r="3.2" fill="url(#sGr)"/>
<text x="17.80" y="151.00" font-size="7.25" fill="#222"><tspan>PVA chains</tspan></text>
<text x="61.00" y="151.00" font-size="7.6" fill="#222"><tspan>Cu</tspan><tspan dy="-3.04" font-size="4.71">2+</tspan></text>
<text x="87.00" y="151.00" font-size="7.6" fill="#222"><tspan>Cl</tspan><tspan dy="-3.04" font-size="4.71">-</tspan></text>
<text x="105.50" y="151.00" font-size="7.6" fill="#222"><tspan>H</tspan><tspan dy="2.13" font-size="4.71">2</tspan><tspan dy="-2.13">O</tspan></text>
<text x="9.60" y="162.00" font-size="6.3" fill="#333"><tspan>*The color of Cu</tspan><tspan dy="-2.52" font-size="3.91">2+</tspan><tspan dy="2.52"> is distinguished by the Cl</tspan><tspan dy="-2.52" font-size="3.91">-</tspan><tspan dy="2.52"> coordination number.</tspan></text>
<line x1="300.20" y1="14.00" x2="300.20" y2="150.00" stroke="#e2e2e2" stroke-width="0.7"/>
<line x1="310.40" y1="14.00" x2="310.40" y2="150.00" stroke="#e2e2e2" stroke-width="0.7"/>
<line x1="321.40" y1="14.00" x2="321.40" y2="150.00" stroke="#e2e2e2" stroke-width="0.7"/>
<line x1="332.30" y1="14.00" x2="332.30" y2="150.00" stroke="#e2e2e2" stroke-width="0.7"/>
<line x1="343.30" y1="14.00" x2="343.30" y2="150.00" stroke="#e2e2e2" stroke-width="0.7"/>
<line x1="351.30" y1="14.00" x2="351.30" y2="150.00" stroke="#e2e2e2" stroke-width="0.7"/>
<line x1="357.20" y1="14.00" x2="357.20" y2="150.00" stroke="#e2e2e2" stroke-width="0.7"/>
<line x1="363.00" y1="14.00" x2="363.00" y2="150.00" stroke="#e2e2e2" stroke-width="0.7"/>
<line x1="368.80" y1="14.00" x2="368.80" y2="150.00" stroke="#e2e2e2" stroke-width="0.7"/>
<line x1="374.00" y1="14.00" x2="374.00" y2="150.00" stroke="#e2e2e2" stroke-width="0.7"/>
<line x1="297.00" y1="14.00" x2="297.00" y2="142.00" stroke="#444" stroke-width="0.6"/>
<path d="M335.55,161.71 L330.80,158.87 L340.80,156.18 L345.55,159.02Z" fill="#c8202a" stroke="#c8202a" stroke-width="0.3"/>
<path d="M330.80,158.87 L326.04,156.03 L336.04,153.34 L340.80,156.18Z" fill="#f2b69b" stroke="#f2b69b" stroke-width="0.3"/>
<path d="M326.04,156.03 L321.28,153.19 L331.28,150.50 L336.04,153.34Z" fill="#404ed0" stroke="#404ed0" stroke-width="0.3"/>
<path d="M321.28,153.19 L316.53,150.36 L326.53,147.66 L331.28,150.50Z" fill="#404ed0" stroke="#404ed0" stroke-width="0.3"/>
<path d="M316.53,150.36 L311.77,147.52 L321.77,144.82 L326.53,147.66Z" fill="#404ed0" stroke="#404ed0" stroke-width="0.3"/>
<path d="M311.77,147.52 L307.01,144.68 L317.01,141.99 L321.77,144.82Z" fill="#404ed0" stroke="#404ed0" stroke-width="0.3"/>
<path d="M307.01,144.68 L302.26,141.84 L312.26,139.15 L317.01,141.99Z" fill="#404ed0" stroke="#404ed0" stroke-width="0.3"/>
<path d="M302.26,141.84 L297.50,139.00 L307.50,136.31 L312.26,139.15Z" fill="#404ed0" stroke="#404ed0" stroke-width="0.3"/>
<path d="M345.55,159.02 L340.80,156.18 L350.80,153.49 L355.55,156.33Z" fill="#404ed0" stroke="#404ed0" stroke-width="0.3"/>
<path d="M340.80,156.18 L336.04,153.34 L346.04,150.65 L350.80,153.49Z" fill="#404ed0" stroke="#404ed0" stroke-width="0.3"/>
<path d="M336.04,153.34 L331.28,150.50 L341.28,147.81 L346.04,150.65Z" fill="#404ed0" stroke="#404ed0" stroke-width="0.3"/>
<path d="M331.28,150.50 L326.53,147.66 L336.53,144.97 L341.28,147.81Z" fill="#404ed0" stroke="#404ed0" stroke-width="0.3"/>
<path d="M326.53,147.66 L321.77,144.82 L331.77,142.13 L336.53,144.97Z" fill="#404ed0" stroke="#404ed0" stroke-width="0.3"/>
<path d="M321.77,144.82 L317.01,141.99 L327.01,139.29 L331.77,142.13Z" fill="#404ed0" stroke="#404ed0" stroke-width="0.3"/>
<path d="M317.01,141.99 L312.26,139.15 L322.26,136.45 L327.01,139.29Z" fill="#404ed0" stroke="#404ed0" stroke-width="0.3"/>
<path d="M312.26,139.15 L307.50,136.31 L317.50,133.62 L322.26,136.45Z" fill="#404ed0" stroke="#404ed0" stroke-width="0.3"/>
<path d="M355.55,156.33 L350.80,153.49 L360.80,150.80 L365.55,153.64Z" fill="#404ed0" stroke="#404ed0" stroke-width="0.3"/>
<path d="M350.80,153.49 L346.04,150.65 L356.04,147.96 L360.80,150.80Z" fill="#404ed0" stroke="#404ed0" stroke-width="0.3"/>
<path d="M346.04,150.65 L341.28,147.81 L351.28,145.12 L356.04,147.96Z" fill="#404ed0" stroke="#404ed0" stroke-width="0.3"/>
<path d="M341.28,147.81 L336.53,144.97 L346.53,142.28 L351.28,145.12Z" fill="#404ed0" stroke="#404ed0" stroke-width="0.3"/>
<path d="M336.53,144.97 L331.77,142.13 L341.77,139.44 L346.53,142.28Z" fill="#404ed0" stroke="#404ed0" stroke-width="0.3"/>
<path d="M331.77,142.13 L327.01,139.29 L337.01,136.60 L341.77,139.44Z" fill="#404ed0" stroke="#404ed0" stroke-width="0.3"/>
<path d="M327.01,139.29 L322.26,136.45 L332.26,133.76 L337.01,136.60Z" fill="#404ed0" stroke="#404ed0" stroke-width="0.3"/>
<path d="M322.26,136.45 L317.50,133.62 L327.50,130.92 L332.26,133.76Z" fill="#404ed0" stroke="#404ed0" stroke-width="0.3"/>
<path d="M365.55,153.64 L360.80,150.80 L370.80,148.10 L375.55,150.94Z" fill="#404ed0" stroke="#404ed0" stroke-width="0.3"/>
<path d="M360.80,150.80 L356.04,147.96 L366.04,145.27 L370.80,148.10Z" fill="#404ed0" stroke="#404ed0" stroke-width="0.3"/>
<path d="M356.04,147.96 L351.28,145.12 L361.28,142.43 L366.04,145.27Z" fill="#404ed0" stroke="#404ed0" stroke-width="0.3"/>
<path d="M351.28,145.12 L346.53,142.28 L356.53,139.59 L361.28,142.43Z" fill="#404ed0" stroke="#404ed0" stroke-width="0.3"/>
<path d="M346.53,142.28 L341.77,139.44 L351.77,136.75 L356.53,139.59Z" fill="#404ed0" stroke="#404ed0" stroke-width="0.3"/>
<path d="M341.77,139.44 L337.01,136.60 L347.01,133.91 L351.77,136.75Z" fill="#404ed0" stroke="#404ed0" stroke-width="0.3"/>
<path d="M337.01,136.60 L332.26,133.76 L342.26,131.07 L347.01,133.91Z" fill="#404ed0" stroke="#404ed0" stroke-width="0.3"/>
<path d="M332.26,133.76 L327.50,130.92 L337.50,128.23 L342.26,131.07Z" fill="#404ed0" stroke="#404ed0" stroke-width="0.3"/>
<path d="M330.80,158.87 L370.80,148.10 M326.04,156.03 L366.04,145.27 M321.28,153.19 L361.28,142.43 M316.53,150.36 L356.53,139.59 M311.77,147.52 L351.77,136.75 M307.01,144.68 L347.01,133.91 M302.26,141.84 L342.26,131.07 M345.55,159.02 L307.50,136.31 M355.55,156.33 L317.50,133.62 M365.55,153.64 L327.50,130.92" stroke="#ffffff" stroke-opacity="0.28" stroke-width="0.4" fill="none"/>
<path d="M297.50,139.00 L337.50,128.23 L375.55,150.94 L335.55,161.71 Z" fill="none" stroke="#1a1a1a" stroke-width="0.8"/>
<line x1="294.60" y1="139.00" x2="297.00" y2="139.00" stroke="#333" stroke-width="0.7"/>
<text x="294.20" y="141.70" font-size="7.5" text-anchor="end"><tspan>0.01</tspan></text>
<path d="M335.89,145.42 L331.08,142.70 L341.08,140.13 L345.89,142.84Z" fill="#c8202a" stroke="#c8202a" stroke-width="0.3"/>
<path d="M331.08,142.70 L326.28,139.99 L336.28,137.41 L341.08,140.13Z" fill="#ec8c6f" stroke="#ec8c6f" stroke-width="0.3"/>
<path d="M326.28,139.99 L321.47,137.27 L331.47,134.70 L336.28,137.41Z" fill="#404ed0" stroke="#404ed0" stroke-width="0.3"/>
<path d="M321.47,137.27 L316.66,134.56 L326.66,131.99 L331.47,134.70Z" fill="#404ed0" stroke="#404ed0" stroke-width="0.3"/>
<path d="M316.66,134.56 L311.86,131.84 L321.86,129.27 L326.66,131.99Z" fill="#404ed0" stroke="#404ed0" stroke-width="0.3"/>
<path d="M311.86,131.84 L307.05,129.13 L317.05,126.56 L321.86,129.27Z" fill="#404ed0" stroke="#404ed0" stroke-width="0.3"/>
<path d="M307.05,129.13 L302.24,126.41 L312.24,123.84 L317.05,126.56Z" fill="#404ed0" stroke="#404ed0" stroke-width="0.3"/>
<path d="M302.24,126.41 L297.44,123.70 L307.44,121.13 L312.24,123.84Z" fill="#404ed0" stroke="#404ed0" stroke-width="0.3"/>
<path d="M345.89,142.84 L341.08,140.13 L351.08,137.56 L355.89,140.27Z" fill="#404ed0" stroke="#404ed0" stroke-width="0.3"/>
<path d="M341.08,140.13 L336.28,137.41 L346.28,134.84 L351.08,137.56Z" fill="#404ed0" stroke="#404ed0" stroke-width="0.3"/>
<path d="M336.28,137.41 L331.47,134.70 L341.47,132.13 L346.28,134.84Z" fill="#404ed0" stroke="#404ed0" stroke-width="0.3"/>
<path d="M331.47,134.70 L326.66,131.99 L336.66,129.41 L341.47,132.13Z" fill="#404ed0" stroke="#404ed0" stroke-width="0.3"/>
<path d="M326.66,131.99 L321.86,129.27 L331.86,126.70 L336.66,129.41Z" fill="#404ed0" stroke="#404ed0" stroke-width="0.3"/>
<path d="M321.86,129.27 L317.05,126.56 L327.05,123.98 L331.86,126.70Z" fill="#404ed0" stroke="#404ed0" stroke-width="0.3"/>
<path d="M317.05,126.56 L312.24,123.84 L322.24,121.27 L327.05,123.98Z" fill="#404ed0" stroke="#404ed0" stroke-width="0.3"/>
<path d="M312.24,123.84 L307.44,121.13 L317.44,118.55 L322.24,121.27Z" fill="#404ed0" stroke="#404ed0" stroke-width="0.3"/>
<path d="M355.89,140.27 L351.08,137.56 L361.08,134.98 L365.89,137.70Z" fill="#404ed0" stroke="#404ed0" stroke-width="0.3"/>
<path d="M351.08,137.56 L346.28,134.84 L356.28,132.27 L361.08,134.98Z" fill="#404ed0" stroke="#404ed0" stroke-width="0.3"/>
<path d="M346.28,134.84 L341.47,132.13 L351.47,129.55 L356.28,132.27Z" fill="#404ed0" stroke="#404ed0" stroke-width="0.3"/>
<path d="M341.47,132.13 L336.66,129.41 L346.66,126.84 L351.47,129.55Z" fill="#404ed0" stroke="#404ed0" stroke-width="0.3"/>
<path d="M336.66,129.41 L331.86,126.70 L341.86,124.12 L346.66,126.84Z" fill="#404ed0" stroke="#404ed0" stroke-width="0.3"/>
<path d="M331.86,126.70 L327.05,123.98 L337.05,121.41 L341.86,124.12Z" fill="#404ed0" stroke="#404ed0" stroke-width="0.3"/>
<path d="M327.05,123.98 L322.24,121.27 L332.24,118.69 L337.05,121.41Z" fill="#404ed0" stroke="#404ed0" stroke-width="0.3"/>
<path d="M322.24,121.27 L317.44,118.55 L327.44,115.98 L332.24,118.69Z" fill="#404ed0" stroke="#404ed0" stroke-width="0.3"/>
<path d="M365.89,137.70 L361.08,134.98 L371.08,132.41 L375.89,135.12Z" fill="#404ed0" stroke="#404ed0" stroke-width="0.3"/>
<path d="M361.08,134.98 L356.28,132.27 L366.28,129.69 L371.08,132.41Z" fill="#404ed0" stroke="#404ed0" stroke-width="0.3"/>
<path d="M356.28,132.27 L351.47,129.55 L361.47,126.98 L366.28,129.69Z" fill="#404ed0" stroke="#404ed0" stroke-width="0.3"/>
<path d="M351.47,129.55 L346.66,126.84 L356.66,124.26 L361.47,126.98Z" fill="#404ed0" stroke="#404ed0" stroke-width="0.3"/>
<path d="M346.66,126.84 L341.86,124.12 L351.86,121.55 L356.66,124.26Z" fill="#404ed0" stroke="#404ed0" stroke-width="0.3"/>
<path d="M341.86,124.12 L337.05,121.41 L347.05,118.83 L351.86,121.55Z" fill="#404ed0" stroke="#404ed0" stroke-width="0.3"/>
<path d="M337.05,121.41 L332.24,118.69 L342.24,116.12 L347.05,118.83Z" fill="#404ed0" stroke="#404ed0" stroke-width="0.3"/>
<path d="M332.24,118.69 L327.44,115.98 L337.44,113.41 L342.24,116.12Z" fill="#404ed0" stroke="#404ed0" stroke-width="0.3"/>
<path d="M331.08,142.70 L371.08,132.41 M326.28,139.99 L366.28,129.69 M321.47,137.27 L361.47,126.98 M316.66,134.56 L356.66,124.26 M311.86,131.84 L351.86,121.55 M307.05,129.13 L347.05,118.83 M302.24,126.41 L342.24,116.12 M345.89,142.84 L307.44,121.13 M355.89,140.27 L317.44,118.55 M365.89,137.70 L327.44,115.98" stroke="#ffffff" stroke-opacity="0.28" stroke-width="0.4" fill="none"/>
<path d="M297.44,123.70 L337.44,113.41 L375.89,135.12 L335.89,145.42 Z" fill="none" stroke="#1a1a1a" stroke-width="0.8"/>
<line x1="294.60" y1="123.70" x2="297.00" y2="123.70" stroke="#333" stroke-width="0.7"/>
<text x="294.20" y="126.40" font-size="7.5" text-anchor="end"><tspan>0.05</tspan></text>
<path d="M336.25,127.84 L331.39,125.26 L341.39,122.82 L346.25,125.40Z" fill="#c8202a" stroke="#c8202a" stroke-width="0.3"/>
<path d="M331.39,125.26 L326.53,122.68 L336.53,120.24 L341.39,122.82Z" fill="#e7785f" stroke="#e7785f" stroke-width="0.3"/>
<path d="M326.53,122.68 L321.67,120.10 L331.67,117.66 L336.53,120.24Z" fill="#f2bda5" stroke="#f2bda5" stroke-width="0.3"/>
<path d="M321.67,120.10 L316.81,117.52 L326.81,115.08 L331.67,117.66Z" fill="#404ed0" stroke="#404ed0" stroke-width="0.3"/>
<path d="M316.81,117.52 L311.95,114.94 L321.95,112.50 L326.81,115.08Z" fill="#404ed0" stroke="#404ed0" stroke-width="0.3"/>
<path d="M311.95,114.94 L307.09,112.36 L317.09,109.92 L321.95,112.50Z" fill="#404ed0" stroke="#404ed0" stroke-width="0.3"/>
<path d="M307.09,112.36 L302.23,109.78 L312.23,107.33 L317.09,109.92Z" fill="#404ed0" stroke="#404ed0" stroke-width="0.3"/>
<path d="M302.23,109.78 L297.37,107.20 L307.37,104.75 L312.23,107.33Z" fill="#404ed0" stroke="#404ed0" stroke-width="0.3"/>
<path d="M346.25,125.40 L341.39,122.82 L351.39,120.37 L356.25,122.95Z" fill="#404ed0" stroke="#404ed0" stroke-width="0.3"/>
<path d="M341.39,122.82 L336.53,120.24 L346.53,117.79 L351.39,120.37Z" fill="#404ed0" stroke="#404ed0" stroke-width="0.3"/>
<path d="M336.53,120.24 L331.67,117.66 L341.67,115.21 L346.53,117.79Z" fill="#404ed0" stroke="#404ed0" stroke-width="0.3"/>
<path d="M331.67,117.66 L326.81,115.08 L336.81,112.63 L341.67,115.21Z" fill="#404ed0" stroke="#404ed0" stroke-width="0.3"/>
<path d="M326.81,115.08 L321.95,112.50 L331.95,110.05 L336.81,112.63Z" fill="#404ed0" stroke="#404ed0" stroke-width="0.3"/>
<path d="M321.95,112.50 L317.09,109.92 L327.09,107.47 L331.95,110.05Z" fill="#404ed0" stroke="#404ed0" stroke-width="0.3"/>
<path d="M317.09,109.92 L312.23,107.33 L322.23,104.89 L327.09,107.47Z" fill="#404ed0" stroke="#404ed0" stroke-width="0.3"/>
<path d="M312.23,107.33 L307.37,104.75 L317.37,102.31 L322.23,104.89Z" fill="#404ed0" stroke="#404ed0" stroke-width="0.3"/>
<path d="M356.25,122.95 L351.39,120.37 L361.39,117.93 L366.25,120.51Z" fill="#404ed0" stroke="#404ed0" stroke-width="0.3"/>
<path d="M351.39,120.37 L346.53,117.79 L356.53,115.35 L361.39,117.93Z" fill="#404ed0" stroke="#404ed0" stroke-width="0.3"/>
<path d="M346.53,117.79 L341.67,115.21 L351.67,112.77 L356.53,115.35Z" fill="#404ed0" stroke="#404ed0" stroke-width="0.3"/>
<path d="M341.67,115.21 L336.81,112.63 L346.81,110.19 L351.67,112.77Z" fill="#404ed0" stroke="#404ed0" stroke-width="0.3"/>
<path d="M336.81,112.63 L331.95,110.05 L341.95,107.60 L346.81,110.19Z" fill="#404ed0" stroke="#404ed0" stroke-width="0.3"/>
<path d="M331.95,110.05 L327.09,107.47 L337.09,105.02 L341.95,107.60Z" fill="#404ed0" stroke="#404ed0" stroke-width="0.3"/>
<path d="M327.09,107.47 L322.23,104.89 L332.23,102.44 L337.09,105.02Z" fill="#404ed0" stroke="#404ed0" stroke-width="0.3"/>
<path d="M322.23,104.89 L317.37,102.31 L327.37,99.86 L332.23,102.44Z" fill="#404ed0" stroke="#404ed0" stroke-width="0.3"/>
<path d="M366.25,120.51 L361.39,117.93 L371.39,115.48 L376.25,118.06Z" fill="#404ed0" stroke="#404ed0" stroke-width="0.3"/>
<path d="M361.39,117.93 L356.53,115.35 L366.53,112.90 L371.39,115.48Z" fill="#404ed0" stroke="#404ed0" stroke-width="0.3"/>
<path d="M356.53,115.35 L351.67,112.77 L361.67,110.32 L366.53,112.90Z" fill="#404ed0" stroke="#404ed0" stroke-width="0.3"/>
<path d="M351.67,112.77 L346.81,110.19 L356.81,107.74 L361.67,110.32Z" fill="#404ed0" stroke="#404ed0" stroke-width="0.3"/>
<path d="M346.81,110.19 L341.95,107.60 L351.95,105.16 L356.81,107.74Z" fill="#404ed0" stroke="#404ed0" stroke-width="0.3"/>
<path d="M341.95,107.60 L337.09,105.02 L347.09,102.58 L351.95,105.16Z" fill="#404ed0" stroke="#404ed0" stroke-width="0.3"/>
<path d="M337.09,105.02 L332.23,102.44 L342.23,100.00 L347.09,102.58Z" fill="#404ed0" stroke="#404ed0" stroke-width="0.3"/>
<path d="M332.23,102.44 L327.37,99.86 L337.37,97.42 L342.23,100.00Z" fill="#404ed0" stroke="#404ed0" stroke-width="0.3"/>
<path d="M331.39,125.26 L371.39,115.48 M326.53,122.68 L366.53,112.90 M321.67,120.10 L361.67,110.32 M316.81,117.52 L356.81,107.74 M311.95,114.94 L351.95,105.16 M307.09,112.36 L347.09,102.58 M302.23,109.78 L342.23,100.00 M346.25,125.40 L307.37,104.75 M356.25,122.95 L317.37,102.31 M366.25,120.51 L327.37,99.86" stroke="#ffffff" stroke-opacity="0.28" stroke-width="0.4" fill="none"/>
<path d="M297.37,107.20 L337.37,97.42 L376.25,118.06 L336.25,127.84 Z" fill="none" stroke="#1a1a1a" stroke-width="0.8"/>
<line x1="294.60" y1="107.20" x2="297.00" y2="107.20" stroke="#333" stroke-width="0.7"/>
<text x="294.20" y="109.90" font-size="7.5" text-anchor="end"><tspan>0.1</tspan></text>
<path d="M336.75,103.78 L331.82,101.38 L341.82,99.11 L346.75,101.51Z" fill="#c8202a" stroke="#c8202a" stroke-width="0.3"/>
<path d="M331.82,101.38 L326.88,98.98 L336.88,96.71 L341.82,99.11Z" fill="#de5a48" stroke="#de5a48" stroke-width="0.3"/>
<path d="M326.88,98.98 L321.95,96.58 L331.95,94.31 L336.88,96.71Z" fill="#f2a07e" stroke="#f2a07e" stroke-width="0.3"/>
<path d="M321.95,96.58 L317.02,94.19 L327.02,91.92 L331.95,94.31Z" fill="#f2ccb8" stroke="#f2ccb8" stroke-width="0.3"/>
<path d="M317.02,94.19 L312.08,91.79 L322.08,89.52 L327.02,91.92Z" fill="#404ed0" stroke="#404ed0" stroke-width="0.3"/>
<path d="M312.08,91.79 L307.15,89.39 L317.15,87.12 L322.08,89.52Z" fill="#404ed0" stroke="#404ed0" stroke-width="0.3"/>
<path d="M307.15,89.39 L302.22,87.00 L312.22,84.73 L317.15,87.12Z" fill="#404ed0" stroke="#404ed0" stroke-width="0.3"/>
<path d="M302.22,87.00 L297.28,84.60 L307.28,82.33 L312.22,84.73Z" fill="#404ed0" stroke="#404ed0" stroke-width="0.3"/>
<path d="M346.75,101.51 L341.82,99.11 L351.82,96.84 L356.75,99.23Z" fill="#404ed0" stroke="#404ed0" stroke-width="0.3"/>
<path d="M341.82,99.11 L336.88,96.71 L346.88,94.44 L351.82,96.84Z" fill="#a5c1f8" stroke="#a5c1f8" stroke-width="0.3"/>
<path d="M336.88,96.71 L331.95,94.31 L341.95,92.04 L346.88,94.44Z" fill="#f2c5ae" stroke="#f2c5ae" stroke-width="0.3"/>
<path d="M331.95,94.31 L327.02,91.92 L337.02,89.65 L341.95,92.04Z" fill="#eed0c0" stroke="#eed0c0" stroke-width="0.3"/>
<path d="M327.02,91.92 L322.08,89.52 L332.08,87.25 L337.02,89.65Z" fill="#404ed0" stroke="#404ed0" stroke-width="0.3"/>
<path d="M322.08,89.52 L317.15,87.12 L327.15,84.85 L332.08,87.25Z" fill="#404ed0" stroke="#404ed0" stroke-width="0.3"/>
<path d="M317.15,87.12 L312.22,84.73 L322.22,82.46 L327.15,84.85Z" fill="#404ed0" stroke="#404ed0" stroke-width="0.3"/>
<path d="M312.22,84.73 L307.28,82.33 L317.28,80.06 L322.22,82.46Z" fill="#404ed0" stroke="#404ed0" stroke-width="0.3"/>
<path d="M356.75,99.23 L351.82,96.84 L361.82,94.57 L366.75,96.96Z" fill="#404ed0" stroke="#404ed0" stroke-width="0.3"/>
<path d="M351.82,96.84 L346.88,94.44 L356.88,92.17 L361.82,94.57Z" fill="#404ed0" stroke="#404ed0" stroke-width="0.3"/>
<path d="M346.88,94.44 L341.95,92.04 L351.95,89.77 L356.88,92.17Z" fill="#404ed0" stroke="#404ed0" stroke-width="0.3"/>
<path d="M341.95,92.04 L337.02,89.65 L347.02,87.38 L351.95,89.77Z" fill="#404ed0" stroke="#404ed0" stroke-width="0.3"/>
<path d="M337.02,89.65 L332.08,87.25 L342.08,84.98 L347.02,87.38Z" fill="#404ed0" stroke="#404ed0" stroke-width="0.3"/>
<path d="M332.08,87.25 L327.15,84.85 L337.15,82.58 L342.08,84.98Z" fill="#404ed0" stroke="#404ed0" stroke-width="0.3"/>
<path d="M327.15,84.85 L322.22,82.46 L332.22,80.19 L337.15,82.58Z" fill="#404ed0" stroke="#404ed0" stroke-width="0.3"/>
<path d="M322.22,82.46 L317.28,80.06 L327.28,77.79 L332.22,80.19Z" fill="#404ed0" stroke="#404ed0" stroke-width="0.3"/>
<path d="M366.75,96.96 L361.82,94.57 L371.82,92.30 L376.75,94.69Z" fill="#404ed0" stroke="#404ed0" stroke-width="0.3"/>
<path d="M361.82,94.57 L356.88,92.17 L366.88,89.90 L371.82,92.30Z" fill="#404ed0" stroke="#404ed0" stroke-width="0.3"/>
<path d="M356.88,92.17 L351.95,89.77 L361.95,87.50 L366.88,89.90Z" fill="#404ed0" stroke="#404ed0" stroke-width="0.3"/>
<path d="M351.95,89.77 L347.02,87.38 L357.02,85.11 L361.95,87.50Z" fill="#404ed0" stroke="#404ed0" stroke-width="0.3"/>
<path d="M347.02,87.38 L342.08,84.98 L352.08,82.71 L357.02,85.11Z" fill="#404ed0" stroke="#404ed0" stroke-width="0.3"/>
<path d="M342.08,84.98 L337.15,82.58 L347.15,80.31 L352.08,82.71Z" fill="#404ed0" stroke="#404ed0" stroke-width="0.3"/>
<path d="M337.15,82.58 L332.22,80.19 L342.22,77.91 L347.15,80.31Z" fill="#404ed0" stroke="#404ed0" stroke-width="0.3"/>
<path d="M332.22,80.19 L327.28,77.79 L337.28,75.52 L342.22,77.91Z" fill="#404ed0" stroke="#404ed0" stroke-width="0.3"/>
<path d="M331.82,101.38 L371.82,92.30 M326.88,98.98 L366.88,89.90 M321.95,96.58 L361.95,87.50 M317.02,94.19 L357.02,85.11 M312.08,91.79 L352.08,82.71 M307.15,89.39 L347.15,80.31 M302.22,87.00 L342.22,77.91 M346.75,101.51 L307.28,82.33 M356.75,99.23 L317.28,80.06 M366.75,96.96 L327.28,77.79" stroke="#ffffff" stroke-opacity="0.28" stroke-width="0.4" fill="none"/>
<path d="M297.28,84.60 L337.28,75.52 L376.75,94.69 L336.75,103.78 Z" fill="none" stroke="#1a1a1a" stroke-width="0.8"/>
<line x1="294.60" y1="84.60" x2="297.00" y2="84.60" stroke="#333" stroke-width="0.7"/>
<text x="294.20" y="87.30" font-size="7.5" text-anchor="end"><tspan>0.5</tspan></text>
<path d="M337.26,78.96 L332.25,76.75 L342.25,74.66 L347.26,76.87Z" fill="#c8202a" stroke="#c8202a" stroke-width="0.3"/>
<path d="M332.25,76.75 L327.24,74.55 L337.24,72.46 L342.25,74.66Z" fill="#d8493f" stroke="#d8493f" stroke-width="0.3"/>
<path d="M327.24,74.55 L322.24,72.34 L332.24,70.25 L337.24,72.46Z" fill="#e7785f" stroke="#e7785f" stroke-width="0.3"/>
<path d="M322.24,72.34 L317.23,70.13 L327.23,68.04 L332.24,70.25Z" fill="#f2b69b" stroke="#f2b69b" stroke-width="0.3"/>
<path d="M317.23,70.13 L312.22,67.92 L322.22,65.83 L327.23,68.04Z" fill="#dedede" stroke="#dedede" stroke-width="0.3"/>
<path d="M312.22,67.92 L307.21,65.72 L317.21,63.63 L322.22,65.83Z" fill="#404ed0" stroke="#404ed0" stroke-width="0.3"/>
<path d="M307.21,65.72 L302.20,63.51 L312.20,61.42 L317.21,63.63Z" fill="#404ed0" stroke="#404ed0" stroke-width="0.3"/>
<path d="M302.20,63.51 L297.19,61.30 L307.19,59.21 L312.20,61.42Z" fill="#404ed0" stroke="#404ed0" stroke-width="0.3"/>
<path d="M347.26,76.87 L342.25,74.66 L352.25,72.57 L357.26,74.78Z" fill="#404ed0" stroke="#404ed0" stroke-width="0.3"/>
<path d="M342.25,74.66 L337.24,72.46 L347.24,70.37 L352.25,72.57Z" fill="#f2bda5" stroke="#f2bda5" stroke-width="0.3"/>
<path d="M337.24,72.46 L332.24,70.25 L342.24,68.16 L347.24,70.37Z" fill="#f2af91" stroke="#f2af91" stroke-width="0.3"/>
<path d="M332.24,70.25 L327.23,68.04 L337.23,65.95 L342.24,68.16Z" fill="#f2ccb8" stroke="#f2ccb8" stroke-width="0.3"/>
<path d="M327.23,68.04 L322.22,65.83 L332.22,63.74 L337.23,65.95Z" fill="#ced8ea" stroke="#ced8ea" stroke-width="0.3"/>
<path d="M322.22,65.83 L317.21,63.63 L327.21,61.54 L332.22,63.74Z" fill="#404ed0" stroke="#404ed0" stroke-width="0.3"/>
<path d="M317.21,63.63 L312.20,61.42 L322.20,59.33 L327.21,61.54Z" fill="#404ed0" stroke="#404ed0" stroke-width="0.3"/>
<path d="M312.20,61.42 L307.19,59.21 L317.19,57.12 L322.20,59.33Z" fill="#404ed0" stroke="#404ed0" stroke-width="0.3"/>
<path d="M357.26,74.78 L352.25,72.57 L362.25,70.48 L367.26,72.69Z" fill="#404ed0" stroke="#404ed0" stroke-width="0.3"/>
<path d="M352.25,72.57 L347.24,70.37 L357.24,68.28 L362.25,70.48Z" fill="#404ed0" stroke="#404ed0" stroke-width="0.3"/>
<path d="M347.24,70.37 L342.24,68.16 L352.24,66.07 L357.24,68.28Z" fill="#9dbbf9" stroke="#9dbbf9" stroke-width="0.3"/>
<path d="M342.24,68.16 L337.23,65.95 L347.23,63.86 L352.24,66.07Z" fill="#adc7f7" stroke="#adc7f7" stroke-width="0.3"/>
<path d="M337.23,65.95 L332.22,63.74 L342.22,61.65 L347.23,63.86Z" fill="#6b89ed" stroke="#6b89ed" stroke-width="0.3"/>
<path d="M332.22,63.74 L327.21,61.54 L337.21,59.45 L342.22,61.65Z" fill="#404ed0" stroke="#404ed0" stroke-width="0.3"/>
<path d="M327.21,61.54 L322.20,59.33 L332.20,57.24 L337.21,59.45Z" fill="#404ed0" stroke="#404ed0" stroke-width="0.3"/>
<path d="M322.20,59.33 L317.19,57.12 L327.19,55.03 L332.20,57.24Z" fill="#404ed0" stroke="#404ed0" stroke-width="0.3"/>
<path d="M367.26,72.69 L362.25,70.48 L372.25,68.39 L377.26,70.60Z" fill="#404ed0" stroke="#404ed0" stroke-width="0.3"/>
<path d="M362.25,70.48 L357.24,68.28 L367.24,66.19 L372.25,68.39Z" fill="#404ed0" stroke="#404ed0" stroke-width="0.3"/>
<path d="M357.24,68.28 L352.24,66.07 L362.24,63.98 L367.24,66.19Z" fill="#404ed0" stroke="#404ed0" stroke-width="0.3"/>
<path d="M352.24,66.07 L347.23,63.86 L357.23,61.77 L362.24,63.98Z" fill="#404ed0" stroke="#404ed0" stroke-width="0.3"/>
<path d="M347.23,63.86 L342.22,61.65 L352.22,59.56 L357.23,61.77Z" fill="#404ed0" stroke="#404ed0" stroke-width="0.3"/>
<path d="M342.22,61.65 L337.21,59.45 L347.21,57.36 L352.22,59.56Z" fill="#404ed0" stroke="#404ed0" stroke-width="0.3"/>
<path d="M337.21,59.45 L332.20,57.24 L342.20,55.15 L347.21,57.36Z" fill="#404ed0" stroke="#404ed0" stroke-width="0.3"/>
<path d="M332.20,57.24 L327.19,55.03 L337.19,52.94 L342.20,55.15Z" fill="#404ed0" stroke="#404ed0" stroke-width="0.3"/>
<path d="M332.25,76.75 L372.25,68.39 M327.24,74.55 L367.24,66.19 M322.24,72.34 L362.24,63.98 M317.23,70.13 L357.23,61.77 M312.22,67.92 L352.22,59.56 M307.21,65.72 L347.21,57.36 M302.20,63.51 L342.20,55.15 M347.26,76.87 L307.19,59.21 M357.26,74.78 L317.19,57.12 M367.26,72.69 L327.19,55.03" stroke="#ffffff" stroke-opacity="0.28" stroke-width="0.4" fill="none"/>
<path d="M297.19,61.30 L337.19,52.94 L377.26,70.60 L337.26,78.96 Z" fill="none" stroke="#1a1a1a" stroke-width="0.8"/>
<line x1="294.60" y1="61.30" x2="297.00" y2="61.30" stroke="#333" stroke-width="0.7"/>
<text x="294.20" y="64.00" font-size="7.5" text-anchor="end"><tspan>1.0</tspan></text>
<path d="M337.77,54.25 L332.69,52.23 L342.69,50.32 L347.77,52.34Z" fill="#c8202a" stroke="#c8202a" stroke-width="0.3"/>
<path d="M332.69,52.23 L327.60,50.22 L337.60,48.30 L342.69,50.32Z" fill="#d5413b" stroke="#d5413b" stroke-width="0.3"/>
<path d="M327.60,50.22 L322.52,48.20 L332.52,46.29 L337.60,48.30Z" fill="#e46e57" stroke="#e46e57" stroke-width="0.3"/>
<path d="M322.52,48.20 L317.43,46.18 L327.43,44.27 L332.52,46.29Z" fill="#f2a788" stroke="#f2a788" stroke-width="0.3"/>
<path d="M317.43,46.18 L312.35,44.16 L322.35,42.25 L327.43,44.27Z" fill="#eed0c0" stroke="#eed0c0" stroke-width="0.3"/>
<path d="M312.35,44.16 L307.27,42.14 L317.27,40.23 L322.35,42.25Z" fill="#b6ccf7" stroke="#b6ccf7" stroke-width="0.3"/>
<path d="M307.27,42.14 L302.18,40.12 L312.18,38.21 L317.27,40.23Z" fill="#5169df" stroke="#5169df" stroke-width="0.3"/>
<path d="M302.18,40.12 L297.10,38.10 L307.10,36.19 L312.18,38.21Z" fill="#404ed0" stroke="#404ed0" stroke-width="0.3"/>
<path d="M347.77,52.34 L342.69,50.32 L352.69,48.41 L357.77,50.43Z" fill="#8cb0fa" stroke="#8cb0fa" stroke-width="0.3"/>
<path d="M342.69,50.32 L337.60,48.30 L347.60,46.39 L352.69,48.41Z" fill="#e98267" stroke="#e98267" stroke-width="0.3"/>
<path d="M337.60,48.30 L332.52,46.29 L342.52,44.38 L347.60,46.39Z" fill="#f2a07e" stroke="#f2a07e" stroke-width="0.3"/>
<path d="M332.52,46.29 L327.43,44.27 L337.43,42.36 L342.52,44.38Z" fill="#f2bda5" stroke="#f2bda5" stroke-width="0.3"/>
<path d="M327.43,44.27 L322.35,42.25 L332.35,40.34 L337.43,42.36Z" fill="#e8d5cb" stroke="#e8d5cb" stroke-width="0.3"/>
<path d="M322.35,42.25 L317.27,40.23 L327.27,38.32 L332.35,40.34Z" fill="#ced8ea" stroke="#ced8ea" stroke-width="0.3"/>
<path d="M317.27,40.23 L312.18,38.21 L322.18,36.30 L327.27,38.32Z" fill="#7b9df3" stroke="#7b9df3" stroke-width="0.3"/>
<path d="M312.18,38.21 L307.10,36.19 L317.10,34.28 L322.18,36.30Z" fill="#404ed0" stroke="#404ed0" stroke-width="0.3"/>
<path d="M357.77,50.43 L352.69,48.41 L362.69,46.50 L367.77,48.52Z" fill="#404ed0" stroke="#404ed0" stroke-width="0.3"/>
<path d="M352.69,48.41 L347.60,46.39 L357.60,44.48 L362.69,46.50Z" fill="#a5c1f8" stroke="#a5c1f8" stroke-width="0.3"/>
<path d="M347.60,46.39 L342.52,44.38 L352.52,42.47 L357.60,44.48Z" fill="#cad6ed" stroke="#cad6ed" stroke-width="0.3"/>
<path d="M342.52,44.38 L337.43,42.36 L347.43,40.45 L352.52,42.47Z" fill="#e2dad6" stroke="#e2dad6" stroke-width="0.3"/>
<path d="M337.43,42.36 L332.35,40.34 L342.35,38.43 L347.43,40.45Z" fill="#dedede" stroke="#dedede" stroke-width="0.3"/>
<path d="M332.35,40.34 L327.27,38.32 L337.27,36.41 L342.35,38.43Z" fill="#bed2f6" stroke="#bed2f6" stroke-width="0.3"/>
<path d="M327.27,38.32 L322.18,36.30 L332.18,34.39 L337.27,36.41Z" fill="#85a8f7" stroke="#85a8f7" stroke-width="0.3"/>
<path d="M322.18,36.30 L317.10,34.28 L327.10,32.37 L332.18,34.39Z" fill="#495bd7" stroke="#495bd7" stroke-width="0.3"/>
<path d="M367.77,48.52 L362.69,46.50 L372.69,44.59 L377.77,46.61Z" fill="#404ed0" stroke="#404ed0" stroke-width="0.3"/>
<path d="M362.69,46.50 L357.60,44.48 L367.60,42.57 L372.69,44.59Z" fill="#404ed0" stroke="#404ed0" stroke-width="0.3"/>
<path d="M357.60,44.48 L352.52,42.47 L362.52,40.56 L367.60,42.57Z" fill="#6b89ed" stroke="#6b89ed" stroke-width="0.3"/>
<path d="M352.52,42.47 L347.43,40.45 L357.43,38.54 L362.52,40.56Z" fill="#9dbbf9" stroke="#9dbbf9" stroke-width="0.3"/>
<path d="M347.43,40.45 L342.35,38.43 L352.35,36.52 L357.43,38.54Z" fill="#b6ccf7" stroke="#b6ccf7" stroke-width="0.3"/>
<path d="M342.35,38.43 L337.27,36.41 L347.27,34.50 L352.35,36.52Z" fill="#94b6f9" stroke="#94b6f9" stroke-width="0.3"/>
<path d="M337.27,36.41 L332.18,34.39 L342.18,32.48 L347.27,34.50Z" fill="#5a76e6" stroke="#5a76e6" stroke-width="0.3"/>
<path d="M332.18,34.39 L327.10,32.37 L337.10,30.46 L342.18,32.48Z" fill="#404ed0" stroke="#404ed0" stroke-width="0.3"/>
<path d="M332.69,52.23 L372.69,44.59 M327.60,50.22 L367.60,42.57 M322.52,48.20 L362.52,40.56 M317.43,46.18 L357.43,38.54 M312.35,44.16 L352.35,36.52 M307.27,42.14 L347.27,34.50 M302.18,40.12 L342.18,32.48 M347.77,52.34 L307.10,36.19 M357.77,50.43 L317.10,34.28 M367.77,48.52 L327.10,32.37" stroke="#ffffff" stroke-opacity="0.28" stroke-width="0.4" fill="none"/>
<path d="M297.10,38.10 L337.10,30.46 L377.77,46.61 L337.77,54.25 Z" fill="none" stroke="#1a1a1a" stroke-width="0.8"/>
<line x1="294.60" y1="38.10" x2="297.00" y2="38.10" stroke="#333" stroke-width="0.7"/>
<text x="294.20" y="40.80" font-size="7.5" text-anchor="end"><tspan>1.5</tspan></text>
<path d="M338.30,28.91 L333.14,27.08 L343.14,25.35 L348.30,27.18Z" fill="#c8202a" stroke="#c8202a" stroke-width="0.3"/>
<path d="M333.14,27.08 L327.97,25.25 L337.97,23.53 L343.14,25.35Z" fill="#d13937" stroke="#d13937" stroke-width="0.3"/>
<path d="M327.97,25.25 L322.81,23.43 L332.81,21.70 L337.97,23.53Z" fill="#e16450" stroke="#e16450" stroke-width="0.3"/>
<path d="M322.81,23.43 L317.65,21.60 L327.65,19.88 L332.81,21.70Z" fill="#f2a07e" stroke="#f2a07e" stroke-width="0.3"/>
<path d="M317.65,21.60 L312.49,19.78 L322.49,18.05 L327.65,19.88Z" fill="#f2ccb8" stroke="#f2ccb8" stroke-width="0.3"/>
<path d="M312.49,19.78 L307.32,17.95 L317.32,16.23 L322.49,18.05Z" fill="#ced8ea" stroke="#ced8ea" stroke-width="0.3"/>
<path d="M307.32,17.95 L302.16,16.13 L312.16,14.40 L317.32,16.23Z" fill="#8cb0fa" stroke="#8cb0fa" stroke-width="0.3"/>
<path d="M302.16,16.13 L297.00,14.30 L307.00,12.57 L312.16,14.40Z" fill="#495bd7" stroke="#495bd7" stroke-width="0.3"/>
<path d="M348.30,27.18 L343.14,25.35 L353.14,23.63 L358.30,25.45Z" fill="#94b6f9" stroke="#94b6f9" stroke-width="0.3"/>
<path d="M343.14,25.35 L337.97,23.53 L347.97,21.80 L353.14,23.63Z" fill="#e7785f" stroke="#e7785f" stroke-width="0.3"/>
<path d="M337.97,23.53 L332.81,21.70 L342.81,19.98 L347.97,21.80Z" fill="#ef9676" stroke="#ef9676" stroke-width="0.3"/>
<path d="M332.81,21.70 L327.65,19.88 L337.65,18.15 L342.81,19.98Z" fill="#f2af91" stroke="#f2af91" stroke-width="0.3"/>
<path d="M327.65,19.88 L322.49,18.05 L332.49,16.33 L337.65,18.15Z" fill="#f2ccb8" stroke="#f2ccb8" stroke-width="0.3"/>
<path d="M322.49,18.05 L317.32,16.23 L327.32,14.50 L332.49,16.33Z" fill="#dedede" stroke="#dedede" stroke-width="0.3"/>
<path d="M317.32,16.23 L312.16,14.40 L322.16,12.67 L327.32,14.50Z" fill="#adc7f7" stroke="#adc7f7" stroke-width="0.3"/>
<path d="M312.16,14.40 L307.00,12.57 L317.00,10.85 L322.16,12.67Z" fill="#5a76e6" stroke="#5a76e6" stroke-width="0.3"/>
<path d="M358.30,25.45 L353.14,23.63 L363.14,21.90 L368.30,23.73Z" fill="#404ed0" stroke="#404ed0" stroke-width="0.3"/>
<path d="M353.14,23.63 L347.97,21.80 L357.97,20.08 L363.14,21.90Z" fill="#adc7f7" stroke="#adc7f7" stroke-width="0.3"/>
<path d="M347.97,21.80 L342.81,19.98 L352.81,18.25 L357.97,20.08Z" fill="#d6dbe4" stroke="#d6dbe4" stroke-width="0.3"/>
<path d="M342.81,19.98 L337.65,18.15 L347.65,16.43 L352.81,18.25Z" fill="#ead3c7" stroke="#ead3c7" stroke-width="0.3"/>
<path d="M337.65,18.15 L332.49,16.33 L342.49,14.60 L347.65,16.43Z" fill="#e6d7cf" stroke="#e6d7cf" stroke-width="0.3"/>
<path d="M332.49,16.33 L327.32,14.50 L337.32,12.77 L342.49,14.60Z" fill="#ced8ea" stroke="#ced8ea" stroke-width="0.3"/>
<path d="M327.32,14.50 L322.16,12.67 L332.16,10.95 L337.32,12.77Z" fill="#adc7f7" stroke="#adc7f7" stroke-width="0.3"/>
<path d="M322.16,12.67 L317.00,10.85 L327.00,9.12 L332.16,10.95Z" fill="#7b9df3" stroke="#7b9df3" stroke-width="0.3"/>
<path d="M368.30,23.73 L363.14,21.90 L373.14,20.18 L378.30,22.00Z" fill="#404ed0" stroke="#404ed0" stroke-width="0.3"/>
<path d="M363.14,21.90 L357.97,20.08 L367.97,18.35 L373.14,20.18Z" fill="#404ed0" stroke="#404ed0" stroke-width="0.3"/>
<path d="M357.97,20.08 L352.81,18.25 L362.81,16.53 L367.97,18.35Z" fill="#7191ef" stroke="#7191ef" stroke-width="0.3"/>
<path d="M352.81,18.25 L347.65,16.43 L357.65,14.70 L362.81,16.53Z" fill="#a5c1f8" stroke="#a5c1f8" stroke-width="0.3"/>
<path d="M347.65,16.43 L342.49,14.60 L352.49,12.87 L357.65,14.70Z" fill="#bed2f6" stroke="#bed2f6" stroke-width="0.3"/>
<path d="M342.49,14.60 L337.32,12.77 L347.32,11.05 L352.49,12.87Z" fill="#b6ccf7" stroke="#b6ccf7" stroke-width="0.3"/>
<path d="M337.32,12.77 L332.16,10.95 L342.16,9.22 L347.32,11.05Z" fill="#94b6f9" stroke="#94b6f9" stroke-width="0.3"/>
<path d="M332.16,10.95 L327.00,9.12 L337.00,7.40 L342.16,9.22Z" fill="#6b89ed" stroke="#6b89ed" stroke-width="0.3"/>
<path d="M333.14,27.08 L373.14,20.18 M327.97,25.25 L367.97,18.35 M322.81,23.43 L362.81,16.53 M317.65,21.60 L357.65,14.70 M312.49,19.78 L352.49,12.87 M307.32,17.95 L347.32,11.05 M302.16,16.13 L342.16,9.22 M348.30,27.18 L307.00,12.57 M358.30,25.45 L317.00,10.85 M368.30,23.73 L327.00,9.12" stroke="#ffffff" stroke-opacity="0.28" stroke-width="0.4" fill="none"/>
<path d="M297.00,14.30 L337.00,7.40 L378.30,22.00 L338.30,28.91 Z" fill="none" stroke="#1a1a1a" stroke-width="0.8"/>
<line x1="294.60" y1="14.30" x2="297.00" y2="14.30" stroke="#333" stroke-width="0.7"/>
<text x="294.20" y="17.00" font-size="7.5" text-anchor="end"><tspan>2.0</tspan></text>
<text x="277.30" y="80.50" font-size="10.2" text-anchor="middle" stroke="#000" stroke-width="0.14" transform="rotate(-90 277.30 80.50)"><tspan>The concentration of CuCl</tspan><tspan dy="2.86" font-size="6.32">2</tspan><tspan dy="-2.86"> (M)</tspan></text>
<text x="331.00" y="166.30" font-size="7.3" text-anchor="middle"><tspan>0</tspan></text>
<text x="326.14" y="163.57" font-size="7.3" text-anchor="middle"><tspan>1</tspan></text>
<text x="321.29" y="160.84" font-size="7.3" text-anchor="middle"><tspan>2</tspan></text>
<text x="316.43" y="158.11" font-size="7.3" text-anchor="middle"><tspan>3</tspan></text>
<text x="311.57" y="155.39" font-size="7.3" text-anchor="middle"><tspan>4</tspan></text>
<text x="306.71" y="152.66" font-size="7.3" text-anchor="middle"><tspan>5</tspan></text>
<text x="301.86" y="149.93" font-size="7.3" text-anchor="middle"><tspan>6</tspan></text>
<text x="297.00" y="147.20" font-size="7.3" text-anchor="middle"><tspan>7</tspan></text>
<text x="341.60" y="166.90" font-size="7.3" text-anchor="middle"><tspan>1</tspan></text>
<text x="351.67" y="164.07" font-size="7.3" text-anchor="middle"><tspan>2</tspan></text>
<text x="361.73" y="161.23" font-size="7.3" text-anchor="middle"><tspan>3</tspan></text>
<text x="371.80" y="158.40" font-size="7.3" text-anchor="middle"><tspan>4</tspan></text>
<text x="309.00" y="165.50" font-size="10.2" text-anchor="middle" stroke="#000" stroke-width="0.14" transform="rotate(34 309.00 165.50)"><tspan>Cl</tspan><tspan dy="-4.08" font-size="6.32">-</tspan><tspan dy="4.08"> count</tspan></text>
<text x="361.00" y="172.50" font-size="10.2" text-anchor="middle" stroke="#000" stroke-width="0.14" transform="rotate(-18 361.00 172.50)"><tspan>Cu</tspan><tspan dy="-4.08" font-size="6.32">2+</tspan><tspan dy="4.08"> count</tspan></text>
<defs><linearGradient id="cbar" x1="0" y1="1" x2="0" y2="0"><stop offset="0.0" stop-color="#404ed0"/><stop offset="0.15" stop-color="#5a76e6"/><stop offset="0.3" stop-color="#8cb0fa"/><stop offset="0.42" stop-color="#bed2f6"/><stop offset="0.5" stop-color="#dedede"/><stop offset="0.6" stop-color="#f2ccb8"/><stop offset="0.72" stop-color="#f2a07e"/><stop offset="0.86" stop-color="#de5a48"/><stop offset="1.0" stop-color="#c8202a"/></linearGradient></defs>
<rect x="388.20" y="51.00" width="13.50" height="66.90" fill="url(#cbar)"/>
<text x="402.60" y="54.30" font-size="6.7"><tspan>1.00000</tspan></text>
<text x="402.60" y="67.44" font-size="6.7"><tspan>0.09733</tspan></text>
<text x="402.60" y="80.58" font-size="6.7"><tspan>0.00980</tspan></text>
<text x="402.60" y="93.72" font-size="6.7"><tspan>0.00099</tspan></text>
<text x="402.60" y="106.86" font-size="6.7"><tspan>0.00010</tspan></text>
<text x="402.60" y="120.00" font-size="6.7"><tspan>0.00000</tspan></text>
<clipPath id="clipC"><rect x="478.8" y="21.8" width="167.59999999999997" height="135.39999999999998"/></clipPath>
<g clip-path="url(#clipC)">
<line x1="497.48" y1="157.20" x2="497.48" y2="82.73" stroke="#7a6a9a" stroke-width="0.8" stroke-dasharray="1.2,1.6"/>
<line x1="509.93" y1="157.20" x2="509.93" y2="73.42" stroke="#d08aa0" stroke-width="0.8" stroke-dasharray="1.2,1.6"/>
<line x1="518.55" y1="157.20" x2="518.55" y2="73.42" stroke="#6a78b8" stroke-width="0.8" stroke-dasharray="1.2,1.6"/>
<path d="M490.8,85.3 L491.7,85.9 L492.7,86.7 L493.6,87.8 L494.6,89.0 L495.6,90.4 L496.5,92.1 L497.5,94.0 L498.4,96.2 L499.4,98.5 L500.3,100.9 L501.3,103.0 L502.3,104.3 L503.2,105.6 L504.2,106.8 L505.1,108.1 L506.1,109.3 L507.1,110.5 L508.0,111.7 L509.0,112.9 L509.9,114.0 L510.9,115.3 L511.8,116.5 L512.8,117.8 L513.8,119.0 L514.7,120.1 L515.7,121.2 L516.6,122.3 L517.6,123.3 L518.5,123.9 L519.5,124.4 L520.5,124.8 L521.4,125.3 L522.4,125.7 L523.3,126.2 L524.3,126.6 L525.2,127.0 L526.2,127.4 L527.2,127.8 L528.1,128.3 L529.1,128.7 L530.0,129.2 L531.0,129.6 L532.0,130.1 L532.9,130.5 L533.9,130.8 L534.8,131.2 L535.8,131.6 L536.7,132.0 L537.7,132.4 L538.7,132.8 L539.6,133.2 L540.6,133.6 L541.5,134.0 L542.5,134.5 L543.4,134.9 L544.4,135.3 L545.4,135.7 L546.3,136.1 L547.3,136.5 L548.2,136.9 L549.2,137.2 L550.1,137.6 L551.1,137.9 L552.1,138.3 L553.0,138.6 L554.0,138.8 L554.9,139.1 L555.9,139.4 L556.9,139.6 L557.8,139.9 L558.8,140.1 L559.7,140.3 L560.7,140.5 L561.6,140.8 L562.6,141.0 L563.6,141.2 L564.5,141.4 L565.5,141.6 L566.4,141.8 L567.4,142.0 L568.3,142.2 L569.3,142.3 L570.3,142.5 L571.2,142.7 L572.2,142.9 L573.1,143.0 L574.1,143.2 L575.1,143.3 L576.0,143.5 L577.0,143.7 L577.9,143.8 L578.9,144.0 L579.8,144.1 L580.8,144.2 L581.8,144.4 L582.7,144.5 L583.7,144.6 L584.6,144.7 L585.6,144.8 L586.5,144.9 L587.5,145.0 L588.5,145.1 L589.4,145.2 L590.4,145.3 L591.3,145.4 L592.3,145.5 L593.2,145.6 L594.2,145.7 L595.2,145.8 L596.1,145.8 L597.1,145.9 L598.0,146.0 L599.0,146.1 L600.0,146.1 L600.9,146.2 L601.9,146.2 L602.8,146.3 L603.8,146.3 L604.7,146.4 L605.7,146.4 L606.7,146.5 L607.6,146.5 L608.6,146.5 L609.5,146.6 L610.5,146.6 L611.4,146.6 L612.4,146.6 L613.4,146.7 L614.3,146.7 L615.3,146.7 L616.2,146.7 L617.2,146.8 L618.1,146.8 L619.1,146.8 L620.1,146.8 L621.0,146.8 L622.0,146.9 L622.9,146.9 L623.9,146.9 L624.9,146.9 L625.8,146.9 L626.8,146.9 L627.7,147.0 L628.7,147.0 L629.6,147.0 L630.6,147.0 L631.6,147.0 L632.5,147.0 L633.5,147.0 L634.4,147.0" fill="none" stroke="#dcd8d6" stroke-width="1.0" stroke-linejoin="round"/>
<path d="M490.8,82.7 L491.7,83.3 L492.7,83.9 L493.6,84.6 L494.6,85.5 L495.6,86.4 L496.5,87.5 L497.5,88.6 L498.4,89.9 L499.4,91.2 L500.3,93.0 L501.3,95.0 L502.3,97.2 L503.2,99.4 L504.2,101.8 L505.1,104.0 L506.1,106.2 L507.1,108.3 L508.0,110.5 L509.0,112.7 L509.9,114.8 L510.9,116.9 L511.8,118.8 L512.8,120.4 L513.8,121.7 L514.7,122.6 L515.7,123.1 L516.6,123.3 L517.6,123.3 L518.5,123.3 L519.5,123.3 L520.5,123.4 L521.4,123.5 L522.4,123.6 L523.3,123.6 L524.3,123.7 L525.2,123.8 L526.2,123.9 L527.2,124.2 L528.1,124.4 L529.1,124.7 L530.0,125.0 L531.0,125.3 L532.0,125.7 L532.9,126.1 L533.9,126.6 L534.8,127.2 L535.8,127.8 L536.7,128.3 L537.7,128.9 L538.7,129.5 L539.6,130.1 L540.6,130.8 L541.5,131.5 L542.5,132.2 L543.4,132.9 L544.4,133.6 L545.4,134.2 L546.3,134.9 L547.3,135.5 L548.2,136.0 L549.2,136.4 L550.1,136.7 L551.1,137.1 L552.1,137.4 L553.0,137.7 L554.0,138.1 L554.9,138.4 L555.9,138.7 L556.9,139.0 L557.8,139.3 L558.8,139.6 L559.7,139.8 L560.7,140.1 L561.6,140.4 L562.6,140.7 L563.6,140.9 L564.5,141.2 L565.5,141.5 L566.4,141.7 L567.4,142.0 L568.3,142.1 L569.3,142.3 L570.3,142.5 L571.2,142.6 L572.2,142.8 L573.1,143.0 L574.1,143.1 L575.1,143.3 L576.0,143.4 L577.0,143.6 L577.9,143.8 L578.9,143.9 L579.8,144.1 L580.8,144.2 L581.8,144.3 L582.7,144.5 L583.7,144.6 L584.6,144.8 L585.6,144.9 L586.5,145.0 L587.5,145.2 L588.5,145.3 L589.4,145.4 L590.4,145.5 L591.3,145.7 L592.3,145.8 L593.2,145.9 L594.2,146.0 L595.2,146.1 L596.1,146.2 L597.1,146.3 L598.0,146.3 L599.0,146.4 L600.0,146.5 L600.9,146.5 L601.9,146.6 L602.8,146.7 L603.8,146.7 L604.7,146.8 L605.7,146.8 L606.7,146.9 L607.6,146.9 L608.6,147.0 L609.5,147.0 L610.5,147.1 L611.4,147.1 L612.4,147.2 L613.4,147.2 L614.3,147.3 L615.3,147.3 L616.2,147.3 L617.2,147.4 L618.1,147.4 L619.1,147.5 L620.1,147.5 L621.0,147.5 L622.0,147.6 L622.9,147.6 L623.9,147.6 L624.9,147.6 L625.8,147.7 L626.8,147.7 L627.7,147.7 L628.7,147.8 L629.6,147.8 L630.6,147.8 L631.6,147.8 L632.5,147.8 L633.5,147.9 L634.4,147.9" fill="none" stroke="#d5cbc5" stroke-width="1.0" stroke-linejoin="round"/>
<path d="M490.8,81.0 L491.7,81.2 L492.7,81.4 L493.6,81.6 L494.6,81.8 L495.6,82.1 L496.5,82.4 L497.5,82.7 L498.4,83.0 L499.4,83.3 L500.3,83.6 L501.3,83.9 L502.3,84.2 L503.2,84.4 L504.2,84.7 L505.1,85.1 L506.1,85.4 L507.1,85.7 L508.0,86.1 L509.0,86.5 L509.9,87.0 L510.9,87.6 L511.8,88.2 L512.8,88.8 L513.8,89.5 L514.7,90.4 L515.7,91.5 L516.6,92.9 L517.6,94.8 L518.5,97.2 L519.5,99.9 L520.5,102.6 L521.4,105.3 L522.4,107.8 L523.3,109.7 L524.3,111.1 L525.2,112.4 L526.2,113.7 L527.2,114.9 L528.1,116.1 L529.1,117.3 L530.0,118.4 L531.0,119.6 L532.0,120.8 L532.9,121.6 L533.9,122.3 L534.8,123.1 L535.8,123.9 L536.7,124.6 L537.7,125.4 L538.7,126.1 L539.6,126.9 L540.6,127.6 L541.5,128.4 L542.5,129.1 L543.4,129.8 L544.4,130.5 L545.4,131.2 L546.3,131.8 L547.3,132.4 L548.2,132.9 L549.2,133.5 L550.1,134.0 L551.1,134.6 L552.1,135.1 L553.0,135.6 L554.0,136.2 L554.9,136.7 L555.9,137.2 L556.9,137.6 L557.8,138.1 L558.8,138.6 L559.7,139.0 L560.7,139.4 L561.6,139.9 L562.6,140.3 L563.6,140.5 L564.5,140.8 L565.5,141.1 L566.4,141.3 L567.4,141.5 L568.3,141.8 L569.3,142.0 L570.3,142.2 L571.2,142.5 L572.2,142.7 L573.1,142.9 L574.1,143.1 L575.1,143.3 L576.0,143.5 L577.0,143.7 L577.9,143.9 L578.9,144.0 L579.8,144.2 L580.8,144.4 L581.8,144.6 L582.7,144.7 L583.7,144.9 L584.6,145.0 L585.6,145.2 L586.5,145.4 L587.5,145.4 L588.5,145.5 L589.4,145.6 L590.4,145.6 L591.3,145.7 L592.3,145.8 L593.2,145.9 L594.2,145.9 L595.2,146.0 L596.1,146.1 L597.1,146.1 L598.0,146.2 L599.0,146.3 L600.0,146.3 L600.9,146.4 L601.9,146.4 L602.8,146.5 L603.8,146.6 L604.7,146.6 L605.7,146.7 L606.7,146.7 L607.6,146.8 L608.6,146.8 L609.5,146.9 L610.5,146.9 L611.4,147.0 L612.4,147.0 L613.4,147.1 L614.3,147.1 L615.3,147.2 L616.2,147.2 L617.2,147.3 L618.1,147.3 L619.1,147.4 L620.1,147.4 L621.0,147.4 L622.0,147.5 L622.9,147.5 L623.9,147.6 L624.9,147.6 L625.8,147.6 L626.8,147.7 L627.7,147.7 L628.7,147.7 L629.6,147.8 L630.6,147.8 L631.6,147.8 L632.5,147.8 L633.5,147.9 L634.4,147.9" fill="none" stroke="#c4b8b0" stroke-width="1.0" stroke-linejoin="round"/>
<path d="M490.8,81.0 L491.7,81.2 L492.7,81.4 L493.6,81.6 L494.6,81.8 L495.6,82.1 L496.5,82.4 L497.5,82.6 L498.4,82.9 L499.4,83.3 L500.3,83.8 L501.3,84.2 L502.3,84.4 L503.2,84.4 L504.2,84.2 L505.1,83.7 L506.1,83.1 L507.1,82.5 L508.0,81.9 L509.0,81.4 L509.9,81.0 L510.9,80.8 L511.8,80.4 L512.8,80.1 L513.8,79.9 L514.7,79.8 L515.7,79.9 L516.6,80.3 L517.6,81.0 L518.5,82.3 L519.5,83.9 L520.5,85.9 L521.4,88.1 L522.4,90.4 L523.3,92.8 L524.3,95.1 L525.2,97.4 L526.2,99.7 L527.2,102.1 L528.1,104.6 L529.1,107.1 L530.0,109.5 L531.0,111.8 L532.0,114.0 L532.9,115.8 L533.9,117.6 L534.8,119.4 L535.8,121.1 L536.7,122.7 L537.7,124.3 L538.7,125.8 L539.6,127.2 L540.6,128.4 L541.5,129.5 L542.5,130.4 L543.4,131.1 L544.4,131.8 L545.4,132.4 L546.3,133.0 L547.3,133.6 L548.2,134.2 L549.2,134.9 L550.1,135.4 L551.1,135.8 L552.1,136.1 L553.0,136.5 L554.0,136.9 L554.9,137.3 L555.9,137.7 L556.9,138.1 L557.8,138.5 L558.8,138.8 L559.7,139.2 L560.7,139.6 L561.6,140.0 L562.6,140.3 L563.6,140.7 L564.5,141.0 L565.5,141.3 L566.4,141.7 L567.4,142.0 L568.3,142.1 L569.3,142.3 L570.3,142.5 L571.2,142.7 L572.2,142.8 L573.1,143.0 L574.1,143.2 L575.1,143.3 L576.0,143.5 L577.0,143.7 L577.9,143.8 L578.9,144.0 L579.8,144.1 L580.8,144.3 L581.8,144.4 L582.7,144.5 L583.7,144.7 L584.6,144.8 L585.6,144.9 L586.5,145.1 L587.5,145.2 L588.5,145.3 L589.4,145.4 L590.4,145.6 L591.3,145.7 L592.3,145.8 L593.2,145.9 L594.2,146.0 L595.2,146.1 L596.1,146.2 L597.1,146.3 L598.0,146.3 L599.0,146.4 L600.0,146.5 L600.9,146.5 L601.9,146.6 L602.8,146.7 L603.8,146.7 L604.7,146.8 L605.7,146.8 L606.7,146.9 L607.6,146.9 L608.6,147.0 L609.5,147.0 L610.5,147.1 L611.4,147.1 L612.4,147.2 L613.4,147.2 L614.3,147.3 L615.3,147.3 L616.2,147.3 L617.2,147.4 L618.1,147.4 L619.1,147.5 L620.1,147.5 L621.0,147.5 L622.0,147.6 L622.9,147.6 L623.9,147.6 L624.9,147.6 L625.8,147.7 L626.8,147.7 L627.7,147.7 L628.7,147.8 L629.6,147.8 L630.6,147.8 L631.6,147.8 L632.5,147.8 L633.5,147.9 L634.4,147.9" fill="none" stroke="#a89a90" stroke-width="1.0" stroke-linejoin="round"/>
<path d="M490.8,80.2 L491.7,80.2 L492.7,80.1 L493.6,80.1 L494.6,80.0 L495.6,80.0 L496.5,80.0 L497.5,80.1 L498.4,80.4 L499.4,81.0 L500.3,81.7 L501.3,82.4 L502.3,82.9 L503.2,82.7 L504.2,82.2 L505.1,81.4 L506.1,80.4 L507.1,79.2 L508.0,78.0 L509.0,76.8 L509.9,75.9 L510.9,75.1 L511.8,74.5 L512.8,74.0 L513.8,73.7 L514.7,73.4 L515.7,73.3 L516.6,73.3 L517.6,73.4 L518.5,73.7 L519.5,74.2 L520.5,75.0 L521.4,76.1 L522.4,77.7 L523.3,79.3 L524.3,81.1 L525.2,83.3 L526.2,85.6 L527.2,88.3 L528.1,91.2 L529.1,93.8 L530.0,96.8 L531.0,100.0 L532.0,103.3 L532.9,106.6 L533.9,109.8 L534.8,112.7 L535.8,115.3 L536.7,117.8 L537.7,120.2 L538.7,122.4 L539.6,124.5 L540.6,126.5 L541.5,128.4 L542.5,130.1 L543.4,131.2 L544.4,132.2 L545.4,133.1 L546.3,134.0 L547.3,134.9 L548.2,135.7 L549.2,136.4 L550.1,137.1 L551.1,137.8 L552.1,138.5 L553.0,139.1 L554.0,139.6 L554.9,140.0 L555.9,140.3 L556.9,140.6 L557.8,140.9 L558.8,141.2 L559.7,141.5 L560.7,141.8 L561.6,142.1 L562.6,142.3 L563.6,142.6 L564.5,142.8 L565.5,143.0 L566.4,143.3 L567.4,143.5 L568.3,143.7 L569.3,143.9 L570.3,144.1 L571.2,144.3 L572.2,144.5 L573.1,144.6 L574.1,144.8 L575.1,144.9 L576.0,145.0 L577.0,145.1 L577.9,145.2 L578.9,145.3 L579.8,145.4 L580.8,145.5 L581.8,145.6 L582.7,145.7 L583.7,145.8 L584.6,145.9 L585.6,146.0 L586.5,146.0 L587.5,146.1 L588.5,146.2 L589.4,146.3 L590.4,146.3 L591.3,146.4 L592.3,146.5 L593.2,146.6 L594.2,146.6 L595.2,146.7 L596.1,146.7 L597.1,146.8 L598.0,146.9 L599.0,146.9 L600.0,147.0 L600.9,147.0 L601.9,147.1 L602.8,147.1 L603.8,147.2 L604.7,147.2 L605.7,147.3 L606.7,147.3 L607.6,147.3 L608.6,147.4 L609.5,147.4 L610.5,147.4 L611.4,147.5 L612.4,147.5 L613.4,147.5 L614.3,147.5 L615.3,147.6 L616.2,147.6 L617.2,147.6 L618.1,147.6 L619.1,147.7 L620.1,147.7 L621.0,147.7 L622.0,147.7 L622.9,147.7 L623.9,147.7 L624.9,147.8 L625.8,147.8 L626.8,147.8 L627.7,147.8 L628.7,147.8 L629.6,147.8 L630.6,147.8 L631.6,147.9 L632.5,147.9 L633.5,147.9 L634.4,147.9" fill="none" stroke="#3a302c" stroke-width="1.0" stroke-linejoin="round"/>
<path d="M490.8,78.5 L491.7,78.4 L492.7,78.2 L493.6,77.9 L494.6,77.7 L495.6,77.6 L496.5,77.6 L497.5,77.8 L498.4,78.4 L499.4,79.1 L500.3,79.9 L501.3,80.6 L502.3,81.0 L503.2,81.0 L504.2,80.6 L505.1,79.9 L506.1,79.0 L507.1,78.0 L508.0,76.9 L509.0,75.8 L509.9,74.9 L510.9,74.3 L511.8,73.8 L512.8,73.3 L513.8,73.0 L514.7,72.8 L515.7,72.6 L516.6,72.6 L517.6,72.6 L518.5,72.6 L519.5,72.6 L520.5,72.6 L521.4,72.8 L522.4,73.2 L523.3,73.9 L524.3,75.1 L525.2,76.4 L526.2,78.0 L527.2,79.9 L528.1,81.9 L529.1,84.1 L530.0,86.4 L531.0,88.8 L532.0,91.2 L532.9,93.5 L533.9,95.9 L534.8,98.6 L535.8,101.3 L536.7,104.0 L537.7,106.7 L538.7,109.3 L539.6,111.8 L540.6,114.0 L541.5,116.1 L542.5,118.0 L543.4,119.9 L544.4,121.8 L545.4,123.5 L546.3,125.2 L547.3,126.7 L548.2,128.2 L549.2,129.5 L550.1,130.7 L551.1,131.7 L552.1,132.5 L553.0,133.3 L554.0,133.9 L554.9,134.5 L555.9,135.0 L556.9,135.6 L557.8,136.2 L558.8,136.9 L559.7,137.3 L560.7,137.7 L561.6,138.1 L562.6,138.5 L563.6,138.9 L564.5,139.4 L565.5,139.8 L566.4,140.3 L567.4,140.7 L568.3,141.1 L569.3,141.6 L570.3,142.0 L571.2,142.4 L572.2,142.8 L573.1,143.2 L574.1,143.5 L575.1,143.9 L576.0,144.2 L577.0,144.5 L577.9,144.7 L578.9,144.9 L579.8,145.0 L580.8,145.2 L581.8,145.3 L582.7,145.5 L583.7,145.6 L584.6,145.8 L585.6,145.9 L586.5,146.0 L587.5,146.2 L588.5,146.3 L589.4,146.4 L590.4,146.5 L591.3,146.6 L592.3,146.7 L593.2,146.8 L594.2,146.9 L595.2,147.0 L596.1,147.1 L597.1,147.2 L598.0,147.3 L599.0,147.4 L600.0,147.4 L600.9,147.5 L601.9,147.6 L602.8,147.7 L603.8,147.7 L604.7,147.8 L605.7,147.9 L606.7,148.0 L607.6,148.0 L608.6,148.1 L609.5,148.1 L610.5,148.2 L611.4,148.2 L612.4,148.3 L613.4,148.3 L614.3,148.4 L615.3,148.4 L616.2,148.4 L617.2,148.5 L618.1,148.5 L619.1,148.5 L620.1,148.5 L621.0,148.5 L622.0,148.6 L622.9,148.6 L623.9,148.6 L624.9,148.6 L625.8,148.6 L626.8,148.6 L627.7,148.7 L628.7,148.7 L629.6,148.7 L630.6,148.7 L631.6,148.7 L632.5,148.7 L633.5,148.7 L634.4,148.7" fill="none" stroke="#e0474c" stroke-width="1.2" stroke-linejoin="round"/>
<path d="M490.8,79.4 L491.7,78.7 L492.7,78.1 L493.6,77.4 L494.6,76.9 L495.6,76.5 L496.5,76.2 L497.5,76.0 L498.4,76.0 L499.4,76.1 L500.3,76.2 L501.3,76.4 L502.3,76.4 L503.2,76.1 L504.2,75.7 L505.1,75.0 L506.1,74.2 L507.1,73.4 L508.0,72.6 L509.0,71.9 L509.9,71.4 L510.9,71.0 L511.8,70.7 L512.8,70.5 L513.8,70.3 L514.7,70.2 L515.7,70.0 L516.6,69.9 L517.6,69.8 L518.5,69.8 L519.5,69.7 L520.5,69.7 L521.4,69.6 L522.4,69.6 L523.3,69.6 L524.3,69.7 L525.2,69.7 L526.2,69.8 L527.2,69.9 L528.1,70.0 L529.1,70.2 L530.0,70.3 L531.0,70.6 L532.0,70.8 L532.9,71.1 L533.9,71.5 L534.8,71.9 L535.8,72.3 L536.7,72.9 L537.7,73.5 L538.7,74.2 L539.6,74.9 L540.6,75.8 L541.5,76.8 L542.5,77.9 L543.4,79.2 L544.4,80.6 L545.4,82.1 L546.3,83.7 L547.3,85.5 L548.2,87.5 L549.2,89.6 L550.1,91.8 L551.1,94.1 L552.1,96.6 L553.0,99.1 L554.0,101.6 L554.9,104.2 L555.9,106.8 L556.9,109.3 L557.8,111.8 L558.8,114.2 L559.7,116.5 L560.7,118.7 L561.6,120.8 L562.6,122.7 L563.6,124.5 L564.5,126.2 L565.5,127.8 L566.4,129.2 L567.4,130.5 L568.3,131.7 L569.3,132.8 L570.3,133.8 L571.2,134.7 L572.2,135.5 L573.1,136.3 L574.1,137.0 L575.1,137.7 L576.0,138.2 L577.0,138.8 L577.9,139.3 L578.9,139.8 L579.8,140.2 L580.8,140.6 L581.8,140.9 L582.7,141.3 L583.7,141.6 L584.6,141.9 L585.6,142.2 L586.5,142.4 L587.5,142.7 L588.5,142.9 L589.4,143.1 L590.4,143.3 L591.3,143.5 L592.3,143.7 L593.2,143.8 L594.2,144.0 L595.2,144.1 L596.1,144.3 L597.1,144.4 L598.0,144.5 L599.0,144.6 L600.0,144.7 L600.9,144.8 L601.9,144.9 L602.8,145.0 L603.8,145.1 L604.7,145.1 L605.7,145.2 L606.7,145.3 L607.6,145.3 L608.6,145.4 L609.5,145.4 L610.5,145.5 L611.4,145.5 L612.4,145.6 L613.4,145.6 L614.3,145.7 L615.3,145.7 L616.2,145.7 L617.2,145.8 L618.1,145.8 L619.1,145.8 L620.1,145.8 L621.0,145.9 L622.0,145.9 L622.9,145.9 L623.9,145.9 L624.9,145.9 L625.8,146.0 L626.8,146.0 L627.7,146.0 L628.7,146.0 L629.6,146.0 L630.6,146.0 L631.6,146.0 L632.5,146.1 L633.5,146.1 L634.4,146.1" fill="none" stroke="#b9a5dc" stroke-width="1.0" stroke-linejoin="round"/>
<path d="M490.8,79.4 L491.7,78.6 L492.7,78.0 L493.6,77.3 L494.6,76.8 L495.6,76.3 L496.5,76.0 L497.5,75.8 L498.4,75.7 L499.4,75.8 L500.3,76.0 L501.3,76.1 L502.3,76.1 L503.2,75.8 L504.2,75.4 L505.1,74.7 L506.1,73.8 L507.1,73.0 L508.0,72.2 L509.0,71.5 L509.9,70.9 L510.9,70.5 L511.8,70.2 L512.8,69.9 L513.8,69.7 L514.7,69.5 L515.7,69.4 L516.6,69.2 L517.6,69.1 L518.5,69.0 L519.5,68.9 L520.5,68.8 L521.4,68.7 L522.4,68.6 L523.3,68.6 L524.3,68.5 L525.2,68.5 L526.2,68.5 L527.2,68.5 L528.1,68.4 L529.1,68.5 L530.0,68.5 L531.0,68.5 L532.0,68.6 L532.9,68.6 L533.9,68.7 L534.8,68.8 L535.8,69.0 L536.7,69.1 L537.7,69.3 L538.7,69.5 L539.6,69.8 L540.6,70.0 L541.5,70.4 L542.5,70.7 L543.4,71.2 L544.4,71.6 L545.4,72.2 L546.3,72.8 L547.3,73.5 L548.2,74.3 L549.2,75.2 L550.1,76.3 L551.1,77.4 L552.1,78.7 L553.0,80.0 L554.0,81.6 L554.9,83.3 L555.9,85.1 L556.9,87.1 L557.8,89.2 L558.8,91.4 L559.7,93.8 L560.7,96.2 L561.6,98.8 L562.6,101.3 L563.6,103.9 L564.5,106.5 L565.5,109.1 L566.4,111.6 L567.4,114.0 L568.3,116.3 L569.3,118.5 L570.3,120.6 L571.2,122.6 L572.2,124.4 L573.1,126.1 L574.1,127.7 L575.1,129.1 L576.0,130.4 L577.0,131.6 L577.9,132.7 L578.9,133.7 L579.8,134.6 L580.8,135.5 L581.8,136.3 L582.7,137.0 L583.7,137.6 L584.6,138.2 L585.6,138.7 L586.5,139.2 L587.5,139.7 L588.5,140.1 L589.4,140.5 L590.4,140.9 L591.3,141.3 L592.3,141.6 L593.2,141.9 L594.2,142.2 L595.2,142.4 L596.1,142.7 L597.1,142.9 L598.0,143.1 L599.0,143.3 L600.0,143.5 L600.9,143.7 L601.9,143.8 L602.8,144.0 L603.8,144.1 L604.7,144.3 L605.7,144.4 L606.7,144.5 L607.6,144.6 L608.6,144.7 L609.5,144.8 L610.5,144.9 L611.4,145.0 L612.4,145.1 L613.4,145.1 L614.3,145.2 L615.3,145.3 L616.2,145.3 L617.2,145.4 L618.1,145.4 L619.1,145.5 L620.1,145.5 L621.0,145.6 L622.0,145.6 L622.9,145.7 L623.9,145.7 L624.9,145.7 L625.8,145.8 L626.8,145.8 L627.7,145.8 L628.7,145.8 L629.6,145.9 L630.6,145.9 L631.6,145.9 L632.5,145.9 L633.5,145.9 L634.4,146.0" fill="none" stroke="#9478d0" stroke-width="1.0" stroke-linejoin="round"/>
<path d="M490.8,79.4 L491.7,78.6 L492.7,77.9 L493.6,77.3 L494.6,76.8 L495.6,76.3 L496.5,76.0 L497.5,75.8 L498.4,75.7 L499.4,75.8 L500.3,75.9 L501.3,76.0 L502.3,76.0 L503.2,75.8 L504.2,75.3 L505.1,74.6 L506.1,73.8 L507.1,72.9 L508.0,72.1 L509.0,71.4 L509.9,70.9 L510.9,70.4 L511.8,70.1 L512.8,69.8 L513.8,69.6 L514.7,69.4 L515.7,69.3 L516.6,69.1 L517.6,69.0 L518.5,68.8 L519.5,68.7 L520.5,68.6 L521.4,68.5 L522.4,68.4 L523.3,68.3 L524.3,68.3 L525.2,68.2 L526.2,68.1 L527.2,68.1 L528.1,68.0 L529.1,68.0 L530.0,68.0 L531.0,68.0 L532.0,68.0 L532.9,68.0 L533.9,68.0 L534.8,68.0 L535.8,68.0 L536.7,68.1 L537.7,68.1 L538.7,68.2 L539.6,68.3 L540.6,68.4 L541.5,68.5 L542.5,68.7 L543.4,68.9 L544.4,69.1 L545.4,69.3 L546.3,69.5 L547.3,69.8 L548.2,70.2 L549.2,70.6 L550.1,71.0 L551.1,71.5 L552.1,72.1 L553.0,72.7 L554.0,73.4 L554.9,74.2 L555.9,75.1 L556.9,76.2 L557.8,77.3 L558.8,78.6 L559.7,80.0 L560.7,81.5 L561.6,83.2 L562.6,85.0 L563.6,87.0 L564.5,89.1 L565.5,91.4 L566.4,93.7 L567.4,96.2 L568.3,98.7 L569.3,101.3 L570.3,103.9 L571.2,106.5 L572.2,109.1 L573.1,111.6 L574.1,114.0 L575.1,116.3 L576.0,118.5 L577.0,120.6 L577.9,122.6 L578.9,124.4 L579.8,126.1 L580.8,127.7 L581.8,129.1 L582.7,130.4 L583.7,131.6 L584.6,132.7 L585.6,133.7 L586.5,134.6 L587.5,135.5 L588.5,136.2 L589.4,137.0 L590.4,137.6 L591.3,138.2 L592.3,138.7 L593.2,139.2 L594.2,139.7 L595.2,140.1 L596.1,140.5 L597.1,140.9 L598.0,141.3 L599.0,141.6 L600.0,141.9 L600.9,142.2 L601.9,142.4 L602.8,142.7 L603.8,142.9 L604.7,143.1 L605.7,143.3 L606.7,143.5 L607.6,143.7 L608.6,143.8 L609.5,144.0 L610.5,144.1 L611.4,144.3 L612.4,144.4 L613.4,144.5 L614.3,144.6 L615.3,144.7 L616.2,144.8 L617.2,144.9 L618.1,145.0 L619.1,145.1 L620.1,145.1 L621.0,145.2 L622.0,145.3 L622.9,145.3 L623.9,145.4 L624.9,145.4 L625.8,145.5 L626.8,145.5 L627.7,145.6 L628.7,145.6 L629.6,145.7 L630.6,145.7 L631.6,145.7 L632.5,145.8 L633.5,145.8 L634.4,145.8" fill="none" stroke="#cdbde8" stroke-width="1.0" stroke-linejoin="round"/>
<path d="M490.8,79.4 L491.7,78.6 L492.7,77.9 L493.6,77.2 L494.6,76.6 L495.6,76.2 L496.5,75.8 L497.5,75.6 L498.4,75.5 L499.4,75.6 L500.3,75.7 L501.3,75.8 L502.3,75.7 L503.2,75.5 L504.2,75.0 L505.1,74.3 L506.1,73.5 L507.1,72.6 L508.0,71.8 L509.0,71.0 L509.9,70.5 L510.9,70.0 L511.8,69.7 L512.8,69.4 L513.8,69.2 L514.7,69.0 L515.7,68.8 L516.6,68.6 L517.6,68.4 L518.5,68.3 L519.5,68.2 L520.5,68.0 L521.4,67.9 L522.4,67.8 L523.3,67.7 L524.3,67.6 L525.2,67.5 L526.2,67.4 L527.2,67.3 L528.1,67.3 L529.1,67.2 L530.0,67.1 L531.0,67.1 L532.0,67.0 L532.9,67.0 L533.9,66.9 L534.8,66.9 L535.8,66.8 L536.7,66.8 L537.7,66.8 L538.7,66.8 L539.6,66.7 L540.6,66.7 L541.5,66.7 L542.5,66.7 L543.4,66.7 L544.4,66.7 L545.4,66.7 L546.3,66.8 L547.3,66.8 L548.2,66.8 L549.2,66.9 L550.1,67.0 L551.1,67.0 L552.1,67.1 L553.0,67.2 L554.0,67.4 L554.9,67.5 L555.9,67.7 L556.9,67.9 L557.8,68.1 L558.8,68.4 L559.7,68.8 L560.7,69.2 L561.6,69.6 L562.6,70.2 L563.6,70.8 L564.5,71.5 L565.5,72.4 L566.4,73.3 L567.4,74.5 L568.3,75.8 L569.3,77.3 L570.3,79.0 L571.2,80.9 L572.2,83.1 L573.1,85.4 L574.1,88.0 L575.1,90.8 L576.0,93.7 L577.0,96.8 L577.9,100.0 L578.9,103.2 L579.8,106.4 L580.8,109.5 L581.8,112.6 L582.7,115.4 L583.7,118.2 L584.6,120.7 L585.6,123.0 L586.5,125.1 L587.5,127.0 L588.5,128.8 L589.4,130.3 L590.4,131.7 L591.3,133.0 L592.3,134.1 L593.2,135.1 L594.2,136.0 L595.2,136.8 L596.1,137.6 L597.1,138.3 L598.0,138.9 L599.0,139.4 L600.0,140.0 L600.9,140.4 L601.9,140.9 L602.8,141.3 L603.8,141.7 L604.7,142.0 L605.7,142.3 L606.7,142.6 L607.6,142.9 L608.6,143.1 L609.5,143.4 L610.5,143.6 L611.4,143.8 L612.4,144.0 L613.4,144.2 L614.3,144.3 L615.3,144.5 L616.2,144.6 L617.2,144.7 L618.1,144.8 L619.1,144.9 L620.1,145.0 L621.0,145.1 L622.0,145.2 L622.9,145.3 L623.9,145.4 L624.9,145.4 L625.8,145.5 L626.8,145.6 L627.7,145.6 L628.7,145.7 L629.6,145.7 L630.6,145.7 L631.6,145.8 L632.5,145.8 L633.5,145.8 L634.4,145.9" fill="none" stroke="#4a5868" stroke-width="1.0" stroke-linejoin="round"/>
<path d="M490.8,73.4 L491.7,73.1 L492.7,72.7 L493.6,72.4 L494.6,72.0 L495.6,71.7 L496.5,71.5 L497.5,71.2 L498.4,70.9 L499.4,70.7 L500.3,70.4 L501.3,70.2 L502.3,70.0 L503.2,69.8 L504.2,69.6 L505.1,69.4 L506.1,69.2 L507.1,69.1 L508.0,68.9 L509.0,68.8 L509.9,68.6 L510.9,68.5 L511.8,68.4 L512.8,68.2 L513.8,68.1 L514.7,68.0 L515.7,67.9 L516.6,67.8 L517.6,67.7 L518.5,67.6 L519.5,67.5 L520.5,67.4 L521.4,67.4 L522.4,67.3 L523.3,67.2 L524.3,67.2 L525.2,67.1 L526.2,67.0 L527.2,67.0 L528.1,66.9 L529.1,66.9 L530.0,66.9 L531.0,66.8 L532.0,66.8 L532.9,66.7 L533.9,66.7 L534.8,66.7 L535.8,66.6 L536.7,66.6 L537.7,66.6 L538.7,66.6 L539.6,66.6 L540.6,66.6 L541.5,66.5 L542.5,66.5 L543.4,66.5 L544.4,66.5 L545.4,66.5 L546.3,66.6 L547.3,66.6 L548.2,66.6 L549.2,66.6 L550.1,66.6 L551.1,66.7 L552.1,66.7 L553.0,66.8 L554.0,66.8 L554.9,66.9 L555.9,67.0 L556.9,67.1 L557.8,67.2 L558.8,67.4 L559.7,67.6 L560.7,67.7 L561.6,68.0 L562.6,68.2 L563.6,68.6 L564.5,68.9 L565.5,69.4 L566.4,69.9 L567.4,70.4 L568.3,71.1 L569.3,71.9 L570.3,72.8 L571.2,73.9 L572.2,75.1 L573.1,76.5 L574.1,78.1 L575.1,79.9 L576.0,81.9 L577.0,84.2 L577.9,86.7 L578.9,89.4 L579.8,92.2 L580.8,95.2 L581.8,98.4 L582.7,101.6 L583.7,104.8 L584.6,108.0 L585.6,111.1 L586.5,114.0 L587.5,116.8 L588.5,119.4 L589.4,121.9 L590.4,124.1 L591.3,126.1 L592.3,127.9 L593.2,129.6 L594.2,131.0 L595.2,132.3 L596.1,133.5 L597.1,134.6 L598.0,135.6 L599.0,136.4 L600.0,137.2 L600.9,137.9 L601.9,138.6 L602.8,139.2 L603.8,139.7 L604.7,140.2 L605.7,140.7 L606.7,141.1 L607.6,141.5 L608.6,141.8 L609.5,142.2 L610.5,142.5 L611.4,142.7 L612.4,143.0 L613.4,143.3 L614.3,143.5 L615.3,143.7 L616.2,143.9 L617.2,144.1 L618.1,144.2 L619.1,144.4 L620.1,144.5 L621.0,144.7 L622.0,144.8 L622.9,144.9 L623.9,145.0 L624.9,145.1 L625.8,145.2 L626.8,145.3 L627.7,145.3 L628.7,145.4 L629.6,145.5 L630.6,145.5 L631.6,145.6 L632.5,145.6 L633.5,145.7 L634.4,145.7" fill="none" stroke="#4a88c8" stroke-width="1.1" stroke-linejoin="round"/>
<path d="M490.8,79.3 L491.7,78.6 L492.7,77.9 L493.6,77.3 L494.6,76.7 L495.6,76.3 L496.5,75.9 L497.5,75.7 L498.4,75.7 L499.4,75.7 L500.3,75.9 L501.3,76.0 L502.3,76.0 L503.2,75.7 L504.2,75.2 L505.1,74.5 L506.1,73.7 L507.1,72.8 L508.0,72.0 L509.0,71.3 L509.9,70.8 L510.9,70.3 L511.8,70.0 L512.8,69.7 L513.8,69.5 L514.7,69.3 L515.7,69.1 L516.6,68.9 L517.6,68.8 L518.5,68.6 L519.5,68.5 L520.5,68.4 L521.4,68.2 L522.4,68.1 L523.3,68.0 L524.3,67.9 L525.2,67.8 L526.2,67.7 L527.2,67.6 L528.1,67.6 L529.1,67.5 L530.0,67.4 L531.0,67.4 L532.0,67.3 L532.9,67.2 L533.9,67.2 L534.8,67.1 L535.8,67.1 L536.7,67.0 L537.7,67.0 L538.7,67.0 L539.6,66.9 L540.6,66.9 L541.5,66.9 L542.5,66.8 L543.4,66.8 L544.4,66.8 L545.4,66.8 L546.3,66.7 L547.3,66.7 L548.2,66.7 L549.2,66.7 L550.1,66.7 L551.1,66.7 L552.1,66.7 L553.0,66.7 L554.0,66.7 L554.9,66.7 L555.9,66.7 L556.9,66.7 L557.8,66.7 L558.8,66.8 L559.7,66.8 L560.7,66.8 L561.6,66.9 L562.6,67.0 L563.6,67.0 L564.5,67.1 L565.5,67.2 L566.4,67.3 L567.4,67.5 L568.3,67.7 L569.3,67.9 L570.3,68.1 L571.2,68.4 L572.2,68.8 L573.1,69.2 L574.1,69.7 L575.1,70.3 L576.0,71.1 L577.0,72.0 L577.9,73.0 L578.9,74.3 L579.8,75.8 L580.8,77.5 L581.8,79.5 L582.7,81.8 L583.7,84.4 L584.6,87.3 L585.6,90.5 L586.5,93.9 L587.5,97.5 L588.5,101.2 L589.4,104.9 L590.4,108.5 L591.3,112.0 L592.3,115.3 L593.2,118.4 L594.2,121.2 L595.2,123.8 L596.1,126.0 L597.1,128.1 L598.0,129.8 L599.0,131.4 L600.0,132.8 L600.9,134.0 L601.9,135.1 L602.8,136.1 L603.8,137.0 L604.7,137.8 L605.7,138.5 L606.7,139.2 L607.6,139.8 L608.6,140.3 L609.5,140.8 L610.5,141.3 L611.4,141.7 L612.4,142.1 L613.4,142.4 L614.3,142.7 L615.3,143.0 L616.2,143.3 L617.2,143.6 L618.1,143.8 L619.1,144.0 L620.1,144.2 L621.0,144.4 L622.0,144.5 L622.9,144.7 L623.9,144.8 L624.9,145.0 L625.8,145.1 L626.8,145.2 L627.7,145.3 L628.7,145.4 L629.6,145.4 L630.6,145.5 L631.6,145.6 L632.5,145.6 L633.5,145.7 L634.4,145.7" fill="none" stroke="#7aa6d6" stroke-width="1.0" stroke-linejoin="round"/>
<path d="M490.8,79.3 L491.7,78.6 L492.7,78.0 L493.6,77.4 L494.6,76.8 L495.6,76.4 L496.5,76.0 L497.5,75.9 L498.4,75.8 L499.4,75.9 L500.3,76.1 L501.3,76.2 L502.3,76.2 L503.2,75.9 L504.2,75.5 L505.1,74.8 L506.1,74.0 L507.1,73.1 L508.0,72.3 L509.0,71.6 L509.9,71.0 L510.9,70.6 L511.8,70.3 L512.8,70.0 L513.8,69.8 L514.7,69.6 L515.7,69.4 L516.6,69.2 L517.6,69.1 L518.5,69.0 L519.5,68.8 L520.5,68.7 L521.4,68.6 L522.4,68.5 L523.3,68.4 L524.3,68.3 L525.2,68.2 L526.2,68.1 L527.2,68.0 L528.1,67.9 L529.1,67.9 L530.0,67.8 L531.0,67.7 L532.0,67.7 L532.9,67.6 L533.9,67.6 L534.8,67.5 L535.8,67.5 L536.7,67.4 L537.7,67.4 L538.7,67.3 L539.6,67.3 L540.6,67.3 L541.5,67.2 L542.5,67.2 L543.4,67.2 L544.4,67.1 L545.4,67.1 L546.3,67.1 L547.3,67.1 L548.2,67.1 L549.2,67.0 L550.1,67.0 L551.1,67.0 L552.1,67.0 L553.0,67.0 L554.0,67.0 L554.9,67.0 L555.9,67.0 L556.9,67.0 L557.8,67.0 L558.8,67.0 L559.7,67.0 L560.7,67.0 L561.6,67.0 L562.6,67.0 L563.6,67.0 L564.5,67.0 L565.5,67.0 L566.4,67.1 L567.4,67.1 L568.3,67.1 L569.3,67.2 L570.3,67.2 L571.2,67.3 L572.2,67.3 L573.1,67.4 L574.1,67.5 L575.1,67.6 L576.0,67.8 L577.0,67.9 L577.9,68.1 L578.9,68.4 L579.8,68.6 L580.8,69.0 L581.8,69.3 L582.7,69.8 L583.7,70.4 L584.6,71.1 L585.6,71.9 L586.5,72.8 L587.5,74.0 L588.5,75.4 L589.4,76.9 L590.4,78.8 L591.3,81.0 L592.3,83.4 L593.2,86.2 L594.2,89.2 L595.2,92.5 L596.1,96.0 L597.1,99.6 L598.0,103.3 L599.0,106.9 L600.0,110.5 L600.9,113.9 L601.9,117.1 L602.8,120.0 L603.8,122.7 L604.7,125.0 L605.7,127.2 L606.7,129.1 L607.6,130.7 L608.6,132.2 L609.5,133.5 L610.5,134.7 L611.4,135.7 L612.4,136.6 L613.4,137.5 L614.3,138.2 L615.3,138.9 L616.2,139.5 L617.2,140.1 L618.1,140.6 L619.1,141.1 L620.1,141.5 L621.0,141.9 L622.0,142.3 L622.9,142.6 L623.9,142.9 L624.9,143.2 L625.8,143.5 L626.8,143.7 L627.7,143.9 L628.7,144.1 L629.6,144.3 L630.6,144.5 L631.6,144.6 L632.5,144.8 L633.5,144.9 L634.4,145.0" fill="none" stroke="#b9d3ea" stroke-width="1.0" stroke-linejoin="round"/>
</g>
<rect x="478.80" y="21.80" width="167.60" height="135.40" fill="none" stroke="#2a2a2a" stroke-width="1.1"/>
<line x1="478.80" y1="157.20" x2="481.20" y2="157.20" stroke="#111" stroke-width="0.9"/>
<text x="476.40" y="160.10" font-size="9.5" text-anchor="end" stroke="#000" stroke-width="0.13"><tspan>0.2</tspan></text>
<line x1="478.80" y1="148.74" x2="480.20" y2="148.74" stroke="#111" stroke-width="0.8"/>
<line x1="478.80" y1="140.27" x2="481.20" y2="140.27" stroke="#111" stroke-width="0.9"/>
<text x="476.40" y="143.17" font-size="9.5" text-anchor="end" stroke="#000" stroke-width="0.13"><tspan>0.4</tspan></text>
<line x1="478.80" y1="131.81" x2="480.20" y2="131.81" stroke="#111" stroke-width="0.8"/>
<line x1="478.80" y1="123.35" x2="481.20" y2="123.35" stroke="#111" stroke-width="0.9"/>
<text x="476.40" y="126.25" font-size="9.5" text-anchor="end" stroke="#000" stroke-width="0.13"><tspan>0.6</tspan></text>
<line x1="478.80" y1="114.89" x2="480.20" y2="114.89" stroke="#111" stroke-width="0.8"/>
<line x1="478.80" y1="106.42" x2="481.20" y2="106.42" stroke="#111" stroke-width="0.9"/>
<text x="476.40" y="109.33" font-size="9.5" text-anchor="end" stroke="#000" stroke-width="0.13"><tspan>0.8</tspan></text>
<line x1="478.80" y1="97.96" x2="480.20" y2="97.96" stroke="#111" stroke-width="0.8"/>
<line x1="478.80" y1="89.50" x2="481.20" y2="89.50" stroke="#111" stroke-width="0.9"/>
<text x="476.40" y="92.40" font-size="9.5" text-anchor="end" stroke="#000" stroke-width="0.13"><tspan>1.0</tspan></text>
<line x1="478.80" y1="81.04" x2="480.20" y2="81.04" stroke="#111" stroke-width="0.8"/>
<line x1="478.80" y1="72.58" x2="481.20" y2="72.58" stroke="#111" stroke-width="0.9"/>
<text x="476.40" y="75.48" font-size="9.5" text-anchor="end" stroke="#000" stroke-width="0.13"><tspan>1.2</tspan></text>
<line x1="478.80" y1="64.11" x2="480.20" y2="64.11" stroke="#111" stroke-width="0.8"/>
<line x1="478.80" y1="55.65" x2="481.20" y2="55.65" stroke="#111" stroke-width="0.9"/>
<text x="476.40" y="58.55" font-size="9.5" text-anchor="end" stroke="#000" stroke-width="0.13"><tspan>1.4</tspan></text>
<line x1="478.80" y1="47.19" x2="480.20" y2="47.19" stroke="#111" stroke-width="0.8"/>
<line x1="478.80" y1="38.73" x2="481.20" y2="38.73" stroke="#111" stroke-width="0.9"/>
<text x="476.40" y="41.63" font-size="9.5" text-anchor="end" stroke="#000" stroke-width="0.13"><tspan>1.6</tspan></text>
<line x1="478.80" y1="30.26" x2="480.20" y2="30.26" stroke="#111" stroke-width="0.8"/>
<line x1="478.80" y1="21.80" x2="481.20" y2="21.80" stroke="#111" stroke-width="0.9"/>
<text x="476.40" y="24.70" font-size="9.5" text-anchor="end" stroke="#000" stroke-width="0.13"><tspan>1.8</tspan></text>
<line x1="490.77" y1="157.20" x2="490.77" y2="154.80" stroke="#111" stroke-width="0.9"/>
<text x="490.77" y="167.40" font-size="9.5" text-anchor="middle" stroke="#000" stroke-width="0.13"><tspan>200</tspan></text>
<line x1="502.74" y1="157.20" x2="502.74" y2="155.80" stroke="#111" stroke-width="0.8"/>
<line x1="514.71" y1="157.20" x2="514.71" y2="154.80" stroke="#111" stroke-width="0.9"/>
<text x="514.71" y="167.40" font-size="9.5" text-anchor="middle" stroke="#000" stroke-width="0.13"><tspan>250</tspan></text>
<line x1="526.69" y1="157.20" x2="526.69" y2="155.80" stroke="#111" stroke-width="0.8"/>
<line x1="538.66" y1="157.20" x2="538.66" y2="154.80" stroke="#111" stroke-width="0.9"/>
<text x="538.66" y="167.40" font-size="9.5" text-anchor="middle" stroke="#000" stroke-width="0.13"><tspan>300</tspan></text>
<line x1="550.63" y1="157.20" x2="550.63" y2="155.80" stroke="#111" stroke-width="0.8"/>
<line x1="562.60" y1="157.20" x2="562.60" y2="154.80" stroke="#111" stroke-width="0.9"/>
<text x="562.60" y="167.40" font-size="9.5" text-anchor="middle" stroke="#000" stroke-width="0.13"><tspan>350</tspan></text>
<line x1="574.57" y1="157.20" x2="574.57" y2="155.80" stroke="#111" stroke-width="0.8"/>
<line x1="586.54" y1="157.20" x2="586.54" y2="154.80" stroke="#111" stroke-width="0.9"/>
<text x="586.54" y="167.40" font-size="9.5" text-anchor="middle" stroke="#000" stroke-width="0.13"><tspan>400</tspan></text>
<line x1="598.51" y1="157.20" x2="598.51" y2="155.80" stroke="#111" stroke-width="0.8"/>
<line x1="610.49" y1="157.20" x2="610.49" y2="154.80" stroke="#111" stroke-width="0.9"/>
<text x="610.49" y="167.40" font-size="9.5" text-anchor="middle" stroke="#000" stroke-width="0.13"><tspan>450</tspan></text>
<line x1="622.46" y1="157.20" x2="622.46" y2="155.80" stroke="#111" stroke-width="0.8"/>
<line x1="634.43" y1="157.20" x2="634.43" y2="154.80" stroke="#111" stroke-width="0.9"/>
<text x="634.43" y="167.40" font-size="9.5" text-anchor="middle" stroke="#000" stroke-width="0.13"><tspan>500</tspan></text>
<text x="563.00" y="179.60" font-size="11.7" text-anchor="middle" stroke="#000" stroke-width="0.16"><tspan>Wavelength (nm)</tspan></text>
<text x="456.50" y="92.40" font-size="12.2" text-anchor="middle" stroke="#000" stroke-width="0.17" transform="rotate(-90 456.50 92.40)"><tspan>Absorbance (a. u.)</tspan></text>
<line x1="482.60" y1="26.50" x2="497.20" y2="26.50" stroke="#d9d6d4" stroke-width="1.0"/>
<text x="499.00" y="28.90" font-size="6.7" fill="#111" stroke="#111" stroke-width="0.12"><tspan>Pure PVA</tspan></text>
<line x1="482.60" y1="34.20" x2="497.20" y2="34.20" stroke="#d6ccc6" stroke-width="1.1"/>
<text x="499.00" y="36.60" font-size="6.7" fill="#111" stroke="#111" stroke-width="0.12"><tspan>0.01 M</tspan></text>
<line x1="522.60" y1="34.20" x2="537.20" y2="34.20" stroke="#b8a89c" stroke-width="1.1"/>
<text x="539.00" y="36.60" font-size="6.7" fill="#111" stroke="#111" stroke-width="0.12"><tspan>0.03 M</tspan></text>
<line x1="558.00" y1="34.20" x2="572.60" y2="34.20" stroke="#a89a90" stroke-width="1.1"/>
<text x="574.40" y="36.60" font-size="6.7" fill="#111" stroke="#111" stroke-width="0.12"><tspan>0.05 M</tspan></text>
<line x1="594.60" y1="34.20" x2="609.20" y2="34.20" stroke="#4a3a34" stroke-width="1.1"/>
<text x="611.00" y="36.60" font-size="6.7" fill="#111" stroke="#111" stroke-width="0.12"><tspan>0.07M</tspan></text>
<line x1="482.60" y1="42.20" x2="497.20" y2="42.20" stroke="#e06068" stroke-width="1.3"/>
<text x="499.00" y="44.60" font-size="6.7" fill="#111" stroke="#111" stroke-width="0.12"><tspan>0.1 M</tspan></text>
<line x1="522.60" y1="42.20" x2="537.20" y2="42.20" stroke="#c8b2e2" stroke-width="1.3"/>
<text x="539.00" y="44.60" font-size="6.7" fill="#111" stroke="#111" stroke-width="0.12"><tspan>0.3 M</tspan></text>
<line x1="558.00" y1="42.20" x2="572.60" y2="42.20" stroke="#8a70c8" stroke-width="1.3"/>
<text x="574.40" y="44.60" font-size="6.7" fill="#111" stroke="#111" stroke-width="0.12"><tspan>0.5 M</tspan></text>
<line x1="594.60" y1="42.20" x2="609.20" y2="42.20" stroke="#d2c2ea" stroke-width="1.3"/>
<text x="611.00" y="44.60" font-size="6.7" fill="#111" stroke="#111" stroke-width="0.12"><tspan>0.7 M</tspan></text>
<line x1="482.60" y1="50.00" x2="497.20" y2="50.00" stroke="#5a6a80" stroke-width="1.4"/>
<text x="499.00" y="52.40" font-size="6.7" fill="#111" stroke="#111" stroke-width="0.12"><tspan>1.0 M</tspan></text>
<line x1="522.60" y1="50.00" x2="537.20" y2="50.00" stroke="#6a98d0" stroke-width="1.4"/>
<text x="539.00" y="52.40" font-size="6.7" fill="#111" stroke="#111" stroke-width="0.12"><tspan>1.3 M</tspan></text>
<line x1="558.00" y1="50.00" x2="572.60" y2="50.00" stroke="#98c0e0" stroke-width="1.3"/>
<text x="574.40" y="52.40" font-size="6.7" fill="#111" stroke="#111" stroke-width="0.12"><tspan>1.5 M</tspan></text>
<line x1="594.60" y1="50.00" x2="609.20" y2="50.00" stroke="#c8dcf0" stroke-width="1.3"/>
<text x="611.00" y="52.40" font-size="6.7" fill="#111" stroke="#111" stroke-width="0.12"><tspan>2.0 M</tspan></text>
<text x="490.70" y="64.20" font-size="6.1" fill="#b8303c" stroke="#b8303c" stroke-width="0.12"><tspan>[Cu-Cl]</tspan><tspan dy="-2.44" font-size="3.78">+</tspan></text>
<text x="512.30" y="59.80" font-size="6.1" fill="#6a48a8" stroke="#6a48a8" stroke-width="0.12"><tspan>[Cu-Cl</tspan><tspan dy="1.71" font-size="3.78">2</tspan><tspan dy="-1.71">]</tspan></text>
<text x="542.50" y="59.60" font-size="6.1" fill="#5078a8" stroke="#5078a8" stroke-width="0.12"><tspan>[Cu</tspan><tspan dy="1.71" font-size="3.78">x</tspan><tspan dy="-1.71">Cl</tspan><tspan dy="1.71" font-size="3.78">y</tspan><tspan dy="-1.71">]</tspan><tspan dy="-2.44" font-size="3.78">2x-y</tspan></text>
<line x1="521.80" y1="62.60" x2="580.00" y2="62.60" stroke="#4a6a9a" stroke-width="0.7" stroke-dasharray="1.5,1.2"/>
<path d="M579.50,60.90 L583.20,62.60 L579.50,64.30 Z" fill="#4a6a9a"/>
<text x="488.60" y="78.20" font-size="5.9" text-anchor="middle" fill="#333" transform="rotate(-90 488.60 78.20)"><tspan>[Cu-H</tspan><tspan dy="1.65" font-size="3.66">2</tspan><tspan dy="-1.65">O]</tspan><tspan dy="-2.36" font-size="3.66">2+</tspan></text>
<defs><linearGradient id="gGray" x1="0" y1="0" x2="0" y2="1"><stop offset="0" stop-color="#ccc6c1"/><stop offset="1" stop-color="#a99f99"/></linearGradient><linearGradient id="gPur" x1="0" y1="0" x2="0" y2="1"><stop offset="0" stop-color="#a58ac6"/><stop offset="1" stop-color="#d3c2e6"/></linearGradient></defs>
<rect x="39.60" y="305.17" width="9.30" height="52.83" fill="url(#gGray)"/>
<rect x="48.90" y="335.02" width="9.20" height="22.98" fill="url(#gPur)"/>
<rect x="71.25" y="278.75" width="9.30" height="79.25" fill="url(#gGray)"/>
<rect x="80.55" y="327.88" width="9.20" height="30.12" fill="url(#gPur)"/>
<rect x="102.90" y="278.75" width="9.30" height="79.25" fill="url(#gGray)"/>
<rect x="112.20" y="289.25" width="9.20" height="68.75" fill="url(#gPur)"/>
<rect x="134.55" y="252.33" width="9.30" height="105.67" fill="url(#gGray)"/>
<rect x="143.85" y="268.25" width="9.20" height="89.75" fill="url(#gPur)"/>
<rect x="166.20" y="225.92" width="9.30" height="132.08" fill="url(#gGray)"/>
<rect x="175.50" y="259.14" width="9.20" height="98.86" fill="url(#gPur)"/>
<line x1="33.30" y1="199.50" x2="191.60" y2="199.50" stroke="#2a2a2a" stroke-width="1.35"/>
<line x1="33.30" y1="199.00" x2="33.30" y2="358.50" stroke="#2a2a2a" stroke-width="1.35"/>
<line x1="33.30" y1="358.00" x2="191.60" y2="358.00" stroke="#2a2a2a" stroke-width="1.35"/>
<line x1="191.60" y1="199.00" x2="191.60" y2="358.50" stroke="#5b3f8f" stroke-width="1.35"/>
<line x1="33.30" y1="358.00" x2="35.70" y2="358.00" stroke="#111" stroke-width="0.9"/>
<text x="30.80" y="360.90" font-size="9.5" text-anchor="end" stroke="#000" stroke-width="0.13"><tspan>0</tspan></text>
<line x1="33.30" y1="331.58" x2="35.70" y2="331.58" stroke="#111" stroke-width="0.9"/>
<text x="30.80" y="334.48" font-size="9.5" text-anchor="end" stroke="#000" stroke-width="0.13"><tspan>1</tspan></text>
<line x1="33.30" y1="305.17" x2="35.70" y2="305.17" stroke="#111" stroke-width="0.9"/>
<text x="30.80" y="308.07" font-size="9.5" text-anchor="end" stroke="#000" stroke-width="0.13"><tspan>2</tspan></text>
<line x1="33.30" y1="278.75" x2="35.70" y2="278.75" stroke="#111" stroke-width="0.9"/>
<text x="30.80" y="281.65" font-size="9.5" text-anchor="end" stroke="#000" stroke-width="0.13"><tspan>3</tspan></text>
<line x1="33.30" y1="252.33" x2="35.70" y2="252.33" stroke="#111" stroke-width="0.9"/>
<text x="30.80" y="255.23" font-size="9.5" text-anchor="end" stroke="#000" stroke-width="0.13"><tspan>4</tspan></text>
<line x1="33.30" y1="225.92" x2="35.70" y2="225.92" stroke="#111" stroke-width="0.9"/>
<text x="30.80" y="228.82" font-size="9.5" text-anchor="end" stroke="#000" stroke-width="0.13"><tspan>5</tspan></text>
<line x1="33.30" y1="199.50" x2="35.70" y2="199.50" stroke="#111" stroke-width="0.9"/>
<text x="30.80" y="202.40" font-size="9.5" text-anchor="end" stroke="#000" stroke-width="0.13"><tspan>6</tspan></text>
<line x1="33.30" y1="344.79" x2="34.70" y2="344.79" stroke="#111" stroke-width="0.8"/>
<line x1="33.30" y1="318.38" x2="34.70" y2="318.38" stroke="#111" stroke-width="0.8"/>
<line x1="33.30" y1="291.96" x2="34.70" y2="291.96" stroke="#111" stroke-width="0.8"/>
<line x1="33.30" y1="265.54" x2="34.70" y2="265.54" stroke="#111" stroke-width="0.8"/>
<line x1="33.30" y1="239.12" x2="34.70" y2="239.12" stroke="#111" stroke-width="0.8"/>
<line x1="33.30" y1="212.71" x2="34.70" y2="212.71" stroke="#111" stroke-width="0.8"/>
<line x1="189.40" y1="358.00" x2="191.60" y2="358.00" stroke="#5b3f8f" stroke-width="0.9"/>
<text x="193.80" y="360.90" font-size="9.5" fill="#5b3f8f" stroke="#5b3f8f" stroke-width="0.13"><tspan>0</tspan></text>
<line x1="189.40" y1="318.38" x2="191.60" y2="318.38" stroke="#5b3f8f" stroke-width="0.9"/>
<text x="193.80" y="321.27" font-size="9.5" fill="#5b3f8f" stroke="#5b3f8f" stroke-width="0.13"><tspan>20</tspan></text>
<line x1="189.40" y1="278.75" x2="191.60" y2="278.75" stroke="#5b3f8f" stroke-width="0.9"/>
<text x="193.80" y="281.65" font-size="9.5" fill="#5b3f8f" stroke="#5b3f8f" stroke-width="0.13"><tspan>40</tspan></text>
<line x1="189.40" y1="239.12" x2="191.60" y2="239.12" stroke="#5b3f8f" stroke-width="0.9"/>
<text x="193.80" y="242.03" font-size="9.5" fill="#5b3f8f" stroke="#5b3f8f" stroke-width="0.13"><tspan>60</tspan></text>
<line x1="189.40" y1="199.50" x2="191.60" y2="199.50" stroke="#5b3f8f" stroke-width="0.9"/>
<text x="193.80" y="202.40" font-size="9.5" fill="#5b3f8f" stroke="#5b3f8f" stroke-width="0.13"><tspan>80</tspan></text>
<line x1="190.30" y1="338.19" x2="191.60" y2="338.19" stroke="#5b3f8f" stroke-width="0.8"/>
<line x1="190.30" y1="298.56" x2="191.60" y2="298.56" stroke="#5b3f8f" stroke-width="0.8"/>
<line x1="190.30" y1="258.94" x2="191.60" y2="258.94" stroke="#5b3f8f" stroke-width="0.8"/>
<line x1="190.30" y1="219.31" x2="191.60" y2="219.31" stroke="#5b3f8f" stroke-width="0.8"/>
<text x="50.50" y="368.30" font-size="9.3" text-anchor="middle" stroke="#000" stroke-width="0.13"><tspan>0.05</tspan></text>
<text x="79.60" y="368.30" font-size="9.3" text-anchor="middle" stroke="#000" stroke-width="0.13"><tspan>0.1</tspan></text>
<text x="112.70" y="368.30" font-size="9.3" text-anchor="middle" stroke="#000" stroke-width="0.13"><tspan>0.5</tspan></text>
<text x="144.90" y="368.30" font-size="9.3" text-anchor="middle" stroke="#000" stroke-width="0.13"><tspan>1.0</tspan></text>
<text x="177.00" y="368.30" font-size="9.3" text-anchor="middle" stroke="#000" stroke-width="0.13"><tspan>2.0</tspan></text>
<text x="19.30" y="272.70" font-size="12.1" text-anchor="middle" stroke="#000" stroke-width="0.17" transform="rotate(-90 19.30 272.70)"><tspan>Principal components</tspan></text>
<text x="215.80" y="274.70" font-size="12.4" text-anchor="middle" fill="#5e3f94" stroke="#5e3f94" stroke-width="0.17" transform="rotate(-90 215.80 274.70)"><tspan>Proportion of [Cu-Cl] species (%)</tspan></text>
<text x="112.70" y="380.80" font-size="12.2" text-anchor="middle" stroke="#000" stroke-width="0.17"><tspan>The concentration of CuCl</tspan><tspan dy="3.42" font-size="7.56">2</tspan><tspan dy="-3.42"> (M)</tspan></text>
<defs><radialGradient id="eg0" cx="0.4" cy="0.4" r="0.65"><stop offset="0" stop-color="#fff" stop-opacity="0.9"/><stop offset="0.35" stop-color="#d6d1cd"/><stop offset="1" stop-color="#d6d1cd"/></radialGradient><radialGradient id="eg1" cx="0.4" cy="0.4" r="0.65"><stop offset="0" stop-color="#fff" stop-opacity="0.9"/><stop offset="0.35" stop-color="#bab1ab"/><stop offset="1" stop-color="#bab1ab"/></radialGradient><radialGradient id="eg2" cx="0.4" cy="0.4" r="0.65"><stop offset="0" stop-color="#fff" stop-opacity="0.9"/><stop offset="0.35" stop-color="#9d9691"/><stop offset="1" stop-color="#9d9691"/></radialGradient><radialGradient id="eg3" cx="0.4" cy="0.4" r="0.65"><stop offset="0" stop-color="#fff" stop-opacity="0.9"/><stop offset="0.35" stop-color="#7b746f"/><stop offset="1" stop-color="#7b746f"/></radialGradient><radialGradient id="eg4" cx="0.4" cy="0.4" r="0.65"><stop offset="0" stop-color="#fff" stop-opacity="0.9"/><stop offset="0.35" stop-color="#e8626a"/><stop offset="1" stop-color="#e8626a"/></radialGradient><radialGradient id="eg5" cx="0.4" cy="0.4" r="0.65"><stop offset="0" stop-color="#fff" stop-opacity="0.9"/><stop offset="0.35" stop-color="#7d4fc8"/><stop offset="1" stop-color="#7d4fc8"/></radialGradient><radialGradient id="eg6" cx="0.4" cy="0.4" r="0.65"><stop offset="0" stop-color="#fff" stop-opacity="0.9"/><stop offset="0.35" stop-color="#a07ad8"/><stop offset="1" stop-color="#a07ad8"/></radialGradient><radialGradient id="eg7" cx="0.4" cy="0.4" r="0.65"><stop offset="0" stop-color="#fff" stop-opacity="0.9"/><stop offset="0.35" stop-color="#d3c5ec"/><stop offset="1" stop-color="#d3c5ec"/></radialGradient><radialGradient id="eg8" cx="0.4" cy="0.4" r="0.65"><stop offset="0" stop-color="#fff" stop-opacity="0.9"/><stop offset="0.35" stop-color="#5a7088"/><stop offset="1" stop-color="#5a7088"/></radialGradient><radialGradient id="eg9" cx="0.4" cy="0.4" r="0.65"><stop offset="0" stop-color="#fff" stop-opacity="0.9"/><stop offset="0.35" stop-color="#4a86c2"/><stop offset="1" stop-color="#4a86c2"/></radialGradient><radialGradient id="eg10" cx="0.4" cy="0.4" r="0.65"><stop offset="0" stop-color="#fff" stop-opacity="0.9"/><stop offset="0.35" stop-color="#7ba8d4"/><stop offset="1" stop-color="#7ba8d4"/></radialGradient><radialGradient id="eg11" cx="0.4" cy="0.4" r="0.65"><stop offset="0" stop-color="#fff" stop-opacity="0.9"/><stop offset="0.35" stop-color="#bcd5ec"/><stop offset="1" stop-color="#bcd5ec"/></radialGradient></defs>
<clipPath id="clipE"><rect x="264.2" y="196.4" width="161.60000000000002" height="169.99999999999997"/></clipPath>
<g clip-path="url(#clipE)">
<line x1="280.36" y1="264.40" x2="409.64" y2="330.51" stroke="#d6d1cd" stroke-width="1.0" stroke-dasharray="2.6,2.8"/>
<line x1="280.36" y1="255.59" x2="409.64" y2="322.96" stroke="#bab1ab" stroke-width="1.0" stroke-dasharray="2.6,2.8"/>
<line x1="280.36" y1="246.77" x2="409.64" y2="319.81" stroke="#9d9691" stroke-width="1.0" stroke-dasharray="2.6,2.8"/>
<line x1="280.36" y1="241.73" x2="409.64" y2="316.03" stroke="#7b746f" stroke-width="1.0" stroke-dasharray="2.6,2.8"/>
<line x1="280.36" y1="234.81" x2="409.64" y2="306.59" stroke="#e8626a" stroke-width="1.0" stroke-dasharray="2.6,2.8"/>
<line x1="280.36" y1="225.99" x2="409.64" y2="300.29" stroke="#7d4fc8" stroke-width="1.0" stroke-dasharray="2.6,2.8"/>
<line x1="280.36" y1="217.81" x2="409.64" y2="292.10" stroke="#a07ad8" stroke-width="1.0" stroke-dasharray="2.6,2.8"/>
<line x1="280.36" y1="210.57" x2="409.64" y2="276.99" stroke="#d3c5ec" stroke-width="1.0" stroke-dasharray="2.6,2.8"/>
<line x1="280.36" y1="208.36" x2="409.64" y2="252.44" stroke="#5a7088" stroke-width="1.0" stroke-dasharray="2.6,2.8"/>
<line x1="280.36" y1="207.73" x2="409.64" y2="240.47" stroke="#4a86c2" stroke-width="1.0" stroke-dasharray="2.6,2.8"/>
<line x1="280.36" y1="207.73" x2="409.64" y2="236.70" stroke="#7ba8d4" stroke-width="1.0" stroke-dasharray="2.6,2.8"/>
<line x1="280.36" y1="207.73" x2="409.64" y2="225.36" stroke="#bcd5ec" stroke-width="1.0" stroke-dasharray="2.6,2.8"/>
<line x1="280.36" y1="258.49" x2="280.36" y2="261.49" stroke="#d6d1cd" stroke-width="0.7"/>
<line x1="278.96" y1="258.49" x2="281.76" y2="258.49" stroke="#d6d1cd" stroke-width="0.6"/>
<line x1="278.96" y1="261.49" x2="281.76" y2="261.49" stroke="#d6d1cd" stroke-width="0.6"/>
<circle cx="280.36" cy="259.99" r="2.5" fill="url(#eg0)"/>
<line x1="312.68" y1="281.42" x2="312.68" y2="286.42" stroke="#d6d1cd" stroke-width="0.7"/>
<line x1="311.28" y1="281.42" x2="314.08" y2="281.42" stroke="#d6d1cd" stroke-width="0.6"/>
<line x1="311.28" y1="286.42" x2="314.08" y2="286.42" stroke="#d6d1cd" stroke-width="0.6"/>
<circle cx="312.68" cy="283.92" r="2.5" fill="url(#eg0)"/>
<line x1="345.00" y1="303.21" x2="345.00" y2="311.21" stroke="#d6d1cd" stroke-width="0.7"/>
<line x1="343.60" y1="303.21" x2="346.40" y2="303.21" stroke="#d6d1cd" stroke-width="0.6"/>
<line x1="343.60" y1="311.21" x2="346.40" y2="311.21" stroke="#d6d1cd" stroke-width="0.6"/>
<circle cx="345.00" cy="307.21" r="2.5" fill="url(#eg0)"/>
<line x1="377.32" y1="309.51" x2="377.32" y2="317.51" stroke="#d6d1cd" stroke-width="0.7"/>
<line x1="375.92" y1="309.51" x2="378.72" y2="309.51" stroke="#d6d1cd" stroke-width="0.6"/>
<line x1="375.92" y1="317.51" x2="378.72" y2="317.51" stroke="#d6d1cd" stroke-width="0.6"/>
<circle cx="377.32" cy="313.51" r="2.5" fill="url(#eg0)"/>
<line x1="409.64" y1="315.81" x2="409.64" y2="323.81" stroke="#d6d1cd" stroke-width="0.7"/>
<line x1="408.24" y1="315.81" x2="411.04" y2="315.81" stroke="#d6d1cd" stroke-width="0.6"/>
<line x1="408.24" y1="323.81" x2="411.04" y2="323.81" stroke="#d6d1cd" stroke-width="0.6"/>
<circle cx="409.64" cy="319.81" r="2.5" fill="url(#eg0)"/>
<line x1="280.36" y1="249.68" x2="280.36" y2="252.68" stroke="#bab1ab" stroke-width="0.7"/>
<line x1="278.96" y1="249.68" x2="281.76" y2="249.68" stroke="#bab1ab" stroke-width="0.6"/>
<line x1="278.96" y1="252.68" x2="281.76" y2="252.68" stroke="#bab1ab" stroke-width="0.6"/>
<circle cx="280.36" cy="251.18" r="2.5" fill="url(#eg1)"/>
<line x1="312.68" y1="270.71" x2="312.68" y2="275.71" stroke="#bab1ab" stroke-width="0.7"/>
<line x1="311.28" y1="270.71" x2="314.08" y2="270.71" stroke="#bab1ab" stroke-width="0.6"/>
<line x1="311.28" y1="275.71" x2="314.08" y2="275.71" stroke="#bab1ab" stroke-width="0.6"/>
<circle cx="312.68" cy="273.21" r="2.5" fill="url(#eg1)"/>
<line x1="345.00" y1="298.18" x2="345.00" y2="306.18" stroke="#bab1ab" stroke-width="0.7"/>
<line x1="343.60" y1="298.18" x2="346.40" y2="298.18" stroke="#bab1ab" stroke-width="0.6"/>
<line x1="343.60" y1="306.18" x2="346.40" y2="306.18" stroke="#bab1ab" stroke-width="0.6"/>
<circle cx="345.00" cy="302.18" r="2.5" fill="url(#eg1)"/>
<line x1="377.32" y1="305.73" x2="377.32" y2="313.73" stroke="#bab1ab" stroke-width="0.7"/>
<line x1="375.92" y1="305.73" x2="378.72" y2="305.73" stroke="#bab1ab" stroke-width="0.6"/>
<line x1="375.92" y1="313.73" x2="378.72" y2="313.73" stroke="#bab1ab" stroke-width="0.6"/>
<circle cx="377.32" cy="309.73" r="2.5" fill="url(#eg1)"/>
<line x1="409.64" y1="313.92" x2="409.64" y2="321.92" stroke="#bab1ab" stroke-width="0.7"/>
<line x1="408.24" y1="313.92" x2="411.04" y2="313.92" stroke="#bab1ab" stroke-width="0.6"/>
<line x1="408.24" y1="321.92" x2="411.04" y2="321.92" stroke="#bab1ab" stroke-width="0.6"/>
<circle cx="409.64" cy="317.92" r="2.5" fill="url(#eg1)"/>
<line x1="280.36" y1="237.71" x2="280.36" y2="240.71" stroke="#9d9691" stroke-width="0.7"/>
<line x1="278.96" y1="237.71" x2="281.76" y2="237.71" stroke="#9d9691" stroke-width="0.6"/>
<line x1="278.96" y1="240.71" x2="281.76" y2="240.71" stroke="#9d9691" stroke-width="0.6"/>
<circle cx="280.36" cy="239.21" r="2.5" fill="url(#eg2)"/>
<line x1="312.68" y1="263.16" x2="312.68" y2="268.16" stroke="#9d9691" stroke-width="0.7"/>
<line x1="311.28" y1="263.16" x2="314.08" y2="263.16" stroke="#9d9691" stroke-width="0.6"/>
<line x1="311.28" y1="268.16" x2="314.08" y2="268.16" stroke="#9d9691" stroke-width="0.6"/>
<circle cx="312.68" cy="265.66" r="2.5" fill="url(#eg2)"/>
<line x1="345.00" y1="286.21" x2="345.00" y2="294.21" stroke="#9d9691" stroke-width="0.7"/>
<line x1="343.60" y1="286.21" x2="346.40" y2="286.21" stroke="#9d9691" stroke-width="0.6"/>
<line x1="343.60" y1="294.21" x2="346.40" y2="294.21" stroke="#9d9691" stroke-width="0.6"/>
<circle cx="345.00" cy="290.21" r="2.5" fill="url(#eg2)"/>
<line x1="377.32" y1="300.70" x2="377.32" y2="308.70" stroke="#9d9691" stroke-width="0.7"/>
<line x1="375.92" y1="300.70" x2="378.72" y2="300.70" stroke="#9d9691" stroke-width="0.6"/>
<line x1="375.92" y1="308.70" x2="378.72" y2="308.70" stroke="#9d9691" stroke-width="0.6"/>
<circle cx="377.32" cy="304.70" r="2.5" fill="url(#eg2)"/>
<line x1="409.64" y1="310.77" x2="409.64" y2="318.77" stroke="#9d9691" stroke-width="0.7"/>
<line x1="408.24" y1="310.77" x2="411.04" y2="310.77" stroke="#9d9691" stroke-width="0.6"/>
<line x1="408.24" y1="318.77" x2="411.04" y2="318.77" stroke="#9d9691" stroke-width="0.6"/>
<circle cx="409.64" cy="314.77" r="2.5" fill="url(#eg2)"/>
<line x1="280.36" y1="235.83" x2="280.36" y2="238.83" stroke="#7b746f" stroke-width="0.7"/>
<line x1="278.96" y1="235.83" x2="281.76" y2="235.83" stroke="#7b746f" stroke-width="0.6"/>
<line x1="278.96" y1="238.83" x2="281.76" y2="238.83" stroke="#7b746f" stroke-width="0.6"/>
<circle cx="280.36" cy="237.33" r="2.5" fill="url(#eg3)"/>
<line x1="312.68" y1="263.79" x2="312.68" y2="268.79" stroke="#7b746f" stroke-width="0.7"/>
<line x1="311.28" y1="263.79" x2="314.08" y2="263.79" stroke="#7b746f" stroke-width="0.6"/>
<line x1="311.28" y1="268.79" x2="314.08" y2="268.79" stroke="#7b746f" stroke-width="0.6"/>
<circle cx="312.68" cy="266.29" r="2.5" fill="url(#eg3)"/>
<line x1="345.00" y1="283.07" x2="345.00" y2="291.07" stroke="#7b746f" stroke-width="0.7"/>
<line x1="343.60" y1="283.07" x2="346.40" y2="283.07" stroke="#7b746f" stroke-width="0.6"/>
<line x1="343.60" y1="291.07" x2="346.40" y2="291.07" stroke="#7b746f" stroke-width="0.6"/>
<circle cx="345.00" cy="287.07" r="2.5" fill="url(#eg3)"/>
<line x1="377.32" y1="299.44" x2="377.32" y2="307.44" stroke="#7b746f" stroke-width="0.7"/>
<line x1="375.92" y1="299.44" x2="378.72" y2="299.44" stroke="#7b746f" stroke-width="0.6"/>
<line x1="375.92" y1="307.44" x2="378.72" y2="307.44" stroke="#7b746f" stroke-width="0.6"/>
<circle cx="377.32" cy="303.44" r="2.5" fill="url(#eg3)"/>
<line x1="409.64" y1="308.88" x2="409.64" y2="316.88" stroke="#7b746f" stroke-width="0.7"/>
<line x1="408.24" y1="308.88" x2="411.04" y2="308.88" stroke="#7b746f" stroke-width="0.6"/>
<line x1="408.24" y1="316.88" x2="411.04" y2="316.88" stroke="#7b746f" stroke-width="0.6"/>
<circle cx="409.64" cy="312.88" r="2.5" fill="url(#eg3)"/>
<line x1="280.36" y1="226.70" x2="280.36" y2="229.70" stroke="#e8626a" stroke-width="0.7"/>
<line x1="278.96" y1="226.70" x2="281.76" y2="226.70" stroke="#e8626a" stroke-width="0.6"/>
<line x1="278.96" y1="229.70" x2="281.76" y2="229.70" stroke="#e8626a" stroke-width="0.6"/>
<circle cx="280.36" cy="228.20" r="2.5" fill="url(#eg4)"/>
<line x1="312.68" y1="256.86" x2="312.68" y2="261.86" stroke="#e8626a" stroke-width="0.7"/>
<line x1="311.28" y1="256.86" x2="314.08" y2="256.86" stroke="#e8626a" stroke-width="0.6"/>
<line x1="311.28" y1="261.86" x2="314.08" y2="261.86" stroke="#e8626a" stroke-width="0.6"/>
<circle cx="312.68" cy="259.36" r="2.5" fill="url(#eg4)"/>
<line x1="345.00" y1="276.14" x2="345.00" y2="284.14" stroke="#e8626a" stroke-width="0.7"/>
<line x1="343.60" y1="276.14" x2="346.40" y2="276.14" stroke="#e8626a" stroke-width="0.6"/>
<line x1="343.60" y1="284.14" x2="346.40" y2="284.14" stroke="#e8626a" stroke-width="0.6"/>
<circle cx="345.00" cy="280.14" r="2.5" fill="url(#eg4)"/>
<line x1="377.32" y1="290.62" x2="377.32" y2="298.62" stroke="#e8626a" stroke-width="0.7"/>
<line x1="375.92" y1="290.62" x2="378.72" y2="290.62" stroke="#e8626a" stroke-width="0.6"/>
<line x1="375.92" y1="298.62" x2="378.72" y2="298.62" stroke="#e8626a" stroke-width="0.6"/>
<circle cx="377.32" cy="294.62" r="2.5" fill="url(#eg4)"/>
<line x1="409.64" y1="303.21" x2="409.64" y2="311.21" stroke="#e8626a" stroke-width="0.7"/>
<line x1="408.24" y1="303.21" x2="411.04" y2="303.21" stroke="#e8626a" stroke-width="0.6"/>
<line x1="408.24" y1="311.21" x2="411.04" y2="311.21" stroke="#e8626a" stroke-width="0.6"/>
<circle cx="409.64" cy="307.21" r="2.5" fill="url(#eg4)"/>
<line x1="280.36" y1="219.14" x2="280.36" y2="222.14" stroke="#7d4fc8" stroke-width="0.7"/>
<line x1="278.96" y1="219.14" x2="281.76" y2="219.14" stroke="#7d4fc8" stroke-width="0.6"/>
<line x1="278.96" y1="222.14" x2="281.76" y2="222.14" stroke="#7d4fc8" stroke-width="0.6"/>
<circle cx="280.36" cy="220.64" r="2.5" fill="url(#eg5)"/>
<line x1="312.68" y1="246.16" x2="312.68" y2="251.16" stroke="#7d4fc8" stroke-width="0.7"/>
<line x1="311.28" y1="246.16" x2="314.08" y2="246.16" stroke="#7d4fc8" stroke-width="0.6"/>
<line x1="311.28" y1="251.16" x2="314.08" y2="251.16" stroke="#7d4fc8" stroke-width="0.6"/>
<circle cx="312.68" cy="248.66" r="2.5" fill="url(#eg5)"/>
<line x1="345.00" y1="267.33" x2="345.00" y2="275.33" stroke="#7d4fc8" stroke-width="0.7"/>
<line x1="343.60" y1="267.33" x2="346.40" y2="267.33" stroke="#7d4fc8" stroke-width="0.6"/>
<line x1="343.60" y1="275.33" x2="346.40" y2="275.33" stroke="#7d4fc8" stroke-width="0.6"/>
<circle cx="345.00" cy="271.33" r="2.5" fill="url(#eg5)"/>
<line x1="377.32" y1="280.55" x2="377.32" y2="288.55" stroke="#7d4fc8" stroke-width="0.7"/>
<line x1="375.92" y1="280.55" x2="378.72" y2="280.55" stroke="#7d4fc8" stroke-width="0.6"/>
<line x1="375.92" y1="288.55" x2="378.72" y2="288.55" stroke="#7d4fc8" stroke-width="0.6"/>
<circle cx="377.32" cy="284.55" r="2.5" fill="url(#eg5)"/>
<line x1="409.64" y1="289.36" x2="409.64" y2="297.36" stroke="#7d4fc8" stroke-width="0.7"/>
<line x1="408.24" y1="289.36" x2="411.04" y2="289.36" stroke="#7d4fc8" stroke-width="0.6"/>
<line x1="408.24" y1="297.36" x2="411.04" y2="297.36" stroke="#7d4fc8" stroke-width="0.6"/>
<circle cx="409.64" cy="293.36" r="2.5" fill="url(#eg5)"/>
<line x1="280.36" y1="212.53" x2="280.36" y2="215.53" stroke="#a07ad8" stroke-width="0.7"/>
<line x1="278.96" y1="212.53" x2="281.76" y2="212.53" stroke="#a07ad8" stroke-width="0.6"/>
<line x1="278.96" y1="215.53" x2="281.76" y2="215.53" stroke="#a07ad8" stroke-width="0.6"/>
<circle cx="280.36" cy="214.03" r="2.5" fill="url(#eg6)"/>
<line x1="312.68" y1="229.16" x2="312.68" y2="234.16" stroke="#a07ad8" stroke-width="0.7"/>
<line x1="311.28" y1="229.16" x2="314.08" y2="229.16" stroke="#a07ad8" stroke-width="0.6"/>
<line x1="311.28" y1="234.16" x2="314.08" y2="234.16" stroke="#a07ad8" stroke-width="0.6"/>
<circle cx="312.68" cy="231.66" r="2.5" fill="url(#eg6)"/>
<line x1="345.00" y1="251.59" x2="345.00" y2="259.59" stroke="#a07ad8" stroke-width="0.7"/>
<line x1="343.60" y1="251.59" x2="346.40" y2="251.59" stroke="#a07ad8" stroke-width="0.6"/>
<line x1="343.60" y1="259.59" x2="346.40" y2="259.59" stroke="#a07ad8" stroke-width="0.6"/>
<circle cx="345.00" cy="255.59" r="2.5" fill="url(#eg6)"/>
<line x1="377.32" y1="267.33" x2="377.32" y2="275.33" stroke="#a07ad8" stroke-width="0.7"/>
<line x1="375.92" y1="267.33" x2="378.72" y2="267.33" stroke="#a07ad8" stroke-width="0.6"/>
<line x1="375.92" y1="275.33" x2="378.72" y2="275.33" stroke="#a07ad8" stroke-width="0.6"/>
<circle cx="377.32" cy="271.33" r="2.5" fill="url(#eg6)"/>
<line x1="409.64" y1="282.44" x2="409.64" y2="290.44" stroke="#a07ad8" stroke-width="0.7"/>
<line x1="408.24" y1="282.44" x2="411.04" y2="282.44" stroke="#a07ad8" stroke-width="0.6"/>
<line x1="408.24" y1="290.44" x2="411.04" y2="290.44" stroke="#a07ad8" stroke-width="0.6"/>
<circle cx="409.64" cy="286.44" r="2.5" fill="url(#eg6)"/>
<line x1="280.36" y1="210.01" x2="280.36" y2="213.01" stroke="#d3c5ec" stroke-width="0.7"/>
<line x1="278.96" y1="210.01" x2="281.76" y2="210.01" stroke="#d3c5ec" stroke-width="0.6"/>
<line x1="278.96" y1="213.01" x2="281.76" y2="213.01" stroke="#d3c5ec" stroke-width="0.6"/>
<circle cx="280.36" cy="211.51" r="2.5" fill="url(#eg7)"/>
<line x1="312.68" y1="221.60" x2="312.68" y2="226.60" stroke="#d3c5ec" stroke-width="0.7"/>
<line x1="311.28" y1="221.60" x2="314.08" y2="221.60" stroke="#d3c5ec" stroke-width="0.6"/>
<line x1="311.28" y1="226.60" x2="314.08" y2="226.60" stroke="#d3c5ec" stroke-width="0.6"/>
<circle cx="312.68" cy="224.10" r="2.5" fill="url(#eg7)"/>
<line x1="345.00" y1="239.62" x2="345.00" y2="247.62" stroke="#d3c5ec" stroke-width="0.7"/>
<line x1="343.60" y1="239.62" x2="346.40" y2="239.62" stroke="#d3c5ec" stroke-width="0.6"/>
<line x1="343.60" y1="247.62" x2="346.40" y2="247.62" stroke="#d3c5ec" stroke-width="0.6"/>
<circle cx="345.00" cy="243.62" r="2.5" fill="url(#eg7)"/>
<line x1="377.32" y1="257.25" x2="377.32" y2="265.25" stroke="#d3c5ec" stroke-width="0.7"/>
<line x1="375.92" y1="257.25" x2="378.72" y2="257.25" stroke="#d3c5ec" stroke-width="0.6"/>
<line x1="375.92" y1="265.25" x2="378.72" y2="265.25" stroke="#d3c5ec" stroke-width="0.6"/>
<circle cx="377.32" cy="261.25" r="2.5" fill="url(#eg7)"/>
<line x1="409.64" y1="275.51" x2="409.64" y2="283.51" stroke="#d3c5ec" stroke-width="0.7"/>
<line x1="408.24" y1="275.51" x2="411.04" y2="275.51" stroke="#d3c5ec" stroke-width="0.6"/>
<line x1="408.24" y1="283.51" x2="411.04" y2="283.51" stroke="#d3c5ec" stroke-width="0.6"/>
<circle cx="409.64" cy="279.51" r="2.5" fill="url(#eg7)"/>
<line x1="280.36" y1="208.75" x2="280.36" y2="211.75" stroke="#5a7088" stroke-width="0.7"/>
<line x1="278.96" y1="208.75" x2="281.76" y2="208.75" stroke="#5a7088" stroke-width="0.6"/>
<line x1="278.96" y1="211.75" x2="281.76" y2="211.75" stroke="#5a7088" stroke-width="0.6"/>
<circle cx="280.36" cy="210.25" r="2.5" fill="url(#eg8)"/>
<line x1="312.68" y1="214.68" x2="312.68" y2="219.68" stroke="#5a7088" stroke-width="0.7"/>
<line x1="311.28" y1="214.68" x2="314.08" y2="214.68" stroke="#5a7088" stroke-width="0.6"/>
<line x1="311.28" y1="219.68" x2="314.08" y2="219.68" stroke="#5a7088" stroke-width="0.6"/>
<circle cx="312.68" cy="217.18" r="2.5" fill="url(#eg8)"/>
<line x1="345.00" y1="224.83" x2="345.00" y2="232.83" stroke="#5a7088" stroke-width="0.7"/>
<line x1="343.60" y1="224.83" x2="346.40" y2="224.83" stroke="#5a7088" stroke-width="0.6"/>
<line x1="343.60" y1="232.83" x2="346.40" y2="232.83" stroke="#5a7088" stroke-width="0.6"/>
<circle cx="345.00" cy="228.83" r="2.5" fill="url(#eg8)"/>
<line x1="377.32" y1="237.73" x2="377.32" y2="245.73" stroke="#5a7088" stroke-width="0.7"/>
<line x1="375.92" y1="237.73" x2="378.72" y2="237.73" stroke="#5a7088" stroke-width="0.6"/>
<line x1="375.92" y1="245.73" x2="378.72" y2="245.73" stroke="#5a7088" stroke-width="0.6"/>
<circle cx="377.32" cy="241.73" r="2.5" fill="url(#eg8)"/>
<line x1="409.64" y1="247.81" x2="409.64" y2="255.81" stroke="#5a7088" stroke-width="0.7"/>
<line x1="408.24" y1="247.81" x2="411.04" y2="247.81" stroke="#5a7088" stroke-width="0.6"/>
<line x1="408.24" y1="255.81" x2="411.04" y2="255.81" stroke="#5a7088" stroke-width="0.6"/>
<circle cx="409.64" cy="251.81" r="2.5" fill="url(#eg8)"/>
<line x1="280.36" y1="208.75" x2="280.36" y2="211.75" stroke="#4a86c2" stroke-width="0.7"/>
<line x1="278.96" y1="208.75" x2="281.76" y2="208.75" stroke="#4a86c2" stroke-width="0.6"/>
<line x1="278.96" y1="211.75" x2="281.76" y2="211.75" stroke="#4a86c2" stroke-width="0.6"/>
<circle cx="280.36" cy="210.25" r="2.5" fill="url(#eg9)"/>
<line x1="312.68" y1="212.16" x2="312.68" y2="217.16" stroke="#4a86c2" stroke-width="0.7"/>
<line x1="311.28" y1="212.16" x2="314.08" y2="212.16" stroke="#4a86c2" stroke-width="0.6"/>
<line x1="311.28" y1="217.16" x2="314.08" y2="217.16" stroke="#4a86c2" stroke-width="0.6"/>
<circle cx="312.68" cy="214.66" r="2.5" fill="url(#eg9)"/>
<line x1="345.00" y1="217.59" x2="345.00" y2="225.59" stroke="#4a86c2" stroke-width="0.7"/>
<line x1="343.60" y1="217.59" x2="346.40" y2="217.59" stroke="#4a86c2" stroke-width="0.6"/>
<line x1="343.60" y1="225.59" x2="346.40" y2="225.59" stroke="#4a86c2" stroke-width="0.6"/>
<circle cx="345.00" cy="221.59" r="2.5" fill="url(#eg9)"/>
<line x1="377.32" y1="226.40" x2="377.32" y2="234.40" stroke="#4a86c2" stroke-width="0.7"/>
<line x1="375.92" y1="226.40" x2="378.72" y2="226.40" stroke="#4a86c2" stroke-width="0.6"/>
<line x1="375.92" y1="234.40" x2="378.72" y2="234.40" stroke="#4a86c2" stroke-width="0.6"/>
<circle cx="377.32" cy="230.40" r="2.5" fill="url(#eg9)"/>
<line x1="409.64" y1="236.47" x2="409.64" y2="244.47" stroke="#4a86c2" stroke-width="0.7"/>
<line x1="408.24" y1="236.47" x2="411.04" y2="236.47" stroke="#4a86c2" stroke-width="0.6"/>
<line x1="408.24" y1="244.47" x2="411.04" y2="244.47" stroke="#4a86c2" stroke-width="0.6"/>
<circle cx="409.64" cy="240.47" r="2.5" fill="url(#eg9)"/>
<line x1="280.36" y1="208.44" x2="280.36" y2="211.44" stroke="#7ba8d4" stroke-width="0.7"/>
<line x1="278.96" y1="208.44" x2="281.76" y2="208.44" stroke="#7ba8d4" stroke-width="0.6"/>
<line x1="278.96" y1="211.44" x2="281.76" y2="211.44" stroke="#7ba8d4" stroke-width="0.6"/>
<circle cx="280.36" cy="209.94" r="2.5" fill="url(#eg10)"/>
<line x1="312.68" y1="210.90" x2="312.68" y2="215.90" stroke="#7ba8d4" stroke-width="0.7"/>
<line x1="311.28" y1="210.90" x2="314.08" y2="210.90" stroke="#7ba8d4" stroke-width="0.6"/>
<line x1="311.28" y1="215.90" x2="314.08" y2="215.90" stroke="#7ba8d4" stroke-width="0.6"/>
<circle cx="312.68" cy="213.40" r="2.5" fill="url(#eg10)"/>
<line x1="345.00" y1="214.44" x2="345.00" y2="222.44" stroke="#7ba8d4" stroke-width="0.7"/>
<line x1="343.60" y1="214.44" x2="346.40" y2="214.44" stroke="#7ba8d4" stroke-width="0.6"/>
<line x1="343.60" y1="222.44" x2="346.40" y2="222.44" stroke="#7ba8d4" stroke-width="0.6"/>
<circle cx="345.00" cy="218.44" r="2.5" fill="url(#eg10)"/>
<line x1="377.32" y1="221.99" x2="377.32" y2="229.99" stroke="#7ba8d4" stroke-width="0.7"/>
<line x1="375.92" y1="221.99" x2="378.72" y2="221.99" stroke="#7ba8d4" stroke-width="0.6"/>
<line x1="375.92" y1="229.99" x2="378.72" y2="229.99" stroke="#7ba8d4" stroke-width="0.6"/>
<circle cx="377.32" cy="225.99" r="2.5" fill="url(#eg10)"/>
<line x1="409.64" y1="233.33" x2="409.64" y2="241.33" stroke="#7ba8d4" stroke-width="0.7"/>
<line x1="408.24" y1="233.33" x2="411.04" y2="233.33" stroke="#7ba8d4" stroke-width="0.6"/>
<line x1="408.24" y1="241.33" x2="411.04" y2="241.33" stroke="#7ba8d4" stroke-width="0.6"/>
<circle cx="409.64" cy="237.33" r="2.5" fill="url(#eg10)"/>
<line x1="280.36" y1="208.12" x2="280.36" y2="211.12" stroke="#bcd5ec" stroke-width="0.7"/>
<line x1="278.96" y1="208.12" x2="281.76" y2="208.12" stroke="#bcd5ec" stroke-width="0.6"/>
<line x1="278.96" y1="211.12" x2="281.76" y2="211.12" stroke="#bcd5ec" stroke-width="0.6"/>
<circle cx="280.36" cy="209.62" r="2.5" fill="url(#eg11)"/>
<line x1="312.68" y1="209.64" x2="312.68" y2="214.64" stroke="#bcd5ec" stroke-width="0.7"/>
<line x1="311.28" y1="209.64" x2="314.08" y2="209.64" stroke="#bcd5ec" stroke-width="0.6"/>
<line x1="311.28" y1="214.64" x2="314.08" y2="214.64" stroke="#bcd5ec" stroke-width="0.6"/>
<circle cx="312.68" cy="212.14" r="2.5" fill="url(#eg11)"/>
<line x1="345.00" y1="211.60" x2="345.00" y2="219.60" stroke="#bcd5ec" stroke-width="0.7"/>
<line x1="343.60" y1="211.60" x2="346.40" y2="211.60" stroke="#bcd5ec" stroke-width="0.6"/>
<line x1="343.60" y1="219.60" x2="346.40" y2="219.60" stroke="#bcd5ec" stroke-width="0.6"/>
<circle cx="345.00" cy="215.60" r="2.5" fill="url(#eg11)"/>
<line x1="377.32" y1="216.33" x2="377.32" y2="224.33" stroke="#bcd5ec" stroke-width="0.7"/>
<line x1="375.92" y1="216.33" x2="378.72" y2="216.33" stroke="#bcd5ec" stroke-width="0.6"/>
<line x1="375.92" y1="224.33" x2="378.72" y2="224.33" stroke="#bcd5ec" stroke-width="0.6"/>
<circle cx="377.32" cy="220.33" r="2.5" fill="url(#eg11)"/>
<line x1="409.64" y1="221.36" x2="409.64" y2="229.36" stroke="#bcd5ec" stroke-width="0.7"/>
<line x1="408.24" y1="221.36" x2="411.04" y2="221.36" stroke="#bcd5ec" stroke-width="0.6"/>
<line x1="408.24" y1="229.36" x2="411.04" y2="229.36" stroke="#bcd5ec" stroke-width="0.6"/>
<circle cx="409.64" cy="225.36" r="2.5" fill="url(#eg11)"/>
</g>
<rect x="264.20" y="196.40" width="161.60" height="170.00" fill="none" stroke="#2a2a2a" stroke-width="1.1"/>
<line x1="264.20" y1="366.40" x2="266.60" y2="366.40" stroke="#111" stroke-width="0.9"/>
<text x="261.80" y="369.30" font-size="9.5" text-anchor="end" stroke="#000" stroke-width="0.13"><tspan>-250</tspan></text>
<line x1="264.20" y1="350.66" x2="265.60" y2="350.66" stroke="#111" stroke-width="0.8"/>
<line x1="264.20" y1="334.92" x2="266.60" y2="334.92" stroke="#111" stroke-width="0.9"/>
<text x="261.80" y="337.82" font-size="9.5" text-anchor="end" stroke="#000" stroke-width="0.13"><tspan>-200</tspan></text>
<line x1="264.20" y1="319.18" x2="265.60" y2="319.18" stroke="#111" stroke-width="0.8"/>
<line x1="264.20" y1="303.44" x2="266.60" y2="303.44" stroke="#111" stroke-width="0.9"/>
<text x="261.80" y="306.34" font-size="9.5" text-anchor="end" stroke="#000" stroke-width="0.13"><tspan>-150</tspan></text>
<line x1="264.20" y1="287.70" x2="265.60" y2="287.70" stroke="#111" stroke-width="0.8"/>
<line x1="264.20" y1="271.96" x2="266.60" y2="271.96" stroke="#111" stroke-width="0.9"/>
<text x="261.80" y="274.86" font-size="9.5" text-anchor="end" stroke="#000" stroke-width="0.13"><tspan>-100</tspan></text>
<line x1="264.20" y1="256.21" x2="265.60" y2="256.21" stroke="#111" stroke-width="0.8"/>
<line x1="264.20" y1="240.47" x2="266.60" y2="240.47" stroke="#111" stroke-width="0.9"/>
<text x="261.80" y="243.37" font-size="9.5" text-anchor="end" stroke="#000" stroke-width="0.13"><tspan>-50</tspan></text>
<line x1="264.20" y1="224.73" x2="265.60" y2="224.73" stroke="#111" stroke-width="0.8"/>
<line x1="264.20" y1="208.99" x2="266.60" y2="208.99" stroke="#111" stroke-width="0.9"/>
<text x="261.80" y="211.89" font-size="9.5" text-anchor="end" stroke="#000" stroke-width="0.13"><tspan>0</tspan></text>
<line x1="280.36" y1="366.40" x2="280.36" y2="364.00" stroke="#111" stroke-width="0.9"/>
<text x="280.36" y="375.60" font-size="9.5" text-anchor="middle" stroke="#000" stroke-width="0.13"><tspan>1</tspan></text>
<line x1="296.52" y1="366.40" x2="296.52" y2="365.00" stroke="#111" stroke-width="0.8"/>
<line x1="312.68" y1="366.40" x2="312.68" y2="364.00" stroke="#111" stroke-width="0.9"/>
<text x="312.68" y="375.60" font-size="9.5" text-anchor="middle" stroke="#000" stroke-width="0.13"><tspan>2</tspan></text>
<line x1="328.84" y1="366.40" x2="328.84" y2="365.00" stroke="#111" stroke-width="0.8"/>
<line x1="345.00" y1="366.40" x2="345.00" y2="364.00" stroke="#111" stroke-width="0.9"/>
<text x="345.00" y="375.60" font-size="9.5" text-anchor="middle" stroke="#000" stroke-width="0.13"><tspan>3</tspan></text>
<line x1="361.16" y1="366.40" x2="361.16" y2="365.00" stroke="#111" stroke-width="0.8"/>
<line x1="377.32" y1="366.40" x2="377.32" y2="364.00" stroke="#111" stroke-width="0.9"/>
<text x="377.32" y="375.60" font-size="9.5" text-anchor="middle" stroke="#000" stroke-width="0.13"><tspan>4</tspan></text>
<line x1="393.48" y1="366.40" x2="393.48" y2="365.00" stroke="#111" stroke-width="0.8"/>
<line x1="409.64" y1="366.40" x2="409.64" y2="364.00" stroke="#111" stroke-width="0.9"/>
<text x="409.64" y="375.60" font-size="9.5" text-anchor="middle" stroke="#000" stroke-width="0.13"><tspan>5</tspan></text>
<text x="344.90" y="388.90" font-size="13" text-anchor="middle" stroke="#000" stroke-width="0.18"><tspan>Temperature difference (K)</tspan></text>
<text x="237.60" y="281.20" font-size="13" text-anchor="middle" stroke="#000" stroke-width="0.18" transform="rotate(-90 237.60 281.20)"><tspan>Thermal voltage (mV)</tspan></text>
<circle cx="275.30" cy="330.30" r="2.6" fill="url(#eg0)"/>
<text x="284.90" y="332.80" font-size="6.9" fill="#111" font-weight="bold"><tspan>0.01 M</tspan></text>
<circle cx="275.30" cy="338.70" r="2.6" fill="url(#eg1)"/>
<text x="284.90" y="341.20" font-size="6.9" fill="#111" font-weight="bold"><tspan>0.03 M</tspan></text>
<circle cx="275.30" cy="347.40" r="2.6" fill="url(#eg2)"/>
<text x="284.90" y="349.90" font-size="6.9" fill="#111" font-weight="bold"><tspan>0.05 M</tspan></text>
<circle cx="275.30" cy="355.60" r="2.6" fill="url(#eg3)"/>
<text x="284.90" y="358.10" font-size="6.9" fill="#111" font-weight="bold"><tspan>0.07 M</tspan></text>
<circle cx="314.70" cy="330.30" r="2.6" fill="url(#eg4)"/>
<text x="323.40" y="332.80" font-size="6.9" fill="#111" font-weight="bold"><tspan>0.1 M</tspan></text>
<circle cx="314.70" cy="338.70" r="2.6" fill="url(#eg5)"/>
<text x="323.40" y="341.20" font-size="6.9" fill="#111" font-weight="bold"><tspan>0.3 M</tspan></text>
<circle cx="314.70" cy="347.40" r="2.6" fill="url(#eg6)"/>
<text x="323.40" y="349.90" font-size="6.9" fill="#111" font-weight="bold"><tspan>0.5 M</tspan></text>
<circle cx="314.70" cy="355.60" r="2.6" fill="url(#eg7)"/>
<text x="323.40" y="358.10" font-size="6.9" fill="#111" font-weight="bold"><tspan>0.7 M</tspan></text>
<circle cx="351.40" cy="330.30" r="2.6" fill="url(#eg8)"/>
<text x="361.10" y="332.80" font-size="6.9" fill="#111" font-weight="bold"><tspan>1.0 M</tspan></text>
<circle cx="351.40" cy="338.70" r="2.6" fill="url(#eg9)"/>
<text x="361.10" y="341.20" font-size="6.9" fill="#111" font-weight="bold"><tspan>1.3 M</tspan></text>
<circle cx="351.40" cy="347.40" r="2.6" fill="url(#eg10)"/>
<text x="361.10" y="349.90" font-size="6.9" fill="#111" font-weight="bold"><tspan>1.5 M</tspan></text>
<circle cx="351.40" cy="355.60" r="2.6" fill="url(#eg11)"/>
<text x="361.10" y="358.10" font-size="6.9" fill="#111" font-weight="bold"><tspan>2.0 M</tspan></text>
<rect x="474.50" y="209.50" width="57.60" height="135.80" fill="#f2f2f2"/>
<rect x="532.10" y="209.50" width="51.50" height="135.80" fill="#f4ebf5"/>
<rect x="583.60" y="209.50" width="58.20" height="135.80" fill="#e1ecf7"/>
<defs><linearGradient id="fg0" x1="0" y1="0" x2="0" y2="1"><stop offset="0" stop-color="#e6e4e2"/><stop offset="1" stop-color="#cbc4be"/></linearGradient><linearGradient id="fg1" x1="0" y1="0" x2="0" y2="1"><stop offset="0" stop-color="#dcd6d1"/><stop offset="1" stop-color="#c2bab3"/></linearGradient><linearGradient id="fg2" x1="0" y1="0" x2="0" y2="1"><stop offset="0" stop-color="#d2cbc6"/><stop offset="1" stop-color="#bbb3ac"/></linearGradient><linearGradient id="fg3" x1="0" y1="0" x2="0" y2="1"><stop offset="0" stop-color="#8e8781"/><stop offset="1" stop-color="#c3bbb4"/></linearGradient><linearGradient id="fg4" x1="0" y1="0" x2="0" y2="1"><stop offset="0" stop-color="#ee8990"/><stop offset="1" stop-color="#f3a2a8"/></linearGradient><linearGradient id="fg5" x1="0" y1="0" x2="0" y2="1"><stop offset="0" stop-color="#9a6fc0"/><stop offset="1" stop-color="#c9b2e0"/></linearGradient><linearGradient id="fg6" x1="0" y1="0" x2="0" y2="1"><stop offset="0" stop-color="#c2a7dc"/><stop offset="1" stop-color="#b99bd6"/></linearGradient><linearGradient id="fg7" x1="0" y1="0" x2="0" y2="1"><stop offset="0" stop-color="#d9caea"/><stop offset="1" stop-color="#c8b0e2"/></linearGradient><linearGradient id="fg8" x1="0" y1="0" x2="0" y2="1"><stop offset="0" stop-color="#3c4a86"/><stop offset="1" stop-color="#909ed2"/></linearGradient><linearGradient id="fg9" x1="0" y1="0" x2="0" y2="1"><stop offset="0" stop-color="#8495d2"/><stop offset="1" stop-color="#a5b1e0"/></linearGradient><linearGradient id="fg10" x1="0" y1="0" x2="0" y2="1"><stop offset="0" stop-color="#94a3d8"/><stop offset="1" stop-color="#b4bfe6"/></linearGradient><linearGradient id="fg11" x1="0" y1="0" x2="0" y2="1"><stop offset="0" stop-color="#a4b2e0"/><stop offset="1" stop-color="#c2cbec"/></linearGradient></defs>
<rect x="483.30" y="278.08" width="7.80" height="67.22" fill="url(#fg0)"/>
<line x1="487.20" y1="274.68" x2="487.20" y2="278.58" stroke="#888" stroke-width="0.6"/>
<line x1="485.50" y1="274.68" x2="488.90" y2="274.68" stroke="#888" stroke-width="0.6"/>
<rect x="496.00" y="257.03" width="7.80" height="88.27" fill="url(#fg1)"/>
<line x1="499.90" y1="251.60" x2="499.90" y2="257.53" stroke="#888" stroke-width="0.6"/>
<line x1="498.20" y1="251.60" x2="501.60" y2="251.60" stroke="#888" stroke-width="0.6"/>
<rect x="509.00" y="249.90" width="7.80" height="95.40" fill="url(#fg2)"/>
<line x1="512.90" y1="246.84" x2="512.90" y2="250.40" stroke="#888" stroke-width="0.6"/>
<line x1="511.20" y1="246.84" x2="514.60" y2="246.84" stroke="#888" stroke-width="0.6"/>
<rect x="521.80" y="247.52" width="7.80" height="97.78" fill="url(#fg3)"/>
<line x1="525.70" y1="244.47" x2="525.70" y2="248.02" stroke="#888" stroke-width="0.6"/>
<line x1="524.00" y1="244.47" x2="527.40" y2="244.47" stroke="#888" stroke-width="0.6"/>
<rect x="534.80" y="241.41" width="7.80" height="103.89" fill="url(#fg4)"/>
<line x1="538.70" y1="240.39" x2="538.70" y2="241.91" stroke="#d04050" stroke-width="0.6"/>
<line x1="537.00" y1="240.39" x2="540.40" y2="240.39" stroke="#d04050" stroke-width="0.6"/>
<rect x="547.60" y="247.18" width="7.80" height="98.12" fill="url(#fg5)"/>
<line x1="551.50" y1="244.47" x2="551.50" y2="247.68" stroke="#7050a0" stroke-width="0.6"/>
<line x1="549.80" y1="244.47" x2="553.20" y2="244.47" stroke="#7050a0" stroke-width="0.6"/>
<rect x="560.30" y="248.20" width="7.80" height="97.10" fill="url(#fg6)"/>
<line x1="564.20" y1="244.47" x2="564.20" y2="248.70" stroke="#7050a0" stroke-width="0.6"/>
<line x1="562.50" y1="244.47" x2="565.90" y2="244.47" stroke="#7050a0" stroke-width="0.6"/>
<rect x="573.30" y="250.92" width="7.80" height="94.38" fill="url(#fg7)"/>
<line x1="577.20" y1="247.52" x2="577.20" y2="251.42" stroke="#7050a0" stroke-width="0.6"/>
<line x1="575.50" y1="247.52" x2="578.90" y2="247.52" stroke="#7050a0" stroke-width="0.6"/>
<rect x="586.30" y="288.60" width="7.80" height="56.70" fill="url(#fg8)"/>
<line x1="590.20" y1="283.17" x2="590.20" y2="289.10" stroke="#4a5a9a" stroke-width="0.6"/>
<line x1="588.50" y1="283.17" x2="591.90" y2="283.17" stroke="#4a5a9a" stroke-width="0.6"/>
<rect x="599.10" y="303.20" width="7.80" height="42.10" fill="url(#fg9)"/>
<line x1="603.00" y1="299.13" x2="603.00" y2="303.70" stroke="#4a5a9a" stroke-width="0.6"/>
<line x1="601.30" y1="299.13" x2="604.70" y2="299.13" stroke="#4a5a9a" stroke-width="0.6"/>
<rect x="611.80" y="311.35" width="7.80" height="33.95" fill="url(#fg10)"/>
<line x1="615.70" y1="307.28" x2="615.70" y2="311.85" stroke="#4a5a9a" stroke-width="0.6"/>
<line x1="614.00" y1="307.28" x2="617.40" y2="307.28" stroke="#4a5a9a" stroke-width="0.6"/>
<rect x="624.80" y="325.27" width="7.80" height="20.03" fill="url(#fg11)"/>
<line x1="628.70" y1="323.23" x2="628.70" y2="325.77" stroke="#4a5a9a" stroke-width="0.6"/>
<line x1="627.00" y1="323.23" x2="630.40" y2="323.23" stroke="#4a5a9a" stroke-width="0.6"/>
<path d="M487.2,324.9 L488.2,325.1 L489.5,325.3 L491.1,325.6 L492.9,325.9 L494.8,326.2 L496.7,326.4 L498.5,326.5 L500.2,326.4 L501.8,326.2 L503.4,326.0 L504.9,325.7 L506.5,325.3 L508.1,324.8 L509.7,324.2 L511.2,323.5 L512.8,322.7 L514.4,321.7 L516.0,320.7 L517.6,319.4 L519.1,318.1 L520.7,316.7 L522.3,315.3 L523.9,313.9 L525.5,312.5 L527.1,311.1 L528.7,309.5 L530.2,308.0 L531.8,306.4 L533.4,304.8 L535.0,303.3 L536.6,301.8 L538.3,300.4 L540.0,299.0 L541.8,297.7 L543.6,296.3 L545.5,295.0 L547.3,293.8 L549.1,292.8 L550.8,291.9 L552.5,291.3 L554.1,290.9 L555.6,290.8 L557.0,290.8 L558.5,290.9 L559.9,291.2 L561.3,291.6 L562.8,292.0 L564.3,292.5 L565.9,293.1 L567.5,293.7 L569.2,294.5 L570.8,295.3 L572.5,296.2 L574.2,297.2 L575.8,298.1 L577.5,299.0 L579.1,300.0 L580.8,301.0 L582.4,302.1 L584.0,303.2 L585.7,304.3 L587.3,305.2 L588.9,306.1 L590.5,306.8 L592.1,307.3 L593.7,307.7 L595.2,307.9 L596.8,308.1 L598.3,308.2 L599.9,308.3 L601.4,308.4 L603.0,308.5 L604.6,308.6 L606.2,308.7 L607.8,308.8 L609.4,308.8 L611.0,308.9 L612.6,309.0 L614.2,309.1 L615.8,309.2 L617.5,309.4 L619.4,309.7 L621.3,309.9 L623.2,310.2 L625.0,310.5 L626.6,310.8 L628.0,311.0 L629.0,311.2" fill="none" stroke="#e03a3a" stroke-width="1.3" stroke-dasharray="3.2,2.4"/>
<circle cx="487.2" cy="324.9" r="1.5" fill="#e03a3a"/>
<circle cx="512.8" cy="322.7" r="1.5" fill="#e03a3a"/>
<circle cx="538.3" cy="300.4" r="1.5" fill="#e03a3a"/>
<circle cx="564.3" cy="292.5" r="1.5" fill="#e03a3a"/>
<circle cx="590.5" cy="306.8" r="1.5" fill="#e03a3a"/>
<circle cx="615.8" cy="309.2" r="1.5" fill="#e03a3a"/>
<circle cx="629.0" cy="311.2" r="1.5" fill="#e03a3a"/>
<line x1="474.50" y1="209.50" x2="641.80" y2="209.50" stroke="#2a2a2a" stroke-width="1.35"/>
<line x1="474.50" y1="209.00" x2="474.50" y2="345.80" stroke="#2a2a2a" stroke-width="1.35"/>
<line x1="474.50" y1="345.30" x2="641.80" y2="345.30" stroke="#2a2a2a" stroke-width="1.35"/>
<line x1="641.80" y1="209.00" x2="641.80" y2="345.80" stroke="#e03a3a" stroke-width="1.35"/>
<line x1="474.50" y1="345.30" x2="476.90" y2="345.30" stroke="#111" stroke-width="0.9"/>
<text x="472.10" y="348.20" font-size="9.5" text-anchor="end" stroke="#000" stroke-width="0.13"><tspan>0</tspan></text>
<line x1="639.40" y1="345.30" x2="641.80" y2="345.30" stroke="#e03a3a" stroke-width="0.9"/>
<text x="644.20" y="348.20" font-size="9.5" fill="#e03a3a" stroke="#e03a3a" stroke-width="0.13"><tspan>0</tspan></text>
<line x1="474.50" y1="328.32" x2="475.90" y2="328.32" stroke="#111" stroke-width="0.8"/>
<line x1="640.40" y1="328.32" x2="641.80" y2="328.32" stroke="#e03a3a" stroke-width="0.8"/>
<line x1="474.50" y1="311.35" x2="476.90" y2="311.35" stroke="#111" stroke-width="0.9"/>
<text x="472.10" y="314.25" font-size="9.5" text-anchor="end" stroke="#000" stroke-width="0.13"><tspan>-10</tspan></text>
<line x1="639.40" y1="311.35" x2="641.80" y2="311.35" stroke="#e03a3a" stroke-width="0.9"/>
<text x="644.20" y="314.25" font-size="9.5" fill="#e03a3a" stroke="#e03a3a" stroke-width="0.13"><tspan>-1</tspan></text>
<line x1="474.50" y1="294.38" x2="475.90" y2="294.38" stroke="#111" stroke-width="0.8"/>
<line x1="640.40" y1="294.38" x2="641.80" y2="294.38" stroke="#e03a3a" stroke-width="0.8"/>
<line x1="474.50" y1="277.40" x2="476.90" y2="277.40" stroke="#111" stroke-width="0.9"/>
<text x="472.10" y="280.30" font-size="9.5" text-anchor="end" stroke="#000" stroke-width="0.13"><tspan>-20</tspan></text>
<line x1="639.40" y1="277.40" x2="641.80" y2="277.40" stroke="#e03a3a" stroke-width="0.9"/>
<text x="644.20" y="280.30" font-size="9.5" fill="#e03a3a" stroke="#e03a3a" stroke-width="0.13"><tspan>-2</tspan></text>
<line x1="474.50" y1="260.43" x2="475.90" y2="260.43" stroke="#111" stroke-width="0.8"/>
<line x1="640.40" y1="260.43" x2="641.80" y2="260.43" stroke="#e03a3a" stroke-width="0.8"/>
<line x1="474.50" y1="243.45" x2="476.90" y2="243.45" stroke="#111" stroke-width="0.9"/>
<text x="472.10" y="246.35" font-size="9.5" text-anchor="end" stroke="#000" stroke-width="0.13"><tspan>-30</tspan></text>
<line x1="639.40" y1="243.45" x2="641.80" y2="243.45" stroke="#e03a3a" stroke-width="0.9"/>
<text x="644.20" y="246.35" font-size="9.5" fill="#e03a3a" stroke="#e03a3a" stroke-width="0.13"><tspan>-3</tspan></text>
<line x1="474.50" y1="226.48" x2="475.90" y2="226.48" stroke="#111" stroke-width="0.8"/>
<line x1="640.40" y1="226.48" x2="641.80" y2="226.48" stroke="#e03a3a" stroke-width="0.8"/>
<line x1="474.50" y1="209.50" x2="476.90" y2="209.50" stroke="#111" stroke-width="0.9"/>
<text x="472.10" y="212.40" font-size="9.5" text-anchor="end" stroke="#000" stroke-width="0.13"><tspan>-40</tspan></text>
<line x1="639.40" y1="209.50" x2="641.80" y2="209.50" stroke="#e03a3a" stroke-width="0.9"/>
<text x="644.20" y="212.40" font-size="9.5" fill="#e03a3a" stroke="#e03a3a" stroke-width="0.13"><tspan>-4</tspan></text>
<text x="491.20" y="350.20" font-size="7" text-anchor="end" transform="rotate(-45 491.20 350.20)"><tspan>0.01</tspan></text>
<text x="503.90" y="350.20" font-size="7" text-anchor="end" transform="rotate(-45 503.90 350.20)"><tspan>0.03</tspan></text>
<text x="516.90" y="350.20" font-size="7" text-anchor="end" transform="rotate(-45 516.90 350.20)"><tspan>0.05</tspan></text>
<text x="529.70" y="350.20" font-size="7" text-anchor="end" transform="rotate(-45 529.70 350.20)"><tspan>0.07</tspan></text>
<text x="542.70" y="350.20" font-size="7" text-anchor="end" transform="rotate(-45 542.70 350.20)"><tspan>0.1</tspan></text>
<text x="555.50" y="350.20" font-size="7" text-anchor="end" transform="rotate(-45 555.50 350.20)"><tspan>0.3</tspan></text>
<text x="568.20" y="350.20" font-size="7" text-anchor="end" transform="rotate(-45 568.20 350.20)"><tspan>0.5</tspan></text>
<text x="581.20" y="350.20" font-size="7" text-anchor="end" transform="rotate(-45 581.20 350.20)"><tspan>0.7</tspan></text>
<text x="594.20" y="350.20" font-size="7" text-anchor="end" transform="rotate(-45 594.20 350.20)"><tspan>1.0</tspan></text>
<text x="607.00" y="350.20" font-size="7" text-anchor="end" transform="rotate(-45 607.00 350.20)"><tspan>1.3</tspan></text>
<text x="619.70" y="350.20" font-size="7" text-anchor="end" transform="rotate(-45 619.70 350.20)"><tspan>1.5</tspan></text>
<text x="632.70" y="350.20" font-size="7" text-anchor="end" transform="rotate(-45 632.70 350.20)"><tspan>2.0</tspan></text>
<text x="558.40" y="371.30" font-size="11.6" text-anchor="middle" stroke="#000" stroke-width="0.16"><tspan>The concentration of CuCl</tspan><tspan dy="3.25" font-size="7.19">2</tspan><tspan dy="-3.25"> (M)</tspan></text>
<text x="451.20" y="276.20" font-size="11.7" text-anchor="middle" stroke="#000" stroke-width="0.16" transform="rotate(-90 451.20 276.20)"><tspan>Thermopower (mV K</tspan><tspan dy="-4.68" font-size="7.25">-1</tspan><tspan dy="4.68">)</tspan></text>
<text x="667.0" y="275.6" font-size="11.7" text-anchor="middle" fill="#e03a3a" transform="rotate(-90 666.6 277.4)"><tspan>- </tspan><tspan font-style="italic">α</tspan><tspan dy="3.28" font-size="7.25" font-style="italic">R</tspan><tspan dy="-3.28"> (mV K</tspan><tspan dy="-4.68" font-size="7.25">-1</tspan><tspan dy="4.68">)</tspan></text>
<text x="503.30" y="217.40" font-size="5.9" text-anchor="middle" fill="#111" stroke-width="0.15" stroke="#111"><tspan>Thermodiffusion</tspan></text>
<text x="503.30" y="226.10" font-size="5.9" text-anchor="middle" fill="#111" stroke-width="0.15" stroke="#111"><tspan>dominance</tspan></text>
<text x="557.80" y="217.40" font-size="5.9" text-anchor="middle" fill="#5a2a82" stroke-width="0.15" stroke="#5a2a82"><tspan>Thermogalvanic</tspan></text>
<text x="557.80" y="226.10" font-size="5.9" text-anchor="middle" fill="#5a2a82" stroke-width="0.15" stroke="#5a2a82"><tspan>enhancement</tspan></text>
<text x="612.70" y="217.40" font-size="5.9" text-anchor="middle" fill="#24466a" stroke-width="0.15" stroke="#24466a"><tspan>Thermodiffusion</tspan></text>
<text x="612.70" y="226.10" font-size="5.9" text-anchor="middle" fill="#24466a" stroke-width="0.15" stroke="#24466a"><tspan>suppression</tspan></text>
<clipPath id="clipG"><rect x="33.5" y="408.6" width="167.6" height="135.0"/></clipPath>
<g clip-path="url(#clipG)">
<path d="M45.5,457.4 L46.2,461.9 L46.9,468.4 L47.6,475.2 L48.3,480.9 L49.1,486.5 L49.8,491.7 L50.5,496.0 L51.2,499.3 L51.9,502.2 L52.7,504.7 L53.4,506.7 L54.1,508.1 L54.8,509.4 L55.5,510.3 L56.2,511.0 L57.0,511.4 L57.7,511.3 L58.4,510.6 L59.1,509.7 L59.8,508.8 L60.6,508.1 L61.3,507.5 L62.0,506.9 L62.7,506.4 L63.4,506.2 L64.1,506.3 L64.9,506.7 L65.6,507.3 L66.3,507.9 L67.0,508.5 L67.7,509.1 L68.5,509.4 L69.2,509.6 L69.9,509.7 L70.6,509.8 L71.3,509.9 L72.0,510.0 L72.8,510.1 L73.5,510.2 L74.2,510.4 L74.9,510.5 L75.6,510.7 L76.4,510.9 L77.1,511.1 L77.8,511.3 L78.5,511.5 L79.2,511.7 L79.9,511.9 L80.7,512.2 L81.4,512.4 L82.1,512.6 L82.8,512.8 L83.5,512.9 L84.3,513.1 L85.0,513.3 L85.7,513.5 L86.4,513.7 L87.1,513.9 L87.9,514.1 L88.6,514.3 L89.3,514.5 L90.0,514.7 L90.7,514.9 L91.4,515.1 L92.2,515.2 L92.9,515.4 L93.6,515.6 L94.3,515.7 L95.0,515.8 L95.8,515.9 L96.5,516.0 L97.2,516.1 L97.9,516.2 L98.6,516.3 L99.3,516.4 L100.1,516.5 L100.8,516.6 L101.5,516.7 L102.2,516.8 L102.9,516.9 L103.7,517.0 L104.4,517.1 L105.1,517.2 L105.8,517.3 L106.5,517.4 L107.2,517.5 L108.0,517.6 L108.7,517.7 L109.4,517.8 L110.1,517.9 L110.8,518.0 L111.6,518.1 L112.3,518.2 L113.0,518.2 L113.7,518.3 L114.4,518.4 L115.1,518.5 L115.9,518.5 L116.6,518.6 L117.3,518.7 L118.0,518.7 L118.7,518.8 L119.5,518.8 L120.2,518.9 L120.9,518.9 L121.6,519.0 L122.3,519.0 L123.0,519.0 L123.8,519.1 L124.5,519.1 L125.2,519.1 L125.9,519.2 L126.6,519.2 L127.4,519.2 L128.1,519.2 L128.8,519.2 L129.5,519.3 L130.2,519.3 L130.9,519.3 L131.7,519.3 L132.4,519.3 L133.1,519.4 L133.8,519.4 L134.5,519.4 L135.3,519.4 L136.0,519.5 L136.7,519.5 L137.4,519.5 L138.1,519.5 L138.8,519.6 L139.6,519.6 L140.3,519.7 L141.0,519.7 L141.7,519.7 L142.4,519.8 L143.2,519.8 L143.9,519.9 L144.6,520.0 L145.3,520.0 L146.0,520.1 L146.7,520.1 L147.5,520.2 L148.2,520.2 L148.9,520.3 L149.6,520.4 L150.3,520.4 L151.1,520.5 L151.8,520.6 L152.5,520.6 L153.2,520.7 L153.9,520.8 L154.7,520.8 L155.4,520.9 L156.1,521.0 L156.8,521.0 L157.5,521.1 L158.2,521.2 L159.0,521.2 L159.7,521.3 L160.4,521.4 L161.1,521.4 L161.8,521.5 L162.6,521.6 L163.3,521.6 L164.0,521.7 L164.7,521.8 L165.4,521.8 L166.1,521.9 L166.9,521.9 L167.6,522.0 L168.3,522.1 L169.0,522.1 L169.7,522.2 L170.5,522.3 L171.2,522.4 L171.9,522.4 L172.6,522.5 L173.3,522.6 L174.0,522.7 L174.8,522.7 L175.5,522.8 L176.2,522.9 L176.9,522.9 L177.6,523.0 L178.4,523.1 L179.1,523.1 L179.8,523.2 L180.5,523.3 L181.2,523.3 L181.9,523.4 L182.7,523.5 L183.4,523.5 L184.1,523.6 L184.8,523.6 L185.5,523.7 L186.3,523.7 L187.0,523.8 L187.7,523.8 L188.4,523.8 L189.1,523.9" fill="none" stroke="#e6c4ac" stroke-width="1.1" stroke-linejoin="round"/>
<path d="M45.5,462.6 L46.2,466.9 L46.9,473.1 L47.6,479.5 L48.3,484.7 L49.1,489.5 L49.8,494.1 L50.5,498.0 L51.2,501.2 L51.9,504.2 L52.7,506.8 L53.4,508.8 L54.1,510.2 L54.8,511.4 L55.5,512.3 L56.2,513.0 L57.0,513.5 L57.7,513.5 L58.4,512.9 L59.1,512.1 L59.8,511.4 L60.6,510.9 L61.3,510.4 L62.0,510.0 L62.7,509.8 L63.4,509.9 L64.1,510.4 L64.9,511.1 L65.6,511.9 L66.3,512.8 L67.0,513.5 L67.7,514.0 L68.5,514.5 L69.2,515.0 L69.9,515.5 L70.6,515.9 L71.3,516.3 L72.0,516.7 L72.8,516.9 L73.5,517.1 L74.2,517.3 L74.9,517.5 L75.6,517.7 L76.4,517.9 L77.1,518.1 L77.8,518.3 L78.5,518.5 L79.2,518.7 L79.9,519.0 L80.7,519.2 L81.4,519.4 L82.1,519.6 L82.8,519.9 L83.5,520.2 L84.3,520.4 L85.0,520.7 L85.7,520.9 L86.4,521.1 L87.1,521.4 L87.9,521.6 L88.6,521.8 L89.3,522.0 L90.0,522.2 L90.7,522.4 L91.4,522.5 L92.2,522.7 L92.9,522.9 L93.6,523.0 L94.3,523.2 L95.0,523.3 L95.8,523.4 L96.5,523.6 L97.2,523.7 L97.9,523.8 L98.6,523.9 L99.3,524.0 L100.1,524.0 L100.8,524.1 L101.5,524.1 L102.2,524.2 L102.9,524.2 L103.7,524.3 L104.4,524.3 L105.1,524.4 L105.8,524.4 L106.5,524.5 L107.2,524.5 L108.0,524.5 L108.7,524.6 L109.4,524.6 L110.1,524.6 L110.8,524.7 L111.6,524.7 L112.3,524.7 L113.0,524.8 L113.7,524.8 L114.4,524.8 L115.1,524.8 L115.9,524.9 L116.6,524.9 L117.3,524.9 L118.0,524.9 L118.7,524.9 L119.5,524.9 L120.2,525.0 L120.9,525.0 L121.6,525.0 L122.3,525.0 L123.0,525.0 L123.8,525.0 L124.5,525.0 L125.2,525.0 L125.9,525.0 L126.6,525.0 L127.4,525.0 L128.1,524.9 L128.8,524.9 L129.5,524.9 L130.2,524.9 L130.9,524.9 L131.7,524.9 L132.4,524.9 L133.1,524.9 L133.8,524.9 L134.5,524.9 L135.3,524.9 L136.0,524.9 L136.7,524.9 L137.4,524.9 L138.1,524.9 L138.8,524.9 L139.6,524.9 L140.3,524.9 L141.0,524.9 L141.7,524.9 L142.4,524.9 L143.2,524.9 L143.9,524.9 L144.6,524.9 L145.3,525.0 L146.0,525.0 L146.7,525.0 L147.5,525.0 L148.2,525.0 L148.9,525.0 L149.6,525.0 L150.3,525.0 L151.1,525.0 L151.8,525.0 L152.5,525.1 L153.2,525.1 L153.9,525.1 L154.7,525.1 L155.4,525.1 L156.1,525.1 L156.8,525.1 L157.5,525.2 L158.2,525.2 L159.0,525.2 L159.7,525.2 L160.4,525.2 L161.1,525.3 L161.8,525.3 L162.6,525.3 L163.3,525.3 L164.0,525.4 L164.7,525.4 L165.4,525.4 L166.1,525.5 L166.9,525.5 L167.6,525.5 L168.3,525.6 L169.0,525.6 L169.7,525.7 L170.5,525.7 L171.2,525.8 L171.9,525.8 L172.6,525.9 L173.3,525.9 L174.0,526.0 L174.8,526.1 L175.5,526.1 L176.2,526.2 L176.9,526.2 L177.6,526.3 L178.4,526.3 L179.1,526.4 L179.8,526.4 L180.5,526.5 L181.2,526.5 L181.9,526.6 L182.7,526.6 L183.4,526.7 L184.1,526.7 L184.8,526.8 L185.5,526.8 L186.3,526.9 L187.0,526.9 L187.7,526.9 L188.4,527.0 L189.1,527.0" fill="none" stroke="#9fbfba" stroke-width="2.2" stroke-linejoin="round"/>
<path d="M45.5,460.5 L46.2,464.8 L46.9,471.0 L47.6,477.3 L48.3,482.8 L49.1,488.0 L49.8,492.9 L50.5,497.0 L51.2,500.3 L51.9,503.2 L52.7,505.8 L53.4,507.8 L54.1,509.2 L54.8,510.3 L55.5,511.3 L56.2,512.0 L57.0,512.4 L57.7,512.4 L58.4,511.8 L59.1,511.0 L59.8,510.4 L60.6,510.0 L61.3,509.6 L62.0,509.4 L62.7,509.3 L63.4,509.4 L64.1,509.8 L64.9,510.4 L65.6,511.1 L66.3,511.8 L67.0,512.4 L67.7,512.9 L68.5,513.4 L69.2,513.9 L69.9,514.4 L70.6,514.9 L71.3,515.3 L72.0,515.6 L72.8,515.9 L73.5,516.1 L74.2,516.3 L74.9,516.5 L75.6,516.7 L76.4,516.8 L77.1,517.0 L77.8,517.2 L78.5,517.5 L79.2,517.7 L79.9,517.9 L80.7,518.1 L81.4,518.4 L82.1,518.6 L82.8,518.9 L83.5,519.1 L84.3,519.4 L85.0,519.6 L85.7,519.9 L86.4,520.1 L87.1,520.3 L87.9,520.6 L88.6,520.8 L89.3,520.9 L90.0,521.1 L90.7,521.3 L91.4,521.5 L92.2,521.7 L92.9,521.8 L93.6,522.0 L94.3,522.1 L95.0,522.3 L95.8,522.4 L96.5,522.5 L97.2,522.7 L97.9,522.8 L98.6,522.9 L99.3,522.9 L100.1,523.0 L100.8,523.0 L101.5,523.1 L102.2,523.1 L102.9,523.2 L103.7,523.2 L104.4,523.3 L105.1,523.3 L105.8,523.3 L106.5,523.4 L107.2,523.4 L108.0,523.5 L108.7,523.5 L109.4,523.5 L110.1,523.6 L110.8,523.6 L111.6,523.6 L112.3,523.7 L113.0,523.7 L113.7,523.7 L114.4,523.8 L115.1,523.8 L115.9,523.8 L116.6,523.8 L117.3,523.9 L118.0,523.9 L118.7,523.9 L119.5,523.9 L120.2,524.0 L120.9,524.0 L121.6,524.0 L122.3,524.0 L123.0,524.0 L123.8,524.0 L124.5,524.1 L125.2,524.1 L125.9,524.1 L126.6,524.1 L127.4,524.1 L128.1,524.1 L128.8,524.2 L129.5,524.2 L130.2,524.2 L130.9,524.2 L131.7,524.2 L132.4,524.2 L133.1,524.2 L133.8,524.2 L134.5,524.3 L135.3,524.3 L136.0,524.3 L136.7,524.3 L137.4,524.3 L138.1,524.3 L138.8,524.3 L139.6,524.4 L140.3,524.4 L141.0,524.4 L141.7,524.4 L142.4,524.4 L143.2,524.4 L143.9,524.4 L144.6,524.5 L145.3,524.5 L146.0,524.5 L146.7,524.5 L147.5,524.5 L148.2,524.5 L148.9,524.5 L149.6,524.5 L150.3,524.6 L151.1,524.6 L151.8,524.6 L152.5,524.6 L153.2,524.6 L153.9,524.6 L154.7,524.6 L155.4,524.7 L156.1,524.7 L156.8,524.7 L157.5,524.7 L158.2,524.7 L159.0,524.7 L159.7,524.8 L160.4,524.8 L161.1,524.8 L161.8,524.8 L162.6,524.8 L163.3,524.8 L164.0,524.9 L164.7,524.9 L165.4,524.9 L166.1,524.9 L166.9,525.0 L167.6,525.0 L168.3,525.0 L169.0,525.1 L169.7,525.1 L170.5,525.1 L171.2,525.2 L171.9,525.2 L172.6,525.2 L173.3,525.3 L174.0,525.3 L174.8,525.3 L175.5,525.4 L176.2,525.4 L176.9,525.4 L177.6,525.5 L178.4,525.5 L179.1,525.6 L179.8,525.6 L180.5,525.6 L181.2,525.7 L181.9,525.7 L182.7,525.7 L183.4,525.8 L184.1,525.8 L184.8,525.8 L185.5,525.8 L186.3,525.9 L187.0,525.9 L187.7,525.9 L188.4,525.9 L189.1,525.9" fill="none" stroke="#a8a8a8" stroke-width="1.1" stroke-linejoin="round"/>
<path d="M45.5,455.3 L46.2,460.4 L46.9,467.7 L47.6,475.0 L48.3,481.0 L49.1,486.6 L49.8,491.7 L50.5,496.0 L51.2,499.3 L51.9,502.1 L52.7,504.7 L53.4,506.8 L54.1,508.3 L54.8,509.7 L55.5,510.9 L56.2,511.9 L57.0,512.4 L57.7,512.5 L58.4,511.9 L59.1,511.0 L59.8,510.4 L60.6,510.0 L61.3,509.6 L62.0,509.4 L62.7,509.3 L63.4,509.4 L64.1,509.8 L64.9,510.4 L65.6,511.1 L66.3,511.8 L67.0,512.4 L67.7,512.9 L68.5,513.4 L69.2,513.9 L69.9,514.4 L70.6,514.9 L71.3,515.3 L72.0,515.6 L72.8,515.9 L73.5,516.2 L74.2,516.4 L74.9,516.7 L75.6,516.9 L76.4,517.2 L77.1,517.3 L77.8,517.5 L78.5,517.6 L79.2,517.7 L79.9,517.7 L80.7,517.8 L81.4,517.8 L82.1,517.8 L82.8,517.8 L83.5,517.7 L84.3,517.6 L85.0,517.3 L85.7,516.9 L86.4,516.4 L87.1,515.3 L87.9,514.0 L88.6,512.4 L89.3,510.8 L90.0,509.4 L90.7,508.2 L91.4,507.4 L92.2,507.3 L92.9,507.8 L93.6,508.9 L94.3,510.5 L95.0,512.4 L95.8,514.4 L96.5,516.3 L97.2,518.0 L97.9,519.4 L98.6,520.4 L99.3,521.2 L100.1,521.8 L100.8,522.2 L101.5,522.4 L102.2,522.6 L102.9,522.8 L103.7,522.9 L104.4,523.0 L105.1,523.0 L105.8,523.0 L106.5,523.0 L107.2,523.1 L108.0,523.1 L108.7,523.1 L109.4,523.0 L110.1,523.0 L110.8,523.0 L111.6,523.0 L112.3,523.0 L113.0,522.9 L113.7,522.9 L114.4,522.9 L115.1,522.9 L115.9,522.8 L116.6,522.8 L117.3,522.8 L118.0,522.8 L118.7,522.8 L119.5,522.8 L120.2,522.8 L120.9,522.8 L121.6,522.8 L122.3,522.8 L123.0,522.9 L123.8,522.9 L124.5,522.9 L125.2,522.9 L125.9,522.9 L126.6,522.9 L127.4,522.9 L128.1,522.9 L128.8,522.9 L129.5,522.9 L130.2,522.9 L130.9,522.9 L131.7,522.9 L132.4,522.9 L133.1,522.9 L133.8,522.9 L134.5,522.9 L135.3,522.9 L136.0,522.9 L136.7,522.9 L137.4,522.9 L138.1,522.9 L138.8,522.9 L139.6,522.9 L140.3,522.8 L141.0,522.8 L141.7,522.8 L142.4,522.8 L143.2,522.7 L143.9,522.7 L144.6,522.6 L145.3,522.5 L146.0,522.4 L146.7,522.4 L147.5,522.3 L148.2,522.2 L148.9,522.1 L149.6,522.1 L150.3,522.0 L151.1,521.9 L151.8,521.9 L152.5,521.8 L153.2,521.8 L153.9,521.8 L154.7,521.7 L155.4,521.7 L156.1,521.7 L156.8,521.7 L157.5,521.7 L158.2,521.7 L159.0,521.7 L159.7,521.7 L160.4,521.7 L161.1,521.8 L161.8,521.8 L162.6,521.8 L163.3,521.8 L164.0,521.8 L164.7,521.8 L165.4,521.8 L166.1,521.8 L166.9,521.8 L167.6,521.7 L168.3,521.7 L169.0,521.6 L169.7,521.6 L170.5,521.6 L171.2,521.6 L171.9,521.6 L172.6,521.6 L173.3,521.6 L174.0,521.7 L174.8,521.8 L175.5,521.9 L176.2,522.0 L176.9,522.1 L177.6,522.3 L178.4,522.4 L179.1,522.6 L179.8,522.8 L180.5,523.0 L181.2,523.2 L181.9,523.4 L182.7,523.5 L183.4,523.7 L184.1,523.9 L184.8,524.1 L185.5,524.3 L186.3,524.4 L187.0,524.6 L187.7,524.7 L188.4,524.8 L189.1,524.9" fill="none" stroke="#5b9bd5" stroke-width="1.1" stroke-linejoin="round"/>
<path d="M45.5,453.3 L46.2,458.6 L46.9,466.2 L47.6,473.9 L48.3,480.1 L49.1,485.6 L49.8,490.7 L50.5,494.9 L51.2,498.2 L51.9,501.0 L52.7,503.6 L53.4,505.8 L54.1,507.5 L54.8,509.1 L55.5,510.6 L56.2,511.7 L57.0,512.4 L57.7,512.6 L58.4,511.9 L59.1,511.0 L59.8,510.4 L60.6,510.0 L61.3,509.6 L62.0,509.4 L62.7,509.3 L63.4,509.4 L64.1,509.8 L64.9,510.4 L65.6,511.1 L66.3,511.8 L67.0,512.4 L67.7,512.9 L68.5,513.4 L69.2,513.9 L69.9,514.4 L70.6,514.9 L71.3,515.3 L72.0,515.6 L72.8,515.9 L73.5,516.1 L74.2,516.3 L74.9,516.5 L75.6,516.7 L76.4,516.9 L77.1,517.1 L77.8,517.3 L78.5,517.5 L79.2,517.7 L79.9,517.9 L80.7,518.0 L81.4,518.2 L82.1,518.4 L82.8,518.5 L83.5,518.7 L84.3,518.9 L85.0,519.0 L85.7,519.2 L86.4,519.3 L87.1,519.5 L87.9,519.6 L88.6,519.7 L89.3,519.8 L90.0,520.0 L90.7,520.1 L91.4,520.3 L92.2,520.4 L92.9,520.5 L93.6,520.7 L94.3,520.8 L95.0,520.8 L95.8,520.9 L96.5,520.9 L97.2,520.9 L97.9,520.8 L98.6,520.7 L99.3,520.5 L100.1,520.3 L100.8,520.0 L101.5,519.8 L102.2,519.5 L102.9,519.1 L103.7,518.8 L104.4,518.4 L105.1,518.0 L105.8,517.6 L106.5,517.3 L107.2,516.9 L108.0,516.4 L108.7,515.8 L109.4,515.2 L110.1,514.5 L110.8,513.8 L111.6,513.1 L112.3,512.4 L113.0,511.8 L113.7,511.2 L114.4,510.7 L115.1,510.2 L115.9,509.6 L116.6,509.1 L117.3,508.7 L118.0,508.5 L118.7,508.3 L119.5,508.3 L120.2,508.4 L120.9,508.6 L121.6,508.9 L122.3,509.4 L123.0,509.9 L123.8,510.6 L124.5,511.4 L125.2,512.1 L125.9,512.8 L126.6,513.7 L127.4,514.6 L128.1,515.6 L128.8,516.5 L129.5,517.4 L130.2,518.3 L130.9,519.1 L131.7,519.7 L132.4,520.1 L133.1,520.5 L133.8,520.8 L134.5,521.1 L135.3,521.3 L136.0,521.5 L136.7,521.7 L137.4,521.9 L138.1,522.1 L138.8,522.2 L139.6,522.4 L140.3,522.6 L141.0,522.8 L141.7,522.9 L142.4,523.0 L143.2,523.0 L143.9,523.1 L144.6,523.2 L145.3,523.3 L146.0,523.3 L146.7,523.4 L147.5,523.5 L148.2,523.5 L148.9,523.6 L149.6,523.7 L150.3,523.7 L151.1,523.8 L151.8,523.9 L152.5,523.9 L153.2,524.0 L153.9,524.1 L154.7,524.1 L155.4,524.2 L156.1,524.2 L156.8,524.3 L157.5,524.4 L158.2,524.4 L159.0,524.5 L159.7,524.5 L160.4,524.6 L161.1,524.6 L161.8,524.7 L162.6,524.7 L163.3,524.8 L164.0,524.8 L164.7,524.9 L165.4,524.9 L166.1,525.0 L166.9,525.0 L167.6,525.1 L168.3,525.1 L169.0,525.1 L169.7,525.2 L170.5,525.2 L171.2,525.3 L171.9,525.3 L172.6,525.3 L173.3,525.4 L174.0,525.4 L174.8,525.4 L175.5,525.5 L176.2,525.5 L176.9,525.5 L177.6,525.6 L178.4,525.6 L179.1,525.6 L179.8,525.7 L180.5,525.7 L181.2,525.7 L181.9,525.7 L182.7,525.8 L183.4,525.8 L184.1,525.8 L184.8,525.8 L185.5,525.9 L186.3,525.9 L187.0,525.9 L187.7,525.9 L188.4,525.9 L189.1,525.9" fill="none" stroke="#8a5ad0" stroke-width="1.1" stroke-linejoin="round"/>
<path d="M45.5,444.9 L46.2,445.9 L46.9,447.1 L47.6,448.6 L48.3,450.3 L49.1,452.2 L49.8,454.3 L50.5,457.1 L51.2,460.3 L51.9,463.8 L52.7,467.3 L53.4,470.9 L54.1,474.8 L54.8,479.0 L55.5,483.2 L56.2,486.9 L57.0,489.6 L57.7,491.4 L58.4,492.0 L59.1,492.1 L59.8,492.2 L60.6,492.3 L61.3,492.1 L62.0,492.4 L62.7,493.2 L63.4,494.3 L64.1,495.7 L64.9,497.1 L65.6,498.4 L66.3,499.6 L67.0,500.5 L67.7,501.2 L68.5,501.8 L69.2,502.3 L69.9,502.9 L70.6,503.4 L71.3,503.9 L72.0,504.4 L72.8,504.8 L73.5,505.2 L74.2,505.5 L74.9,505.9 L75.6,506.3 L76.4,506.7 L77.1,507.1 L77.8,507.6 L78.5,508.1 L79.2,508.6 L79.9,509.1 L80.7,509.6 L81.4,510.2 L82.1,510.7 L82.8,511.3 L83.5,511.9 L84.3,512.5 L85.0,513.1 L85.7,513.7 L86.4,514.3 L87.1,514.8 L87.9,515.3 L88.6,515.7 L89.3,516.0 L90.0,516.3 L90.7,516.6 L91.4,516.9 L92.2,517.2 L92.9,517.4 L93.6,517.7 L94.3,517.9 L95.0,518.2 L95.8,518.4 L96.5,518.6 L97.2,518.8 L97.9,519.0 L98.6,519.2 L99.3,519.4 L100.1,519.6 L100.8,519.8 L101.5,519.9 L102.2,520.0 L102.9,520.1 L103.7,520.2 L104.4,520.3 L105.1,520.4 L105.8,520.5 L106.5,520.6 L107.2,520.6 L108.0,520.7 L108.7,520.8 L109.4,520.9 L110.1,520.9 L110.8,521.0 L111.6,521.1 L112.3,521.2 L113.0,521.2 L113.7,521.3 L114.4,521.4 L115.1,521.5 L115.9,521.6 L116.6,521.7 L117.3,521.8 L118.0,521.9 L118.7,522.0 L119.5,522.0 L120.2,522.1 L120.9,522.2 L121.6,522.3 L122.3,522.4 L123.0,522.5 L123.8,522.6 L124.5,522.7 L125.2,522.8 L125.9,522.9 L126.6,523.0 L127.4,523.1 L128.1,523.2 L128.8,523.3 L129.5,523.4 L130.2,523.6 L130.9,523.7 L131.7,523.8 L132.4,523.9 L133.1,524.0 L133.8,524.1 L134.5,524.2 L135.3,524.3 L136.0,524.3 L136.7,524.4 L137.4,524.5 L138.1,524.6 L138.8,524.7 L139.6,524.8 L140.3,524.8 L141.0,524.9 L141.7,524.9 L142.4,525.0 L143.2,525.1 L143.9,525.1 L144.6,525.2 L145.3,525.2 L146.0,525.2 L146.7,525.3 L147.5,525.3 L148.2,525.3 L148.9,525.4 L149.6,525.4 L150.3,525.4 L151.1,525.4 L151.8,525.5 L152.5,525.5 L153.2,525.5 L153.9,525.5 L154.7,525.5 L155.4,525.5 L156.1,525.6 L156.8,525.6 L157.5,525.6 L158.2,525.6 L159.0,525.7 L159.7,525.7 L160.4,525.7 L161.1,525.7 L161.8,525.8 L162.6,525.8 L163.3,525.8 L164.0,525.9 L164.7,525.9 L165.4,526.0 L166.1,526.0 L166.9,526.1 L167.6,526.1 L168.3,526.2 L169.0,526.2 L169.7,526.3 L170.5,526.4 L171.2,526.4 L171.9,526.5 L172.6,526.6 L173.3,526.7 L174.0,526.7 L174.8,526.8 L175.5,526.9 L176.2,527.0 L176.9,527.0 L177.6,527.1 L178.4,527.2 L179.1,527.2 L179.8,527.3 L180.5,527.4 L181.2,527.5 L181.9,527.5 L182.7,527.6 L183.4,527.6 L184.1,527.7 L184.8,527.8 L185.5,527.8 L186.3,527.9 L187.0,527.9 L187.7,528.0 L188.4,528.0 L189.1,528.0" fill="none" stroke="#222222" stroke-width="1.0" stroke-linejoin="round"/>
<path d="M45.5,438.1 L46.2,437.5 L46.9,436.8 L47.6,436.5 L48.3,436.4 L49.1,436.8 L49.8,437.7 L50.5,438.6 L51.2,438.8 L51.9,438.8 L52.7,438.3 L53.4,437.2 L54.1,435.3 L54.8,433.0 L55.5,430.9 L56.2,429.7 L57.0,428.8 L57.7,428.2 L58.4,427.9 L59.1,427.8 L59.8,428.2 L60.6,429.0 L61.3,430.4 L62.0,432.4 L62.7,435.0 L63.4,437.8 L64.1,440.7 L64.9,443.4 L65.6,446.3 L66.3,449.8 L67.0,454.6 L67.7,460.7 L68.5,467.0 L69.2,472.5 L69.9,477.3 L70.6,481.8 L71.3,486.1 L72.0,489.6 L72.8,492.7 L73.5,495.7 L74.2,498.6 L74.9,501.2 L75.6,503.0 L76.4,504.3 L77.1,505.5 L77.8,506.7 L78.5,507.8 L79.2,508.8 L79.9,509.8 L80.7,510.8 L81.4,511.6 L82.1,512.2 L82.8,512.7 L83.5,513.3 L84.3,513.8 L85.0,514.3 L85.7,514.8 L86.4,515.2 L87.1,515.7 L87.9,516.1 L88.6,516.5 L89.3,516.9 L90.0,517.3 L90.7,517.6 L91.4,517.9 L92.2,518.1 L92.9,518.3 L93.6,518.5 L94.3,518.7 L95.0,518.9 L95.8,519.0 L96.5,519.2 L97.2,519.4 L97.9,519.5 L98.6,519.7 L99.3,519.8 L100.1,519.9 L100.8,520.1 L101.5,520.2 L102.2,520.3 L102.9,520.4 L103.7,520.5 L104.4,520.6 L105.1,520.8 L105.8,520.9 L106.5,521.0 L107.2,521.1 L108.0,521.2 L108.7,521.3 L109.4,521.4 L110.1,521.4 L110.8,521.5 L111.6,521.6 L112.3,521.6 L113.0,521.7 L113.7,521.7 L114.4,521.7 L115.1,521.8 L115.9,521.8 L116.6,521.8 L117.3,521.8 L118.0,521.8 L118.7,521.8 L119.5,521.8 L120.2,521.7 L120.9,521.7 L121.6,521.7 L122.3,521.6 L123.0,521.6 L123.8,521.5 L124.5,521.4 L125.2,521.3 L125.9,521.3 L126.6,521.2 L127.4,521.1 L128.1,521.0 L128.8,520.8 L129.5,520.7 L130.2,520.6 L130.9,520.5 L131.7,520.3 L132.4,520.2 L133.1,520.0 L133.8,519.9 L134.5,519.7 L135.3,519.5 L136.0,519.3 L136.7,519.1 L137.4,518.9 L138.1,518.7 L138.8,518.5 L139.6,518.3 L140.3,518.0 L141.0,517.7 L141.7,517.4 L142.4,517.2 L143.2,516.8 L143.9,516.5 L144.6,516.2 L145.3,515.8 L146.0,515.5 L146.7,515.1 L147.5,514.7 L148.2,514.3 L148.9,513.9 L149.6,513.5 L150.3,513.1 L151.1,512.7 L151.8,512.3 L152.5,511.8 L153.2,511.4 L153.9,511.0 L154.7,510.5 L155.4,510.0 L156.1,509.5 L156.8,509.0 L157.5,508.5 L158.2,508.0 L159.0,507.5 L159.7,507.0 L160.4,506.4 L161.1,505.9 L161.8,505.4 L162.6,504.9 L163.3,504.4 L164.0,503.9 L164.7,503.4 L165.4,502.9 L166.1,502.5 L166.9,502.0 L167.6,501.5 L168.3,501.0 L169.0,500.5 L169.7,500.0 L170.5,499.5 L171.2,499.1 L171.9,498.6 L172.6,498.2 L173.3,497.7 L174.0,497.3 L174.8,496.9 L175.5,496.6 L176.2,496.2 L176.9,495.9 L177.6,495.6 L178.4,495.3 L179.1,495.0 L179.8,494.8 L180.5,494.6 L181.2,494.4 L181.9,494.3 L182.7,494.2 L183.4,494.1 L184.1,494.0 L184.8,493.9 L185.5,493.9 L186.3,493.8 L187.0,493.7 L187.7,493.8 L188.4,494.1 L189.1,494.3" fill="none" stroke="#e2474d" stroke-width="1.1" stroke-linejoin="round"/>
</g>
<line x1="52.18" y1="437.68" x2="70.61" y2="437.68" stroke="#e2474d" stroke-width="0.7" stroke-dasharray="1,1.3"/>
<path d="M66.20,434.60 L69.50,436.40 L66.20,438.20 Z" fill="#e2474d"/>
<path d="M59.50,426.50 L62.00,424.30 L62.20,427.60 Z" fill="#e2474d"/>
<text x="62.50" y="423.20" font-size="6.3" fill="#d8343c"><tspan>[Cu-Cl</tspan><tspan dy="1.76" font-size="3.91">4</tspan><tspan dy="-1.76">]</tspan><tspan dy="-2.52" font-size="3.91">2-</tspan></text>
<text x="70.00" y="438.60" font-size="6.3" fill="#d8343c"><tspan>[Cu-(H</tspan><tspan dy="1.76" font-size="3.91">2</tspan><tspan dy="-1.76">O)</tspan><tspan dy="1.76" font-size="3.91">6</tspan><tspan dy="-1.76">]</tspan><tspan dy="-2.52" font-size="3.91">2+</tspan></text>
<text x="39.80" y="467.00" font-size="6"></text>
<text x="79.60" y="502.30" font-size="6.3" fill="#4a7ec0"><tspan>[Ni-(H</tspan><tspan dy="1.76" font-size="3.91">2</tspan><tspan dy="-1.76">O)</tspan><tspan dy="1.76" font-size="3.91">6</tspan><tspan dy="-1.76">]</tspan><tspan dy="-2.52" font-size="3.91">2+</tspan></text>
<text x="114.20" y="502.30" font-size="6.3" fill="#6a48b0"><tspan>[Co-(H</tspan><tspan dy="1.76" font-size="3.91">2</tspan><tspan dy="-1.76">O)</tspan><tspan dy="1.76" font-size="3.91">6</tspan><tspan dy="-1.76">]</tspan><tspan dy="-2.52" font-size="3.91">2+</tspan></text>
<rect x="33.50" y="408.60" width="167.60" height="135.00" fill="none" stroke="#2a2a2a" stroke-width="1.1"/>
<line x1="33.50" y1="533.22" x2="35.90" y2="533.22" stroke="#111" stroke-width="0.9"/>
<text x="31.10" y="536.12" font-size="9.5" text-anchor="end" stroke="#000" stroke-width="0.13"><tspan>0.2</tspan></text>
<line x1="33.50" y1="512.45" x2="35.90" y2="512.45" stroke="#111" stroke-width="0.9"/>
<text x="31.10" y="515.35" font-size="9.5" text-anchor="end" stroke="#000" stroke-width="0.13"><tspan>0.4</tspan></text>
<line x1="33.50" y1="491.68" x2="35.90" y2="491.68" stroke="#111" stroke-width="0.9"/>
<text x="31.10" y="494.58" font-size="9.5" text-anchor="end" stroke="#000" stroke-width="0.13"><tspan>0.6</tspan></text>
<line x1="33.50" y1="470.91" x2="35.90" y2="470.91" stroke="#111" stroke-width="0.9"/>
<text x="31.10" y="473.81" font-size="9.5" text-anchor="end" stroke="#000" stroke-width="0.13"><tspan>0.8</tspan></text>
<line x1="33.50" y1="450.14" x2="35.90" y2="450.14" stroke="#111" stroke-width="0.9"/>
<text x="31.10" y="453.04" font-size="9.5" text-anchor="end" stroke="#000" stroke-width="0.13"><tspan>1.0</tspan></text>
<line x1="33.50" y1="429.37" x2="35.90" y2="429.37" stroke="#111" stroke-width="0.9"/>
<text x="31.10" y="432.27" font-size="9.5" text-anchor="end" stroke="#000" stroke-width="0.13"><tspan>1.2</tspan></text>
<line x1="33.50" y1="408.60" x2="35.90" y2="408.60" stroke="#111" stroke-width="0.9"/>
<text x="31.10" y="411.50" font-size="9.5" text-anchor="end" stroke="#000" stroke-width="0.13"><tspan>1.4</tspan></text>
<line x1="33.50" y1="543.60" x2="34.90" y2="543.60" stroke="#111" stroke-width="0.8"/>
<line x1="33.50" y1="522.83" x2="34.90" y2="522.83" stroke="#111" stroke-width="0.8"/>
<line x1="33.50" y1="502.06" x2="34.90" y2="502.06" stroke="#111" stroke-width="0.8"/>
<line x1="33.50" y1="481.29" x2="34.90" y2="481.29" stroke="#111" stroke-width="0.8"/>
<line x1="33.50" y1="460.52" x2="34.90" y2="460.52" stroke="#111" stroke-width="0.8"/>
<line x1="33.50" y1="439.75" x2="34.90" y2="439.75" stroke="#111" stroke-width="0.8"/>
<line x1="33.50" y1="418.98" x2="34.90" y2="418.98" stroke="#111" stroke-width="0.8"/>
<line x1="45.47" y1="543.60" x2="45.47" y2="541.20" stroke="#111" stroke-width="0.9"/>
<text x="45.47" y="553.70" font-size="9.5" text-anchor="middle" stroke="#000" stroke-width="0.13"><tspan>200</tspan></text>
<line x1="33.50" y1="543.60" x2="33.50" y2="542.20" stroke="#111" stroke-width="0.8"/>
<line x1="69.41" y1="543.60" x2="69.41" y2="541.20" stroke="#111" stroke-width="0.9"/>
<text x="69.41" y="553.70" font-size="9.5" text-anchor="middle" stroke="#000" stroke-width="0.13"><tspan>300</tspan></text>
<line x1="57.44" y1="543.60" x2="57.44" y2="542.20" stroke="#111" stroke-width="0.8"/>
<line x1="93.36" y1="543.60" x2="93.36" y2="541.20" stroke="#111" stroke-width="0.9"/>
<text x="93.36" y="553.70" font-size="9.5" text-anchor="middle" stroke="#000" stroke-width="0.13"><tspan>400</tspan></text>
<line x1="81.39" y1="543.60" x2="81.39" y2="542.20" stroke="#111" stroke-width="0.8"/>
<line x1="117.30" y1="543.60" x2="117.30" y2="541.20" stroke="#111" stroke-width="0.9"/>
<text x="117.30" y="553.70" font-size="9.5" text-anchor="middle" stroke="#000" stroke-width="0.13"><tspan>500</tspan></text>
<line x1="105.33" y1="543.60" x2="105.33" y2="542.20" stroke="#111" stroke-width="0.8"/>
<line x1="141.24" y1="543.60" x2="141.24" y2="541.20" stroke="#111" stroke-width="0.9"/>
<text x="141.24" y="553.70" font-size="9.5" text-anchor="middle" stroke="#000" stroke-width="0.13"><tspan>600</tspan></text>
<line x1="129.27" y1="543.60" x2="129.27" y2="542.20" stroke="#111" stroke-width="0.8"/>
<line x1="165.19" y1="543.60" x2="165.19" y2="541.20" stroke="#111" stroke-width="0.9"/>
<text x="165.19" y="553.70" font-size="9.5" text-anchor="middle" stroke="#000" stroke-width="0.13"><tspan>700</tspan></text>
<line x1="153.21" y1="543.60" x2="153.21" y2="542.20" stroke="#111" stroke-width="0.8"/>
<line x1="189.13" y1="543.60" x2="189.13" y2="541.20" stroke="#111" stroke-width="0.9"/>
<text x="189.13" y="553.70" font-size="9.5" text-anchor="middle" stroke="#000" stroke-width="0.13"><tspan>800</tspan></text>
<line x1="177.16" y1="543.60" x2="177.16" y2="542.20" stroke="#111" stroke-width="0.8"/>
<text x="117.10" y="564.40" font-size="11.5" text-anchor="middle" stroke="#000" stroke-width="0.16"><tspan>Wavelength (nm)</tspan></text>
<text x="12.50" y="471.80" font-size="11.5" text-anchor="middle" stroke="#000" stroke-width="0.16" transform="rotate(-90 12.50 471.80)"><tspan>Absorbance (a. u.)</tspan></text>
<line x1="141.50" y1="415.30" x2="156.60" y2="415.30" stroke="#333333" stroke-width="1.1"/>
<text x="158.00" y="417.60" font-size="6.5" fill="#111"><tspan>Pure PVA</tspan></text>
<line x1="141.50" y1="423.10" x2="156.60" y2="423.10" stroke="#c0c0c0" stroke-width="1.5"/>
<text x="158.00" y="425.40" font-size="6.5" fill="#111"><tspan>PVA-CaCl</tspan><tspan dy="1.82" font-size="4.03">2</tspan></text>
<line x1="141.50" y1="432.10" x2="156.60" y2="432.10" stroke="#f0c8b0" stroke-width="1.5"/>
<text x="158.00" y="434.40" font-size="6.5" fill="#111"><tspan>PVA-ZnCl</tspan><tspan dy="1.82" font-size="4.03">2</tspan></text>
<line x1="141.50" y1="441.50" x2="156.60" y2="441.50" stroke="#80b8b0" stroke-width="1.5"/>
<text x="158.00" y="443.80" font-size="6.5" fill="#111"><tspan>PVA-MgCl</tspan><tspan dy="1.82" font-size="4.03">2</tspan></text>
<line x1="141.50" y1="450.40" x2="156.60" y2="450.40" stroke="#8a58d8" stroke-width="1.5"/>
<text x="158.00" y="452.70" font-size="6.5" fill="#111"><tspan>PVA-CoCl</tspan><tspan dy="1.82" font-size="4.03">2</tspan></text>
<line x1="141.50" y1="459.50" x2="156.60" y2="459.50" stroke="#80a8d8" stroke-width="1.5"/>
<text x="158.00" y="461.80" font-size="6.5" fill="#111"><tspan>PVA-NiCl</tspan><tspan dy="1.82" font-size="4.03">2</tspan></text>
<line x1="141.50" y1="468.90" x2="156.60" y2="468.90" stroke="#e87078" stroke-width="1.5"/>
<text x="158.00" y="471.20" font-size="6.5" fill="#111"><tspan>PVA-CuCl</tspan><tspan dy="1.82" font-size="4.03">2</tspan></text>
<defs><linearGradient id="hg0" x1="0" y1="0" x2="0" y2="1"><stop offset="0" stop-color="#d2d2d2"/><stop offset="1" stop-color="#a9a9a9"/></linearGradient><linearGradient id="hg1" x1="0" y1="0" x2="0" y2="1"><stop offset="0" stop-color="#efe3cf"/><stop offset="1" stop-color="#c9a267"/></linearGradient><linearGradient id="hg2" x1="0" y1="0" x2="0" y2="1"><stop offset="0" stop-color="#b4d6cf"/><stop offset="1" stop-color="#9cc8bf"/></linearGradient><linearGradient id="hg3" x1="0" y1="0" x2="0" y2="1"><stop offset="0" stop-color="#dccbee"/><stop offset="1" stop-color="#9878d2"/></linearGradient><linearGradient id="hg4" x1="0" y1="0" x2="0" y2="1"><stop offset="0" stop-color="#cadcf0"/><stop offset="1" stop-color="#86afdb"/></linearGradient><linearGradient id="hg5" x1="0" y1="0" x2="0" y2="1"><stop offset="0" stop-color="#e5737b"/><stop offset="1" stop-color="#f7d2d6"/></linearGradient></defs>
<rect x="270.20" y="510.77" width="8.70" height="34.12" fill="url(#hg0)"/>
<rect x="298.20" y="521.01" width="8.70" height="23.89" fill="url(#hg1)"/>
<rect x="326.50" y="518.28" width="8.70" height="26.62" fill="url(#hg2)"/>
<rect x="354.80" y="497.12" width="8.70" height="47.77" fill="url(#hg3)"/>
<rect x="383.20" y="528.86" width="8.70" height="16.04" fill="url(#hg4)"/>
<rect x="411.40" y="440.82" width="8.70" height="104.08" fill="url(#hg5)"/>
<line x1="415.75" y1="439.45" x2="415.75" y2="441.84" stroke="#d83040" stroke-width="0.8"/>
<line x1="413.60" y1="439.45" x2="417.90" y2="439.45" stroke="#d83040" stroke-width="0.8"/>
<rect x="260.90" y="408.40" width="169.00" height="136.50" fill="none" stroke="#2a2a2a" stroke-width="1.1"/>
<line x1="260.90" y1="544.90" x2="263.30" y2="544.90" stroke="#111" stroke-width="0.9"/>
<text x="258.30" y="548.10" font-size="9.5" text-anchor="end" stroke="#000" stroke-width="0.13"><tspan>0</tspan></text>
<line x1="260.90" y1="527.84" x2="262.30" y2="527.84" stroke="#111" stroke-width="0.8"/>
<line x1="260.90" y1="510.77" x2="263.30" y2="510.77" stroke="#111" stroke-width="0.9"/>
<text x="258.30" y="513.98" font-size="9.5" text-anchor="end" stroke="#000" stroke-width="0.13"><tspan>-10</tspan></text>
<line x1="260.90" y1="493.71" x2="262.30" y2="493.71" stroke="#111" stroke-width="0.8"/>
<line x1="260.90" y1="476.65" x2="263.30" y2="476.65" stroke="#111" stroke-width="0.9"/>
<text x="258.30" y="479.85" font-size="9.5" text-anchor="end" stroke="#000" stroke-width="0.13"><tspan>-20</tspan></text>
<line x1="260.90" y1="459.59" x2="262.30" y2="459.59" stroke="#111" stroke-width="0.8"/>
<line x1="260.90" y1="442.52" x2="263.30" y2="442.52" stroke="#111" stroke-width="0.9"/>
<text x="258.30" y="445.72" font-size="9.5" text-anchor="end" stroke="#000" stroke-width="0.13"><tspan>-30</tspan></text>
<line x1="260.90" y1="425.46" x2="262.30" y2="425.46" stroke="#111" stroke-width="0.8"/>
<line x1="260.90" y1="408.40" x2="263.30" y2="408.40" stroke="#111" stroke-width="0.9"/>
<text x="258.30" y="411.60" font-size="9.5" text-anchor="end" stroke="#000" stroke-width="0.13"><tspan>-40</tspan></text>
<text x="284.55" y="552.00" font-size="9.0" text-anchor="end" stroke="#000" stroke-width="0.13" transform="rotate(-45 284.55 552.00)"><tspan>CaCl</tspan><tspan dy="2.52" font-size="5.58">2</tspan></text>
<text x="312.55" y="552.00" font-size="9.0" text-anchor="end" stroke="#000" stroke-width="0.13" transform="rotate(-45 312.55 552.00)"><tspan>ZnCl</tspan><tspan dy="2.52" font-size="5.58">2</tspan></text>
<text x="340.85" y="552.00" font-size="9.0" text-anchor="end" stroke="#000" stroke-width="0.13" transform="rotate(-45 340.85 552.00)"><tspan>MgCl</tspan><tspan dy="2.52" font-size="5.58">2</tspan></text>
<text x="369.15" y="552.00" font-size="9.0" text-anchor="end" stroke="#000" stroke-width="0.13" transform="rotate(-45 369.15 552.00)"><tspan>CoCl</tspan><tspan dy="2.52" font-size="5.58">2</tspan></text>
<text x="397.55" y="552.00" font-size="9.0" text-anchor="end" stroke="#000" stroke-width="0.13" transform="rotate(-45 397.55 552.00)"><tspan>NiCl</tspan><tspan dy="2.52" font-size="5.58">2</tspan></text>
<text x="425.75" y="552.00" font-size="9.0" text-anchor="end" stroke="#000" stroke-width="0.13" transform="rotate(-45 425.75 552.00)"><tspan>CuCl</tspan><tspan dy="2.52" font-size="5.58">2</tspan></text>
<text x="237.00" y="477.20" font-size="11.8" text-anchor="middle" stroke="#000" stroke-width="0.17" transform="rotate(-90 237.00 477.20)"><tspan>Thermopower (mV K</tspan><tspan dy="-4.72" font-size="7.32">-1</tspan><tspan dy="4.72">)</tspan></text>
<rect x="298.80" y="414.30" width="78.50" height="64.60" fill="#fff"/>
<path d="M303.6,447.1 L305.9,446.9 L308.2,446.8 L310.5,446.6 L312.7,446.4 L315.0,446.2 L317.3,446.1 L319.6,445.9 L321.9,445.7 L324.2,445.5 L326.5,445.4 L328.8,445.2 L331.0,445.0 L333.3,444.8 L335.6,444.7 L337.9,444.5 L340.2,444.3 L342.5,444.2 L344.8,444.0 L347.0,443.8 L349.3,443.6 L351.6,443.5 L353.9,443.3 L356.2,443.1 L358.5,442.9 L360.8,442.8 L363.1,442.6 L365.3,442.4 L367.6,442.2 L369.9,442.1 L372.2,441.9 L372.2,447.0 L369.9,447.2 L367.6,447.4 L365.3,447.6 L363.1,447.7 L360.8,447.9 L358.5,448.1 L356.2,448.2 L353.9,448.4 L351.6,448.6 L349.3,448.8 L347.0,448.9 L344.8,449.1 L342.5,449.3 L340.2,449.5 L337.9,449.6 L335.6,449.8 L333.3,450.0 L331.0,450.2 L328.8,450.3 L326.5,450.5 L324.2,450.7 L321.9,450.8 L319.6,451.0 L317.3,451.2 L315.0,451.4 L312.7,451.5 L310.5,451.7 L308.2,451.9 L305.9,452.1 L303.6,452.2 Z" fill="none" stroke="#5b9bd5" stroke-width="1.6"/>
<path d="M303.6,447.7 L305.9,447.6 L308.2,447.5 L310.5,447.3 L312.7,447.2 L315.0,447.0 L317.3,446.9 L319.6,446.8 L321.9,446.6 L324.2,446.5 L326.5,446.3 L328.8,446.2 L331.0,446.0 L333.3,445.9 L335.6,445.8 L337.9,445.6 L340.2,445.5 L342.5,445.3 L344.8,445.2 L347.0,445.1 L349.3,444.9 L351.6,444.8 L353.9,444.6 L356.2,444.5 L358.5,444.4 L360.8,444.2 L363.1,444.1 L365.3,443.9 L367.6,443.8 L369.9,443.6 L372.2,443.5 L372.2,446.4 L369.9,446.5 L367.6,446.7 L365.3,446.8 L363.1,447.0 L360.8,447.1 L358.5,447.2 L356.2,447.4 L353.9,447.5 L351.6,447.7 L349.3,447.8 L347.0,447.9 L344.8,448.1 L342.5,448.2 L340.2,448.4 L337.9,448.5 L335.6,448.7 L333.3,448.8 L331.0,448.9 L328.8,449.1 L326.5,449.2 L324.2,449.4 L321.9,449.5 L319.6,449.6 L317.3,449.8 L315.0,449.9 L312.7,450.1 L310.5,450.2 L308.2,450.3 L305.9,450.5 L303.6,450.6 Z" fill="none" stroke="#a0a0a0" stroke-width="0.8"/>
<path d="M303.6,446.6 L305.9,446.5 L308.2,446.3 L310.5,446.1 L312.7,446.0 L315.0,445.8 L317.3,445.7 L319.6,445.5 L321.9,445.3 L324.2,445.2 L326.5,445.0 L328.8,444.9 L331.0,444.7 L333.3,444.5 L335.6,444.4 L337.9,444.2 L340.2,444.1 L342.5,443.9 L344.8,443.7 L347.0,443.6 L349.3,443.4 L351.6,443.2 L353.9,443.1 L356.2,442.9 L358.5,442.8 L360.8,442.6 L363.1,442.4 L365.3,442.3 L367.6,442.1 L369.9,442.0 L372.2,441.8 L372.2,445.5 L369.9,445.7 L367.6,445.8 L365.3,446.0 L363.1,446.1 L360.8,446.3 L358.5,446.5 L356.2,446.6 L353.9,446.8 L351.6,446.9 L349.3,447.1 L347.0,447.3 L344.8,447.4 L342.5,447.6 L340.2,447.7 L337.9,447.9 L335.6,448.1 L333.3,448.2 L331.0,448.4 L328.8,448.5 L326.5,448.7 L324.2,448.9 L321.9,449.0 L319.6,449.2 L317.3,449.3 L315.0,449.5 L312.7,449.7 L310.5,449.8 L308.2,450.0 L305.9,450.1 L303.6,450.3 Z" fill="none" stroke="#e0c070" stroke-width="0.8"/>
<path d="M303.6,447.4 L305.9,447.3 L308.2,447.1 L310.5,447.0 L312.7,446.9 L315.0,446.7 L317.3,446.6 L319.6,446.4 L321.9,446.3 L324.2,446.1 L326.5,446.0 L328.8,445.9 L331.0,445.7 L333.3,445.6 L335.6,445.4 L337.9,445.3 L340.2,445.2 L342.5,445.0 L344.8,444.9 L347.0,444.7 L349.3,444.6 L351.6,444.5 L353.9,444.3 L356.2,444.2 L358.5,444.0 L360.8,443.9 L363.1,443.7 L365.3,443.6 L367.6,443.5 L369.9,443.3 L372.2,443.2 L372.2,445.8 L369.9,445.9 L367.6,446.0 L365.3,446.2 L363.1,446.3 L360.8,446.5 L358.5,446.6 L356.2,446.7 L353.9,446.9 L351.6,447.0 L349.3,447.2 L347.0,447.3 L344.8,447.4 L342.5,447.6 L340.2,447.7 L337.9,447.9 L335.6,448.0 L333.3,448.2 L331.0,448.3 L328.8,448.4 L326.5,448.6 L324.2,448.7 L321.9,448.9 L319.6,449.0 L317.3,449.1 L315.0,449.3 L312.7,449.4 L310.5,449.6 L308.2,449.7 L305.9,449.8 L303.6,450.0 Z" fill="none" stroke="#7fb5ad" stroke-width="0.8"/>
<path d="M303.6,448.7 L305.9,448.4 L308.2,448.2 L310.5,447.9 L312.7,447.7 L315.0,447.4 L317.3,447.2 L319.6,446.9 L321.9,446.7 L324.2,446.4 L326.5,446.1 L328.8,445.9 L331.0,445.6 L333.3,445.4 L335.6,445.1 L337.9,444.9 L340.2,444.6 L342.5,444.3 L344.8,444.1 L347.0,443.8 L349.3,443.6 L351.6,443.3 L353.9,443.1 L356.2,442.8 L358.5,442.5 L360.8,442.3 L363.1,442.0 L365.3,441.8 L367.6,441.5 L369.9,441.3 L372.2,441.0 L372.2,444.2 L369.9,444.5 L367.6,444.7 L365.3,445.0 L363.1,445.2 L360.8,445.5 L358.5,445.8 L356.2,446.0 L353.9,446.3 L351.6,446.5 L349.3,446.8 L347.0,447.0 L344.8,447.3 L342.5,447.5 L340.2,447.8 L337.9,448.1 L335.6,448.3 L333.3,448.6 L331.0,448.8 L328.8,449.1 L326.5,449.3 L324.2,449.6 L321.9,449.9 L319.6,450.1 L317.3,450.4 L315.0,450.6 L312.7,450.9 L310.5,451.1 L308.2,451.4 L305.9,451.7 L303.6,451.9 Z" fill="none" stroke="#8a5ad0" stroke-width="0.8"/>
<path d="M303.6,463.2 L303.7,461.6 L303.9,459.5 L304.2,457.0 L304.5,454.6 L304.7,452.7 L305.0,451.4 L305.3,450.3 L305.6,449.4 L306.0,448.7 L306.5,447.9 L307.1,447.1 L307.9,446.4 L308.7,445.7 L309.6,445.2 L310.5,444.7 L311.3,444.3 L312.1,444.1 L312.9,443.9 L313.9,443.7 L315.0,443.6 L316.5,443.4 L318.2,443.3 L320.1,443.3 L321.9,443.2 L323.6,443.1 L325.2,443.0 L326.7,443.0 L328.2,442.9 L329.7,442.7 L331.0,442.3 L332.3,441.6 L333.5,440.7 L334.7,439.6 L335.8,438.5 L336.8,437.5 L337.7,436.3 L338.6,435.1 L339.4,433.8 L340.1,432.7 L340.8,431.9 L341.3,431.3 L341.7,430.9 L342.1,430.7 L342.5,430.6 L343.0,430.6 L343.6,430.6 L344.2,430.8 L344.9,431.0 L345.6,431.3 L346.5,431.5 L347.4,431.8 L348.5,432.2 L349.6,432.6 L350.8,432.9 L352.2,433.1 L353.8,433.3 L355.6,433.3 L357.4,433.3 L359.2,433.2 L360.8,433.0 L362.1,432.6 L363.3,432.2 L364.5,431.6 L365.5,431.0 L366.5,430.2 L367.4,429.4 L368.3,428.4 L369.1,427.4 L369.9,426.4 L370.5,425.4 L371.0,424.6 L371.4,423.7 L371.7,422.9 L372.0,422.2 L372.2,421.7 L372.2,421.7 L372.1,424.3 L372.1,428.0 L372.0,432.1 L371.9,436.0 L371.6,439.1 L371.3,441.1 L371.0,442.6 L370.6,443.7 L370.0,444.6 L369.3,445.5 L368.5,446.4 L367.4,447.2 L366.3,447.9 L365.0,448.5 L363.6,449.0 L362.1,449.5 L360.3,449.8 L358.5,450.1 L356.7,450.4 L355.1,450.6 L353.6,450.9 L352.2,451.1 L350.9,451.4 L349.6,451.6 L348.2,451.9 L346.7,452.2 L345.2,452.5 L343.6,452.8 L342.1,453.2 L340.8,453.8 L339.5,454.7 L338.2,455.8 L337.0,457.0 L336.0,458.2 L335.0,459.1 L334.3,459.9 L333.7,460.6 L333.2,461.3 L332.7,461.7 L332.2,462.0 L331.6,462.1 L330.9,462.0 L330.3,461.8 L329.6,461.5 L328.8,461.2 L327.9,460.9 L327.0,460.4 L326.0,459.9 L324.9,459.5 L323.6,459.1 L322.1,458.9 L320.3,458.7 L318.4,458.6 L316.6,458.6 L315.0,458.7 L313.7,458.7 L312.5,458.9 L311.3,459.1 L310.3,459.4 L309.3,459.9 L308.4,460.7 L307.5,461.6 L306.7,462.6 L305.9,463.7 L305.3,464.8 L304.8,466.1 L304.4,467.8 L304.1,469.3 L303.8,470.5 L303.6,470.9 L303.5,470.1 L303.5,468.4 L303.5,466.3 L303.6,464.4 L303.6,463.2" fill="none" stroke="#e2474d" stroke-width="0.8"/>
<rect x="298.80" y="414.30" width="78.50" height="64.60" fill="none" stroke="#2a2a2a" stroke-width="1.0"/>
<line x1="298.80" y1="415.00" x2="300.30" y2="415.00" stroke="#111" stroke-width="0.7"/>
<text x="297.20" y="416.60" font-size="4.6" text-anchor="end"><tspan>0.02</tspan></text>
<line x1="298.80" y1="431.05" x2="300.30" y2="431.05" stroke="#111" stroke-width="0.7"/>
<text x="297.20" y="432.65" font-size="4.6" text-anchor="end"><tspan>0.01</tspan></text>
<line x1="298.80" y1="447.10" x2="300.30" y2="447.10" stroke="#111" stroke-width="0.7"/>
<text x="297.20" y="448.70" font-size="4.6" text-anchor="end"><tspan>0.00</tspan></text>
<line x1="298.80" y1="463.15" x2="300.30" y2="463.15" stroke="#111" stroke-width="0.7"/>
<text x="297.20" y="464.75" font-size="4.6" text-anchor="end"><tspan>-0.01</tspan></text>
<line x1="298.80" y1="479.20" x2="300.30" y2="479.20" stroke="#111" stroke-width="0.7"/>
<text x="297.20" y="480.80" font-size="4.6" text-anchor="end"><tspan>-0.02</tspan></text>
<line x1="303.60" y1="478.90" x2="303.60" y2="477.40" stroke="#111" stroke-width="0.7"/>
<text x="303.60" y="484.20" font-size="4.6" text-anchor="middle"><tspan>-0.6</tspan></text>
<line x1="315.03" y1="478.90" x2="315.03" y2="477.40" stroke="#111" stroke-width="0.7"/>
<text x="315.03" y="484.20" font-size="4.6" text-anchor="middle"><tspan>-0.4</tspan></text>
<line x1="326.47" y1="478.90" x2="326.47" y2="477.40" stroke="#111" stroke-width="0.7"/>
<text x="326.47" y="484.20" font-size="4.6" text-anchor="middle"><tspan>-0.2</tspan></text>
<line x1="337.90" y1="478.90" x2="337.90" y2="477.40" stroke="#111" stroke-width="0.7"/>
<text x="337.90" y="484.20" font-size="4.6" text-anchor="middle"><tspan>0.0</tspan></text>
<line x1="349.33" y1="478.90" x2="349.33" y2="477.40" stroke="#111" stroke-width="0.7"/>
<text x="349.33" y="484.20" font-size="4.6" text-anchor="middle"><tspan>0.2</tspan></text>
<line x1="360.77" y1="478.90" x2="360.77" y2="477.40" stroke="#111" stroke-width="0.7"/>
<text x="360.77" y="484.20" font-size="4.6" text-anchor="middle"><tspan>0.4</tspan></text>
<line x1="372.20" y1="478.90" x2="372.20" y2="477.40" stroke="#111" stroke-width="0.7"/>
<text x="372.20" y="484.20" font-size="4.6" text-anchor="middle"><tspan>0.6</tspan></text>
<text x="337.00" y="489.50" font-size="5.6" text-anchor="middle"><tspan>Potential vs. carbon paper (V)</tspan></text>
<text x="285.00" y="443.50" font-size="5.6" text-anchor="middle" transform="rotate(-90 285.00 443.50)"><tspan>Current density (A m</tspan><tspan dy="-2.24" font-size="3.47">-2</tspan><tspan dy="2.24">)</tspan></text>
<line x1="299.30" y1="417.50" x2="308.80" y2="417.50" stroke="#a8a8a8" stroke-width="1.0"/>
<text x="309.60" y="419.10" font-size="4.6"><tspan>CaCl</tspan><tspan dy="1.29" font-size="2.85">2</tspan></text>
<line x1="320.80" y1="417.50" x2="330.30" y2="417.50" stroke="#e0c070" stroke-width="1.0"/>
<text x="331.10" y="419.10" font-size="4.6"><tspan>ZnCl</tspan><tspan dy="1.29" font-size="2.85">2</tspan></text>
<line x1="299.30" y1="423.50" x2="308.80" y2="423.50" stroke="#7fb5ad" stroke-width="1.0"/>
<text x="309.60" y="425.10" font-size="4.6"><tspan>MgCl</tspan><tspan dy="1.29" font-size="2.85">2</tspan></text>
<line x1="320.80" y1="423.50" x2="330.30" y2="423.50" stroke="#8a5ad0" stroke-width="1.0"/>
<text x="331.10" y="425.10" font-size="4.6"><tspan>CoCl</tspan><tspan dy="1.29" font-size="2.85">2</tspan></text>
<line x1="299.30" y1="429.60" x2="308.80" y2="429.60" stroke="#5b9bd5" stroke-width="1.0"/>
<text x="309.60" y="431.20" font-size="4.6"><tspan>NiCl</tspan><tspan dy="1.29" font-size="2.85">2</tspan></text>
<line x1="320.80" y1="429.60" x2="330.30" y2="429.60" stroke="#e2474d" stroke-width="1.0"/>
<text x="331.10" y="431.20" font-size="4.6"><tspan>CuCl</tspan><tspan dy="1.29" font-size="2.85">2</tspan></text>
<rect x="476.60" y="408.40" width="165.40" height="134.40" fill="none" stroke="#2a2a2a" stroke-width="1.1"/>
<line x1="476.60" y1="536.40" x2="479.00" y2="536.40" stroke="#111" stroke-width="0.9"/>
<text x="474.20" y="539.40" font-size="8.6" text-anchor="end" stroke="#000" stroke-width="0.12"><tspan>0</tspan></text>
<line x1="476.60" y1="520.40" x2="478.00" y2="520.40" stroke="#111" stroke-width="0.8"/>
<line x1="476.60" y1="504.40" x2="479.00" y2="504.40" stroke="#111" stroke-width="0.9"/>
<text x="474.20" y="507.40" font-size="8.6" text-anchor="end" stroke="#000" stroke-width="0.12"><tspan>-50</tspan></text>
<line x1="476.60" y1="488.40" x2="478.00" y2="488.40" stroke="#111" stroke-width="0.8"/>
<line x1="476.60" y1="472.40" x2="479.00" y2="472.40" stroke="#111" stroke-width="0.9"/>
<text x="474.20" y="475.40" font-size="8.6" text-anchor="end" stroke="#000" stroke-width="0.12"><tspan>-100</tspan></text>
<line x1="476.60" y1="456.40" x2="478.00" y2="456.40" stroke="#111" stroke-width="0.8"/>
<line x1="476.60" y1="440.40" x2="479.00" y2="440.40" stroke="#111" stroke-width="0.9"/>
<text x="474.20" y="443.40" font-size="8.6" text-anchor="end" stroke="#000" stroke-width="0.12"><tspan>-150</tspan></text>
<line x1="476.60" y1="424.40" x2="478.00" y2="424.40" stroke="#111" stroke-width="0.8"/>
<line x1="476.60" y1="408.40" x2="479.00" y2="408.40" stroke="#111" stroke-width="0.9"/>
<text x="474.20" y="411.40" font-size="8.6" text-anchor="end" stroke="#000" stroke-width="0.12"><tspan>-200</tspan></text>
<line x1="493.14" y1="542.80" x2="493.14" y2="540.40" stroke="#111" stroke-width="0.9"/>
<text x="493.14" y="553.60" font-size="8.6" text-anchor="middle" stroke="#000" stroke-width="0.12"><tspan>1</tspan></text>
<line x1="509.68" y1="542.80" x2="509.68" y2="541.40" stroke="#111" stroke-width="0.8"/>
<line x1="526.22" y1="542.80" x2="526.22" y2="540.40" stroke="#111" stroke-width="0.9"/>
<text x="526.22" y="553.60" font-size="8.6" text-anchor="middle" stroke="#000" stroke-width="0.12"><tspan>2</tspan></text>
<line x1="542.76" y1="542.80" x2="542.76" y2="541.40" stroke="#111" stroke-width="0.8"/>
<line x1="559.30" y1="542.80" x2="559.30" y2="540.40" stroke="#111" stroke-width="0.9"/>
<text x="559.30" y="553.60" font-size="8.6" text-anchor="middle" stroke="#000" stroke-width="0.12"><tspan>3</tspan></text>
<line x1="575.84" y1="542.80" x2="575.84" y2="541.40" stroke="#111" stroke-width="0.8"/>
<line x1="592.38" y1="542.80" x2="592.38" y2="540.40" stroke="#111" stroke-width="0.9"/>
<text x="592.38" y="553.60" font-size="8.6" text-anchor="middle" stroke="#000" stroke-width="0.12"><tspan>4</tspan></text>
<line x1="608.92" y1="542.80" x2="608.92" y2="541.40" stroke="#111" stroke-width="0.8"/>
<line x1="625.46" y1="542.80" x2="625.46" y2="540.40" stroke="#111" stroke-width="0.9"/>
<text x="625.46" y="553.60" font-size="8.6" text-anchor="middle" stroke="#000" stroke-width="0.12"><tspan>5</tspan></text>
<text x="559.80" y="566.00" font-size="11.5" text-anchor="middle" stroke="#000" stroke-width="0.16"><tspan>Temperature difference (K)</tspan></text>
<text x="452.20" y="474.00" font-size="11.6" text-anchor="middle" stroke="#000" stroke-width="0.16" transform="rotate(-90 452.20 474.00)"><tspan>Thermal voltage (mV)</tspan></text>
<text x="485.70" y="425.50" font-size="7.6" fill="#e03a3a"><tspan>PVA(15 wt%)- 0.03 M CuCl</tspan><tspan dy="2.13" font-size="4.71">2</tspan></text>
<path d="M493.1,530.0 L495.7,532.6 L493.1,535.2 L490.5,532.6 Z" fill="#fff" stroke="#8a8a8a" stroke-width="0.9"/>
<path d="M490.5,532.6 L493.1,530.0 L495.7,532.6 Z" fill="#8a8a8a"/>
<path d="M526.2,530.0 L528.8,532.6 L526.2,535.2 L523.6,532.6 Z" fill="#fff" stroke="#8a8a8a" stroke-width="0.9"/>
<path d="M523.6,532.6 L526.2,530.0 L528.8,532.6 Z" fill="#8a8a8a"/>
<path d="M542.8,526.1 L545.4,528.7 L542.8,531.3 L540.2,528.7 Z" fill="#fff" stroke="#8a8a8a" stroke-width="0.9"/>
<path d="M540.2,528.7 L542.8,526.1 L545.4,528.7 Z" fill="#8a8a8a"/>
<path d="M592.4,526.1 L595.0,528.7 L592.4,531.3 L589.8,528.7 Z" fill="#fff" stroke="#8a8a8a" stroke-width="0.9"/>
<path d="M589.8,528.7 L592.4,526.1 L595.0,528.7 Z" fill="#8a8a8a"/>
<path d="M618.8,517.2 L621.4,519.8 L618.8,522.4 L616.2,519.8 Z" fill="#fff" stroke="#8a8a8a" stroke-width="0.9"/>
<path d="M616.2,519.8 L618.8,517.2 L621.4,519.8 Z" fill="#8a8a8a"/>
<path d="M585.8,521.6 L588.4,524.2 L585.8,526.8 L583.2,524.2 Z" fill="#fff" stroke="#6a6a6a" stroke-width="0.9"/>
<path d="M583.2,524.2 L585.8,521.6 L588.4,524.2 Z" fill="#6a6a6a"/>
<path d="M526.2,521.6 L528.8,524.2 L526.2,526.8 L523.6,524.2 Z" fill="#fff" stroke="#a07c20" stroke-width="0.9"/>
<path d="M523.6,524.2 L526.2,521.6 L528.8,524.2 Z" fill="#a07c20"/>
<path d="M625.5,508.8 L628.1,511.4 L625.5,514.0 L622.9,511.4 Z" fill="#fff" stroke="#a07c20" stroke-width="0.9"/>
<path d="M622.9,511.4 L625.5,508.8 L628.1,511.4 Z" fill="#a07c20"/>
<path d="M493.1,526.6 L495.8,531.2 L490.5,531.2 Z" fill="#5a7ee6" stroke="#5a7ee6" stroke-width="0.8"/>
<path d="M536.1,520.2 L538.8,524.8 L533.5,524.8 Z" fill="#5a7ee6" stroke="#5a7ee6" stroke-width="0.8"/>
<path d="M575.8,508.6 L578.5,513.3 L573.2,513.3 Z" fill="#5a7ee6" stroke="#5a7ee6" stroke-width="0.8"/>
<path d="M496.4,523.4 L499.1,528.0 L493.8,528.0 Z" fill="#fff" stroke="#e070e8" stroke-width="0.8"/>
<path d="M496.4,523.4 L493.8,528.0 L496.4,528.0 Z" fill="#e070e8" opacity="0.85"/>
<path d="M493.1,518.9 L495.8,523.5 L490.5,523.5 Z" fill="#fff" stroke="#e8a060" stroke-width="0.8"/>
<path d="M493.1,518.9 L490.5,523.5 L493.1,523.5 Z" fill="#e8a060" opacity="0.85"/>
<path d="M526.2,509.9 L528.9,514.5 L523.6,514.5 Z" fill="#fff" stroke="#e8a060" stroke-width="0.8"/>
<path d="M526.2,509.9 L523.6,514.5 L526.2,514.5 Z" fill="#e8a060" opacity="0.85"/>
<path d="M559.3,499.0 L562.0,503.7 L556.6,503.7 Z" fill="#fff" stroke="#e8a060" stroke-width="0.8"/>
<path d="M559.3,499.0 L556.6,503.7 L559.3,503.7 Z" fill="#e8a060" opacity="0.85"/>
<path d="M542.8,501.6 L545.4,506.2 L540.1,506.2 Z" fill="#fff" stroke="#e86060" stroke-width="0.8"/>
<path d="M542.8,501.6 L540.1,506.2 L542.8,506.2 Z" fill="#e86060" opacity="0.85"/>
<path d="M625.5,462.6 L628.1,467.2 L622.8,467.2 Z" fill="#fff" stroke="#e86060" stroke-width="0.8"/>
<path d="M625.5,462.6 L622.8,467.2 L625.5,467.2 Z" fill="#e86060" opacity="0.85"/>
<path d="M625.5,438.9 L628.1,443.5 L622.8,443.5 Z" fill="#fff" stroke="#70c8f0" stroke-width="0.8"/>
<path d="M625.5,438.9 L622.8,443.5 L625.5,443.5 Z" fill="#70c8f0" opacity="0.85"/>
<circle cx="493.1" cy="512.7" r="2.5" fill="#fff" stroke="#9a3a3a" stroke-width="0.8"/>
<path d="M493.1,510.2 A2.5,2.5 0 0 0 493.1,515.2 Z" fill="#9a3a3a"/>
<circle cx="526.2" cy="493.5" r="2.5" fill="#fff" stroke="#9a3a3a" stroke-width="0.8"/>
<path d="M526.2,491.0 A2.5,2.5 0 0 0 526.2,496.0 Z" fill="#9a3a3a"/>
<circle cx="559.3" cy="476.9" r="2.5" fill="#fff" stroke="#9a3a3a" stroke-width="0.8"/>
<path d="M559.3,474.4 A2.5,2.5 0 0 0 559.3,479.4 Z" fill="#9a3a3a"/>
<circle cx="592.4" cy="457.7" r="2.5" fill="#fff" stroke="#9a3a3a" stroke-width="0.8"/>
<path d="M592.4,455.2 A2.5,2.5 0 0 0 592.4,460.2 Z" fill="#9a3a3a"/>
<circle cx="625.5" cy="453.2" r="2.5" fill="#fff" stroke="#9a3a3a" stroke-width="0.8"/>
<path d="M625.5,450.7 A2.5,2.5 0 0 0 625.5,455.7 Z" fill="#9a3a3a"/>
<path d="M509.7,502.9 L512.3,504.8 L511.3,507.9 L508.0,507.9 L507.0,504.8 Z" fill="#b070e6"/>
<path d="M565.9,478.6 L568.6,480.5 L567.6,483.6 L564.3,483.6 L563.3,480.5 Z" fill="#b070e6"/>
<path d="M612.2,458.1 L614.9,460.0 L613.9,463.1 L610.6,463.1 L609.6,460.0 Z" fill="#b070e6"/>
<circle cx="493.1" cy="518.5" r="2.5" fill="#fff" stroke="#40b040" stroke-width="0.8"/>
<path d="M490.6,518.5 A2.5,2.5 0 0 1 495.6,518.5 Z" fill="#40b040"/>
<circle cx="526.2" cy="499.9" r="2.5" fill="#fff" stroke="#40b040" stroke-width="0.8"/>
<path d="M523.7,499.9 A2.5,2.5 0 0 1 528.7,499.9 Z" fill="#40b040"/>
<circle cx="559.3" cy="481.4" r="2.5" fill="#fff" stroke="#40b040" stroke-width="0.8"/>
<path d="M556.8,481.4 A2.5,2.5 0 0 1 561.8,481.4 Z" fill="#40b040"/>
<circle cx="592.4" cy="462.8" r="2.5" fill="#fff" stroke="#40b040" stroke-width="0.8"/>
<path d="M589.9,462.8 A2.5,2.5 0 0 1 594.9,462.8 Z" fill="#40b040"/>
<circle cx="625.5" cy="445.5" r="2.5" fill="#fff" stroke="#40b040" stroke-width="0.8"/>
<path d="M623.0,445.5 A2.5,2.5 0 0 1 628.0,445.5 Z" fill="#40b040"/>
<path d="M493.1,486.1 L494.0,488.5 L496.6,488.6 L494.6,490.1 L495.3,492.6 L493.1,491.2 L491.0,492.6 L491.7,490.1 L489.7,488.6 L492.3,488.5 Z" fill="none" stroke="#e03a3a" stroke-width="1.0"/>
<path d="M493.1,486.1 L494.0,488.5 L496.6,488.6 L494.6,490.1 L495.3,492.6 L493.1,491.2 L491.0,492.6 L491.7,490.1 L489.7,488.6 L492.3,488.5 Z" fill="#e03a3a" opacity="0.55"/>
<path d="M526.2,447.7 L527.1,450.1 L529.6,450.2 L527.7,451.7 L528.3,454.2 L526.2,452.8 L524.1,454.2 L524.8,451.7 L522.8,450.2 L525.3,450.1 Z" fill="none" stroke="#e03a3a" stroke-width="1.0"/>
<path d="M526.2,447.7 L527.1,450.1 L529.6,450.2 L527.7,451.7 L528.3,454.2 L526.2,452.8 L524.1,454.2 L524.8,451.7 L522.8,450.2 L525.3,450.1 Z" fill="#e03a3a" opacity="0.55"/>
<path d="M559.3,432.3 L560.2,434.7 L562.7,434.8 L560.7,436.4 L561.4,438.8 L559.3,437.4 L557.2,438.8 L557.9,436.4 L555.9,434.8 L558.4,434.7 Z" fill="none" stroke="#e03a3a" stroke-width="1.0"/>
<path d="M559.3,432.3 L560.2,434.7 L562.7,434.8 L560.7,436.4 L561.4,438.8 L559.3,437.4 L557.2,438.8 L557.9,436.4 L555.9,434.8 L558.4,434.7 Z" fill="#e03a3a" opacity="0.55"/>
<path d="M592.4,422.7 L593.3,425.1 L595.8,425.2 L593.8,426.8 L594.5,429.2 L592.4,427.8 L590.3,429.2 L590.9,426.8 L589.0,425.2 L591.5,425.1 Z" fill="none" stroke="#e03a3a" stroke-width="1.0"/>
<path d="M592.4,422.7 L593.3,425.1 L595.8,425.2 L593.8,426.8 L594.5,429.2 L592.4,427.8 L590.3,429.2 L590.9,426.8 L589.0,425.2 L591.5,425.1 Z" fill="#e03a3a" opacity="0.55"/>
<path d="M625.5,417.0 L626.3,419.3 L628.9,419.4 L626.9,421.0 L627.6,423.5 L625.5,422.1 L623.3,423.5 L624.0,421.0 L622.0,419.4 L624.6,419.3 Z" fill="none" stroke="#e03a3a" stroke-width="1.0"/>
<path d="M625.5,417.0 L626.3,419.3 L628.9,419.4 L626.9,421.0 L627.6,423.5 L625.5,422.1 L623.3,423.5 L624.0,421.0 L622.0,419.4 L624.6,419.3 Z" fill="#e03a3a" opacity="0.55"/>
<path d="M649.2,408.0 L651.6,410.4 L649.2,412.8 L646.8,410.4 Z" fill="#fff" stroke="#8a8a8a" stroke-width="0.9"/>
<path d="M646.8,410.4 L649.2,408.0 L651.6,410.4 Z" fill="#8a8a8a"/>
<text x="657.60" y="412.80" font-size="6.9" fill="#111"><tspan>Chen</tspan></text>
<path d="M649.2,415.8 L651.6,418.2 L649.2,420.6 L646.8,418.2 Z" fill="#fff" stroke="#6a6a6a" stroke-width="0.9"/>
<path d="M646.8,418.2 L649.2,415.8 L651.6,418.2 Z" fill="#6a6a6a"/>
<text x="657.60" y="420.64" font-size="6.9" fill="#111"><tspan>Chi</tspan></text>
<path d="M649.2,423.7 L651.6,426.1 L649.2,428.5 L646.8,426.1 Z" fill="#fff" stroke="#a07c20" stroke-width="0.9"/>
<path d="M646.8,426.1 L649.2,423.7 L651.6,426.1 Z" fill="#a07c20"/>
<text x="657.60" y="428.48" font-size="6.9" fill="#111"><tspan>Shen</tspan></text>
<path d="M649.2,431.5 L651.6,433.9 L649.2,436.3 L646.8,433.9 Z" fill="#fff" stroke="#b8b840" stroke-width="0.9"/>
<path d="M646.8,433.9 L649.2,431.5 L651.6,433.9 Z" fill="#b8b840"/>
<text x="657.60" y="436.32" font-size="6.9" fill="#111"><tspan>Hu</tspan></text>
<path d="M649.2,439.2 L651.7,443.4 L646.7,443.4 Z" fill="#5a7ee6" stroke="#5a7ee6" stroke-width="0.8"/>
<text x="657.60" y="444.16" font-size="6.9" fill="#111"><tspan>Chi</tspan></text>
<path d="M649.2,447.0 L651.7,451.3 L646.7,451.3 Z" fill="#fff" stroke="#e070e8" stroke-width="0.8"/>
<path d="M649.2,447.0 L646.7,451.3 L649.2,451.3 Z" fill="#e070e8" opacity="0.85"/>
<text x="657.60" y="452.00" font-size="6.9" fill="#111"><tspan>Zhao</tspan></text>
<path d="M649.2,454.8 L651.7,459.1 L646.7,459.1 Z" fill="#fff" stroke="#e8a060" stroke-width="0.8"/>
<path d="M649.2,454.8 L646.7,459.1 L649.2,459.1 Z" fill="#e8a060" opacity="0.85"/>
<text x="657.60" y="459.84" font-size="6.9" fill="#111"><tspan>Liu</tspan></text>
<path d="M649.2,462.7 L651.7,467.0 L646.7,467.0 Z" fill="#fff" stroke="#e86060" stroke-width="0.8"/>
<path d="M649.2,462.7 L646.7,467.0 L649.2,467.0 Z" fill="#e86060" opacity="0.85"/>
<text x="657.60" y="467.68" font-size="6.9" fill="#111"><tspan>Chen</tspan></text>
<path d="M649.2,470.5 L651.7,474.8 L646.7,474.8 Z" fill="#fff" stroke="#70c8f0" stroke-width="0.8"/>
<path d="M649.2,470.5 L646.7,474.8 L649.2,474.8 Z" fill="#70c8f0" opacity="0.85"/>
<text x="657.60" y="475.52" font-size="6.9" fill="#111"><tspan>Chen</tspan></text>
<circle cx="649.2" cy="481.0" r="2.3" fill="#fff" stroke="#9a3a3a" stroke-width="0.8"/>
<path d="M649.2,478.7 A2.3,2.3 0 0 0 649.2,483.3 Z" fill="#9a3a3a"/>
<text x="657.60" y="483.36" font-size="6.9" fill="#111"><tspan>Chen</tspan></text>
<path d="M649.2,486.2 L651.7,488.0 L650.7,490.9 L647.7,490.9 L646.7,488.0 Z" fill="#b070e6"/>
<text x="657.60" y="491.20" font-size="6.9" fill="#111"><tspan>Wu</tspan></text>
<circle cx="649.2" cy="496.6" r="2.3" fill="#fff" stroke="#40b040" stroke-width="0.8"/>
<path d="M646.9,496.6 A2.3,2.3 0 0 1 651.5,496.6 Z" fill="#40b040"/>
<text x="657.60" y="499.04" font-size="6.9" fill="#111"><tspan>Chen</tspan></text>
<path d="M649.2,501.3 L650.0,503.4 L652.2,503.5 L650.5,504.9 L651.1,507.1 L649.2,505.8 L647.3,507.1 L647.9,504.9 L646.2,503.5 L648.4,503.4 Z" fill="none" stroke="#e03a3a" stroke-width="1.0"/>
<path d="M649.2,501.3 L650.0,503.4 L652.2,503.5 L650.5,504.9 L651.1,507.1 L649.2,505.8 L647.3,507.1 L647.9,504.9 L646.2,503.5 L648.4,503.4 Z" fill="#e03a3a" opacity="0.55"/>
<text x="657.60" y="506.88" font-size="6.9" fill="#d83030"><tspan>This work</tspan></text>
</svg></body></html>
